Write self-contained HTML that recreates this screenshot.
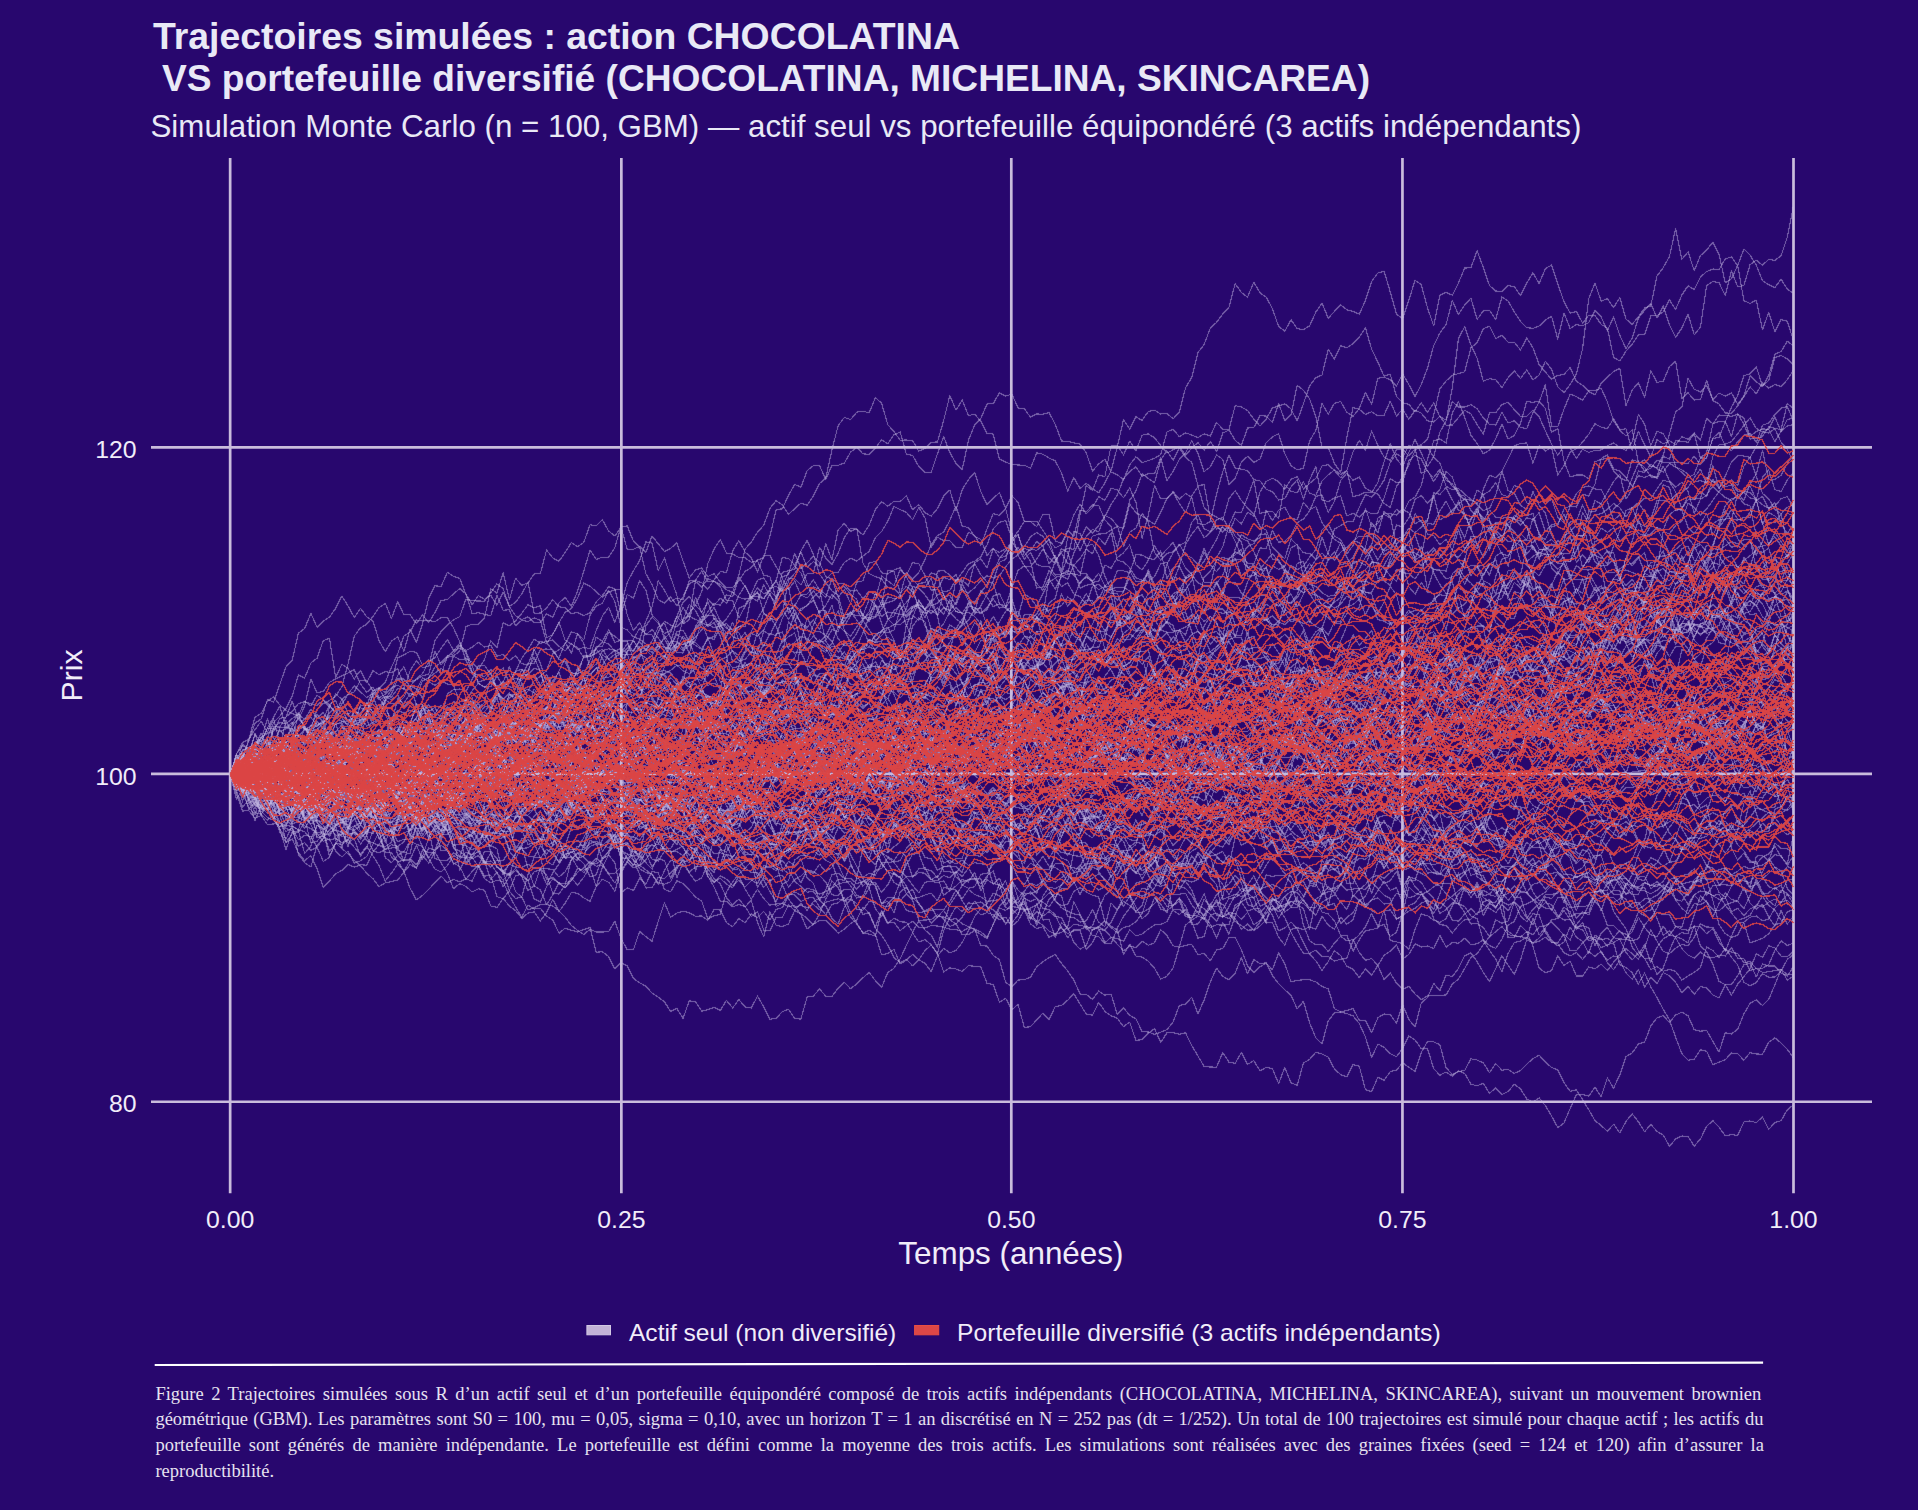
<!DOCTYPE html>
<html lang="fr"><head><meta charset="utf-8"><title>Trajectoires simulées</title>
<style>
html,body{margin:0;padding:0;background:#28076e;}
body{width:1918px;height:1510px;overflow:hidden;position:relative;font-family:"Liberation Sans",sans-serif;}
svg{position:absolute;left:0;top:0;font-family:"Liberation Sans",sans-serif;}
.grid line{stroke:#c9bcdc;stroke-width:2.7;}
.a path,.p path{fill:none;vector-effect:non-scaling-stroke;stroke-linejoin:round;}
.a path{stroke:#c4b8e2;stroke-opacity:0.52;stroke-width:1.15;}
.p path{stroke:#db4545;stroke-opacity:0.95;stroke-width:1.35;}
.cl{position:absolute;left:155.4px;font-family:"Liberation Serif",serif;font-size:18.5px;line-height:25.8px;color:#e6e2f0;white-space:nowrap;}
</style></head><body>
<svg width="1918" height="1510" viewBox="0 0 1918 1510">
<g class="grid"><line x1="230.15" y1="157.9" x2="230.15" y2="1193.3"/><line x1="621.35" y1="157.9" x2="621.35" y2="1193.3"/><line x1="1011.3" y1="157.9" x2="1011.3" y2="1193.3"/><line x1="1402.45" y1="157.9" x2="1402.45" y2="1193.3"/><line x1="1793.5" y1="157.9" x2="1793.5" y2="1193.3"/><line x1="151.0" y1="447.35" x2="1872" y2="447.35"/><line x1="151.0" y1="773.85" x2="1872" y2="773.85"/><line x1="151.0" y1="1101.75" x2="1872" y2="1101.75"/></g>
<defs><filter id="sf" x="0" y="0" width="1918" height="1510" filterUnits="userSpaceOnUse" color-interpolation-filters="sRGB"><feConvolveMatrix order="3" kernelMatrix="0.0072 0.0847 0.0072 0.0847 1 0.0847 0.0072 0.0847 0.0072" edgeMode="none" preserveAlpha="false"/></filter></defs>
<g shape-rendering="crispEdges" filter="url(#sf)">
<g class="a" transform="translate(230.2,774.4) scale(6.20357,0.2)"><path d="M0 0l1 70 1 22 1-85 1 1 1 5 1 25 1-18 1 11 1-107 1-3 1-38 1 6 1 23 1 9 1-2 1-30 1 83 1 43 1 23 1 29 1-16 1 33 1 18 1 99 1-61 1-76 1-26 1-14 1-23 1 41 1-9 1-55 1 25 1-6 1-15 1 59 1 14 1-57 1-2 1 20 1 81 1 61 1-75 1 21 1-20 1 3 1-45 1 0 1 52 1-47 1-16 1 30 1 48 1-24 1 74 1 28 1-31 1 49 1 24 1-46 1 79 1-18 1 62 1 1 1 56 1 54 1-43 1-71 1 12 1 72 1 0 1-1 1 20 1-29 1-69 1 18 1 44 1 77 1 6 1-13 1-26 1-43 1 35 1 50 1-67 1 12 1-9 1 27 1-8 1-23 1-23 1-26 1-75 1-13 1 47 1-60 1 54 1-134 1 55 1 11 1 97 1 17 1-5 1 69 1-15 1 54 1 55 1 18 1 45 1 59 1 24 1 53 1 49 1-32 1 1 1 14 1 21 1-35 1-47 1 5 1 32 1-12 1 11 1 24 1-12 1 44 1-26 1-54 1-9 1-18 1-28 1-31 1 21 1-42 1 1 1-31 1-80 1-65 1-11 1 29 1 52 1-57 1-54 1 60 1 43 1-52 1-27 1-51 1-84 1-51 1 6 1-49 1-78 1 9 1-16 1-1 1-122 1-20 1-1 1 106 1-13 1 19 1 23 1-10 1-51 1 3 1-51 1-1 1 128 1-50 1 39 1-81 1-17 1-3 1 36 1-37 1-27 1-24 1-74 1-25 1 25 1-31 1 51 1 47 1 14 1-78 1-135 1-25 1 50 1-80 1 62 1-24 1-90 1 15 1-104 1 85 1-57 1 67 1-59 1-24 1-29 1-50 1 79 1-10 1-49 1 85 1 20 1-48 1 19 1-40 1 67 1 35 1-60 1 52 1-31 1 149 1-14 1-22 1-33 1 40 1 7 1-14 1 60 1-3 1-38 1-27 1-81 1 94 1-19 1 9 1-41 1 2 1 0 1 111 1-9 1 69 1 2 1 42 1-17 1-10 1-66 1 51 1 22 1-75 1-56 1 60 1-14 1 105 1-38 1 140 1-24 1-14"/><path d="M0 0l1-3 1 57 1 18 1-47 1-8 1 1 1-41 1 86 1-69 1 51 1-4 1-76 1-38 1-23 1-94 1 77 1 8 1 68 1-87 1 51 1-36 1 27 1 44 1 30 1 75 1 10 1 55 1 19 1 82 1-71 1 7 1 10 1-7 1 67 1 40 1 90 1 15 1 27 1 51 1-4 1 64 1 19 1-12 1 7 1 70 1 57 1 51 1-61 1 20 1-3 1 39 1 19 1 66 1-25 1 10 1 9 1-12 1-11 1 124 1-2 1 24 1 61 1-30 1 15 1 63 1 22 1 17 1 35 1 20 1 23 1 48 1-15 1 50 1-88 1 5 1 47 1-8 1-11 1 15 1-50 1 38 1-42 1 37 1 5 1-60 1 54 1 62 1-5 1-32 1-13 1 48 1 1 1-110 1-5 1-35 1 36 1 2 1-42 1-30 1 33 1-25 1-30 1-27 1 41 1 34 1-74 1-22 1-47 1-68 1-62 1 46 1-12 1 26 1 46 1-116 1-65 1-57 1 27 1-44 1 2 1-7 1 22 1 59 1-60 1-33 1-98 1 90 1-34 1-40 1 12 1-23 1-38 1-50 1-1 1 15 1 8 1 8 1-30 1 0 1-7 1 5 1-31 1-102 1 25 1 82 1 19 1 46 1-16 1 33 1 49 1-28 1-77 1 8 1-8 1 6 1-58 1 29 1-7 1 97 1 40 1 52 1-54 1-28 1 49 1-14 1 26 1-47 1 35 1 100 1 47 1 73 1 56 1 50 1 0 1-17 1 34 1-2 1 23 1-9 1-5 1-88 1-29 1-40 1-67 1 65 1-9 1 60 1-21 1-97 1-130 1 31 1 8 1-16 1-24 1-17 1 0 1-1 1-51 1 89 1 11 1-35 1 58 1 22 1 1 1-50 1-109 1-32 1-24 1-37 1-30 1-26 1 57 1 25 1-13 1-75 1 51 1 23 1 32 1 10 1-36 1 2 1 88 1-19 1 11 1 35 1 32 1 10 1-24 1 17 1 2 1-24 1-55 1 49 1 59 1 17 1-42 1-73 1-17 1-95 1-62 1-34 1-9 1 3 1-22 1-38 1-46 1 6 1-11 1-2 1-90 1-86 1-8"/><path d="M0 0l1 38 1-59 1 8 1-148 1-16 1-100 1 97 1 37 1 17 1 105 1 29 1-19 1 43 1-79 1-25 1 49 1-50 1 60 1-7 1 61 1 49 1-46 1-5 1 30 1 91 1-5 1-58 1-56 1 71 1 9 1-34 1-31 1-22 1 37 1 55 1 70 1-36 1-19 1-73 1-53 1 37 1-10 1 32 1 22 1-51 1-80 1 7 1-57 1 28 1 67 1 32 1-19 1-27 1-15 1-9 1 43 1 25 1-39 1 29 1-49 1 6 1 14 1-59 1-32 1-71 1-7 1-15 1-22 1 17 1-44 1 1 1-39 1-16 1-6 1-33 1 58 1 145 1 36 1-6 1-24 1 28 1-80 1 59 1-74 1 45 1 82 1 25 1 69 1-55 1 43 1 9 1-34 1-20 1 0 1 5 1 60 1-98 1-42 1 9 1 110 1 26 1 38 1-3 1 16 1 21 1-43 1-84 1 3 1 67 1-49 1-76 1-64 1 109 1-11 1 2 1-21 1-15 1-26 1 73 1-45 1 11 1 8 1-1 1 75 1-32 1-1 1 33 1 29 1-69 1 6 1 20 1-53 1 46 1-80 1-47 1 25 1-49 1-19 1-49 1-48 1 12 1-54 1-19 1-20 1 33 1-84 1-62 1-22 1-61 1-89 1 89 1 45 1 28 1 36 1 56 1-105 1-35 1 83 1-136 1-35 1-81 1-14 1-98 1-74 1 57 1 27 1 4 1-23 1 32 1 13 1-27 1-2 1 44 1 87 1 65 1 77 1-19 1 65 1 40 1 52 1-11 1 12 1 36 1-88 1-132 1-22 1-71 1 87 1-71 1 43 1-75 1 56 1-17 1 42 1 111 1 50 1-65 1 62 1-87 1 38 1-16 1 25 1 34 1-23 1-201 1-36 1 12 1 103 1 0 1-7 1-73 1 13 1 80 1-21 1 47 1 26 1 4 1 63 1-33 1 22 1 84 1 27 1-9 1 58 1 14 1-40 1-13 1 79 1-20 1-31 1-170 1-3 1 84 1 102 1 17 1-40 1-63 1-44 1-23 1-42 1-61 1-153 1 58 1 43 1-37 1 56 1 104 1-9 1-26 1 10 1 51 1-20"/><path d="M0 0l1-12 1 13 1 0 1-18 1 70 1-10 1-27 1-7 1-42 1 51 1-69 1-7 1-51 1 4 1-59 1 67 1 1 1 5 1 17 1-29 1-40 1-51 1 48 1-14 1-39 1-80 1-41 1 14 1-15 1 10 1 37 1-32 1 22 1 5 1-10 1-22 1 1 1 12 1-27 1 56 1 25 1 24 1-29 1-25 1 22 1-5 1-27 1 34 1-20 1-54 1-1 1-91 1 20 1 17 1 20 1 36 1 11 1-61 1 6 1-4 1-50 1 22 1-71 1 5 1 102 1 26 1 57 1-2 1-97 1-55 1 36 1-55 1-17 1-104 1 77 1 62 1 72 1 13 1-8 1-90 1-36 1-35 1 38 1 17 1-45 1 120 1-46 1-2 1 30 1 102 1-140 1-39 1 43 1 66 1-75 1-40 1-87 1 16 1 15 1 24 1-34 1-29 1 51 1-8 1 115 1 84 1 69 1 17 1 0 1 53 1 62 1-17 1 29 1-16 1 63 1 9 1 26 1-42 1-20 1 16 1-62 1 37 1-30 1 32 1 3 1 14 1 41 1-102 1 96 1-106 1-57 1 75 1-69 1 21 1 20 1-37 1-23 1-56 1 66 1 97 1-1 1-56 1 6 1 16 1-117 1 56 1-41 1-2 1-47 1-9 1-99 1-4 1-29 1 31 1-63 1-81 1 39 1-53 1 25 1 67 1-29 1 10 1-28 1 14 1 68 1 85 1 3 1-43 1-24 1-77 1-96 1-61 1 45 1-11 1-9 1-78 1 79 1 35 1-35 1 31 1-81 1 52 1-34 1-40 1 103 1-67 1-73 1-11 1-11 1-43 1 35 1-39 1 50 1-2 1-46 1-63 1-116 1-28 1 47 1 27 1 41 1-43 1 41 1 86 1 35 1-30 1-87 1 9 1-59 1 44 1-22 1 50 1 47 1 14 1-33 1-17 1-47 1 60 1 88 1 28 1 12 1 3 1-2 1-42 1-14 1-4 1-24 1-6 1 5 1 64 1 17 1 16 1 19 1 40 1 41 1 51 1-27 1-78 1-51 1-117 1-86 1-25 1-10 1-117 1 49 1-96 1-7 1-11 1-36 1 45 1 56 1-72"/><path d="M0 0l1-75 1 13 1-28 1 52 1 29 1-43 1 41 1-29 1 35 1 29 1 36 1-57 1-68 1-4 1 80 1-58 1 39 1-66 1 49 1 48 1-36 1-18 1 27 1 58 1-22 1-70 1 97 1 39 1 100 1 29 1-2 1 100 1-47 1 104 1-5 1 67 1 16 1 64 1-38 1-33 1 56 1-5 1 107 1 11 1-41 1-74 1-9 1 33 1 91 1 16 1-78 1-37 1 20 1 5 1-18 1-59 1 8 1-16 1 98 1-37 1 15 1 45 1-104 1-45 1 32 1-12 1-27 1-48 1-58 1-18 1 10 1-20 1-20 1 30 1-68 1 1 1-4 1-17 1-43 1 29 1 57 1-66 1-59 1 38 1 46 1-11 1 56 1 44 1-17 1 3 1-81 1 20 1 43 1-2 1 38 1-52 1-55 1-36 1 45 1 41 1 21 1 35 1 4 1 85 1 44 1-2 1-5 1-4 1-63 1-33 1 15 1 64 1 7 1 56 1-16 1-7 1 58 1 24 1-9 1-5 1 41 1-57 1-24 1 92 1-43 1 95 1 28 1-7 1 50 1 35 1 21 1 29 1 15 1-35 1 54 1-43 1 1 1-12 1 2 1-2 1 16 1-40 1-63 1-58 1-17 1-7 1 15 1-14 1-27 1-63 1-81 1 29 1 6 1-2 1-114 1 16 1-59 1 2 1 4 1-62 1-104 1-81 1-29 1-66 1-22 1 14 1-75 1-61 1 93 1-86 1 52 1 45 1-84 1-123 1-25 1-119 1 96 1 80 1-89 1-55 1 43 1-24 1-29 1-70 1-34 1 5 1-88 1-12 1 37 1-160 1-17 1 106 1 15 1 45 1 61 1 0 1-88 1-88 1-33 1-129 1-43 1-8 1 45 1-38 1-19 1 26 1 73 1-80 1-101 1 146 1-8 1 25 1-17 1 61 1-16 1-29 1-89 1 22 1-105 1 58 1 50 1-23 1-54 1-39 1-4 1 12 1 14 1 8 1 0 1 5 1 44 1 14 1-69 1-99 1 79 1-27 1-33 1 50 1 46 1 2 1-10 1-17 1 158 1 45 1 57 1 136 1-47 1 38 1-12 1-136 1 1 1-85"/><path d="M0 0l1-40 1 44 1-67 1 39 1-112 1 35 1-11 1-36 1 40 1-58 1 67 1 14 1 43 1-46 1-112 1 65 1-33 1-73 1 32 1-114 1 30 1-67 1 50 1 27 1-89 1 18 1 1 1-34 1-58 1 96 1 1 1 83 1 60 1 7 1 34 1-7 1-13 1 38 1-71 1-67 1-30 1-38 1-46 1 23 1-32 1 42 1 14 1 24 1-100 1 44 1-35 1-10 1 8 1-35 1 35 1 3 1-22 1 31 1 5 1-97 1-27 1-19 1-22 1 76 1-28 1-84 1 21 1 51 1-32 1-25 1-72 1-5 1 37 1-37 1 21 1 21 1-4 1 51 1-65 1-46 1-73 1 91 1-40 1 67 1 124 1-102 1 59 1 18 1 39 1 14 1-37 1-38 1 0 1-83 1 21 1 18 1-32 1 6 1 49 1-7 1 79 1-38 1 80 1 22 1-30 1-3 1 14 1-18 1 22 1 0 1-113 1-38 1-96 1 8 1 50 1 32 1-104 1-51 1 81 1-61 1 30 1-8 1-54 1 51 1 54 1-53 1 16 1-24 1 18 1-50 1 4 1-82 1-25 1-125 1-80 1-129 1 12 1 62 1-10 1 56 1 105 1 66 1 9 1 2 1-105 1 55 1-1 1-38 1 157 1 69 1-21 1-23 1-116 1 72 1-6 1 80 1 84 1 55 1-37 1 10 1-206 1-2 1 6 1 5 1 92 1-114 1-42 1 16 1 22 1-68 1-77 1 22 1-17 1-46 1-36 1-99 1-30 1 60 1 18 1 56 1-50 1-23 1 1 1-12 1 25 1 80 1-21 1-61 1-7 1-28 1-89 1 44 1-12 1-123 1 121 1-18 1-29 1-32 1-26 1 39 1-83 1 23 1 130 1 62 1 43 1-125 1 12 1 9 1 28 1 114 1 22 1-29 1 25 1 24 1-41 1-66 1 132 1-40 1 40 1-72 1 39 1 42 1-92 1-74 1-104 1-13 1-26 1 45 1 37 1-93 1 1 1 6 1-36 1-13 1-22 1-50 1-42 1 72 1-89 1 112 1-43 1 21 1 37 1 5 1 28 1 9 1 26 1 17 1-11 1-37 1-10 1 57"/><path d="M0 0l1-38 1-1 1 53 1-12 1-5 1 44 1-87 1 44 1 21 1-66 1 112 1-12 1 60 1-59 1-66 1 93 1 54 1 30 1 5 1-24 1 53 1 10 1-26 1 3 1-32 1 7 1 37 1 25 1-54 1 24 1-63 1 48 1-7 1 21 1 38 1 31 1 57 1 3 1-15 1 63 1-99 1-26 1-7 1 52 1 85 1 6 1-8 1 36 1 5 1-56 1 42 1-44 1-107 1-27 1 5 1-26 1-14 1-10 1 11 1-11 1 77 1-35 1-52 1 9 1-11 1-2 1 79 1-80 1 23 1-49 1 36 1-42 1-4 1 29 1 23 1 10 1 48 1 31 1 25 1 21 1-24 1 36 1 63 1 17 1-44 1-39 1-10 1-17 1-3 1-4 1 15 1-20 1 67 1-6 1 10 1-44 1 34 1 8 1 0 1-54 1-7 1-54 1 38 1 39 1 15 1-72 1-65 1-24 1-2 1-67 1-5 1-102 1-46 1-54 1-35 1-38 1 20 1 44 1 27 1-7 1 25 1 15 1-13 1 64 1 54 1-14 1-55 1-68 1-26 1-58 1-22 1 101 1-16 1 17 1 149 1 58 1 36 1 92 1 31 1-3 1 50 1-2 1-88 1-55 1-34 1 12 1 54 1-90 1 48 1 72 1 117 1 59 1 34 1-30 1-32 1-19 1-69 1 18 1-51 1-5 1-85 1 67 1-32 1-48 1-56 1 1 1 4 1 37 1 0 1-132 1-4 1-53 1 4 1-22 1 53 1 87 1 6 1 25 1 16 1 2 1-88 1-65 1 7 1-78 1 11 1-55 1-27 1 62 1 0 1 84 1 4 1 65 1 30 1 8 1-73 1-53 1-26 1-8 1 38 1 55 1 26 1 25 1-35 1-16 1-40 1-31 1-36 1-26 1-102 1-24 1 51 1-46 1-6 1-61 1 26 1 51 1-20 1 14 1-3 1 32 1-34 1 36 1-68 1 109 1 32 1 41 1 44 1-33 1 42 1-47 1-3 1 5 1 46 1 95 1 74 1 56 1-43 1-31 1-15 1-1 1 37 1-68 1-55 1 20 1-54 1-81 1 8 1 46 1 51 1-39 1 34 1-5"/><path d="M0 0l1 10 1-15 1-33 1 6 1 19 1 7 1 5 1-67 1-28 1-10 1 13 1 75 1-4 1-1 1 13 1 81 1 22 1 4 1 49 1-33 1-56 1 38 1 4 1-124 1-62 1-34 1-42 1 4 1-75 1 94 1 14 1-31 1 30 1-54 1-123 1 36 1-2 1-47 1-21 1-62 1 19 1 63 1 21 1 40 1 45 1-12 1-31 1-46 1-15 1 23 1-10 1-21 1-5 1-98 1 12 1 21 1-103 1-76 1-56 1-34 1 11 1 36 1-15 1 28 1 92 1 14 1-40 1-22 1-57 1 31 1-55 1-59 1 19 1 77 1-117 1-43 1-52 1-40 1 9 1-52 1 10 1-97 1 46 1 55 1-49 1 30 1-15 1 32 1-46 1 129 1-45 1 31 1-30 1-22 1 61 1-37 1-55 1 31 1 126 1-48 1-74 1 72 1 12 1-91 1-120 1 24 1 24 1-79 1 28 1-64 1 6 1 59 1 73 1-4 1-61 1 13 1-26 1 78 1 14 1-26 1-36 1-24 1 9 1-9 1-45 1-38 1-22 1-32 1 11 1-45 1 22 1 90 1-43 1 79 1-169 1 6 1 60 1-71 1-35 1 12 1-81 1 14 1 37 1 103 1-71 1-20 1-73 1 41 1 154 1 37 1-33 1-8 1-38 1 55 1 12 1 36 1-82 1 82 1-37 1-53 1-107 1-67 1 2 1-77 1-84 1 166 1-7 1-4 1 38 1-171 1 33 1 8 1-54 1 55 1 13 1-74 1-30 1-24 1 22 1-20 1-92 1-58 1 48 1-95 1 72 1 59 1 16 1-52 1-4 1 34 1-36 1 123 1-16 1 57 1-49 1 27 1 46 1 22 1 121 1 68 1 77 1-23 1-64 1 60 1-16 1 33 1-10 1 109 1 16 1 38 1 141 1-26 1-61 1 87 1-14 1 87 1-14 1 15 1 20 1 13 1 8 1 44 1-3 1-54 1-26 1-23 1-32 1-21 1 20 1 89 1-12 1 47 1-98 1 18 1 15 1-20 1 40 1-31 1 73 1-19 1-79 1 104 1-15 1 31 1-20 1 20 1 64 1 43 1-100 1 46 1 27 1-13"/><path d="M0 0l1-12 1 5 1 41 1 45 1 67 1-27 1-38 1 48 1 8 1 62 1-45 1-15 1 0 1-9 1 63 1 46 1 11 1-10 1-6 1-56 1 75 1-81 1-15 1-83 1-10 1 21 1 20 1-36 1-29 1-35 1-39 1 43 1 127 1-13 1-33 1 80 1-28 1-18 1-5 1 21 1 23 1 159 1 0 1-5 1-49 1 108 1-53 1-8 1-45 1 57 1-59 1 37 1 21 1 94 1-8 1 20 1-77 1-75 1-9 1 115 1-49 1-38 1 56 1-16 1 47 1 12 1-30 1 56 1 9 1-48 1-3 1 135 1-75 1-18 1-8 1-12 1 105 1 54 1 71 1 0 1 28 1-11 1 9 1 51 1-25 1 92 1 4 1-67 1 1 1-63 1 27 1-34 1 34 1-44 1-18 1-6 1-80 1 35 1 64 1-7 1 22 1 54 1-8 1 72 1-84 1 63 1-4 1 42 1-25 1-22 1 31 1 3 1-12 1 2 1 6 1 10 1 1 1 11 1-20 1 8 1 14 1 26 1-64 1-59 1 59 1-51 1-27 1 6 1-1 1 76 1-56 1-73 1-28 1 11 1 104 1 4 1 23 1-6 1-56 1 63 1 22 1-118 1 35 1-44 1 21 1 30 1-29 1-100 1-38 1 32 1-95 1 27 1-99 1 13 1-50 1 15 1 24 1 23 1-8 1-15 1 61 1-22 1 49 1 114 1-38 1 26 1-14 1-10 1 13 1 22 1-21 1-11 1-21 1 64 1 39 1 33 1-15 1-117 1-30 1-61 1-57 1-53 1-70 1-92 1 0 1-12 1-6 1 56 1 41 1 43 1 24 1-105 1-56 1-53 1-61 1 8 1 58 1-83 1 103 1 4 1-106 1 49 1 56 1 6 1-13 1-69 1 74 1 78 1 24 1-16 1-64 1-43 1-39 1-14 1-55 1 45 1 80 1 8 1 97 1 23 1-29 1 17 1-11 1 85 1-32 1-30 1 4 1-16 1 53 1-106 1 74 1-54 1-65 1-3 1 13 1-4 1 28 1 41 1 52 1-14 1-78 1-28 1 12 1-53 1 12 1-15 1 9 1-45 1-16 1-23 1 24 1 95"/><path d="M0 0l1-64 1 5 1 24 1 49 1-19 1 72 1 7 1 20 1 23 1 2 1 36 1 51 1 42 1-21 1 14 1-46 1-58 1-94 1 30 1 0 1 28 1-29 1 10 1-23 1 7 1-5 1 3 1 17 1-57 1 35 1 12 1-96 1 113 1 40 1-53 1 6 1 90 1 52 1 53 1 60 1-49 1-88 1 7 1 5 1-65 1-18 1 49 1-24 1-82 1 33 1 21 1-24 1-2 1 0 1-70 1 52 1-91 1-31 1-112 1 14 1 17 1-70 1 4 1-50 1 112 1-29 1 32 1-20 1-84 1-15 1 8 1 31 1 34 1-97 1 18 1-30 1 40 1 38 1 17 1 38 1 60 1 59 1-8 1-8 1 5 1-7 1 53 1-80 1 130 1-49 1 60 1 7 1-77 1 70 1 36 1-53 1-52 1 86 1-17 1-11 1-24 1 24 1-11 1 34 1 44 1-12 1 2 1-30 1 14 1-37 1-35 1-38 1 1 1-62 1-42 1-46 1 40 1 29 1 9 1-61 1 30 1 35 1-12 1 11 1-3 1-56 1-33 1-27 1-55 1 109 1-22 1-26 1-18 1-19 1-4 1-12 1-21 1-62 1-19 1 0 1 16 1 16 1-63 1-6 1 33 1 28 1 110 1 74 1-13 1 10 1 55 1-64 1-51 1 2 1 142 1-44 1-2 1 63 1 25 1-52 1 29 1-56 1-36 1 57 1 47 1 26 1-6 1 40 1 12 1-26 1 21 1 20 1 99 1-66 1 25 1 10 1 41 1 12 1 16 1-64 1-8 1-10 1 33 1 51 1 74 1-44 1 60 1-97 1-67 1-34 1 54 1-55 1 46 1 92 1-37 1 145 1 17 1 20 1 31 1 14 1 42 1-3 1 10 1 26 1-32 1 14 1-18 1-19 1 50 1-14 1 57 1 43 1-37 1-46 1 35 1 32 1 15 1 1 1-49 1 32 1-30 1-30 1 76 1-66 1 48 1-55 1-102 1-60 1 6 1 22 1-54 1-48 1-40 1-103 1-42 1-40 1-64 1-62 1-60 1 104 1-7 1 2 1-25 1 42 1-80 1 14 1-58 1-37 1-14 1-12 1 116 1-9"/><path d="M0 0l1-18 1-17 1 3 1-82 1 51 1 2 1-54 1 75 1-40 1-70 1-85 1-7 1 47 1-71 1 38 1 23 1-9 1-34 1 100 1-103 1 0 1-50 1-63 1-65 1-32 1-75 1-66 1-90 1-20 1-60 1 4 1-3 1 8 1-22 1 0 1 53 1 68 1 94 1 61 1 12 1 8 1-36 1 24 1-32 1 79 1-61 1-65 1-45 1-51 1 21 1-10 1-7 1 32 1 23 1-38 1 31 1-11 1 6 1-91 1-72 1-44 1 75 1-81 1-118 1-58 1-51 1-94 1 7 1 138 1-64 1 96 1 90 1 144 1-22 1-111 1 75 1-51 1 81 1 50 1 70 1 44 1 48 1-7 1-37 1 7 1-113 1 22 1-65 1-65 1 52 1-51 1 75 1 24 1 25 1 50 1 19 1 55 1 3 1-40 1 58 1 14 1 74 1-42 1-102 1 30 1 57 1-110 1 40 1 58 1-68 1-3 1-17 1 90 1-14 1-59 1-53 1-52 1-40 1-108 1-1 1-46 1-43 1-59 1-68 1-40 1-46 1-34 1 86 1 45 1 135 1-5 1-82 1 34 1-9 1 19 1-72 1 40 1 5 1 34 1 94 1-69 1-26 1 170 1 30 1 40 1-56 1-52 1 42 1 18 1 55 1 11 1 1 1-13 1-14 1-20 1-41 1 33 1-25 1 37 1 55 1 10 1-61 1-2 1-10 1-54 1-4 1-70 1-81 1 103 1 7 1 0 1-38 1-96 1 33 1-28 1-8 1 58 1-50 1 47 1-30 1 44 1-67 1 85 1-1 1-58 1 1 1 23 1-80 1 17 1 4 1 27 1-48 1-75 1-34 1 48 1-41 1-27 1-93 1 65 1-97 1-38 1 34 1 16 1 102 1 63 1 8 1-44 1-33 1-1 1-109 1 74 1 58 1 118 1 29 1-65 1 5 1-56 1-64 1-136 1 6 1-43 1-55 1-54 1-37 1 125 1-50 1-91 1 7 1-42 1 23 1 18 1-45 1 20 1 13 1 22 1 39 1-7 1 11 1-132 1-58 1-3 1-13 1-39 1-42 1-38 1 53 1 17 1 6 1-22 1 68 1 36 1 62"/><path d="M0 0l1 72 1-3 1-17 1 2 1-1 1 26 1-19 1 140 1-23 1 1 1-79 1 42 1 43 1-37 1-82 1-25 1 44 1-2 1 0 1 119 1-22 1-72 1 115 1-81 1 103 1-4 1-13 1-10 1-18 1 16 1-34 1 65 1-16 1 23 1-56 1-61 1-27 1-25 1 2 1-32 1-11 1 106 1 59 1 47 1 22 1-18 1 31 1-35 1-46 1-26 1 90 1 49 1 37 1 0 1 2 1 60 1-12 1-80 1 15 1 78 1-19 1 37 1 152 1-24 1 12 1-62 1 32 1-66 1 9 1 82 1 12 1-55 1 13 1 33 1 34 1 22 1 88 1-15 1-8 1-112 1-50 1-39 1-28 1 21 1 1 1 35 1 59 1 51 1-88 1-18 1-103 1-24 1 1 1-24 1 24 1-49 1-18 1-71 1 5 1 8 1 7 1 77 1 61 1-97 1-50 1-69 1 41 1 36 1 8 1 85 1-24 1-54 1 5 1 66 1 112 1 3 1 6 1-40 1-53 1-27 1-64 1-15 1-63 1-20 1 69 1 102 1 36 1 25 1-67 1-16 1 7 1-3 1-1 1-81 1-66 1 102 1 74 1 81 1 83 1 22 1-15 1-58 1 83 1 72 1-52 1 83 1-1 1-16 1-29 1-32 1 47 1-6 1-36 1 77 1 27 1-70 1 19 1 29 1-4 1 18 1-17 1 38 1 21 1 23 1-2 1-39 1-43 1-40 1 64 1-50 1-67 1-100 1-23 1-15 1 28 1 5 1-54 1 36 1-32 1-38 1-41 1-69 1 16 1-3 1-93 1 96 1 67 1 21 1 78 1-12 1-50 1 34 1-41 1 64 1 21 1 13 1-54 1-9 1-63 1 28 1 14 1-3 1 66 1 49 1-2 1-31 1-36 1 47 1 77 1 32 1 48 1-31 1 8 1 57 1 21 1-1 1 50 1-38 1 79 1 6 1 67 1 37 1-20 1 8 1-92 1-59 1-77 1 19 1 16 1-56 1-73 1-18 1 50 1 8 1-44 1-43 1-58 1 38 1-2 1 65 1 23 1 74 1-17 1 35 1-32 1-15 1-48 1 44 1 26 1 49 1-5 1 14"/><path d="M0 0l1 19 1 58 1 17 1 5 1 42 1-18 1 2 1 29 1 59 1-17 1-83 1-13 1-19 1-47 1-36 1 25 1-4 1 19 1-6 1 48 1 50 1 42 1 53 1 10 1 30 1 23 1 92 1 8 1 10 1-152 1-21 1-39 1 35 1 64 1-59 1-9 1-2 1 48 1 88 1-19 1 28 1-3 1 15 1 130 1-55 1-53 1-34 1-82 1-41 1-27 1 24 1-32 1 8 1-34 1 79 1 14 1-27 1-79 1-15 1-3 1 28 1 41 1-107 1 96 1 11 1-32 1-6 1 7 1 0 1-44 1 6 1-73 1 13 1 26 1 8 1 11 1 2 1-17 1-2 1-17 1-15 1-31 1-50 1 66 1 16 1-71 1-61 1-75 1 31 1-8 1 12 1-45 1-43 1-2 1-100 1-16 1-2 1-16 1 24 1-99 1-14 1-9 1-34 1-31 1-93 1 30 1 15 1-45 1-179 1 83 1 17 1 51 1-80 1 114 1 110 1-90 1-50 1 20 1-42 1 72 1-48 1-102 1 1 1-2 1-25 1 28 1 51 1-48 1 4 1-31 1 46 1 88 1-91 1 54 1 47 1-2 1-38 1-81 1 30 1-102 1 47 1-42 1-5 1 13 1-61 1-71 1-14 1 55 1 40 1-145 1-103 1-57 1-38 1-14 1-100 1-38 1 70 1 14 1-60 1-10 1 55 1 63 1 73 1-47 1-14 1-47 1-1 1 128 1 0 1 62 1 45 1-87 1-12 1 116 1 10 1 32 1 18 1-7 1-47 1 18 1-54 1-48 1-58 1-37 1-39 1 46 1-14 1-50 1 30 1-66 1 145 1-23 1-18 1 106 1 57 1 46 1-1 1-30 1 22 1 1 1-4 1 34 1 22 1 100 1 29 1-55 1 7 1-98 1-121 1-23 1 28 1-55 1-10 1 31 1-26 1 76 1 3 1-1 1-7 1 65 1-27 1 56 1 15 1-50 1 96 1 158 1-87 1 26 1-68 1 73 1-38 1-55 1 91 1 20 1-6 1-35 1-5 1-14 1-136 1-67 1-74 1-3 1 5 1 42 1-18 1 28 1 56 1-7 1-44 1 24 1-94 1-51"/><path d="M0 0l1-53 1 21 1 39 1 58 1 0 1 33 1 23 1 52 1-17 1 2 1-18 1 51 1 9 1-67 1-73 1 20 1 80 1-67 1 5 1 13 1-27 1 3 1-95 1-41 1 10 1-47 1 26 1-15 1 56 1-80 1 15 1 69 1-51 1 23 1-61 1-74 1 58 1-70 1 63 1-43 1 38 1 78 1-45 1 19 1 41 1-9 1-42 1-12 1-17 1-6 1 5 1 59 1 64 1 32 1-31 1-26 1-60 1-8 1 57 1-16 1 64 1-31 1 67 1 53 1-46 1-37 1 19 1 10 1 47 1 100 1-4 1-38 1-28 1 41 1 25 1-59 1-37 1-26 1-64 1-90 1 9 1 86 1-41 1 18 1-79 1-29 1-1 1-11 1 51 1-76 1 48 1-69 1-63 1 19 1-13 1 18 1-15 1 102 1 31 1 48 1-35 1 76 1-41 1 93 1-8 1 23 1-13 1 1 1-13 1-103 1 94 1 62 1-2 1-119 1-15 1-7 1-20 1 104 1 108 1-24 1-28 1 35 1 59 1-58 1-11 1 1 1-1 1 81 1-24 1-35 1 104 1-17 1 59 1-104 1-30 1 82 1 45 1 29 1 19 1-52 1-12 1 13 1 18 1 14 1 29 1 4 1-38 1-50 1-64 1-35 1-11 1 6 1 63 1-34 1-44 1 32 1 7 1 29 1-59 1 39 1-7 1-39 1 69 1-23 1 96 1 53 1-10 1 31 1-11 1-84 1 29 1-49 1 61 1-33 1 46 1 20 1-82 1 15 1-7 1 38 1-15 1 46 1 33 1-37 1 36 1 84 1 52 1-25 1 105 1-52 1 10 1 18 1 50 1 29 1 76 1-19 1-33 1 2 1 16 1 47 1 13 1 110 1 49 1 44 1 63 1-92 1-54 1-8 1-19 1 30 1-10 1-20 1 26 1 6 1 45 1 17 1-18 1 36 1-40 1 24 1-27 1 58 1 36 1-47 1 62 1 33 1-50 1 90 1-51 1 32 1-55 1 15 1 34 1 51 1-32 1 41 1-39 1 7 1 35 1 15 1-67 1-1 1-43 1-55 1-8 1 68 1-64 1 10 1 0 1 35 1 15 1-48"/><path d="M0 0l1-51 1-46 1 52 1-80 1 14 1 8 1-36 1-6 1 9 1 95 1 11 1-92 1 18 1-2 1 35 1 19 1 12 1-105 1 32 1 68 1-40 1 42 1 7 1-44 1 39 1-13 1 56 1-12 1 5 1-42 1 58 1-58 1-69 1-30 1 12 1-32 1-81 1-25 1-41 1-47 1 112 1 23 1 12 1 25 1-22 1 45 1 60 1 49 1 33 1 54 1 19 1-71 1 78 1 28 1-69 1 2 1-36 1 26 1 98 1 75 1-61 1 49 1-19 1 17 1-33 1-9 1 27 1-26 1 31 1-63 1-40 1 11 1-65 1-83 1-21 1-18 1-62 1-28 1-81 1 58 1-90 1-62 1-37 1-52 1 50 1 20 1 47 1 114 1-25 1 36 1-15 1-38 1-75 1 4 1-4 1 45 1 3 1 26 1-20 1 28 1 37 1 22 1-56 1 2 1-102 1-39 1-32 1 36 1-55 1-83 1-73 1-54 1-55 1 18 1-40 1-58 1-161 1 13 1-62 1-32 1 56 1 37 1 4 1 105 1 20 1 29 1 13 1-111 1 18 1 42 1-63 1-56 1-21 1 42 1-19 1 56 1 14 1 37 1-90 1-9 1 27 1 20 1-3 1 86 1 45 1-27 1 63 1-70 1-63 1 70 1 3 1-28 1 28 1-13 1 100 1 76 1-59 1-62 1-63 1-93 1 75 1 92 1-3 1-19 1-9 1-29 1-46 1 22 1-24 1 46 1 45 1-11 1 19 1-10 1 25 1 16 1 71 1 41 1-55 1-75 1-65 1-28 1-122 1-108 1 11 1 26 1-13 1-48 1-50 1 28 1 4 1 19 1-167 1 5 1-68 1-49 1 65 1-65 1 88 1 5 1-60 1 88 1 19 1-32 1 5 1 12 1 30 1 36 1 109 1 75 1 42 1 69 1 97 1-107 1-88 1 147 1 41 1-23 1 56 1-8 1 48 1-13 1 18 1 60 1-75 1 8 1-90 1-22 1 8 1-5 1-34 1-14 1 13 1 8 1 37 1-120 1-90 1 17 1-19 1-116 1-31 1 42 1-7 1 20 1-46 1 73 1-69 1-94 1 1 1-45 1 146 1 0"/><path d="M0 0l1-49 1 10 1 133 1-54 1-77 1-6 1-105 1 125 1-43 1-91 1-73 1-4 1 44 1 44 1-42 1 2 1 57 1 95 1-12 1-55 1 50 1-10 1 89 1 6 1 36 1-20 1-60 1-94 1 64 1 0 1 22 1 29 1-3 1-92 1 0 1 8 1 14 1 51 1-66 1-40 1-6 1-6 1 10 1 50 1 58 1-3 1-31 1-34 1-36 1-38 1 73 1-51 1-126 1 11 1 29 1-39 1 85 1 11 1-42 1-71 1 34 1 25 1 51 1 73 1 9 1 125 1-45 1 76 1 24 1 45 1 30 1 10 1-31 1-3 1-6 1-67 1 44 1-2 1-42 1 5 1-36 1 3 1-33 1 109 1-40 1 55 1 97 1-23 1-42 1 10 1-22 1 51 1 1 1 79 1 43 1-55 1-83 1-127 1-19 1 1 1-27 1 59 1 57 1-49 1-40 1 20 1-111 1-37 1 22 1 78 1 81 1 62 1-78 1-49 1 13 1 5 1-19 1 48 1 48 1 29 1-5 1 122 1 17 1 40 1 48 1-7 1 13 1 87 1 86 1 29 1-66 1 47 1 61 1 22 1-7 1-66 1-17 1 21 1 16 1 9 1 125 1 27 1 28 1-28 1-7 1-21 1-41 1-93 1 0 1 72 1 7 1-25 1-25 1 80 1 4 1-33 1 21 1-34 1-32 1 12 1 44 1 26 1 55 1-28 1 35 1-24 1-32 1-54 1-7 1-15 1-15 1-2 1 13 1 29 1 30 1-66 1-19 1-17 1-55 1 31 1-6 1-3 1 5 1-36 1 32 1 33 1 16 1 103 1-17 1-23 1-13 1-26 1-13 1 15 1 26 1-41 1-22 1-28 1-25 1 38 1-39 1 99 1 16 1 21 1-39 1 30 1-52 1-47 1 7 1 34 1 23 1-46 1-1 1-7 1-21 1 25 1 84 1-79 1-13 1-1 1-9 1 37 1-1 1 33 1-104 1 31 1-61 1-5 1 63 1-24 1 13 1 28 1-57 1 12 1 59 1-77 1-26 1-9 1-7 1 69 1-1 1 4 1-58 1 11 1 53 1-11 1-29 1-27 1-31 1 18 1 88 1 35"/><path d="M0 0l1 6 1 31 1 10 1 50 1-25 1 27 1 6 1-75 1 12 1-27 1 9 1 56 1 39 1 59 1-52 1-3 1-69 1 39 1-22 1 127 1 16 1-29 1-21 1 90 1-16 1-49 1-30 1-27 1 50 1-170 1 23 1-95 1-65 1-24 1-24 1-28 1 5 1 26 1-78 1-49 1-2 1 46 1 45 1-104 1-89 1 18 1 86 1-6 1 43 1 21 1-25 1-35 1-7 1 16 1 17 1 53 1-31 1 35 1 55 1 58 1-95 1 43 1-69 1-20 1-94 1 30 1-46 1-51 1-23 1-12 1-45 1 36 1-10 1 23 1-18 1 45 1 71 1-24 1-24 1 87 1 30 1-10 1 0 1 75 1-99 1-118 1 68 1-24 1 84 1 8 1-38 1-48 1-67 1-61 1 10 1 8 1 39 1-35 1 67 1 5 1-36 1-19 1 64 1-46 1-60 1 44 1-133 1-36 1-64 1 16 1 53 1 3 1 150 1-10 1-39 1-70 1-32 1 78 1 22 1-80 1 16 1 19 1-51 1 108 1 27 1 31 1-42 1 26 1 60 1-47 1-33 1 7 1 17 1 4 1 11 1-19 1-60 1-16 1-65 1 37 1 13 1 35 1 57 1 27 1 108 1 1 1-4 1 147 1-25 1 11 1-33 1-10 1 20 1 43 1 32 1-22 1-30 1 43 1 81 1-140 1 28 1-38 1 13 1-2 1-34 1 58 1-89 1-59 1-14 1-41 1-132 1 60 1-35 1-5 1 58 1-41 1-27 1 8 1 25 1-43 1 59 1 73 1-54 1 23 1 59 1-93 1-33 1 12 1-36 1 3 1-31 1-115 1-105 1-33 1-58 1-2 1-20 1-5 1 9 1 8 1-66 1-69 1-47 1-27 1 124 1 56 1-66 1 28 1-22 1 77 1 88 1 55 1 133 1-3 1 19 1 21 1 80 1 35 1-14 1-73 1-43 1-54 1-107 1-97 1-36 1 15 1-117 1 3 1 4 1-58 1 48 1 8 1-31 1-4 1-39 1 46 1-12 1-67 1-30 1 15 1 46 1 104 1 40 1 51 1 52 1-4 1 53 1-69 1-73 1 104 1-8 1 59"/><path d="M0 0l1 61 1-7 1 12 1-27 1-24 1-37 1 33 1-24 1 48 1 41 1 15 1 12 1-5 1 50 1 23 1-90 1 1 1-30 1 19 1-1 1 82 1-7 1 9 1-26 1-10 1-50 1 24 1-19 1-35 1-95 1 95 1-131 1 28 1 68 1 67 1 42 1-18 1 3 1-25 1-128 1 55 1-69 1-26 1 44 1 84 1-23 1-37 1 55 1-13 1 30 1 43 1-100 1-40 1-8 1-10 1-44 1 24 1 40 1-118 1 10 1-76 1-85 1-64 1-40 1 19 1 21 1-96 1-44 1 47 1-28 1-15 1-26 1 5 1-66 1 44 1 31 1 19 1-75 1 126 1-15 1 6 1-72 1-66 1-36 1 50 1-53 1 9 1 61 1-22 1-165 1 39 1-21 1 87 1-87 1-74 1 2 1 63 1-63 1 97 1 62 1-46 1-64 1 46 1 53 1-23 1-37 1-17 1-26 1-54 1-112 1 10 1 32 1 46 1-164 1-4 1 23 1 33 1-46 1-43 1-13 1-22 1-60 1-79 1-34 1-8 1 89 1-20 1 107 1-34 1 7 1-25 1-30 1 103 1-34 1 51 1 9 1-35 1-45 1 23 1-81 1 35 1-60 1 139 1 7 1 30 1 50 1 12 1 6 1-24 1-65 1-5 1 97 1-81 1-107 1-51 1-38 1 56 1-27 1-32 1 31 1-36 1 56 1 28 1 130 1-11 1 19 1-40 1-40 1 43 1 26 1 107 1 5 1-31 1 50 1 7 1 20 1 23 1 24 1-20 1-41 1 20 1-51 1 12 1 9 1 98 1-58 1-78 1 43 1 124 1-34 1-14 1 3 1-31 1-18 1-41 1-43 1-14 1 143 1 30 1-59 1-110 1 11 1 77 1 10 1-66 1-89 1-5 1 26 1-143 1-3 1 54 1-13 1 48 1-52 1 4 1-5 1-90 1 3 1-27 1 126 1 14 1-36 1 50 1 100 1-115 1 40 1-41 1-25 1 114 1-95 1-3 1-8 1 85 1 45 1 95 1-9 1-94 1 49 1-39 1 47 1-35 1 78 1-62 1 38 1-34 1 33 1 4 1-29 1 23 1-35 1 8 1 100"/><path d="M0 0l1 43 1 35 1-20 1 8 1-74 1 3 1 33 1 96 1 29 1 3 1-24 1 18 1 66 1 2 1-76 1-15 1-22 1 10 1 19 1-71 1-11 1-30 1 9 1 52 1-7 1-41 1 3 1 62 1 19 1 62 1-157 1 97 1-50 1-76 1-49 1 50 1-69 1-60 1-16 1-20 1 36 1-10 1 20 1 41 1 91 1 11 1 34 1 17 1-74 1-79 1 28 1-14 1 68 1-5 1 76 1 37 1 40 1 61 1 2 1-16 1 49 1 14 1 35 1 3 1-38 1-37 1 54 1-3 1-40 1-41 1 17 1-68 1-46 1 67 1 146 1 20 1-31 1 34 1 37 1 72 1 32 1-11 1-25 1-7 1 81 1 57 1-41 1 135 1-15 1 15 1-4 1 47 1 70 1-24 1-19 1 0 1 29 1 35 1-20 1-28 1-19 1-64 1 32 1 75 1 34 1 49 1 63 1 24 1-15 1 32 1-30 1-46 1-28 1 40 1 95 1-21 1 6 1 12 1-28 1 2 1 3 1 83 1 6 1 88 1-20 1 58 1-27 1 115 1-3 1-34 1-35 1 33 1-65 1-5 1-27 1-32 1 51 1 51 1 5 1-64 1 45 1 22 1 12 1 42 1-22 1 91 1-4 1-32 1-23 1 69 1-48 1-1 1 8 1-7 1 64 1 52 1 53 1 2 1 1 1-73 1 48 1 6 1-55 1 60 1-19 1 51 1-17 1 6 1 75 1-81 1 77 1 13 1-112 1-18 1-36 1 9 1 16 1 59 1 28 1 12 1-62 1 8 1 117 1 10 1-72 1 16 1-44 1-7 1-37 1 23 1 19 1-94 1-54 1 1 1 15 1 114 1 35 1-15 1-6 1-58 1 6 1 15 1 48 1-45 1 33 1-4 1 20 1-14 1-32 1-28 1-17 1 34 1 27 1 12 1 63 1 45 1-8 1 49 1 51 1 54 1 25 1 28 1-35 1 44 1-58 1-38 1 40 1 50 1-37 1 35 1 18 1 56 1-36 1-15 1 2 1 49 1-36 1-63 1-29 1 33 1 43 1-6 1 4 1-67 1-5 1 8 1-28 1 62 1-34 1-10 1-54 1-25"/><path d="M0 0l1 52 1-81 1-7 1 61 1 26 1 37 1 102 1-55 1-32 1 8 1-68 1 106 1-34 1 3 1 61 1-82 1-56 1-57 1-87 1 5 1-25 1 10 1-17 1 6 1 10 1-25 1-5 1-69 1-31 1-110 1 103 1-49 1 123 1-53 1 38 1-73 1 17 1 102 1-27 1-84 1-36 1-16 1-102 1 31 1 93 1-16 1-112 1-10 1 16 1 26 1-59 1-50 1 15 1 70 1 94 1 0 1 22 1 54 1-40 1-20 1-64 1-16 1-95 1-18 1 27 1 31 1 28 1 16 1 49 1 9 1-23 1-52 1-86 1 32 1 93 1 105 1-8 1-62 1-88 1-29 1-38 1 40 1 15 1-16 1-36 1 58 1 18 1-73 1-24 1 19 1-2 1 54 1 79 1 34 1-38 1 65 1-77 1-80 1 18 1 40 1 29 1 33 1-32 1-98 1-19 1-56 1 40 1-13 1-108 1-125 1-42 1 20 1 149 1 25 1 108 1-61 1-22 1 15 1-13 1-46 1 26 1 41 1 16 1-107 1 43 1-50 1 9 1 107 1-5 1 0 1 17 1 41 1 5 1 34 1-20 1 38 1-37 1 39 1 34 1-14 1 15 1-41 1-64 1-48 1-3 1-55 1 36 1-37 1 100 1-25 1-9 1-6 1 55 1-117 1-20 1 60 1-14 1 99 1 16 1-33 1-39 1 19 1-81 1 18 1 116 1-18 1-7 1 4 1 33 1-17 1-3 1-1 1 70 1 2 1 22 1-12 1 36 1 19 1 57 1-6 1-86 1 37 1 20 1-8 1 30 1-36 1-72 1 63 1 151 1 43 1-20 1-22 1-120 1-63 1 4 1-27 1 72 1 28 1 2 1-42 1 55 1 7 1-30 1 3 1-32 1 27 1-10 1-66 1-15 1-30 1-60 1 8 1-8 1-59 1-7 1 38 1 5 1-87 1-28 1-53 1 54 1-70 1 50 1-55 1 17 1-23 1 11 1 3 1-29 1-106 1-79 1 27 1 79 1 77 1-14 1-61 1-39 1-44 1 78 1-10 1-27 1 59 1 22 1 78 1 5 1 50 1 79 1 6 1-20 1-20 1-18 1-101"/><path d="M0 0l1 55 1-19 1-41 1-33 1 73 1-67 1-40 1-92 1 3 1-7 1-73 1-39 1-4 1 34 1-9 1-48 1-33 1 12 1 67 1-53 1 9 1-47 1 40 1-19 1-57 1 14 1-24 1 58 1-29 1 43 1 112 1 12 1-39 1 89 1 68 1 22 1-40 1-65 1-95 1-13 1 7 1 69 1 92 1-27 1 47 1 42 1 17 1-6 1 35 1 122 1-7 1 73 1-58 1-28 1 42 1-9 1 62 1 27 1 16 1-8 1 11 1-39 1 12 1-76 1 82 1-92 1-26 1-39 1 67 1 98 1 31 1 46 1 44 1-55 1 12 1 37 1 14 1 36 1-4 1 10 1 42 1-53 1-41 1 15 1-22 1 1 1 31 1-2 1-67 1-8 1-10 1 0 1-20 1 55 1 8 1 26 1 46 1-10 1 36 1-70 1 31 1-80 1 20 1-46 1-10 1 116 1-137 1-28 1 25 1-28 1-21 1 3 1 104 1 51 1 84 1-12 1 17 1-20 1 26 1-12 1 4 1 6 1 97 1-29 1 73 1 69 1 2 1-27 1 77 1 25 1-129 1-47 1 8 1-17 1-51 1-10 1-11 1 29 1-48 1 15 1-32 1 66 1-40 1-90 1 68 1-16 1-28 1 29 1 48 1 56 1-63 1 35 1-18 1-97 1 98 1-54 1-4 1-55 1 28 1 33 1-39 1 28 1 90 1 65 1-14 1 87 1-16 1-26 1 38 1 6 1-53 1-30 1-77 1-24 1 53 1 17 1 108 1-10 1 101 1-31 1-24 1-58 1-23 1-70 1-102 1-10 1-9 1-14 1 63 1-18 1 23 1-65 1-2 1-19 1 23 1-79 1 35 1 18 1-62 1 4 1-61 1-20 1-27 1-111 1 31 1-27 1-12 1-58 1 61 1-21 1 59 1 14 1-17 1-60 1-17 1 37 1 37 1 5 1-4 1 42 1 41 1 57 1-33 1 13 1-18 1 25 1 66 1 30 1 10 1-28 1 22 1 77 1-4 1-58 1-2 1-43 1 67 1 56 1 31 1-9 1-10 1 35 1-18 1-24 1 13 1-13 1-7 1-20 1-90 1 28 1 1 1 21"/><path d="M0 0l1-24 1-63 1-80 1-89 1-21 1-97 1 12 1-88 1-88 1-33 1-136 1-22 1-76 1 69 1-29 1-22 1-43 1-62 1 50 1 57 1-46 1 43 1 20 1 99 1 55 1-52 1-22 1 72 1-110 1 66 1-93 1-128 1-62 1 3 1-70 1 19 1 11 1 79 1 52 1-45 1 18 1-19 1 49 1-65 1 72 1-22 1-42 1-57 1 156 1-3 1-25 1-42 1 36 1 5 1 29 1-6 1 16 1-14 1-54 1-32 1-44 1 10 1 126 1-98 1 19 1-88 1 48 1 124 1 31 1 86 1-30 1-79 1 33 1-51 1-39 1 34 1 74 1-21 1 69 1 92 1 146 1 11 1 58 1 21 1-18 1 53 1 40 1-28 1-38 1 43 1 36 1 18 1 129 1 20 1-34 1 72 1 30 1-30 1 36 1-24 1 26 1 54 1-69 1-99 1-6 1-39 1 12 1 17 1 21 1-30 1 2 1-7 1 7 1 7 1 33 1 67 1 155 1-41 1 61 1-50 1-7 1 41 1-34 1 45 1 41 1-54 1 34 1 28 1 47 1-48 1-42 1-9 1-2 1 85 1 6 1 3 1 84 1-97 1-5 1-18 1 16 1-8 1-9 1-38 1-2 1 10 1-39 1 21 1-15 1 13 1-20 1-53 1-91 1-73 1-2 1-13 1 57 1 19 1-1 1 23 1 23 1-119 1 41 1 3 1 75 1 21 1 4 1-46 1-15 1-113 1 5 1-91 1-58 1-28 1-73 1 28 1-36 1 56 1 96 1-7 1-28 1-26 1 16 1 41 1 0 1-35 1-82 1-12 1-20 1-20 1 3 1 3 1-31 1 93 1-142 1 29 1-134 1-11 1 41 1 91 1 11 1 70 1 21 1-81 1-31 1-42 1-6 1-18 1 74 1-56 1-33 1 64 1 71 1-45 1 1 1-8 1-26 1 9 1-25 1 4 1-81 1 26 1 64 1-24 1-42 1-33 1-4 1-37 1 26 1-4 1-45 1 39 1-53 1-41 1 8 1 30 1 15 1-13 1-68 1-3 1-36 1-33 1-113 1 44 1 28 1-41 1-12 1 72 1-10 1 27 1 19 1 25"/><path d="M0 0l1 9 1 0 1 135 1-23 1-46 1 60 1-126 1 33 1 30 1 10 1-24 1 23 1-33 1 29 1-53 1-46 1-12 1-25 1 1 1 4 1-4 1 35 1 7 1 66 1-41 1 47 1-5 1 23 1-7 1-39 1-41 1-12 1 22 1 62 1-67 1-58 1-7 1-26 1-11 1-9 1 63 1 46 1 4 1-57 1-42 1 80 1 80 1 44 1 66 1-2 1-5 1 83 1-21 1 21 1-64 1-24 1 58 1 12 1-37 1 6 1 85 1 73 1-45 1-34 1-39 1 2 1 26 1-47 1 12 1-65 1-3 1 7 1-38 1-4 1 69 1-4 1 2 1 46 1-68 1 21 1-46 1-44 1 77 1-31 1-8 1-1 1-74 1-43 1-15 1-47 1-70 1-40 1-62 1 45 1 41 1 23 1 24 1-90 1 47 1-73 1 21 1-72 1-65 1-24 1-49 1-80 1 2 1 16 1-56 1 4 1-58 1 41 1 21 1-121 1-24 1 4 1 25 1 47 1-37 1 72 1-33 1-60 1 34 1 126 1-27 1 16 1 86 1 23 1 43 1 39 1 5 1 7 1 35 1 18 1-12 1 30 1 83 1 138 1-61 1-97 1 36 1-48 1-12 1-10 1 30 1-12 1 41 1-34 1 25 1 19 1 9 1 126 1 2 1-12 1-88 1-87 1 52 1-14 1 110 1-90 1-58 1 37 1-19 1-27 1-77 1 83 1-8 1 6 1-48 1 41 1-30 1 74 1 4 1-11 1 37 1 63 1-74 1 47 1 96 1 15 1 57 1 54 1 30 1 120 1-45 1 23 1 57 1-42 1-45 1 40 1-37 1-42 1 50 1-23 1 80 1-21 1-49 1-23 1 104 1-14 1 31 1-46 1-106 1 51 1 90 1-89 1-31 1-17 1-12 1-32 1 60 1 33 1 23 1 27 1 39 1-5 1 9 1 0 1-76 1 25 1 12 1-48 1 28 1-68 1-14 1-87 1-56 1-65 1 36 1-56 1-46 1-10 1-76 1 6 1 54 1 7 1-6 1-74 1 24 1-28 1-46 1-18 1 40 1-32 1-114 1-2 1-38 1-55 1-44 1 13 1 68 1 53"/><path d="M0 0l1-88 1-21 1 35 1-8 1-56 1-37 1 62 1-42 1-47 1 37 1 70 1 12 1-45 1-11 1 84 1-37 1-54 1-42 1 71 1-4 1 8 1 76 1 97 1-5 1 28 1-32 1 70 1 28 1-66 1 14 1-30 1-60 1-56 1 38 1-22 1-30 1 28 1-22 1 17 1 34 1-82 1 97 1-35 1 26 1-69 1 31 1 7 1-51 1 113 1 32 1 22 1 20 1 69 1 18 1-102 1-28 1 59 1-15 1-18 1-16 1-39 1-8 1-16 1 25 1-13 1-41 1 11 1 48 1-9 1 15 1-88 1 30 1-63 1-119 1-16 1 62 1-74 1-86 1 21 1 34 1-28 1 9 1 11 1-10 1 48 1-79 1 13 1-50 1 87 1-135 1 20 1-43 1 90 1-53 1 34 1-82 1-61 1-19 1 15 1-78 1-32 1-38 1-35 1 54 1 1 1-3 1 14 1 17 1-46 1-161 1 23 1-55 1-46 1 75 1-37 1 15 1-40 1-94 1 60 1 92 1-42 1-58 1-65 1-95 1-14 1-98 1-42 1-50 1 2 1-3 1 46 1 47 1 40 1-15 1-65 1-85 1-53 1 48 1-32 1-54 1 19 1-61 1 9 1 39 1-49 1 72 1 180 1-117 1-147 1 66 1-2 1-34 1 39 1-30 1 21 1 128 1 9 1-17 1-139 1-111 1-82 1 64 1 6 1 7 1 46 1 5 1 43 1 11 1 42 1-7 1-59 1-35 1 98 1-98 1-66 1 167 1 8 1-18 1-11 1 101 1-14 1 19 1-31 1 15 1-4 1-75 1-98 1 21 1 0 1-109 1-28 1 19 1 62 1 31 1-43 1 86 1 18 1-7 1 30 1 23 1 27 1 31 1-11 1-66 1-121 1 98 1 12 1 62 1 20 1-89 1 68 1 39 1 111 1 46 1 77 1 9 1-102 1 133 1-46 1-24 1 72 1 147 1 52 1 14 1-7 1 37 1 60 1-16 1-53 1 34 1-46 1-40 1-41 1-71 1-70 1-21 1-67 1 89 1-101 1 9 1-21 1-21 1 11 1-21 1-1 1 146 1 14 1 52 1 64 1 40 1-52 1 36"/><path d="M0 0l1 5 1-55 1 20 1 17 1 4 1-80 1-150 1 3 1 0 1-25 1 70 1 23 1-79 1 7 1-32 1-78 1-20 1 78 1 18 1 41 1 61 1 61 1-12 1 3 1-7 1-69 1 79 1 76 1 45 1 32 1-20 1-45 1 84 1 9 1-96 1-111 1-89 1-52 1-13 1 47 1 20 1 14 1-69 1-4 1 24 1 7 1 28 1-25 1 37 1-24 1 32 1-53 1 43 1-64 1 6 1 43 1 21 1 104 1-82 1 103 1-38 1 44 1-12 1-27 1-69 1 38 1 4 1-78 1-50 1 33 1-10 1 89 1 27 1 28 1-70 1 5 1-55 1-12 1 7 1 64 1-78 1 40 1 28 1 39 1 136 1-7 1 8 1-61 1 63 1-70 1-35 1 35 1 57 1-24 1-28 1-1 1 8 1 84 1 35 1-48 1-19 1-3 1-93 1-55 1 149 1-14 1 48 1-26 1-125 1-105 1-67 1-59 1 69 1-65 1 16 1-74 1-25 1-17 1-23 1 85 1-92 1-42 1-22 1-45 1 30 1-20 1-18 1 97 1 8 1 19 1 102 1 17 1-111 1-24 1 27 1-4 1 53 1 6 1-53 1 57 1 5 1-36 1 79 1 30 1-32 1-31 1-55 1-21 1-25 1 21 1 89 1 4 1-47 1-22 1-36 1-84 1-21 1 29 1 66 1 101 1-23 1-18 1 72 1-10 1 30 1 23 1-8 1-6 1-3 1-18 1-36 1 79 1-38 1 88 1 50 1 33 1 12 1-111 1 18 1 128 1-55 1 97 1-30 1 48 1 31 1 33 1 6 1 60 1-75 1 29 1 27 1-36 1-35 1 2 1 33 1 46 1 36 1-16 1-49 1 18 1 50 1-44 1 9 1 43 1-74 1-3 1-122 1-2 1-125 1 50 1-57 1 18 1 50 1 13 1 2 1 14 1-10 1-76 1 23 1 131 1 95 1-81 1 1 1-15 1-35 1-87 1-28 1 95 1 46 1 3 1 53 1 40 1-70 1 7 1 75 1 84 1-13 1-75 1 48 1 46 1 18 1-41 1 9 1-7 1 46 1-89 1 37 1 3 1 18 1-7 1 10 1 4"/><path d="M0 0l1 9 1-7 1 21 1 83 1 98 1 46 1-2 1-11 1 22 1-80 1-91 1 2 1-1 1-68 1-86 1 66 1 114 1 14 1 29 1 57 1 68 1 49 1 9 1 16 1 3 1-21 1-99 1-11 1-62 1 57 1-48 1 57 1 50 1 16 1 1 1-25 1 20 1 148 1-42 1-13 1 56 1 3 1 44 1 38 1-36 1 94 1 26 1 65 1-11 1-17 1 2 1-50 1-61 1 27 1-38 1-41 1-23 1-29 1 22 1-4 1 44 1 44 1-52 1-52 1-68 1 57 1-34 1 67 1-38 1 7 1 90 1-63 1-7 1 38 1-25 1-5 1-28 1-107 1 31 1-92 1-74 1-86 1-43 1-30 1 15 1 33 1 42 1 42 1 16 1 65 1-10 1 39 1-38 1-21 1 3 1 46 1 17 1-23 1 39 1-8 1-40 1-53 1 61 1-33 1-42 1-28 1-30 1 63 1-11 1 46 1 14 1 35 1 34 1-6 1 1 1 8 1 33 1-73 1-33 1-45 1 54 1-2 1 62 1-65 1-88 1 21 1-25 1 21 1-14 1 51 1 27 1 11 1 33 1 89 1 43 1-45 1-46 1 109 1-6 1 30 1-85 1-13 1 7 1-47 1 53 1-24 1 9 1 55 1-45 1 16 1 14 1-4 1 71 1 23 1-71 1 45 1-5 1-52 1-42 1-56 1 39 1-54 1 74 1-19 1-45 1-10 1-12 1-10 1 3 1 46 1 90 1-37 1 9 1-35 1 6 1 0 1 42 1-63 1-80 1 25 1 2 1 35 1 51 1 24 1-99 1 81 1 38 1-23 1-30 1 73 1-35 1 16 1-12 1-63 1-42 1 101 1 5 1 31 1 75 1-27 1 19 1-49 1-20 1 0 1 45 1 1 1-5 1-60 1-58 1 27 1 1 1 3 1-89 1-55 1 42 1-61 1-88 1 11 1-23 1 64 1 33 1-73 1-44 1-97 1-2 1 67 1-37 1-23 1-62 1-45 1 0 1-130 1-50 1-43 1 2 1-107 1 45 1 139 1-51 1 33 1 16 1-24 1-2 1-18 1-12 1 55 1 31 1 4 1-14 1 58 1 11 1 62"/><path d="M0 0l1-4 1-19 1-9 1-57 1 70 1-44 1-67 1-8 1-131 1 69 1 10 1-37 1 10 1-8 1-29 1-32 1 6 1-41 1 22 1-28 1-6 1 10 1 46 1-49 1-45 1-31 1-75 1 0 1 36 1-37 1-26 1-58 1-22 1-46 1-44 1 53 1-10 1 17 1 70 1 89 1 18 1-1 1-54 1 52 1-23 1-51 1-12 1 47 1-22 1 55 1-53 1 62 1 30 1-12 1-15 1-36 1-28 1 4 1-40 1 53 1-5 1-20 1-16 1-95 1-4 1-44 1 46 1-48 1-70 1-19 1 75 1 70 1 4 1-77 1-47 1-38 1-108 1 32 1-36 1 26 1-58 1-85 1-129 1-34 1-51 1-33 1-85 1-39 1 22 1 46 1-27 1-29 1 11 1-46 1-62 1-28 1-140 1-122 1-41 1 11 1-37 1-5 1 8 1-76 1 28 1 107 1 35 1 43 1-1 1 3 1 53 1-15 1-30 1-1 1-106 1-126 1 73 1-51 1 78 1-7 1 36 1 61 1 2 1 125 1 16 1 11 1 3 1 1 1 15 1-77 1 7 1 19 1 15 1 59 1 91 1-66 1 54 1-27 1 28 1 20 1-50 1-60 1-119 1-137 1 48 1-62 1 18 1-45 1-6 1 19 1-3 1 27 1-34 1-121 1-52 1-124 1-41 1-82 1-28 1-43 1-33 1-118 1 45 1 22 1-74 1 53 1 22 1 57 1 89 1 24 1-57 1 44 1 6 1-20 1-69 1-45 1 76 1-34 1-33 1 25 1 8 1 14 1-69 1-95 1-42 1-9 1 104 1 110 1 24 1-94 1-99 1 23 1 115 1 90 1-153 1-14 1 14 1-62 1-74 1-1 1-86 1 85 1 90 1 27 1 2 1-30 1 7 1 44 1-63 1-51 1 54 1-75 1-18 1 95 1 88 1 58 1-9 1 59 1-40 1 1 1 45 1 19 1 146 1 18 1-49 1-36 1-45 1-2 1-94 1-1 1-19 1-60 1 48 1-72 1-46 1 19 1-63 1-27 1-13 1 2 1-52 1-11 1 44 1-83 1 31 1 50 1 77 1 20 1 15 1-42 1 49 1 22"/><path d="M0 0l1 34 1 78 1-131 1 37 1 48 1 23 1 15 1 18 1-43 1 2 1-33 1 76 1 2 1-5 1 60 1-79 1-16 1-37 1 7 1-49 1-31 1 32 1-9 1 96 1 51 1 94 1 45 1-69 1-34 1 37 1-26 1-82 1 13 1 9 1 12 1-42 1 29 1-60 1-28 1 35 1 42 1 13 1-16 1-4 1-5 1-60 1-44 1-13 1-46 1 28 1-39 1-40 1-20 1-15 1-14 1-66 1 5 1-57 1 65 1 0 1-35 1-78 1-47 1-173 1-20 1 46 1 42 1 97 1 36 1 12 1 25 1-97 1 23 1 49 1-70 1 5 1 64 1 10 1-30 1 25 1-67 1-22 1 8 1-13 1 21 1 2 1-45 1-15 1-8 1 59 1-62 1-197 1 31 1-2 1-39 1 22 1 55 1 8 1 7 1 8 1-45 1 14 1-70 1 14 1-56 1-55 1-49 1-26 1 60 1-31 1-52 1 44 1 97 1 12 1 18 1 19 1-20 1 7 1 79 1 5 1 16 1-60 1-32 1 147 1-38 1 10 1 22 1-18 1 28 1 1 1-27 1 38 1 13 1-28 1 22 1-90 1-18 1-2 1-10 1-80 1-1 1-69 1-48 1 154 1 3 1-39 1-35 1 49 1-29 1 49 1-30 1 52 1-65 1 25 1-95 1 76 1 31 1-22 1-7 1 40 1-34 1 56 1 47 1 38 1 61 1-10 1-44 1 42 1-2 1 70 1-6 1-44 1-37 1 38 1 60 1 8 1-44 1 5 1 29 1-59 1 56 1 19 1-29 1-101 1 58 1 13 1-34 1-45 1-49 1-30 1 72 1-10 1 71 1 50 1 45 1 82 1 65 1-4 1 6 1 121 1-103 1-32 1-41 1 40 1-47 1 33 1-35 1-31 1 14 1 19 1 126 1 18 1 12 1 88 1-18 1-66 1 24 1-48 1 5 1 72 1 67 1-15 1-78 1-34 1-13 1 36 1 110 1 3 1-36 1-36 1-33 1 4 1 32 1-10 1 48 1-35 1 62 1-11 1-58 1-47 1 48 1 33 1 110 1-31 1-12 1 9 1-35 1 114 1-40 1 133 1 9 1-27"/><path d="M0 0l1 36 1-24 1 6 1-10 1 11 1-87 1-21 1-41 1-29 1-32 1-100 1 54 1 76 1-10 1 36 1 38 1-65 1 25 1 26 1 11 1-24 1-31 1 80 1-16 1 49 1-10 1-9 1 21 1-29 1-7 1 50 1 54 1 16 1 13 1-38 1 0 1 55 1-24 1-79 1 80 1-6 1 98 1-46 1 63 1 103 1-48 1-9 1 89 1-69 1 4 1 46 1 81 1-27 1 91 1-37 1 34 1 28 1 66 1-10 1-86 1-31 1-27 1 15 1 46 1 38 1-54 1 38 1 33 1-74 1-82 1-10 1-52 1 31 1-100 1-47 1-37 1-71 1 52 1 122 1 34 1 55 1 42 1-21 1 32 1-29 1-15 1 38 1 94 1-47 1-10 1-34 1-55 1-17 1 66 1 52 1 39 1 15 1 80 1 4 1-76 1 49 1 57 1-34 1-50 1-148 1 20 1-79 1-42 1-64 1 31 1 26 1-29 1 9 1 101 1 54 1 52 1-69 1-35 1 34 1 30 1-53 1 24 1 23 1 4 1-50 1-86 1 43 1-53 1 20 1-15 1 87 1 2 1-62 1-88 1 28 1 85 1 38 1 101 1-37 1 92 1-18 1-24 1 8 1 60 1-26 1 21 1-23 1-26 1-71 1 38 1-34 1 5 1-5 1-59 1 29 1-82 1-8 1-28 1-11 1 1 1 8 1 54 1-55 1 45 1-10 1-35 1 92 1-34 1 3 1-45 1-76 1-9 1-36 1 23 1-19 1 44 1 40 1 24 1 89 1-83 1-106 1 11 1-27 1 23 1-17 1 67 1-29 1-64 1 2 1 32 1-17 1 18 1 62 1 27 1-30 1 26 1-2 1 45 1-60 1-61 1 51 1 88 1-112 1-47 1 38 1 2 1 19 1-120 1 60 1 40 1 18 1 16 1 23 1-31 1-71 1-21 1-61 1 73 1 17 1-32 1 4 1-8 1-16 1 31 1-30 1-1 1-16 1-44 1 90 1-22 1-63 1 8 1 27 1 14 1-20 1-131 1-22 1-32 1-118 1 9 1-1 1-33 1-23 1 25 1-39 1 84 1 56 1 0 1-43 1-33 1 40 1 87"/><path d="M0 0l1 43 1-99 1-55 1-34 1-61 1 69 1-93 1-30 1 7 1-26 1-23 1 28 1-52 1 45 1-28 1 49 1 11 1-14 1-5 1-20 1 83 1-2 1 35 1-28 1 27 1 11 1-2 1-21 1-61 1-37 1-48 1 18 1-22 1 66 1-133 1-21 1-4 1 12 1-60 1-69 1-1 1 44 1 81 1 95 1 15 1-59 1-35 1 32 1 37 1-27 1 85 1-16 1-56 1-47 1-65 1-55 1-71 1-11 1-31 1 47 1 69 1-72 1-20 1-25 1-36 1 32 1 100 1 28 1-1 1 13 1 80 1 42 1 25 1 21 1-54 1-55 1-81 1 24 1 72 1-152 1 40 1-8 1-4 1-13 1-78 1 52 1 78 1-93 1-72 1-43 1-93 1 48 1 23 1-38 1 49 1-89 1 59 1 76 1 35 1-2 1 6 1-69 1-77 1-5 1-77 1 90 1-14 1-67 1 118 1-100 1 4 1 30 1-16 1 25 1-106 1 89 1 37 1 22 1-85 1 5 1 28 1-28 1-43 1 46 1-4 1-43 1 98 1 88 1 29 1 112 1 64 1-37 1-32 1-26 1 90 1 86 1-19 1 68 1-20 1 110 1-26 1-94 1-8 1 57 1 57 1 54 1 63 1 12 1-79 1-8 1 69 1-90 1 96 1-28 1 18 1-46 1 31 1 66 1-22 1-2 1 32 1 38 1 76 1-17 1 58 1-39 1-26 1-73 1-55 1-36 1-4 1 44 1-16 1 58 1-5 1 74 1-59 1 20 1 32 1 33 1-12 1 2 1 48 1 11 1 10 1-30 1-5 1-44 1-9 1 30 1-38 1 5 1 41 1-34 1 83 1-53 1 40 1-50 1 9 1 26 1-30 1-49 1-105 1 140 1-15 1 35 1 36 1 20 1 132 1 18 1 104 1 30 1 61 1-59 1-10 1 19 1 29 1-65 1 3 1 36 1 2 1-75 1-29 1 16 1 48 1-98 1-62 1 60 1 31 1 109 1 12 1-39 1-4 1-91 1 42 1 28 1-20 1-10 1 43 1 40 1 44 1-42 1-75 1-132 1-63 1 113 1 94 1-26 1-19 1 33 1 25 1-18"/><path d="M0 0l1 0 1-71 1 17 1 58 1 11 1 32 1-31 1-12 1 40 1 35 1 126 1-30 1-100 1-9 1 5 1 91 1 38 1-141 1-39 1 63 1 13 1 53 1-39 1-1 1 75 1 81 1-4 1 10 1-29 1 45 1 76 1 58 1 52 1 15 1-31 1-52 1 20 1-37 1 14 1-42 1-29 1-63 1-28 1 10 1-43 1 3 1-59 1-11 1-3 1 3 1-13 1-36 1-44 1 20 1 26 1-94 1 20 1-102 1-21 1-65 1-14 1-4 1 60 1-18 1 3 1 122 1-73 1 37 1 46 1-71 1-23 1 26 1 18 1-8 1 25 1-39 1-19 1 58 1-30 1-19 1-15 1-37 1 45 1-76 1-73 1 55 1-94 1-31 1-44 1-29 1 98 1 13 1 8 1 15 1 87 1 33 1 1 1 34 1-21 1 36 1-22 1 96 1-11 1-5 1 11 1 4 1 10 1 79 1 64 1 72 1-67 1-73 1 32 1 3 1 2 1 34 1-28 1 56 1-1 1-88 1 14 1 8 1-26 1 40 1 47 1-54 1-8 1-42 1-37 1-45 1 10 1-73 1 23 1 69 1 18 1 9 1-3 1-36 1-38 1 2 1 0 1-66 1 34 1-3 1-109 1-46 1-20 1-23 1 28 1 18 1-22 1 26 1-14 1-31 1 0 1 47 1-44 1 58 1 30 1-1 1-54 1-31 1-44 1 77 1-65 1-39 1 143 1-3 1 35 1 27 1-45 1-17 1-122 1 27 1 38 1-22 1 29 1-24 1-16 1 13 1 1 1-29 1 22 1-71 1 71 1-37 1 1 1-9 1 71 1-24 1-34 1-59 1-85 1-31 1-54 1-43 1 64 1 105 1 45 1 47 1-30 1-15 1 45 1 48 1 17 1 18 1-15 1-39 1-37 1 75 1-76 1 72 1-9 1 3 1 44 1 29 1-124 1-11 1 42 1-65 1-27 1 93 1 80 1 41 1-28 1-45 1-17 1-76 1-10 1 5 1 55 1 45 1-1 1 82 1-100 1-107 1 32 1-3 1 13 1 120 1-47 1 12 1-46 1 15 1-9 1 37 1 12 1-95 1-30 1 42 1 39 1 15"/><path d="M0 0l1 82 1 82 1-40 1 25 1 25 1-5 1 54 1-56 1 25 1 30 1 13 1 22 1 14 1 23 1 41 1-13 1 61 1 30 1-30 1 60 1-11 1-21 1-62 1-62 1 102 1 3 1 47 1-12 1-4 1 28 1-46 1 38 1-54 1-56 1 25 1-61 1 44 1-29 1-16 1-84 1-1 1 42 1-63 1 30 1 57 1-59 1-37 1-38 1 9 1-76 1 57 1 17 1-6 1-60 1-41 1 13 1 14 1-35 1 25 1 54 1 126 1 41 1-73 1-90 1 80 1 76 1-23 1 59 1 75 1-25 1-43 1 34 1-56 1-42 1-47 1 11 1-45 1-5 1 49 1-38 1 2 1 46 1-79 1-35 1-22 1-19 1 23 1-8 1 68 1 7 1-17 1 72 1-31 1-53 1-4 1-14 1-16 1 54 1-14 1 52 1-61 1-65 1-60 1-119 1-18 1 38 1-23 1-28 1-82 1 52 1-13 1-16 1-146 1 26 1 32 1-84 1-19 1 9 1-2 1 63 1 63 1 32 1 52 1-32 1 11 1 29 1 21 1-37 1-10 1 18 1 60 1 15 1-27 1-81 1-28 1-81 1-26 1 34 1-49 1-41 1-25 1-43 1-12 1-94 1 71 1 81 1 16 1 34 1 67 1-50 1-12 1-135 1 24 1-1 1-56 1-36 1-168 1-47 1 25 1 113 1-104 1-75 1-41 1-93 1-52 1 123 1-3 1 37 1 18 1-39 1-23 1 66 1-64 1-103 1 126 1 29 1 17 1-29 1-24 1-118 1-59 1-2 1 19 1-84 1 58 1-55 1-25 1-96 1 10 1-46 1-93 1-18 1 38 1-32 1-38 1-89 1 28 1 89 1 25 1 1 1 16 1-43 1-18 1-42 1 60 1 11 1-56 1 9 1 78 1 4 1-50 1 54 1-29 1 92 1 28 1-83 1-63 1-31 1-7 1 15 1 2 1 62 1 92 1-27 1 52 1 16 1-122 1-29 1 3 1-50 1-42 1 7 1 50 1 83 1-43 1-2 1-37 1 21 1-85 1 47 1-62 1-72 1-31 1 2 1 7 1-53 1-73 1-16 1-61 1 74 1-61 1-6"/><path d="M0 0l1-11 1 36 1-121 1-108 1 100 1 29 1 79 1 4 1 28 1 35 1-138 1-5 1 107 1 85 1-71 1-20 1 129 1-172 1-66 1-63 1-17 1-152 1 62 1-20 1 94 1 2 1-46 1 26 1 6 1-67 1-62 1-32 1 44 1-42 1 41 1-20 1 9 1 44 1 19 1 29 1 30 1-27 1 41 1-68 1-39 1-73 1-97 1 71 1 52 1-35 1-29 1 34 1 70 1-43 1-73 1 27 1-53 1-89 1-25 1-68 1-9 1 6 1 137 1 35 1-37 1-61 1 42 1-5 1 101 1-21 1-18 1 24 1-27 1-7 1-11 1-36 1 61 1-11 1 18 1 11 1-76 1-25 1-11 1-22 1 53 1-27 1-70 1-97 1-10 1 84 1 21 1-4 1-44 1-35 1 30 1-10 1-54 1 9 1-82 1-10 1-21 1 29 1 36 1-80 1 5 1-183 1 7 1 106 1-32 1 27 1 76 1 53 1-59 1-13 1-30 1-9 1 49 1-82 1 59 1 56 1 8 1-19 1-68 1-12 1 64 1-92 1-89 1-21 1 4 1-38 1-51 1 45 1 27 1-74 1 18 1 96 1 84 1-15 1-7 1 30 1-16 1 22 1 46 1-41 1-78 1 79 1-17 1-96 1 78 1 34 1 12 1-89 1 12 1 7 1 96 1 13 1-30 1-52 1 129 1 9 1-8 1 14 1 23 1 79 1-118 1-18 1 32 1 64 1-30 1-48 1-140 1 24 1 22 1-20 1 26 1 61 1-35 1-5 1-45 1 1 1 20 1-24 1 33 1 57 1 40 1 16 1 26 1 56 1-13 1 60 1 0 1-76 1-50 1 1 1-25 1 7 1-42 1-114 1-118 1-120 1 6 1-27 1-1 1 65 1-26 1-83 1-20 1 32 1-37 1 9 1-35 1 96 1-36 1-6 1-44 1 64 1 67 1-142 1 55 1-44 1-4 1-23 1-28 1 20 1 48 1-49 1 78 1 17 1-7 1-89 1-111 1 12 1 115 1-6 1-66 1 16 1-5 1-105 1 24 1-1 1 25 1-9 1 68 1-38 1 8 1 34 1 119 1 110 1-63 1 44 1 50 1-53"/><path d="M0 0l1-1 1 46 1 2 1 43 1 23 1 26 1 9 1 55 1 4 1 10 1-69 1-8 1 28 1-110 1-33 1-54 1-77 1-5 1-37 1 19 1 62 1 23 1-29 1 63 1-13 1 34 1 65 1 37 1 17 1 50 1-24 1-47 1-63 1-8 1-27 1 37 1 20 1 33 1-80 1-2 1-85 1-43 1 7 1-79 1 48 1-56 1 29 1-9 1 68 1-24 1 14 1-42 1-9 1-78 1 14 1 11 1-57 1 62 1-81 1 21 1 66 1-78 1 115 1-2 1-38 1 9 1 95 1 80 1-134 1-9 1 26 1 20 1-7 1-61 1-53 1-63 1 23 1 38 1-50 1 83 1-37 1 46 1-50 1-68 1 105 1 16 1-23 1-2 1 41 1-40 1-6 1-4 1 16 1-37 1-64 1 27 1-66 1 26 1-54 1-30 1 79 1 40 1-4 1 23 1 13 1-11 1-27 1 64 1-8 1-38 1 94 1-67 1 71 1 20 1-40 1-34 1-108 1-71 1 64 1-14 1-48 1-4 1-85 1 113 1 19 1-24 1-130 1-86 1-83 1 41 1 9 1 43 1 128 1 5 1 31 1 77 1-17 1-103 1-2 1 15 1 18 1 69 1 29 1 48 1-104 1 10 1-29 1-18 1-57 1 26 1 56 1-39 1-9 1 111 1-81 1 6 1 1 1 18 1-77 1-47 1-36 1-55 1 30 1-34 1 58 1-4 1-11 1 54 1-50 1-39 1-1 1 3 1-2 1-42 1-46 1-22 1 39 1-66 1-5 1-69 1-13 1-27 1-95 1-44 1 10 1-40 1-58 1 5 1-40 1-8 1 65 1-59 1 98 1 16 1 4 1 6 1-104 1-102 1 97 1-55 1 29 1 65 1-53 1-115 1-5 1 9 1 82 1-3 1 71 1-40 1 64 1-79 1-20 1 33 1-25 1-95 1-4 1-82 1 72 1-94 1 19 1 72 1-48 1-29 1-45 1-82 1-72 1-18 1 32 1 7 1-62 1-105 1-112 1-23 1-145 1 55 1 14 1-33 1 71 1-33 1 16 1-17 1 58 1-41 1-102 1 29 1 25 1-56 1-106 1-13 1-52 1 24"/><path d="M0 0l1 19 1 119 1-148 1 40 1-72 1-49 1-13 1-82 1 1 1 8 1 76 1 83 1 11 1 144 1-83 1-71 1 18 1-27 1 43 1 31 1-22 1 34 1-34 1-61 1-14 1 60 1-44 1-19 1 21 1 60 1 85 1-3 1 79 1 40 1 10 1-104 1-78 1 11 1 20 1 53 1-7 1-64 1-13 1 4 1 25 1 32 1-44 1-46 1 16 1 77 1-13 1 4 1-92 1-2 1 22 1 12 1-37 1 32 1-50 1-35 1 115 1 43 1 18 1-66 1-112 1-97 1 32 1-42 1 69 1 5 1 16 1-12 1 46 1 32 1-108 1-68 1-10 1 15 1-127 1-69 1 16 1-44 1 36 1 114 1 21 1-95 1-11 1 119 1 43 1-58 1 27 1-14 1-68 1-89 1 39 1 41 1-10 1 41 1 47 1 24 1 63 1 28 1 89 1-24 1-71 1 44 1-55 1-28 1 29 1 46 1-58 1 67 1-1 1-53 1-22 1-73 1-49 1 29 1 0 1 42 1 2 1-40 1 113 1-44 1-127 1-73 1-50 1-40 1 78 1-10 1-43 1 28 1-14 1-48 1 4 1 10 1 54 1-124 1-2 1-80 1 34 1-74 1-56 1 18 1-44 1 24 1-45 1 3 1 39 1 93 1 37 1 14 1 53 1-48 1-19 1 5 1 37 1-65 1-62 1-38 1-45 1 26 1 1 1-111 1 73 1-21 1-29 1 55 1 52 1-26 1 33 1-7 1 22 1 34 1 96 1 45 1 35 1-105 1-66 1 19 1-28 1-3 1-12 1 11 1-8 1 127 1 28 1-37 1 112 1 23 1-93 1-61 1 43 1 85 1-15 1 6 1 10 1-18 1-14 1-10 1 17 1 54 1-103 1-43 1 44 1 44 1-39 1 56 1 63 1 87 1 46 1-64 1 64 1 11 1-15 1-55 1-49 1-1 1 34 1-57 1-67 1 4 1 71 1 55 1 24 1 65 1-37 1 20 1-1 1 68 1 56 1-66 1-107 1 25 1 3 1 51 1-77 1-57 1 85 1-20 1 9 1-89 1 125 1-42 1 65 1-52 1 9 1-62 1-3 1 145 1-61 1-24"/><path d="M0 0l1-20 1-80 1 71 1-39 1 18 1 36 1-1 1 2 1-24 1-45 1 10 1 53 1-13 1-57 1 75 1-76 1-104 1-17 1 12 1 54 1-150 1 54 1-19 1-17 1-93 1 153 1 44 1-60 1 12 1 39 1-17 1-53 1 70 1-62 1-2 1-32 1-13 1-91 1 49 1 105 1-5 1 41 1 41 1-30 1 13 1-28 1 10 1 9 1-25 1-52 1-48 1-14 1 75 1 61 1-40 1-17 1 49 1 30 1 13 1-15 1-27 1-7 1 50 1 80 1-12 1-32 1 25 1-30 1-30 1-25 1 105 1 19 1 42 1 30 1-19 1 62 1 16 1-7 1 8 1-37 1 31 1 31 1 14 1 21 1 22 1-25 1 15 1 85 1 6 1-31 1 6 1 41 1-32 1 4 1-2 1-108 1-11 1-29 1-3 1-55 1 14 1-35 1 88 1-56 1-7 1-14 1 73 1-66 1 55 1 39 1 116 1 39 1 36 1 72 1-79 1-43 1-19 1 88 1 3 1-32 1 65 1 22 1-37 1 26 1-43 1-3 1 53 1-46 1 64 1 38 1 35 1-1 1-61 1 19 1 72 1 29 1 66 1-65 1-18 1-20 1 26 1 34 1 31 1-46 1-99 1 17 1 64 1-56 1-33 1-69 1-63 1 52 1-34 1-22 1-51 1-21 1-39 1 43 1-21 1-55 1-67 1 65 1-80 1 18 1 56 1 84 1 51 1-74 1 81 1 81 1 22 1 24 1 75 1 3 1-3 1-21 1-33 1-21 1-18 1 67 1 145 1-39 1 85 1 24 1 16 1-16 1-3 1 45 1-15 1-52 1-14 1-43 1 30 1 92 1 30 1 4 1 38 1-39 1-28 1-2 1-31 1-13 1-39 1 27 1-62 1-10 1-40 1 33 1 2 1-41 1-10 1-41 1-3 1-9 1 32 1 27 1-5 1-29 1 3 1 16 1-41 1 48 1-11 1-61 1-22 1-16 1-83 1-16 1-135 1-89 1-41 1 45 1-89 1 29 1-18 1 53 1 85 1-16 1 155 1-39 1 41 1-60 1 58 1 25 1-54 1 24 1-21 1 3 1-110 1-15 1-39 1 16"/><path d="M0 0l1-47 1 31 1-5 1 69 1 26 1 32 1-3 1-81 1 53 1 102 1-34 1 91 1-18 1-61 1-4 1 39 1 6 1 51 1-68 1 28 1-25 1 33 1 24 1 2 1 38 1 10 1 113 1-15 1-53 1 15 1 12 1 55 1-39 1-22 1 22 1 71 1-15 1 17 1-35 1-35 1 55 1 91 1-35 1 70 1-49 1-115 1-50 1-22 1 28 1-30 1 12 1 47 1 61 1-42 1-10 1-14 1-2 1-29 1-12 1 22 1-29 1-25 1-56 1 48 1 41 1-39 1-8 1-17 1 4 1-45 1-113 1 31 1-75 1 20 1 35 1 27 1 112 1 88 1-69 1-30 1 35 1 4 1-5 1-24 1-72 1-35 1 3 1 52 1-29 1 12 1 2 1 43 1-64 1 24 1 96 1 79 1 3 1 25 1-65 1 103 1 76 1-4 1-20 1 9 1-58 1 40 1 54 1 19 1-138 1 93 1-41 1-7 1 61 1-19 1 96 1-22 1-24 1-32 1 12 1-49 1 94 1-57 1 20 1 6 1 28 1-47 1 45 1 29 1-19 1 31 1 52 1 4 1 27 1 68 1 26 1-14 1-2 1 96 1-35 1-66 1 5 1 33 1 36 1 33 1-24 1 9 1-33 1 20 1-12 1-66 1 30 1 51 1 7 1-9 1-5 1 51 1-6 1 37 1-55 1-6 1-56 1 0 1 61 1 81 1 33 1-28 1-19 1 34 1-84 1 53 1 92 1-8 1-3 1 0 1 11 1 22 1 12 1 99 1 17 1-8 1-9 1 58 1 0 1 62 1-74 1-19 1 3 1 43 1-93 1 75 1 37 1-120 1-27 1-71 1 36 1-78 1 8 1-42 1-62 1-15 1 45 1 53 1 46 1-66 1-63 1 47 1 46 1-73 1-100 1 15 1-24 1-41 1 52 1 29 1-20 1-75 1 50 1 22 1 59 1-90 1 18 1 36 1-42 1 9 1 65 1 38 1-37 1 29 1 56 1-15 1 23 1-9 1 10 1 44 1-21 1-18 1-24 1-103 1 18 1 34 1-45 1 44 1 39 1 87 1 17 1-16 1-45 1 18 1-1 1-30 1-58 1-25"/><path d="M0 0l1-12 1 53 1 89 1 102 1-82 1 32 1-91 1-16 1-32 1 61 1-71 1-28 1 33 1 74 1-68 1 41 1 18 1 59 1 63 1-46 1 30 1-34 1-5 1 87 1-130 1-37 1-46 1-28 1-41 1 37 1-32 1-118 1 35 1-96 1-18 1 71 1-40 1-7 1-12 1 21 1-6 1 31 1 20 1-19 1-39 1 31 1 25 1-45 1 8 1 38 1 42 1 4 1-102 1 4 1 137 1-77 1 75 1-38 1 69 1 58 1 29 1-59 1 1 1-16 1-85 1-43 1 44 1-32 1-34 1-13 1 35 1 13 1-101 1-40 1 56 1 61 1 32 1-2 1-91 1-26 1-37 1 0 1-56 1 72 1-47 1 53 1-28 1 120 1-33 1 30 1 42 1-99 1 15 1-16 1 11 1-74 1-16 1 4 1 22 1 60 1 46 1 39 1 23 1-41 1 87 1-39 1 26 1 24 1 23 1-11 1 2 1 17 1-16 1-42 1-56 1 33 1-3 1-38 1-32 1-111 1 82 1-85 1-42 1 11 1 46 1 51 1 65 1 73 1 85 1-23 1-118 1-52 1 51 1 9 1-33 1-50 1 26 1 33 1-3 1 85 1 83 1-21 1-46 1 60 1 9 1 11 1 6 1 16 1 49 1-18 1 46 1-39 1-64 1 1 1 62 1 16 1-20 1 110 1-27 1-48 1 5 1-1 1-72 1 19 1-51 1-1 1-19 1-53 1 11 1 54 1 28 1-8 1-83 1-87 1 8 1 38 1 109 1-39 1-52 1-67 1-8 1 13 1-67 1-35 1-58 1 69 1-26 1-117 1 5 1 25 1 47 1 25 1-22 1 46 1-92 1-39 1 24 1 19 1 48 1-65 1 15 1-49 1-18 1-30 1-37 1-106 1-40 1-46 1 82 1-3 1-26 1-65 1-137 1-67 1-14 1 36 1 10 1-3 1 24 1-2 1 38 1-61 1 1 1-26 1 36 1 55 1 145 1-12 1 58 1-163 1-53 1-45 1-92 1-38 1-9 1 83 1-29 1 57 1-81 1-70 1-42 1-12 1 60 1-37 1-23 1-28 1 11 1-22 1 107 1-26 1-47 1-26"/><path d="M0 0l1 44 1-65 1 9 1-14 1 83 1-18 1 68 1 28 1-29 1 13 1 15 1 19 1-3 1 24 1-71 1 25 1-28 1-94 1-15 1 78 1 64 1 18 1 65 1 35 1 42 1-19 1 62 1-11 1-2 1-12 1-99 1 59 1-74 1 3 1-36 1-44 1-43 1-58 1 30 1-53 1 19 1 2 1 42 1-90 1 40 1-51 1 43 1-71 1-122 1-80 1 32 1-6 1-22 1 16 1 67 1 45 1 13 1 71 1-65 1 7 1 77 1 45 1-4 1 17 1-14 1 37 1 43 1-32 1-33 1 9 1 11 1 0 1-33 1-67 1-24 1 11 1 0 1-42 1-17 1 20 1-39 1-95 1-78 1 58 1-31 1 37 1-58 1 72 1-65 1 12 1 49 1 167 1-36 1 71 1 5 1 40 1-25 1 26 1-16 1-24 1-56 1-19 1-31 1-57 1 12 1-107 1 132 1 42 1 26 1 79 1 37 1-35 1 2 1 161 1-25 1 8 1 34 1-86 1-34 1 19 1 23 1 22 1-25 1-5 1-43 1 10 1-55 1 24 1 20 1 18 1 23 1-5 1-34 1-14 1-22 1 8 1-134 1 31 1 11 1-14 1-34 1-14 1-88 1 23 1 65 1 27 1-126 1 41 1 17 1 22 1 31 1 1 1-56 1 28 1-81 1 34 1-33 1-33 1-52 1-30 1 3 1-36 1 37 1-25 1 22 1 37 1 101 1-27 1 25 1-15 1 12 1-93 1-59 1 14 1-5 1 84 1-33 1-72 1 85 1 124 1-91 1 23 1 54 1-49 1 8 1 101 1 13 1-34 1-68 1 5 1 5 1-16 1-37 1 60 1-25 1-68 1-5 1 42 1-28 1 17 1-73 1 7 1 22 1 35 1-33 1-11 1-22 1 90 1-73 1 73 1 44 1-1 1-11 1 29 1-11 1-19 1 29 1-17 1 37 1 78 1-30 1-64 1 10 1-6 1-13 1 28 1-14 1 18 1 23 1 1 1-20 1 80 1-55 1-139 1-50 1 27 1 36 1-66 1-24 1 32 1-133 1-17 1 9 1 18 1 4 1-23 1-71 1-6 1-89 1-99 1-18 1-65"/><path d="M0 0l1 23 1-25 1 14 1 32 1-29 1 18 1 73 1-21 1 38 1 72 1-15 1-28 1 70 1-40 1 30 1-29 1 69 1 16 1 29 1-129 1 10 1 38 1-29 1-33 1-3 1-123 1 57 1-41 1 36 1 3 1 6 1 49 1-79 1 7 1 51 1 84 1-70 1-30 1 25 1-35 1-4 1 3 1-25 1-67 1-38 1 54 1-82 1-73 1-8 1-101 1 28 1-169 1 44 1 8 1 59 1-87 1-9 1-25 1 79 1-6 1-15 1 2 1 24 1 51 1 33 1-52 1 85 1 30 1-16 1 46 1 13 1 32 1 81 1-66 1-32 1 34 1-38 1 12 1-12 1-70 1 73 1-44 1-4 1-41 1 11 1 16 1 5 1 0 1 5 1 99 1-40 1-6 1 18 1-12 1-53 1 78 1-23 1 6 1 88 1-66 1 8 1-16 1-35 1-33 1 10 1 71 1-106 1 42 1 11 1 46 1-53 1 29 1-3 1 8 1 33 1 106 1-22 1 77 1-117 1-56 1 15 1-71 1-22 1-37 1-100 1 54 1-62 1-46 1-131 1 24 1 12 1-8 1-25 1 49 1-113 1 33 1 43 1 5 1-76 1-35 1-42 1-78 1-61 1-46 1 12 1-69 1 79 1 95 1-114 1-21 1-36 1-9 1-38 1-27 1-48 1-71 1-69 1 63 1 34 1-43 1 9 1-28 1 2 1 38 1 26 1 22 1-52 1 94 1 37 1-116 1 28 1 70 1-71 1 29 1 1 1-96 1-43 1-121 1-17 1-19 1 0 1-72 1-64 1 13 1-38 1-47 1-89 1-43 1 20 1-62 1 9 1-13 1-26 1-122 1-131 1-39 1-29 1-8 1-9 1-120 1-26 1-70 1-12 1 62 1-17 1 35 1 0 1 39 1-60 1 49 1 84 1 37 1 36 1-19 1-5 1-34 1 69 1 20 1 31 1 16 1-57 1-32 1-27 1-16 1 185 1-78 1-34 1 70 1-132 1 59 1-6 1-73 1-27 1 188 1-30 1 36 1-2 1-97 1 102 1 17 1 45 1 1 1-36 1-46 1-50 1 34 1-53 1 25 1-17 1 9 1-33 1-50"/><path d="M0 0l1 12 1-10 1 30 1 84 1-19 1-40 1 39 1 3 1 30 1 21 1 66 1-68 1-61 1 0 1-16 1 138 1-9 1 26 1 47 1-16 1 34 1-1 1-69 1-3 1 10 1 12 1-34 1-10 1 118 1-121 1-5 1-42 1 97 1-12 1-72 1-75 1-33 1-36 1 53 1 5 1 16 1-63 1-18 1-30 1-25 1 18 1 30 1-90 1-16 1-61 1-75 1-25 1-4 1-24 1 76 1-49 1-4 1 46 1-26 1-59 1-67 1 38 1 1 1 79 1 87 1-30 1 19 1 106 1 10 1-60 1 31 1 22 1 23 1 12 1 11 1 69 1-18 1 55 1-22 1 14 1 36 1 9 1 8 1-35 1 74 1 106 1-41 1 116 1-64 1-73 1-26 1-49 1-40 1 49 1 15 1-26 1 24 1-21 1-4 1-4 1-82 1-63 1-20 1 29 1 1 1-72 1-38 1-67 1 58 1-16 1-14 1-37 1-21 1 8 1 5 1-93 1-15 1 15 1-27 1-19 1-1 1-8 1-79 1 104 1 40 1 11 1 13 1 60 1-68 1-29 1 141 1 43 1 20 1 0 1-73 1-63 1-25 1 42 1 6 1 58 1 49 1-10 1 20 1-91 1-90 1 109 1 94 1 35 1-71 1 7 1-8 1 0 1 37 1 34 1 12 1 14 1-20 1 10 1-22 1-4 1 10 1-48 1 30 1-69 1-26 1-24 1 88 1 10 1-5 1-4 1-2 1-16 1-46 1 43 1-25 1-80 1 40 1 63 1 81 1-53 1-6 1 30 1-7 1-47 1-5 1 53 1 99 1 6 1-32 1-11 1-4 1 22 1 56 1-76 1 55 1-21 1 23 1 68 1 34 1-32 1-22 1-62 1-116 1 0 1-64 1-33 1 22 1-5 1-30 1 12 1 25 1-41 1 26 1-27 1-86 1-46 1-83 1-78 1 4 1 17 1 81 1 35 1-18 1-32 1-57 1-69 1-20 1-2 1-8 1 107 1 29 1 26 1 37 1 18 1-89 1 166 1 61 1-31 1-63 1-67 1 13 1-50 1 19 1-63 1 69 1-112 1 77 1-27 1-65 1-84 1 8 1-2"/><path d="M0 0l1-84 1 13 1 6 1-6 1 66 1 42 1 9 1-16 1 76 1 45 1 9 1 62 1-40 1-142 1-51 1 28 1 31 1-35 1-34 1-124 1-12 1-40 1 3 1-28 1 40 1-49 1 20 1-64 1 19 1-82 1 51 1 89 1 12 1 15 1 52 1-14 1-80 1 67 1 43 1 30 1 24 1 46 1 69 1-45 1 41 1 50 1 7 1-52 1-6 1 62 1 28 1 149 1 34 1-45 1-34 1 6 1-13 1 18 1 35 1 13 1-19 1 68 1 17 1 17 1 12 1-10 1-138 1 46 1-95 1-56 1-145 1-61 1-50 1 7 1 83 1 35 1 23 1-8 1 65 1 42 1-1 1 15 1-23 1-69 1-77 1-13 1 0 1 37 1-57 1 5 1 56 1-12 1-21 1 6 1 77 1 22 1 51 1-5 1 5 1-65 1-57 1-52 1 37 1-14 1 139 1 4 1-107 1-3 1-40 1-86 1 49 1-56 1-41 1-123 1 116 1-107 1 7 1 64 1-57 1 30 1 0 1 70 1 32 1-77 1-20 1-76 1-24 1-157 1-45 1-16 1-42 1-29 1-72 1-31 1-68 1 40 1 59 1 62 1-22 1-2 1-71 1 22 1-53 1-25 1-20 1-112 1 117 1 19 1-54 1 3 1 55 1-98 1 11 1 76 1-31 1 20 1-39 1-14 1 4 1 0 1 31 1 109 1 2 1 121 1 30 1-9 1 54 1 138 1-64 1-30 1 35 1-32 1-94 1 17 1 7 1 44 1 83 1-38 1-20 1 21 1-37 1-38 1 15 1 55 1 7 1-51 1-16 1 40 1-65 1-43 1 26 1-90 1-80 1-15 1 49 1 56 1 62 1-30 1 90 1-5 1-61 1 28 1-58 1 64 1-14 1 17 1 66 1-14 1-25 1 96 1 47 1 11 1-106 1-123 1-26 1-74 1 15 1-69 1-71 1 19 1 33 1-80 1-81 1-15 1-17 1 41 1 4 1-31 1 26 1-12 1-22 1-92 1 4 1 66 1 27 1 123 1-46 1 35 1 11 1-10 1-24 1-18 1-59 1 58 1-20 1 23 1 58 1 26 1 15 1-5 1 18 1 17"/><path d="M0 0l1-4 1-27 1-7 1 53 1 69 1 29 1 48 1-87 1-86 1-2 1-2 1 71 1 24 1 5 1-48 1-23 1 55 1 16 1 20 1-70 1-79 1-41 1 76 1 23 1-45 1 14 1 73 1 135 1-49 1 42 1 53 1 76 1-50 1-17 1-51 1-8 1 52 1 55 1 16 1-49 1-118 1-56 1-26 1 71 1 84 1 33 1 31 1 71 1-7 1 77 1-46 1 23 1 41 1-70 1 45 1 53 1 25 1-41 1-31 1 28 1 48 1-1 1-31 1-63 1 29 1 71 1 68 1-3 1-50 1 5 1-29 1-26 1-35 1 10 1-58 1-32 1-79 1-20 1 27 1-46 1-100 1 4 1 80 1-56 1 49 1 18 1-38 1 25 1 1 1-18 1-29 1-50 1 43 1-37 1-44 1 33 1-23 1 67 1 21 1-28 1-150 1 54 1-25 1 67 1-68 1-15 1 13 1-21 1-84 1 131 1 39 1-91 1-6 1-2 1 56 1-54 1 105 1-131 1-26 1-51 1-96 1-38 1 31 1 24 1-29 1-5 1-153 1-97 1 84 1 148 1 101 1-62 1-13 1 10 1 9 1-36 1 132 1 60 1 56 1 44 1 8 1-90 1 55 1-12 1-53 1 41 1 50 1 11 1 28 1 18 1-40 1-81 1-1 1-28 1 38 1-74 1-73 1-11 1-39 1-14 1 70 1-9 1 44 1 28 1-67 1-13 1-24 1-6 1 13 1 1 1 53 1 4 1 38 1 52 1-38 1-8 1-118 1 65 1-26 1 36 1 63 1 13 1-40 1 14 1-10 1-20 1-32 1 0 1 63 1 32 1-110 1-64 1-92 1 9 1 50 1 57 1 14 1-78 1-75 1 53 1 55 1-152 1 1 1-103 1-82 1 47 1-43 1 69 1-78 1 31 1-26 1-52 1-27 1 44 1 11 1-17 1-27 1 6 1-64 1 24 1 2 1 13 1-58 1 33 1-80 1 67 1-43 1-161 1 39 1 52 1 49 1-50 1-26 1 122 1 6 1 106 1 37 1-101 1-20 1-56 1 34 1 24 1 12 1 24 1-52 1-52 1-11 1-32 1 25 1-11 1 126 1 30"/><path d="M0 0l1-20 1-71 1-40 1-26 1-7 1-68 1-54 1-55 1 107 1 7 1 28 1 53 1-62 1 25 1 26 1 35 1 22 1 6 1-57 1 30 1-63 1 42 1 30 1-80 1 4 1 139 1-58 1-150 1-5 1 92 1-57 1-60 1 89 1-1 1 107 1-63 1 49 1 44 1-29 1 11 1-95 1 64 1-28 1-64 1 45 1-27 1-48 1 11 1 43 1-57 1-42 1-20 1 36 1 1 1-16 1-53 1-25 1-36 1 8 1-30 1 64 1-9 1-91 1-14 1-41 1-3 1-68 1-21 1-47 1 25 1-43 1-103 1-70 1 48 1-184 1-47 1 53 1-1 1 25 1 71 1 0 1 87 1-59 1-47 1-1 1 11 1-50 1-13 1 25 1-66 1 4 1 30 1-56 1 1 1-133 1 54 1 32 1-56 1-78 1-47 1 7 1 27 1-50 1-77 1-40 1 23 1-24 1 1 1-29 1 70 1-26 1 40 1 18 1-38 1-63 1-30 1 102 1-104 1-50 1-36 1 96 1 66 1-32 1-29 1 79 1-64 1 34 1 94 1 2 1 25 1-61 1-1 1 133 1 13 1-66 1 31 1-132 1 9 1-34 1 2 1 72 1 35 1 106 1-113 1-126 1-46 1-86 1 23 1 22 1-115 1-45 1 48 1-63 1 48 1 25 1 115 1-3 1 170 1 51 1-7 1 26 1-72 1 28 1-59 1 20 1-121 1-53 1-16 1 18 1 38 1-51 1-13 1 62 1-28 1-26 1-62 1-5 1 28 1 37 1-38 1 133 1-9 1-14 1 3 1-52 1-103 1-89 1 73 1 39 1-71 1-63 1 67 1 68 1-50 1-122 1-57 1-165 1-248 1-57 1 91 1 66 1 114 1-11 1 4 1 40 1-50 1-34 1 39 1-43 1 49 1-24 1-68 1 39 1 88 1 29 1-40 1-53 1-127 1-250 1-77 1 90 1-13 1 45 1-50 1 107 1 27 1-38 1-44 1-11 1-149 1-42 1-55 1-140 1 154 1-38 1 94 1-75 1-28 1-39 1 61 1 142 1-20 1-68 1 177 1 14 1-16 1 148 1-87 1 97 1-61 1 8 1 98"/><path d="M0 0l1 5 1 23 1-117 1-73 1 11 1-30 1-78 1-32 1-40 1-60 1-107 1 16 1-75 1-24 1-88 1-11 1 195 1-66 1 21 1 53 1-44 1 63 1-61 1 20 1-15 1 5 1-19 1 83 1 2 1 15 1 46 1-100 1-54 1-25 1-31 1-11 1-42 1 26 1-17 1-25 1 25 1-10 1 55 1-9 1 31 1-24 1 40 1 4 1-77 1 72 1 97 1 42 1 21 1 29 1-101 1 92 1-69 1 38 1 80 1-14 1-16 1-142 1-66 1-47 1-66 1-55 1 28 1 6 1 59 1 1 1 10 1-26 1 2 1-14 1 5 1 31 1-48 1-14 1-79 1 31 1 51 1 12 1 31 1-71 1-62 1-52 1-77 1 81 1-42 1 44 1-18 1-55 1 15 1-35 1 36 1-95 1-30 1-5 1-49 1-21 1 15 1-26 1-23 1-69 1-30 1-52 1-74 1 16 1 14 1 37 1-62 1 53 1 147 1-51 1 18 1 0 1 33 1 1 1-77 1 16 1 50 1-83 1-76 1 9 1-34 1 122 1 111 1 51 1 42 1 48 1 34 1-57 1 51 1-63 1-12 1-1 1 9 1-135 1-62 1-11 1-1 1-18 1-19 1 11 1-123 1 44 1 16 1 22 1 19 1-59 1-70 1-30 1 56 1 46 1-83 1-49 1 105 1 31 1 18 1 16 1-108 1-41 1 49 1 38 1 32 1 61 1 18 1 85 1 30 1 28 1-100 1 32 1 38 1 3 1 31 1-114 1 88 1 28 1-39 1-24 1-30 1 4 1 49 1-36 1-134 1-18 1 18 1-43 1 22 1-63 1-21 1-57 1-133 1-90 1-11 1 22 1-151 1-56 1 78 1 89 1 41 1 52 1-18 1-57 1-73 1 74 1-18 1-61 1-110 1 6 1-7 1 38 1 119 1-20 1 163 1 80 1-10 1 0 1 18 1-84 1-12 1-5 1 62 1 32 1 19 1-106 1 10 1 47 1-15 1-40 1 10 1 4 1-4 1 4 1 1 1-34 1 42 1-39 1-93 1-5 1-77 1-74 1-58 1-100 1-9 1-35 1 95 1-26 1-115 1-11 1 18 1 29"/><path d="M0 0l1 0 1 76 1-31 1 94 1 26 1-9 1-28 1 54 1-29 1 28 1-120 1-116 1 9 1-9 1-34 1-50 1 35 1 32 1-43 1-7 1-30 1-18 1-43 1 24 1-6 1-59 1-126 1 26 1-51 1 14 1-76 1-16 1-24 1-23 1 23 1-84 1 17 1-4 1 16 1 37 1-50 1-93 1 34 1-124 1 15 1-25 1-37 1-44 1 16 1-11 1 160 1-15 1-60 1-52 1-18 1-53 1-75 1 16 1 28 1 27 1-27 1-9 1-2 1 126 1 80 1-42 1 63 1-28 1 43 1 42 1 42 1-42 1-10 1 8 1-28 1-89 1 77 1 82 1 84 1 100 1 27 1 87 1-54 1 44 1-8 1-75 1-63 1 40 1 43 1-50 1-98 1-41 1 26 1 89 1-56 1 0 1-28 1 14 1 18 1 52 1 2 1-71 1-10 1 25 1-21 1 78 1 45 1 84 1 49 1 11 1-83 1 161 1 107 1-69 1-57 1-19 1-55 1-51 1-31 1 67 1-49 1-52 1 28 1-31 1 51 1-30 1-53 1 94 1-84 1 44 1 23 1 18 1-43 1-25 1 136 1-46 1 49 1 18 1-71 1 83 1 57 1 25 1 71 1-9 1 89 1-11 1 21 1 63 1-62 1-30 1-4 1-79 1-6 1-138 1-70 1-23 1-86 1-52 1 58 1 84 1 74 1 22 1-85 1 45 1 7 1-2 1-1 1-4 1-32 1-111 1-33 1-133 1 104 1 33 1-71 1-21 1 7 1-5 1-63 1 41 1-52 1 24 1-10 1 14 1-14 1 55 1-26 1 56 1-95 1-79 1-63 1-32 1-22 1 35 1-32 1 74 1-130 1-41 1 115 1-43 1 56 1 30 1 154 1 8 1 6 1 32 1-62 1 55 1-53 1 77 1 3 1 21 1-79 1-73 1-54 1 52 1 10 1-149 1 94 1 89 1-7 1 36 1 33 1-41 1-57 1-17 1 76 1-9 1 51 1 25 1-5 1 90 1-73 1-3 1-10 1-48 1 43 1-19 1 53 1-22 1 70 1 16 1-30 1 13 1-47 1 38 1-85 1 43 1-28 1-30 1-80 1-29"/><path d="M0 0l1 49 1 60 1-10 1-27 1 21 1 62 1 42 1-11 1 66 1-68 1-35 1-67 1 41 1-33 1-51 1-91 1 55 1 6 1-22 1 5 1-92 1-44 1 40 1-32 1-8 1 58 1-1 1-34 1-92 1 18 1 19 1-64 1 43 1 1 1 41 1 31 1 17 1 72 1 40 1-24 1 70 1-99 1 12 1 60 1-1 1 62 1-26 1 90 1 6 1 2 1-13 1-48 1 2 1-43 1-19 1-48 1 82 1-13 1-5 1 21 1 26 1 37 1 66 1-136 1 37 1-1 1 27 1 115 1 100 1 29 1 17 1-15 1-17 1 76 1-67 1 55 1 91 1 26 1-20 1 30 1 18 1-59 1 66 1 49 1-49 1 46 1 34 1-6 1-2 1-48 1 5 1 33 1-17 1-5 1 50 1 38 1-52 1-8 1-27 1 76 1 52 1 51 1-15 1 21 1 102 1-6 1-21 1 73 1-20 1-28 1 27 1 18 1 41 1-77 1-40 1 24 1-13 1-40 1-59 1-70 1-41 1-25 1-50 1 12 1 59 1 9 1 27 1-95 1 115 1-36 1 23 1-23 1 24 1 6 1 61 1-27 1 4 1 9 1 43 1 5 1 35 1 1 1-79 1-58 1-41 1-47 1-53 1 7 1-76 1-117 1-167 1-107 1 43 1 61 1 50 1-12 1 32 1-10 1 81 1 9 1-48 1-44 1-1 1 15 1-28 1-22 1-67 1 122 1-2 1 29 1-21 1 40 1 15 1 20 1 8 1 28 1-80 1-2 1-4 1 57 1 13 1-50 1 19 1-58 1-20 1 27 1 80 1 39 1-6 1 24 1 34 1 15 1 17 1 33 1 13 1 39 1 26 1 28 1-88 1 53 1-42 1 133 1-59 1 13 1-35 1-58 1 50 1-5 1 98 1 42 1-85 1-55 1 8 1-37 1 6 1 62 1 68 1-33 1 15 1-73 1-12 1-15 1-23 1 4 1 88 1-25 1-7 1 46 1-7 1-43 1-41 1-69 1-8 1 33 1-11 1-4 1 3 1-80 1 10 1 49 1-47 1 34 1 4 1 74 1 3 1-47 1 61 1-6 1-28 1 27 1-62 1-8"/><path d="M0 0l1 21 1 19 1-42 1-42 1 4 1-25 1 70 1-25 1-38 1-111 1 20 1-81 1 38 1-15 1 35 1-42 1-69 1 17 1 16 1-46 1 25 1-7 1 84 1-31 1 57 1 61 1-60 1 20 1-9 1 95 1-26 1-19 1-71 1-58 1 62 1-92 1-27 1-56 1-4 1 54 1 89 1 73 1 40 1 12 1 46 1-74 1-62 1 19 1 6 1 26 1 20 1 9 1-38 1 41 1 54 1-23 1 59 1-17 1 14 1-10 1-49 1-14 1-2 1 21 1 36 1 48 1 104 1-31 1 12 1 69 1 57 1-58 1 48 1-29 1 64 1 42 1 14 1 29 1-33 1 37 1 75 1-3 1 47 1-36 1 130 1-46 1 16 1-25 1-4 1 58 1-37 1-18 1-31 1 8 1 21 1 32 1 64 1 4 1-32 1 1 1 43 1-8 1-74 1 5 1 49 1-38 1-60 1 24 1-64 1-53 1-3 1 80 1 4 1 37 1-54 1-3 1 1 1 29 1-125 1 39 1 6 1-34 1-33 1 13 1-57 1-21 1-33 1 23 1-72 1 13 1 6 1-45 1 64 1-87 1 31 1 34 1 50 1-48 1 10 1-51 1 46 1 82 1-38 1 15 1 26 1-78 1 87 1 141 1-43 1 10 1 4 1 66 1 41 1 2 1 44 1 79 1-60 1 85 1-58 1 90 1-53 1-55 1-36 1 23 1 26 1 74 1-36 1 22 1-9 1-62 1-21 1 2 1 43 1 34 1 0 1-67 1-118 1-9 1 31 1-25 1 37 1 61 1-25 1-37 1-9 1 14 1-28 1-21 1-5 1-9 1 16 1-28 1 0 1 8 1-11 1-46 1 21 1-115 1 41 1 16 1-62 1-38 1 66 1-21 1 90 1-35 1 19 1 88 1 9 1-31 1 19 1 32 1 46 1 17 1 85 1-80 1 94 1-43 1-23 1 44 1 36 1 86 1-1 1 33 1 11 1 23 1 59 1 41 1-3 1 82 1-33 1-86 1-72 1-19 1 7 1-97 1-94 1 31 1 39 1 6 1-29 1 39 1 38 1-12 1-14 1-55 1 13 1-24 1-16 1 16 1-10 1 32"/><path d="M0 0l1 2 1 47 1-55 1-45 1 26 1 50 1-29 1 40 1-17 1 25 1-23 1-13 1 56 1-7 1 10 1-75 1 7 1 51 1 66 1 4 1 28 1-54 1-7 1-37 1-59 1-69 1-89 1 56 1-17 1 79 1 78 1-70 1 37 1 79 1-39 1 0 1 0 1-15 1 27 1-24 1-90 1 36 1 73 1-58 1-110 1-9 1 79 1 31 1-39 1 43 1-97 1-107 1 26 1 53 1-72 1 28 1 86 1 97 1 59 1 67 1 104 1 40 1 74 1 16 1 42 1-23 1-15 1-2 1-6 1-60 1 37 1-100 1-19 1-69 1-42 1 112 1 9 1-78 1 41 1-2 1 96 1-10 1-64 1-24 1-66 1 81 1 8 1 54 1-60 1 50 1 33 1-90 1-9 1-44 1 43 1 53 1-46 1 44 1-3 1-76 1 112 1 42 1 47 1 35 1-6 1 13 1-30 1-24 1-75 1-83 1-18 1-20 1 1 1-7 1 81 1-38 1-55 1-26 1 51 1 46 1-11 1 83 1-36 1-64 1 40 1-49 1 9 1 4 1 4 1 116 1 55 1-55 1-22 1 45 1-65 1-20 1-65 1 14 1 91 1-9 1-25 1 51 1 72 1 91 1 10 1 38 1-53 1-57 1 14 1 121 1-71 1 47 1-8 1 1 1-33 1-59 1 56 1 62 1 34 1 158 1 12 1-50 1-33 1 46 1-13 1 1 1 71 1-3 1 74 1 40 1-79 1-10 1 12 1-15 1 12 1-65 1 44 1 21 1-60 1 35 1-22 1-99 1 36 1-36 1-47 1-47 1 46 1-14 1 77 1-115 1 4 1-103 1 64 1-1 1 3 1-96 1 64 1 64 1-29 1-78 1 45 1 69 1 24 1-12 1 46 1 37 1-34 1-24 1-55 1-60 1 14 1-3 1-19 1 39 1 27 1 51 1-80 1-19 1-44 1 64 1 40 1 37 1 37 1 2 1 24 1 42 1-19 1-27 1-1 1-17 1-28 1-41 1 93 1 41 1 28 1-51 1 6 1-19 1 81 1-68 1-53 1 32 1 10 1 36 1-66 1-83 1 66 1 44 1 25 1-79 1 18 1 29"/><path d="M0 0l1-52 1-46 1 74 1-29 1 25 1 20 1 12 1 38 1 50 1 80 1-5 1 30 1-53 1-20 1 63 1-20 1 3 1 18 1-4 1-64 1-21 1-27 1 44 1-45 1-47 1-39 1-99 1-66 1-80 1 58 1 5 1 55 1-7 1-49 1 81 1-79 1-22 1-59 1 95 1-51 1-36 1-61 1-105 1-29 1 25 1 12 1-70 1-1 1-34 1 12 1 117 1 33 1 52 1 93 1-61 1-47 1 6 1-125 1 26 1 22 1 39 1 113 1-43 1-59 1-7 1 65 1-16 1 94 1 25 1 22 1-69 1-85 1 63 1 15 1-68 1-30 1-52 1 24 1 15 1-83 1-22 1-40 1-57 1 55 1 28 1-54 1 33 1 39 1-3 1-5 1 17 1-38 1 6 1-42 1 80 1-56 1-12 1-16 1 3 1-13 1 51 1-10 1-52 1 11 1 2 1-20 1 34 1-24 1 36 1 61 1 88 1-82 1-68 1-14 1 24 1 40 1 72 1 1 1-2 1-37 1 14 1 32 1 3 1 22 1 37 1-33 1 28 1-8 1-62 1 29 1 13 1-27 1-27 1-31 1 80 1 17 1 107 1-9 1 48 1 1 1 153 1-33 1 61 1 18 1 8 1 24 1-67 1-17 1 42 1 148 1 75 1 16 1 19 1 17 1 9 1 60 1 69 1 81 1-10 1 145 1-13 1-13 1 12 1-20 1-28 1-57 1-51 1-47 1 46 1 43 1 12 1 58 1 41 1-62 1 3 1 52 1-14 1-9 1-23 1-68 1-59 1-26 1 8 1-12 1 34 1 20 1-31 1 22 1-23 1-28 1-54 1-73 1 35 1 6 1 5 1 15 1 7 1-37 1-60 1 13 1 49 1-40 1 68 1 26 1 9 1-9 1 4 1 14 1 83 1-34 1 69 1-8 1-64 1 34 1-56 1 11 1 42 1-32 1 109 1 20 1-36 1 16 1-54 1-14 1-12 1 52 1 8 1-41 1-46 1 15 1 27 1 26 1-36 1-72 1-55 1-2 1-52 1-3 1-36 1 23 1-18 1 36 1-40 1 26 1-127 1 29 1 22 1 11 1 7 1-3 1-21 1-42"/><path d="M0 0l1 22 1 29 1-27 1 33 1-73 1-8 1-12 1-51 1-67 1 30 1-117 1 11 1 7 1-21 1-15 1 102 1 58 1-75 1 33 1 148 1-17 1-18 1-28 1 6 1 68 1 65 1 34 1 57 1 130 1 17 1-57 1 28 1-17 1-22 1 27 1-14 1 63 1-46 1-15 1 22 1 12 1 6 1-47 1-1 1-72 1-38 1-12 1-97 1 15 1 8 1 98 1-11 1 93 1-85 1-90 1-5 1 15 1 35 1-23 1-40 1-43 1 58 1 18 1 23 1-119 1-60 1-38 1 15 1 95 1 10 1 42 1-119 1-34 1 3 1-2 1-103 1-118 1-27 1-41 1 17 1-7 1 27 1 94 1 26 1 33 1 11 1 35 1 83 1-3 1 102 1-21 1-26 1 89 1 81 1 40 1 62 1-14 1-31 1-11 1-119 1 7 1 33 1-120 1 42 1-5 1 4 1 26 1 38 1-34 1 30 1 72 1 20 1 66 1-1 1-5 1 52 1 32 1 19 1 6 1 18 1-117 1-42 1-30 1 30 1 1 1-7 1 58 1-5 1 14 1-12 1 97 1 55 1-55 1 26 1 2 1 13 1 2 1-16 1 7 1 87 1 44 1 37 1-129 1 7 1 158 1 58 1 60 1-27 1-78 1 31 1 45 1-145 1 11 1 11 1 35 1 56 1 55 1 33 1 69 1-78 1 59 1-91 1-84 1-29 1 77 1 20 1 49 1-117 1 12 1 52 1-23 1-54 1 142 1 79 1 21 1-4 1 37 1-42 1-35 1 23 1-6 1 65 1 38 1-8 1 34 1 71 1-33 1 50 1 31 1-14 1 38 1 29 1-21 1-2 1 0 1-1 1-54 1-26 1-52 1-57 1-17 1-46 1-39 1-85 1 17 1-11 1-96 1 32 1 50 1-44 1-26 1 19 1 4 1 44 1-52 1 23 1 77 1-7 1 10 1 90 1-64 1-28 1 51 1-35 1 40 1-35 1-72 1 51 1 37 1 10 1-53 1 45 1 6 1 13 1 19 1-86 1 102 1 28 1 64 1 85 1 16 1 53 1-55 1-38 1-38 1-76 1 18 1-58 1 11 1 41 1 3 1-27"/><path d="M0 0l1 10 1 68 1 41 1 72 1 8 1 30 1-28 1 88 1 50 1-16 1 69 1 39 1-25 1 65 1 93 1-31 1-36 1-17 1-30 1 14 1-12 1 2 1-65 1-39 1-44 1-1 1-75 1-95 1-63 1 54 1 15 1-13 1 6 1-94 1-29 1 1 1-73 1-71 1-44 1-50 1 42 1 12 1-61 1-60 1-45 1-49 1-106 1-62 1 0 1-70 1-2 1 4 1 48 1 11 1 69 1 72 1-10 1-14 1 9 1 12 1-31 1-3 1-12 1 66 1-44 1 2 1 100 1-57 1-45 1-88 1-51 1-43 1-59 1 32 1 69 1-25 1-70 1 11 1-67 1-13 1 34 1 11 1 64 1 40 1-107 1-95 1 24 1 13 1-32 1-169 1-34 1-39 1 88 1 77 1 75 1 137 1 47 1 41 1 36 1-69 1-14 1 2 1-52 1 17 1-8 1-19 1 23 1 68 1 16 1 12 1-22 1-55 1 18 1-3 1 43 1 23 1-15 1 37 1 1 1 8 1-40 1 21 1 56 1 62 1 7 1-19 1-126 1 43 1-53 1-4 1 32 1-53 1 16 1 28 1-97 1 18 1-66 1 8 1-52 1-78 1-91 1-6 1-10 1 2 1 16 1 115 1-43 1-59 1-24 1 6 1 65 1-28 1-34 1-5 1 115 1 53 1-114 1-39 1-52 1 58 1-158 1-18 1 89 1-29 1-19 1 113 1-19 1 79 1-15 1 55 1 26 1-61 1 35 1 66 1-69 1-16 1 6 1 56 1-86 1-64 1-41 1-16 1-34 1-35 1-1 1 29 1 37 1 29 1-86 1 113 1 37 1-59 1 48 1 8 1 109 1-87 1-96 1-37 1 65 1-69 1-24 1 50 1-61 1 13 1 65 1 49 1-65 1 46 1-62 1 78 1-4 1 89 1 40 1 39 1-97 1-15 1 48 1 27 1-69 1-62 1 82 1-61 1-32 1-31 1-105 1-86 1-107 1 83 1-12 1-30 1 63 1 65 1-5 1 43 1-48 1 135 1-64 1 29 1-45 1 11 1-160 1-66 1 4 1-14 1-1 1-88 1-111 1-37 1 98 1 10 1-58 1-35"/><path d="M0 0l1 42 1 22 1-43 1-32 1 30 1 21 1 111 1 124 1 47 1-63 1 19 1 8 1 37 1-67 1 15 1-28 1-65 1 27 1-36 1 19 1 61 1 49 1-65 1-50 1-36 1-13 1-9 1-110 1-13 1 9 1-32 1-76 1 17 1-27 1 50 1-79 1-1 1-42 1 16 1 76 1-14 1-74 1-30 1-4 1-8 1-87 1-2 1-19 1 9 1-57 1-47 1-48 1-43 1 109 1 28 1 42 1 36 1 38 1-40 1 61 1-100 1-3 1 54 1 19 1 1 1-18 1-16 1 19 1-28 1 12 1 7 1-24 1-78 1 19 1-8 1-34 1 24 1 14 1-22 1 6 1-30 1 70 1-19 1-19 1-69 1 79 1-46 1 2 1-48 1 28 1-39 1 83 1 153 1 41 1-27 1-74 1-8 1-84 1 75 1-58 1-23 1 66 1-17 1 56 1-78 1-120 1-53 1 81 1 52 1 85 1 111 1 12 1-34 1-23 1-15 1-86 1-15 1 7 1-108 1-1 1-46 1-4 1 33 1-30 1 28 1-34 1-120 1 31 1 25 1-112 1-2 1 57 1 48 1 93 1-11 1 114 1 65 1 150 1 77 1 13 1-87 1-34 1 8 1-49 1 38 1-11 1-52 1-43 1-26 1 7 1-22 1-45 1 58 1-80 1-9 1-90 1-84 1-59 1 30 1-17 1 113 1 48 1-69 1-94 1-11 1 67 1 22 1-54 1 48 1 69 1-175 1 53 1-57 1 108 1-81 1-41 1-85 1-56 1-88 1 12 1-105 1-14 1-68 1-125 1 53 1-106 1 24 1 145 1 62 1-35 1 50 1 23 1-26 1-50 1 19 1 48 1-45 1 14 1-40 1-46 1 43 1-119 1 127 1-101 1 30 1-25 1-80 1 19 1 44 1 45 1 63 1 2 1-30 1 11 1-49 1-21 1-37 1-9 1 116 1 79 1 21 1-5 1-28 1 86 1 86 1 78 1-61 1 27 1-12 1 71 1-33 1 10 1 133 1-63 1-1 1 7 1 11 1-28 1-146 1-35 1 42 1-105 1 31 1 25 1-101 1 4 1 74 1-2 1-41 1 5 1-20 1 123"/><path d="M0 0l1-5 1 31 1-12 1-41 1 74 1 87 1 76 1 33 1 28 1 9 1 80 1-19 1 39 1-18 1-40 1-46 1-19 1-102 1 34 1 2 1-78 1-150 1 76 1 34 1-33 1-6 1 45 1 50 1-7 1 35 1 54 1-111 1 25 1 26 1-10 1-41 1-71 1-17 1 47 1-102 1 52 1-24 1-49 1 16 1 103 1-26 1-67 1-14 1 59 1-30 1 50 1-6 1 1 1-69 1 56 1-3 1 0 1 42 1-64 1 39 1-48 1 39 1-5 1 59 1 90 1 12 1-19 1 18 1-14 1-7 1 27 1-42 1-84 1-12 1 81 1 64 1-78 1-87 1 34 1-13 1 8 1-10 1 65 1 14 1 4 1 34 1-48 1 15 1 63 1-8 1-1 1 18 1-115 1 14 1-25 1 13 1-74 1-113 1-16 1 108 1-67 1-146 1 13 1-6 1-34 1 11 1 74 1 55 1 4 1 15 1-34 1 30 1 83 1-55 1 33 1 3 1-51 1 33 1-67 1 2 1-52 1 6 1 11 1 5 1 46 1-107 1 20 1-84 1 12 1-65 1 23 1-124 1 18 1 8 1-90 1-21 1 38 1-81 1 7 1-12 1 19 1-46 1-26 1-4 1-5 1 13 1-2 1-8 1 117 1 3 1 55 1 49 1-13 1-57 1 115 1 22 1-10 1 18 1 42 1 14 1 7 1 95 1 73 1 30 1 14 1-27 1 84 1-2 1-71 1-67 1 18 1-24 1-18 1 0 1 79 1-100 1 17 1-37 1-41 1 24 1 31 1-9 1-25 1-114 1 14 1-84 1 78 1 35 1 72 1-52 1-66 1-45 1 70 1 59 1-85 1 21 1-42 1 70 1 5 1 16 1 9 1 10 1-7 1-10 1 66 1 39 1-46 1-24 1-37 1 33 1 28 1-12 1 3 1 40 1 38 1-116 1 10 1-52 1-26 1 78 1 98 1 60 1-11 1 7 1-19 1 19 1 68 1-4 1-79 1-62 1 48 1-80 1-18 1-73 1 16 1 21 1 72 1 94 1 8 1-11 1-22 1-93 1 20 1-52 1-82 1-125 1 93 1-27 1-50 1 17 1-44 1 27"/><path d="M0 0l1 13 1 24 1 13 1 8 1 37 1 39 1 46 1 18 1 142 1-43 1-7 1-54 1-47 1 27 1-47 1 39 1-94 1-18 1 22 1-7 1-15 1 36 1 11 1 21 1 45 1-18 1-94 1-12 1 62 1-61 1 16 1 18 1 29 1 27 1 36 1-34 1-36 1 65 1 60 1 56 1-21 1 38 1-64 1 37 1-12 1-61 1 22 1-8 1 25 1 73 1-89 1 40 1 76 1-21 1-94 1-85 1-21 1-57 1-77 1 27 1 13 1-69 1 46 1 0 1 104 1 23 1 45 1-2 1 66 1 2 1-13 1 31 1 21 1 8 1-71 1-5 1-48 1-14 1-16 1-95 1 33 1-25 1 3 1 80 1 119 1 22 1 25 1 20 1-106 1 41 1-1 1 41 1-40 1-3 1 1 1-5 1 29 1 31 1 95 1-59 1-4 1 2 1 47 1 29 1-59 1 18 1 20 1-47 1 29 1-42 1-71 1-33 1-38 1-85 1-95 1-2 1 98 1-86 1 42 1 47 1 19 1 48 1-71 1 4 1 52 1 45 1 34 1-16 1-2 1-18 1-26 1-47 1-53 1-47 1-67 1 1 1-10 1-60 1-19 1-24 1 65 1 42 1-5 1-9 1-84 1 28 1 15 1-90 1-22 1-16 1-10 1-16 1 15 1-20 1-7 1 47 1 69 1 41 1-52 1-119 1 1 1-65 1 33 1 12 1-22 1-14 1-14 1 27 1 49 1 20 1 65 1-17 1-54 1 61 1 25 1 116 1 9 1-38 1 43 1 62 1-64 1 62 1 18 1-63 1 81 1-55 1-40 1 70 1-44 1 90 1 35 1 89 1 57 1 68 1 25 1 39 1 114 1 102 1 45 1 57 1-2 1 19 1 47 1-25 1-27 1 41 1 7 1 5 1-27 1 15 1-39 1-5 1-19 1 31 1 36 1 77 1-1 1-38 1-31 1 3 1 11 1-6 1 20 1-17 1 1 1 9 1-12 1-68 1-37 1-26 1 12 1-1 1 59 1 15 1 4 1-19 1 1 1 36 1-26 1 67 1 40 1 10 1 8 1 47 1-8 1 36 1 19 1-3 1-7 1-5 1 26 1 2"/><path d="M0 0l1 18 1-14 1 74 1-36 1 7 1 44 1-36 1-104 1-24 1-14 1 7 1 2 1-36 1-25 1-53 1 19 1-84 1 96 1 21 1 24 1 22 1-12 1-49 1 62 1-28 1-43 1 1 1-31 1-13 1-10 1-27 1 11 1 13 1 56 1-60 1-3 1 60 1 83 1-31 1-20 1-48 1 65 1 45 1 55 1-37 1-8 1-25 1 59 1-29 1 42 1-1 1-14 1-16 1 23 1-24 1 14 1 13 1-54 1-25 1-8 1-69 1-2 1 29 1-52 1-40 1-43 1 16 1-5 1-36 1-47 1-8 1 1 1-30 1 79 1-30 1 40 1-78 1 66 1 31 1-19 1 47 1 13 1 88 1-38 1-28 1-28 1-9 1-62 1 70 1 79 1-21 1-3 1-23 1 44 1-34 1-29 1-68 1 28 1-11 1 48 1 4 1-66 1-8 1 52 1 3 1 58 1-104 1-40 1-1 1-33 1-22 1 17 1-107 1-37 1 87 1-14 1 110 1-77 1-79 1-26 1 34 1 59 1-43 1-31 1-75 1-19 1 78 1 21 1-16 1-32 1-3 1-57 1 20 1-66 1 126 1-60 1-45 1-61 1 17 1 12 1-12 1-132 1-19 1-52 1 38 1-62 1 107 1-82 1-19 1-77 1 84 1-2 1 82 1-24 1-32 1 28 1 17 1-64 1-70 1-41 1-84 1-18 1-28 1 135 1-2 1-29 1-10 1 104 1-8 1-17 1-36 1 21 1-40 1-48 1 53 1 11 1-83 1-38 1 65 1-8 1-30 1-60 1 18 1 47 1 101 1-9 1-89 1-73 1-33 1-46 1 21 1-27 1-32 1-140 1 8 1-34 1 62 1 51 1 19 1 78 1-101 1 57 1-53 1 34 1 6 1-5 1 4 1-38 1 27 1-12 1 108 1 23 1-64 1-8 1-81 1-16 1 6 1-64 1 9 1-60 1-128 1-17 1 69 1 12 1 32 1 44 1-53 1 8 1-13 1 18 1-62 1 76 1 29 1-23 1 46 1 108 1-70 1-20 1-46 1 32 1 25 1 16 1-26 1 42 1 11 1 150 1 48 1 145 1-98 1 130 1-4 1-67"/><path d="M0 0l1 1 1 20 1-27 1-24 1-21 1-11 1-3 1-4 1 34 1 98 1 93 1 8 1-79 1 89 1-25 1 52 1 127 1-50 1-74 1-35 1 12 1-15 1 60 1-97 1 76 1-48 1-14 1 73 1 65 1-45 1-23 1 7 1-48 1-65 1-92 1-72 1 82 1-43 1-46 1 51 1-66 1-59 1-56 1-22 1-57 1 91 1 24 1-52 1-2 1-41 1 17 1 3 1-51 1-75 1 107 1 2 1 26 1 7 1 26 1-14 1-57 1-53 1-11 1 14 1 1 1-34 1-15 1 13 1 16 1-66 1-61 1 143 1-35 1 45 1 53 1 60 1-70 1-1 1 58 1 74 1 27 1-47 1-64 1-60 1-152 1-52 1-49 1 25 1-7 1 75 1 43 1 86 1 52 1-31 1 35 1 38 1-49 1 48 1-13 1 96 1 19 1 22 1 11 1 37 1 83 1 38 1-75 1 36 1-30 1 39 1-15 1 25 1 15 1-4 1-2 1 53 1 25 1-39 1 0 1-7 1-91 1-8 1-54 1-1 1-22 1 10 1 15 1-3 1 49 1-39 1-34 1 44 1-11 1 70 1 24 1-20 1 18 1 23 1-16 1-10 1-19 1-48 1-89 1 34 1-48 1-32 1-116 1 20 1 16 1-36 1-3 1-7 1 47 1 20 1-50 1 27 1-46 1-118 1 48 1-11 1-47 1 2 1-43 1-14 1-94 1 21 1 59 1-87 1 44 1-60 1 75 1-7 1-1 1 41 1 5 1 80 1 4 1 21 1-52 1-123 1 4 1 53 1 13 1-95 1-26 1 97 1 60 1 7 1-4 1-24 1 32 1 61 1-69 1-75 1 33 1-16 1 40 1-12 1 29 1 55 1 12 1 78 1-34 1 4 1-84 1 48 1-44 1 68 1-19 1-8 1 30 1-20 1-42 1 27 1-97 1-73 1-83 1 32 1-53 1 42 1-25 1-70 1-43 1-75 1 69 1 83 1 21 1 42 1-8 1-52 1-16 1 3 1-51 1-18 1 17 1-76 1-57 1 35 1-34 1 33 1 3 1 30 1 39 1-26 1 22 1 30 1 14 1 84 1-35 1 23 1 30 1 19"/><path d="M0 0l1 41 1 47 1-9 1 31 1 41 1-11 1 85 1 38 1-39 1-12 1 3 1 17 1 0 1-3 1 25 1 55 1-53 1-16 1 11 1 27 1 38 1-27 1-45 1 76 1 54 1-22 1 8 1-22 1-64 1-39 1-14 1 32 1-111 1 100 1-21 1 22 1 38 1 77 1 65 1-18 1 44 1-58 1 73 1 25 1 10 1-28 1 39 1 70 1-23 1 21 1 73 1 7 1 24 1 32 1 41 1 25 1 20 1-25 1 13 1 0 1-1 1-53 1 86 1 57 1-1 1-91 1 26 1 23 1-99 1-94 1 74 1-22 1-9 1 8 1 17 1-1 1 22 1-54 1 2 1 63 1 20 1-40 1 21 1-44 1 18 1-31 1 42 1-52 1-9 1-59 1-20 1 17 1-35 1 9 1 21 1-13 1-20 1-42 1 119 1 71 1 34 1 45 1 6 1 9 1-122 1 61 1-29 1 19 1 2 1 49 1-56 1 46 1 26 1 59 1-113 1-99 1-45 1-51 1-31 1-4 1 26 1-28 1-96 1 0 1-23 1-60 1-19 1-25 1-27 1-67 1 78 1-18 1-52 1 43 1 41 1-101 1-25 1-34 1-24 1-23 1-90 1-53 1 1 1-27 1 32 1-30 1 54 1 3 1-27 1 24 1-73 1 66 1 11 1 14 1-83 1 4 1 27 1-74 1 71 1-41 1 138 1 4 1-83 1-12 1-39 1 20 1 44 1 101 1-67 1-18 1-10 1 53 1 18 1 75 1 36 1-33 1 21 1 9 1 0 1 5 1-98 1-2 1 22 1-56 1-45 1 51 1 25 1-2 1-12 1 34 1-55 1-26 1-123 1-117 1 28 1-63 1-13 1-123 1 33 1 28 1-15 1-10 1 3 1-123 1-1 1-7 1-2 1-45 1-22 1 9 1-80 1 28 1 41 1-74 1-70 1-27 1-70 1 11 1 44 1 1 1-60 1 72 1-11 1 9 1-20 1 35 1 78 1-61 1 13 1-6 1-18 1 7 1 9 1-78 1-42 1 106 1 36 1-31 1-71 1-44 1 61 1-90 1-5 1 73 1-10 1-53 1-38 1 71 1 15 1 54 1 71 1 53"/><path d="M0 0l1 42 1-27 1-35 1-104 1 74 1-28 1 13 1-11 1-56 1-52 1 1 1-4 1 56 1 28 1 15 1 48 1 15 1-84 1 31 1 95 1 51 1 49 1-72 1 28 1-44 1 23 1 89 1 17 1-32 1 33 1 51 1-52 1-19 1-33 1 44 1-90 1-115 1-1 1 15 1 14 1 14 1-27 1-5 1 12 1 20 1-13 1-37 1 16 1 31 1-33 1-20 1 66 1 86 1-9 1 85 1-18 1-101 1-27 1 30 1 83 1 8 1-3 1 58 1-44 1-61 1-26 1 31 1-2 1-18 1-1 1 74 1 21 1-1 1 32 1 10 1 8 1-10 1-20 1 10 1 6 1 58 1-11 1 55 1 35 1 42 1-10 1-23 1 16 1 32 1-12 1-17 1-117 1-58 1-56 1-38 1-41 1-10 1 28 1-55 1-21 1 21 1 30 1-30 1 24 1 27 1-110 1 192 1 48 1-10 1-36 1 26 1-47 1 16 1-47 1 8 1 44 1 94 1 45 1-47 1-28 1 9 1 57 1-110 1-10 1 42 1 8 1 57 1-76 1 93 1-28 1-42 1-7 1-52 1 9 1 41 1-4 1-22 1 47 1-26 1 15 1-14 1 54 1-20 1 22 1 51 1-54 1-4 1-14 1-79 1-21 1-25 1 36 1 70 1 3 1-54 1-136 1 14 1 9 1-44 1 61 1 86 1 44 1 5 1-43 1-30 1 12 1-60 1-6 1 29 1-9 1-23 1-40 1-8 1 55 1-9 1-5 1 52 1-20 1 21 1-29 1-50 1-45 1-64 1 53 1-15 1-11 1-69 1 60 1 121 1 15 1-97 1-46 1-55 1-37 1 67 1 21 1-30 1 30 1-70 1 13 1-50 1-43 1-29 1 41 1-55 1-39 1 41 1 32 1-34 1 19 1-4 1-26 1-94 1-58 1-37 1-63 1 20 1-36 1 27 1 8 1-174 1-6 1-17 1-8 1 44 1-12 1-13 1 67 1 102 1 45 1-47 1-57 1 87 1-138 1 11 1-79 1-52 1 39 1-15 1 11 1 41 1-53 1 69 1-13 1-22 1 63 1 28 1-14 1-94 1-70 1 72 1 52"/><path d="M0 0l1-8 1 88 1-5 1-35 1 88 1 10 1-24 1 81 1 8 1 43 1-110 1 86 1-14 1-37 1 33 1 16 1-26 1 34 1-18 1-56 1 21 1 136 1-145 1 34 1-62 1-46 1 8 1-62 1-93 1-113 1-80 1-78 1 90 1 67 1-29 1-12 1 17 1 15 1-13 1-57 1 83 1-30 1 29 1 93 1-33 1 47 1-36 1-49 1-31 1-75 1-33 1 14 1-46 1 14 1-67 1-58 1-58 1 111 1-33 1-17 1 66 1 88 1 11 1 14 1 74 1-36 1 45 1 30 1-82 1-63 1-2 1 64 1-54 1 103 1 11 1 58 1 31 1 57 1 25 1 89 1-9 1 3 1-24 1-8 1-111 1-57 1 56 1 44 1-6 1 91 1-40 1-4 1 49 1-68 1 21 1 46 1-26 1 33 1-9 1-100 1 26 1-57 1-11 1-35 1-6 1-43 1-49 1-113 1 20 1 25 1 40 1-49 1 6 1-85 1 45 1 114 1 68 1 55 1-18 1-49 1-12 1 23 1 20 1-120 1-27 1-24 1 36 1-23 1 78 1 32 1 115 1 82 1 39 1-44 1 119 1 38 1-17 1-3 1-25 1 63 1 62 1-41 1-14 1-34 1-24 1-56 1-43 1-3 1 35 1-131 1-53 1-42 1 10 1 57 1 86 1-43 1-26 1-67 1 89 1-13 1-105 1 18 1 35 1 35 1 44 1-58 1-92 1 68 1-49 1-67 1 39 1-103 1 89 1-76 1 16 1-38 1 16 1 10 1 48 1-61 1 6 1-38 1-71 1 40 1-10 1-81 1-26 1-24 1-40 1-50 1-80 1-7 1-28 1 30 1-26 1 34 1 47 1 50 1 46 1-52 1 2 1 52 1-78 1 75 1 54 1 41 1 76 1-27 1-27 1 59 1-72 1 56 1-1 1 35 1 63 1-63 1-12 1-8 1 13 1-24 1 4 1 7 1-3 1 24 1-7 1 36 1-24 1 50 1 79 1 73 1-34 1-53 1 44 1 9 1 19 1 9 1 6 1-60 1-44 1-22 1 80 1 1 1-4 1 23 1 63 1 9 1-36 1 28 1-29 1 33 1-142 1 94"/><path d="M0 0l1-16 1 24 1-2 1 1 1-36 1-28 1 31 1-64 1-63 1 25 1-29 1-1 1 1 1-71 1 26 1-14 1 44 1-37 1 57 1-31 1-45 1-83 1-92 1 19 1-16 1-32 1-14 1 21 1-93 1-49 1 33 1-6 1-128 1-46 1-33 1-26 1-16 1-88 1 9 1 1 1 1 1-42 1-45 1 24 1 90 1 46 1 19 1-14 1 28 1 1 1-44 1 17 1-71 1-28 1 44 1-76 1-99 1-105 1 46 1-11 1 1 1-49 1-105 1 114 1-1 1-14 1 31 1-83 1 39 1 38 1-15 1-28 1 92 1 84 1-40 1-10 1 43 1-15 1 42 1 29 1-2 1-34 1-46 1-19 1-38 1-10 1-110 1-131 1-5 1-67 1-55 1 14 1-83 1-25 1 0 1 69 1-70 1 0 1-12 1-54 1-24 1 32 1 3 1-32 1-41 1 20 1-45 1-14 1 111 1 6 1 55 1 30 1 0 1-92 1-87 1 79 1 55 1 31 1-147 1-75 1-34 1-72 1-2 1-54 1 17 1-11 1 70 1 3 1 43 1-16 1 1 1-8 1 59 1 83 1 2 1 7 1 7 1 44 1 90 1-35 1-23 1 63 1 14 1 24 1-74 1-40 1 29 1-10 1-12 1-18 1-113 1-14 1 38 1-20 1 11 1 13 1-19 1 11 1-68 1 34 1 1 1-119 1 7 1 18 1 42 1 35 1-35 1-55 1-10 1-11 1 26 1 60 1-86 1-90 1-41 1-13 1-128 1 48 1-66 1 9 1-19 1-32 1-48 1 108 1 63 1 71 1-10 1 111 1 32 1 8 1 38 1-46 1 49 1-49 1 70 1 16 1-92 1 27 1 0 1-12 1 20 1 46 1 33 1 3 1-64 1 54 1-11 1 33 1 6 1-79 1-53 1-87 1 207 1 3 1-88 1-75 1 12 1 18 1-47 1-1 1-12 1 69 1 93 1 48 1 29 1-31 1 164 1 24 1 48 1 0 1-102 1 12 1-91 1 2 1 5 1-42 1 121 1 1 1-101 1-27 1 66 1 25 1-45 1-33 1-8 1 44 1-86 1-10 1-44 1-31 1-9 1 77"/><path d="M0 0l1-102 1-41 1 13 1-9 1-48 1 37 1-15 1-59 1 41 1-44 1 117 1-12 1 15 1 65 1-5 1-77 1 35 1-66 1-42 1 25 1 104 1 45 1-18 1 45 1-66 1 151 1-42 1 39 1-2 1-21 1-24 1-54 1 51 1-22 1 67 1 41 1 17 1 10 1 51 1-87 1-101 1 46 1 40 1-84 1-22 1-1 1 0 1 52 1-32 1-87 1 9 1 75 1-102 1 5 1 116 1-98 1-8 1 53 1-28 1 14 1-6 1 27 1-118 1 52 1-35 1 81 1-5 1-65 1-46 1 90 1 31 1 65 1 25 1-88 1-30 1 107 1-73 1 0 1-29 1-49 1-58 1 106 1-2 1 57 1-25 1 80 1-109 1 73 1-13 1 23 1-30 1-36 1-24 1 48 1-72 1-86 1 17 1 38 1 42 1-79 1-8 1-1 1 85 1-39 1-21 1 11 1-45 1-70 1-18 1 71 1 27 1-2 1 121 1 42 1 39 1-11 1-63 1 10 1-43 1 37 1 28 1 15 1-26 1-5 1 17 1 13 1-53 1 25 1-47 1-28 1 0 1 5 1-44 1-14 1 3 1-38 1-36 1 107 1 48 1-46 1-75 1 69 1-14 1 78 1 51 1 76 1-6 1 15 1 9 1-60 1 2 1-6 1 70 1 78 1 47 1-2 1-37 1-11 1 51 1-32 1 24 1 68 1 19 1 28 1 36 1 105 1-68 1 24 1-29 1-59 1-13 1 10 1 5 1-8 1-3 1 1 1-43 1 81 1 33 1 15 1-94 1-38 1-11 1 64 1-97 1-3 1 27 1 104 1-55 1-45 1-119 1 43 1 57 1 20 1 5 1 61 1-15 1 3 1-66 1 29 1-22 1 74 1-10 1-12 1 2 1 38 1 10 1 8 1-105 1-36 1 19 1 10 1 30 1 36 1 53 1 35 1 97 1-18 1 23 1 77 1-24 1 46 1 21 1-19 1-77 1 13 1-70 1-24 1-18 1 24 1-11 1-20 1-83 1 22 1-21 1-42 1-67 1-40 1-17 1 16 1-12 1-34 1 79 1 24 1 54 1-33 1-40 1 25 1-58 1-44 1-63 1 78"/><path d="M0 0l1 57 1-27 1 10 1-4 1 16 1 28 1-18 1-5 1 47 1-55 1-66 1-29 1-24 1-62 1-80 1 31 1 71 1 20 1-95 1 30 1 65 1 5 1-12 1 15 1-30 1 62 1 31 1 50 1-72 1-124 1 24 1-3 1-62 1-53 1-35 1-70 1 12 1 29 1-61 1 89 1-44 1 2 1 23 1-1 1-82 1-5 1 40 1 43 1 46 1-44 1-19 1 37 1-9 1 16 1-65 1 75 1-69 1 64 1 103 1 15 1-81 1-16 1 77 1-164 1 25 1 2 1 33 1-56 1 17 1-51 1 12 1 34 1-3 1 34 1-30 1 29 1 127 1-26 1-37 1 26 1 4 1-50 1 109 1 20 1 37 1 62 1-74 1-8 1 35 1 24 1 25 1-22 1-23 1 41 1-5 1-21 1-15 1 37 1-9 1-21 1-8 1-43 1 3 1 3 1-20 1-51 1 71 1-81 1-31 1-2 1-62 1 78 1 54 1 89 1-10 1-58 1 31 1 0 1-28 1-69 1 81 1-13 1 19 1-35 1-20 1-43 1-40 1 13 1-25 1-19 1-42 1-30 1-39 1 12 1 26 1-6 1 16 1-50 1-8 1-64 1 63 1-26 1-12 1-98 1 54 1-29 1-142 1 8 1-26 1-60 1-114 1-49 1-17 1-60 1-16 1-28 1-42 1-55 1-54 1-69 1 4 1 23 1 37 1 13 1 53 1 70 1 77 1-75 1 17 1-15 1-92 1-19 1 170 1-46 1-47 1-33 1 36 1-20 1-68 1 74 1 59 1 63 1-4 1 16 1-15 1-22 1-70 1-52 1-5 1-50 1-34 1 94 1 182 1-102 1 8 1 40 1-11 1-10 1-79 1 82 1-44 1 71 1 14 1 49 1-89 1 119 1-3 1-15 1 60 1 13 1-27 1 9 1 5 1 140 1 103 1 38 1 24 1-153 1-41 1-82 1 66 1-3 1-15 1 25 1 76 1 67 1-31 1 38 1-42 1-42 1-69 1-45 1 131 1-64 1-54 1 95 1 31 1 44 1 1 1 31 1 21 1 42 1 55 1-68 1 20 1-95 1 37 1-1 1 12 1-58 1-32 1-109"/><path d="M0 0l1 66 1-18 1 47 1 60 1-112 1-2 1 3 1-30 1-34 1-1 1-46 1-33 1 14 1-4 1 64 1-38 1-3 1-41 1 31 1 15 1 77 1-27 1-38 1-31 1-19 1-7 1-55 1 78 1 68 1-40 1 81 1-22 1 43 1-4 1 47 1 1 1 29 1 22 1-96 1-21 1-30 1 12 1-66 1-3 1-48 1 30 1-20 1 61 1 21 1 44 1-73 1 22 1-1 1-118 1-8 1 40 1-91 1 54 1-34 1 62 1 37 1 33 1-30 1 26 1 20 1-14 1-33 1 95 1 10 1 60 1 82 1 20 1-36 1 50 1-7 1 37 1-23 1-78 1-24 1 53 1 69 1-64 1-35 1 0 1 111 1 13 1 101 1 1 1-12 1-76 1-14 1-46 1 95 1 23 1-36 1-4 1 56 1-3 1-30 1 37 1-43 1-80 1-1 1 24 1-100 1-55 1-41 1 21 1-59 1-91 1-56 1 56 1 32 1 53 1 18 1 29 1-12 1-49 1 0 1 16 1 27 1-40 1-30 1-102 1-8 1 34 1-52 1-9 1 18 1-36 1 2 1 49 1 17 1 31 1 70 1 89 1 16 1-118 1-18 1-84 1-25 1 9 1 2 1 32 1-32 1-36 1 19 1 43 1 26 1 65 1-28 1 69 1-95 1-74 1-120 1 26 1 39 1-6 1 115 1 41 1 24 1-19 1-11 1 64 1-16 1 58 1 24 1-7 1-48 1-5 1-48 1-98 1-53 1 15 1-27 1 14 1 26 1-67 1-32 1 62 1 35 1 63 1-83 1 69 1 74 1 43 1 69 1 50 1-57 1-53 1 20 1-53 1 139 1-65 1-68 1 17 1-110 1 8 1-32 1 9 1 19 1 22 1-165 1-37 1-78 1 48 1-28 1 87 1-10 1 42 1-49 1 1 1-135 1 41 1-64 1 22 1-29 1 10 1 17 1 20 1-75 1-49 1-14 1-20 1 21 1 78 1-3 1-107 1 73 1 117 1 65 1 143 1-55 1-49 1-34 1 73 1 5 1 1 1-52 1 63 1 12 1 67 1-26 1 52 1-53 1-77 1 9 1 84 1 0 1-7 1 121 1 38"/><path d="M0 0l1-65 1 3 1-15 1-51 1-57 1-21 1-7 1-67 1-6 1-80 1 93 1-69 1-134 1 67 1-5 1-46 1-18 1-15 1-14 1-17 1 72 1 42 1-27 1 52 1 56 1 59 1-14 1 123 1 19 1-65 1 69 1-16 1 12 1-13 1-82 1 68 1-40 1-44 1 75 1-5 1-4 1 25 1-6 1-39 1-5 1-49 1 70 1-45 1 14 1 74 1 32 1-16 1-10 1-81 1-23 1 2 1-38 1-110 1 43 1-9 1-47 1 51 1 1 1-25 1-20 1 1 1 29 1 119 1-23 1 45 1-13 1-46 1-33 1 77 1-12 1-68 1-55 1 58 1-61 1-54 1-19 1-1 1 43 1-6 1 57 1-129 1-102 1 54 1-52 1 33 1 53 1 86 1 19 1 2 1-35 1 93 1-10 1 6 1-89 1-97 1 16 1-17 1-7 1-28 1 57 1 20 1 75 1 29 1-33 1 38 1-54 1-18 1-57 1-84 1 72 1 18 1 36 1 103 1-155 1-66 1 22 1 6 1 124 1-6 1-38 1-28 1 58 1-44 1-11 1 17 1-13 1-28 1 90 1 54 1-78 1 12 1 52 1 34 1-1 1 45 1 96 1-35 1 104 1 9 1-41 1-4 1-20 1 17 1 51 1-46 1 88 1 26 1 89 1 18 1-179 1-26 1-99 1 32 1-129 1-53 1 27 1-46 1-10 1 41 1 38 1 38 1 12 1-73 1-5 1-117 1-23 1-25 1-58 1 115 1-22 1 7 1 77 1 0 1-61 1 55 1 34 1-21 1-29 1-34 1 21 1-49 1 55 1 61 1-62 1-52 1-12 1-3 1 9 1 7 1-40 1-36 1 19 1 54 1-56 1 98 1-48 1-49 1-127 1-158 1-15 1-74 1-21 1-15 1 56 1-109 1-80 1 2 1 53 1 9 1-27 1 90 1 93 1-74 1 108 1-38 1-23 1-2 1-44 1 8 1 47 1 1 1 27 1 42 1-96 1-64 1-18 1 33 1 46 1-20 1-89 1-70 1-21 1 37 1 56 1 92 1 30 1 85 1 61 1-61 1-48 1 17 1 29 1 66 1-104 1 16 1 112 1-29"/><path d="M0 0l1 27 1 32 1 2 1 93 1 14 1 6 1-60 1 24 1 34 1-53 1 22 1 31 1-58 1-65 1-10 1 81 1-53 1 26 1-24 1 57 1-19 1 5 1-60 1-1 1-52 1 52 1-52 1 1 1 52 1-31 1-5 1 20 1-53 1 31 1 15 1-6 1 39 1-40 1-33 1-13 1 13 1 34 1 131 1-60 1 0 1-23 1 28 1-8 1 28 1 33 1 43 1-19 1-24 1-40 1-53 1 43 1-68 1 29 1 1 1 21 1 2 1 35 1-89 1 42 1 97 1-46 1 8 1 10 1-23 1-9 1-21 1 59 1 37 1-39 1 15 1 61 1-26 1 23 1 51 1-20 1-95 1 10 1 20 1 53 1 5 1-52 1-1 1-1 1-5 1 25 1-4 1-38 1 14 1 7 1 14 1 11 1-63 1-5 1 6 1-4 1 89 1-38 1 12 1 44 1 45 1 12 1-61 1 29 1-19 1 22 1-22 1-15 1-7 1-18 1 13 1-9 1 3 1 17 1-2 1 47 1-1 1-62 1-10 1 53 1 45 1-43 1 51 1 53 1 31 1 68 1 71 1 28 1 54 1 38 1 17 1 13 1 7 1 70 1-17 1-86 1-67 1-27 1 37 1 0 1 1 1-71 1-11 1 16 1 39 1 14 1 23 1 29 1-33 1 37 1 78 1 83 1-8 1-108 1 31 1-59 1-55 1-3 1-24 1-40 1-46 1 62 1 89 1 46 1 78 1-14 1-30 1 34 1 69 1 58 1 33 1 48 1-44 1-55 1 25 1 53 1 16 1 41 1-44 1 32 1-49 1-50 1-21 1-32 1 71 1-24 1-52 1 16 1-5 1 13 1-67 1 60 1-23 1 3 1-25 1 33 1-5 1-19 1 28 1 14 1-47 1-69 1-19 1-75 1-13 1-15 1-22 1-22 1-34 1 2 1 66 1 45 1-6 1 1 1-7 1-68 1-3 1-3 1-85 1 31 1 40 1 34 1-2 1-58 1 15 1-20 1 33 1 21 1-18 1 27 1 51 1-49 1-18 1 6 1 16 1-5 1 54 1-13 1-10 1-68 1 81 1 29 1-24 1 65 1 46 1-79 1 68 1-42"/><path d="M0 0l1 5 1 58 1 21 1-19 1 23 1 16 1-35 1-10 1 1 1 29 1-26 1 20 1 20 1-75 1 90 1 39 1-100 1 52 1-16 1 2 1 0 1 22 1 58 1 84 1 63 1 94 1 16 1 52 1-53 1 39 1-59 1-94 1-63 1 27 1 1 1 72 1-4 1 7 1 19 1-12 1 77 1-8 1 29 1 20 1 102 1 37 1-8 1-112 1-87 1 0 1 113 1-11 1 30 1 21 1-49 1 35 1-39 1-55 1-26 1-109 1-22 1 3 1 65 1-24 1 82 1 27 1 22 1 25 1 40 1 7 1-12 1-66 1-47 1 69 1 41 1-16 1-73 1-6 1 16 1-104 1-2 1-46 1 8 1 58 1-30 1-4 1-32 1 11 1 10 1 15 1-8 1 52 1 36 1 4 1-57 1 23 1 28 1 35 1 65 1 40 1 47 1 15 1-50 1-89 1-9 1-55 1 24 1 43 1 28 1 1 1-21 1 3 1 33 1 4 1-26 1 13 1-32 1 24 1-42 1 51 1 2 1 141 1 15 1 30 1 34 1 1 1-39 1-84 1 16 1-13 1 17 1 23 1-44 1-68 1-17 1-146 1-48 1 5 1 62 1 17 1-5 1-23 1 46 1-12 1-25 1 51 1-38 1-21 1 39 1-56 1 51 1 44 1-32 1 9 1 66 1-57 1-57 1-46 1-29 1-9 1 31 1-65 1-12 1 20 1 32 1-77 1 2 1 75 1 49 1 10 1 5 1 72 1 10 1 70 1-30 1-23 1-82 1-80 1-12 1-29 1 7 1-65 1-27 1-20 1-8 1 8 1 10 1 2 1-24 1-10 1 23 1-35 1 77 1 76 1 83 1-22 1 78 1-49 1 26 1-18 1 101 1 10 1 65 1 5 1 56 1 20 1-15 1 69 1 29 1-40 1 5 1 87 1 49 1 4 1-44 1 31 1-78 1-38 1-60 1-48 1 78 1-91 1 92 1 46 1 42 1 92 1 40 1-53 1 90 1-77 1-42 1-18 1-42 1 1 1-97 1-63 1 34 1-49 1 18 1 19 1-6 1-60 1-25 1-2 1 10 1-47 1-6 1-69 1 45 1 41 1-46 1 17"/><path d="M0 0l1-37 1-88 1-3 1-6 1 9 1-49 1 91 1-26 1 48 1 2 1-49 1 19 1-139 1-99 1-27 1-16 1-20 1-48 1-115 1-138 1-42 1-18 1-38 1-45 1-21 1 75 1-82 1 63 1 1 1 44 1-43 1 38 1-50 1-61 1-4 1-29 1-26 1 26 1 99 1-4 1 7 1 8 1-102 1 74 1-2 1 79 1-27 1 7 1-19 1 13 1 110 1 43 1 36 1-79 1 54 1-97 1 48 1 128 1-114 1 2 1-72 1 21 1 25 1 0 1 88 1-28 1-18 1 31 1 77 1-4 1 11 1 44 1 62 1 31 1-8 1-46 1 50 1 21 1 15 1-57 1 5 1 65 1 113 1-26 1 32 1-27 1-52 1-80 1 32 1 18 1-45 1-47 1 67 1-20 1-41 1-104 1 1 1 82 1-101 1-52 1-39 1-10 1-11 1 11 1-33 1 46 1-29 1-1 1-20 1 29 1 29 1-18 1-70 1 82 1-71 1-45 1 9 1-28 1-25 1-58 1-5 1 89 1 41 1 28 1-21 1-26 1 23 1-99 1-3 1 38 1-36 1-179 1-90 1-45 1-18 1 6 1-174 1-145 1 24 1-77 1 8 1-155 1-2 1 49 1-69 1 47 1-77 1-7 1 20 1 39 1 37 1-16 1-18 1 46 1-37 1-27 1 38 1-44 1 51 1-93 1-15 1 52 1 25 1-87 1-2 1-59 1 1 1 32 1-95 1 87 1-30 1-148 1 25 1 43 1 90 1 153 1-1 1 81 1 46 1-175 1-150 1 9 1 25 1-13 1 20 1-3 1-70 1 74 1-35 1 52 1-46 1 15 1 38 1 6 1-29 1 45 1-1 1-37 1-37 1 19 1 53 1 48 1-108 1 0 1-40 1-12 1 37 1 34 1 0 1-32 1 34 1 70 1 66 1 56 1-44 1 7 1 53 1-46 1 16 1-10 1-2 1-21 1-14 1 22 1 15 1-44 1-137 1 51 1 106 1-72 1 13 1 55 1 109 1 30 1 26 1-18 1-81 1-27 1-142 1-46 1 2 1 5 1-11 1 19 1 92 1-25 1-12 1 1 1 62 1-52 1-26 1-7"/><path d="M0 0l1-38 1 37 1 15 1-20 1-18 1 17 1-2 1-8 1 104 1 1 1 26 1 25 1-41 1 39 1 49 1-51 1-1 1-44 1-1 1-95 1 9 1 9 1 53 1-27 1 36 1-89 1-49 1-132 1 93 1-35 1 4 1 35 1-35 1 8 1 36 1 87 1 21 1-105 1 77 1-55 1 42 1 68 1 6 1-5 1 40 1-46 1 102 1 44 1-12 1 54 1 23 1-85 1 17 1-59 1-34 1-32 1-2 1-31 1 58 1-31 1-8 1-55 1 0 1-42 1-15 1-50 1-42 1-45 1 128 1-27 1-11 1 54 1 29 1 7 1 70 1 6 1 76 1 14 1 43 1 63 1-28 1-19 1 29 1-26 1-18 1 27 1 25 1 67 1 88 1-13 1-33 1 7 1-34 1 3 1-67 1 43 1-78 1 27 1-38 1 17 1 63 1-125 1 57 1 28 1 64 1-49 1-41 1 8 1-33 1 24 1-10 1 28 1-104 1 62 1-25 1 44 1 3 1 35 1-11 1-98 1 14 1-11 1-47 1 23 1 19 1-4 1-23 1-11 1 29 1 27 1-31 1-9 1-33 1-36 1 93 1 2 1 72 1 4 1-32 1 72 1 8 1 15 1-20 1-10 1 28 1-11 1 36 1-4 1-38 1 10 1-70 1 46 1-93 1 10 1 7 1-61 1-104 1 37 1 15 1 0 1-87 1 78 1-63 1-34 1 99 1 17 1-46 1 10 1-28 1-3 1-34 1-112 1 15 1 74 1 39 1 51 1-42 1-53 1 69 1 79 1-47 1-25 1 12 1 25 1-36 1 49 1 32 1 102 1-59 1-103 1 21 1 30 1 0 1-117 1 56 1 14 1 75 1-64 1-43 1-3 1-52 1 3 1-59 1-40 1 19 1 5 1-49 1 20 1 28 1 51 1-55 1 55 1 33 1-18 1 30 1-34 1 13 1-31 1 13 1-17 1 120 1 65 1-23 1-9 1-40 1-55 1-2 1 10 1-37 1-59 1 119 1-80 1-15 1-22 1-51 1 86 1-23 1-36 1 26 1 42 1 109 1-11 1-16 1 42 1-6 1-30 1 26 1-39 1-17 1-7 1-49 1-80"/><path d="M0 0l1-43 1-34 1-99 1-48 1-42 1 55 1-67 1 122 1-2 1 63 1 40 1-1 1-25 1-106 1-52 1 49 1-64 1-1 1 49 1-61 1-5 1-27 1-99 1 93 1 0 1 84 1 33 1-39 1 59 1 89 1 3 1 142 1-62 1-62 1-93 1-49 1-77 1-91 1 5 1 31 1-27 1-123 1 54 1-34 1-76 1 87 1-71 1 2 1-65 1 73 1 104 1 32 1 6 1-57 1-84 1 14 1-97 1 4 1-96 1 20 1-56 1 62 1-12 1 5 1-2 1 51 1-24 1 19 1 1 1-71 1 52 1-73 1-8 1 60 1-25 1-35 1-29 1 19 1-13 1-32 1-47 1-72 1-49 1 69 1-39 1 107 1 40 1-113 1-130 1-7 1-7 1-92 1-53 1 69 1 100 1 42 1 42 1 21 1 116 1-14 1-31 1 54 1-43 1-92 1 59 1-12 1-11 1-26 1 86 1-31 1-12 1 29 1 19 1-28 1 33 1-74 1 61 1 6 1-46 1 40 1-108 1 35 1 47 1-14 1 11 1 43 1-15 1 66 1-52 1 9 1 122 1 102 1 133 1 43 1-77 1 91 1 12 1 114 1 66 1-14 1 7 1-9 1 1 1-36 1-8 1-43 1 34 1 63 1-51 1-39 1 45 1 93 1 52 1-31 1 35 1-53 1 38 1 74 1-45 1-55 1-15 1 115 1 50 1 11 1 80 1 6 1-41 1-88 1-81 1 43 1-3 1 39 1 38 1-81 1-51 1 26 1-23 1 56 1-55 1-74 1 94 1 30 1-36 1 94 1 42 1 33 1 55 1-52 1 64 1 3 1-29 1-32 1-23 1-28 1 117 1 5 1 34 1 21 1-28 1-11 1 95 1-36 1-60 1-60 1 20 1-17 1 39 1 3 1 10 1-97 1-33 1-69 1 36 1-66 1-16 1-35 1-48 1-47 1-153 1-47 1 56 1-41 1-15 1-36 1 121 1 34 1-44 1 63 1 33 1 5 1-90 1 2 1-51 1 64 1 62 1 4 1 65 1 24 1-24 1-10 1 27 1 48 1 85 1 31 1-11 1-28 1-20 1 100 1 59 1-36 1-73 1-10"/><path d="M0 0l1 22 1 74 1 69 1 38 1-108 1 4 1 17 1 40 1 3 1 91 1-17 1 36 1-48 1-14 1-9 1 51 1 59 1-7 1-28 1-102 1-138 1-34 1-18 1-57 1 84 1-62 1-121 1 13 1-70 1 20 1-92 1 0 1 50 1-49 1-6 1 15 1 64 1 6 1 100 1 13 1-13 1 64 1-30 1 131 1 8 1 126 1 75 1 14 1-28 1-16 1 43 1 17 1-34 1-42 1-64 1 43 1-89 1-14 1 7 1 11 1-117 1-3 1-46 1-79 1-39 1 4 1-52 1-61 1 34 1-15 1-83 1 29 1-46 1-18 1 29 1 114 1 21 1 28 1-4 1 4 1 16 1 33 1 50 1 43 1 52 1-56 1 22 1-14 1 61 1 20 1-43 1-5 1 166 1-75 1 89 1-22 1-55 1 17 1 117 1-35 1-81 1-60 1-9 1-113 1-69 1-82 1-97 1 15 1-6 1 54 1-79 1 79 1 110 1-63 1 36 1-82 1-22 1-53 1 42 1 64 1 64 1-4 1 73 1 39 1-40 1 78 1-8 1 24 1 10 1 144 1 63 1-36 1 39 1-8 1 69 1 33 1-7 1-61 1 3 1 49 1-84 1 3 1-54 1-16 1-28 1 11 1-36 1 92 1 21 1-50 1-2 1-54 1 52 1-26 1-77 1-30 1-25 1 18 1-53 1-30 1-34 1-14 1-43 1-23 1-29 1-69 1 29 1 34 1-59 1-120 1-25 1-15 1 5 1 27 1 89 1-8 1 3 1 41 1-44 1-21 1 97 1 85 1-41 1-40 1 51 1 88 1 11 1 16 1-78 1-31 1 76 1-88 1 33 1-20 1-43 1 19 1-31 1 52 1 40 1 32 1 12 1-33 1-38 1 17 1-55 1 23 1 3 1-53 1 4 1 35 1 95 1-129 1-4 1-48 1 49 1 81 1 25 1-16 1 30 1-82 1-82 1-101 1-39 1 13 1 46 1-39 1 41 1-39 1 36 1 56 1-29 1 36 1 4 1-46 1-38 1 14 1 124 1-51 1 14 1-27 1 23 1 2 1-77 1-17 1 34 1-62 1-71 1-8 1-26 1 47 1-54 1-66"/><path d="M0 0l1 44 1-42 1-38 1 162 1 59 1 30 1 15 1 33 1-9 1 7 1 140 1 40 1 22 1-110 1-33 1-92 1-25 1 17 1 47 1 15 1-29 1-59 1 28 1-44 1 44 1-6 1 10 1 6 1-18 1 2 1 69 1-60 1 29 1 74 1-83 1-128 1 23 1 49 1 42 1-78 1 69 1 36 1-11 1-22 1-8 1-97 1-29 1 31 1 36 1-29 1 74 1-26 1 3 1 31 1-40 1-125 1 50 1-75 1-58 1 62 1 10 1-78 1 35 1 138 1-29 1 77 1-32 1-67 1-9 1 55 1-7 1 12 1-97 1 12 1-8 1 46 1-21 1-52 1 6 1-91 1-7 1-38 1 18 1-47 1-72 1-16 1 44 1-90 1-30 1 22 1-12 1 39 1-37 1-41 1-90 1 0 1-59 1 63 1 23 1-118 1-7 1 50 1 15 1 26 1-18 1 13 1-148 1 15 1-56 1-6 1 6 1 13 1 37 1 0 1 18 1-34 1 52 1 91 1 25 1-13 1-16 1 6 1-38 1 111 1-28 1 8 1-130 1-65 1 7 1-30 1 23 1-32 1-35 1-77 1 46 1 81 1 41 1-31 1-12 1-5 1 66 1-31 1 40 1 7 1-23 1-34 1 6 1 120 1-27 1-34 1-37 1-66 1 26 1-22 1-48 1 90 1-9 1-18 1 29 1 40 1 29 1-78 1-22 1-94 1 113 1-29 1 48 1 27 1 35 1 35 1-6 1-13 1 110 1 13 1 10 1 31 1 7 1-56 1-89 1-23 1-6 1 52 1-28 1-45 1 31 1 20 1-95 1 3 1-33 1-32 1-23 1-38 1 66 1-54 1 1 1 21 1 142 1-53 1-74 1-94 1-6 1 0 1 29 1-118 1-110 1-7 1-67 1 44 1 27 1-46 1 65 1 92 1-113 1-68 1 41 1-6 1-64 1 20 1 1 1-8 1-42 1 64 1 0 1-20 1-20 1-8 1-33 1 79 1-37 1 79 1 15 1-147 1 40 1-69 1-13 1 72 1 2 1-78 1 10 1-103 1-79 1 49 1-135 1 33 1-81 1-49 1-120 1 148 1-2 1-21 1-58 1-47"/><path d="M0 0l1 82 1-16 1 58 1 46 1-60 1-15 1 36 1-23 1-40 1 34 1 38 1 82 1 121 1-9 1-36 1 1 1-40 1 108 1-100 1-44 1-13 1-55 1-15 1-33 1 85 1 101 1-73 1-67 1-2 1 75 1 48 1-117 1 55 1-9 1 75 1-49 1 4 1-12 1-23 1-9 1 1 1-3 1 38 1 13 1-30 1-17 1-9 1 25 1 28 1 23 1 100 1-19 1-11 1 29 1 20 1-5 1-57 1-58 1 34 1-7 1 3 1 60 1-13 1-41 1-43 1-22 1-27 1-11 1-15 1 6 1 51 1 42 1 11 1 43 1-45 1 26 1 11 1-41 1-53 1 14 1 61 1-3 1 60 1-61 1-54 1 76 1 28 1 3 1-47 1-59 1-107 1 53 1-104 1-101 1 59 1-23 1-47 1-36 1-32 1-8 1 43 1 18 1 74 1 59 1 21 1 16 1 114 1 27 1 0 1 29 1 47 1-26 1-32 1 2 1 119 1 36 1-26 1 2 1-96 1-129 1 5 1 39 1 37 1-25 1 38 1 62 1-21 1-45 1-4 1 122 1-33 1-23 1 30 1-64 1-88 1-65 1 21 1 62 1-36 1 7 1-70 1 22 1 12 1-34 1-56 1 54 1-85 1 35 1 31 1-52 1 84 1 13 1-53 1-26 1-61 1-1 1-27 1-23 1 42 1-6 1-68 1-9 1 38 1-2 1 40 1 77 1-8 1-23 1 29 1 75 1 37 1-22 1-108 1-17 1 28 1-117 1-47 1-13 1-53 1 85 1-30 1-73 1 29 1-24 1-33 1-82 1 78 1-57 1 6 1 49 1-74 1 2 1-35 1 87 1 14 1-14 1 32 1-15 1-36 1 8 1-42 1-61 1-1 1 5 1-23 1 77 1-33 1-20 1 31 1 10 1-3 1 44 1-53 1 5 1-13 1 9 1 33 1 122 1-66 1 4 1 19 1 33 1-41 1-37 1 58 1 0 1-132 1-4 1 16 1 50 1 4 1 30 1 17 1 79 1-39 1-31 1-74 1 41 1-4 1-25 1 57 1-32 1 32 1 34 1 33 1-8 1-20 1 7 1 39 1-60 1 45 1 3"/><path d="M0 0l1-30 1-36 1 47 1-49 1 17 1 59 1 26 1-44 1-33 1-21 1-21 1-10 1 12 1-50 1-41 1-167 1 28 1 30 1 43 1-9 1-15 1 87 1 105 1-81 1 112 1 54 1 13 1-59 1-127 1 1 1 29 1 24 1 0 1 7 1-44 1-4 1-12 1-74 1-53 1 104 1-84 1 40 1 30 1 19 1-29 1-6 1-24 1 40 1 40 1-76 1-106 1 11 1-60 1 18 1 6 1-40 1 22 1-19 1 61 1-61 1 62 1 0 1 36 1 23 1-9 1 113 1-35 1-101 1-34 1 16 1-63 1-53 1 45 1 52 1 48 1 115 1-36 1-56 1 42 1-23 1 1 1-72 1 24 1 21 1 19 1 44 1 25 1 63 1-74 1-74 1 81 1 28 1 21 1 39 1 14 1-64 1 3 1-11 1-3 1-11 1 18 1 53 1-27 1 95 1-4 1-58 1 39 1 31 1 76 1-32 1-45 1 69 1 22 1-11 1 27 1-36 1 15 1 47 1-12 1 18 1 40 1-30 1-15 1 6 1-22 1-39 1-43 1 14 1 32 1-14 1-2 1-54 1-25 1 73 1 81 1-45 1 49 1 64 1 42 1 3 1 33 1-56 1 42 1 4 1 30 1 31 1 15 1-23 1 13 1-21 1 25 1 3 1-23 1-43 1 9 1 16 1 23 1-52 1-93 1 15 1 29 1 43 1-1 1 18 1-20 1-28 1-15 1 3 1-40 1-21 1 3 1 30 1 6 1 51 1 80 1 8 1-108 1-27 1-35 1-6 1-91 1-78 1-65 1 27 1 9 1 28 1-70 1-3 1-37 1 25 1-83 1 74 1-52 1 66 1-18 1-81 1-49 1-18 1-6 1 6 1-66 1-21 1-66 1-49 1-96 1-44 1-21 1 5 1 83 1 47 1-32 1-1 1 137 1-21 1 25 1-35 1 68 1-51 1-67 1 101 1 14 1-107 1 17 1-17 1-73 1-8 1-99 1-4 1 78 1-60 1 8 1 139 1-34 1 9 1 80 1 66 1-72 1-78 1-35 1 6 1 40 1-79 1 23 1-12 1-1 1-91 1-32 1-54 1-82 1-25 1-5 1 50"/><path d="M0 0l1 15 1-32 1-16 1-32 1-79 1 73 1 4 1 13 1 93 1 26 1 31 1 14 1-108 1-2 1 62 1-7 1-12 1 99 1 130 1-95 1-27 1 48 1-127 1-8 1-4 1 72 1-6 1-30 1-18 1-15 1-5 1 88 1-35 1-8 1 36 1-101 1-26 1 7 1 18 1-61 1-176 1 18 1-45 1-12 1-30 1 22 1-115 1 4 1-38 1-10 1-42 1-2 1-66 1-65 1 76 1 3 1-17 1 19 1-30 1-14 1-51 1-25 1 20 1 3 1-2 1-39 1 10 1 19 1-40 1-28 1 58 1-35 1-123 1-13 1 16 1 14 1 19 1-37 1 21 1 87 1 108 1 2 1-57 1-87 1 14 1-31 1-66 1 47 1 80 1-28 1-18 1 97 1 64 1 23 1-3 1-55 1 28 1 106 1 27 1 63 1-46 1-42 1 36 1-29 1 37 1 21 1-68 1 51 1-48 1 59 1-20 1 7 1 10 1 7 1-22 1 37 1-7 1 25 1 60 1-18 1 59 1-82 1 28 1-28 1 0 1 87 1-6 1-73 1-59 1 53 1-59 1 58 1 53 1-17 1-10 1-50 1 45 1 4 1 18 1-9 1-49 1-31 1-3 1-77 1-31 1 27 1 13 1-116 1 51 1 86 1-27 1-32 1-1 1 10 1 47 1-1 1 24 1-29 1 147 1-80 1-54 1 57 1-9 1 61 1 19 1 38 1-54 1 64 1-11 1-35 1-2 1-65 1 90 1-5 1-9 1-13 1-95 1-51 1 14 1 3 1-31 1 21 1 2 1 63 1 92 1-2 1 46 1 22 1 40 1-80 1-69 1-24 1 19 1-73 1 1 1 68 1-167 1-22 1 6 1-9 1 40 1-87 1 7 1-7 1-137 1 36 1-26 1-10 1 44 1 17 1 41 1 82 1-19 1-16 1-65 1 4 1 16 1 35 1-38 1 74 1 22 1 72 1-14 1 29 1 17 1-13 1 88 1 56 1 14 1 49 1 42 1-16 1-9 1 58 1-10 1-37 1 23 1 4 1-83 1 18 1 41 1-28 1 16 1-68 1-48 1 9 1-8 1 23 1-21 1-48 1-98 1 31"/><path d="M0 0l1-14 1 28 1-12 1-4 1 49 1-81 1 40 1-53 1-129 1-67 1-37 1 40 1 60 1 38 1 3 1-9 1-3 1-17 1 34 1-11 1 25 1 0 1-45 1-12 1-23 1 20 1 28 1 46 1 50 1-14 1-3 1 5 1-29 1-87 1-63 1 48 1 6 1-8 1-40 1 3 1-33 1 67 1 36 1-62 1-11 1-29 1 61 1 25 1-71 1-1 1-21 1-46 1-64 1-24 1-27 1-97 1 45 1 91 1-4 1 62 1-32 1-33 1 2 1-59 1 44 1-14 1-41 1-33 1-77 1-9 1 33 1 14 1 28 1 14 1-24 1-57 1 0 1-11 1-31 1 11 1-29 1-185 1-16 1-56 1-69 1-12 1 53 1-39 1 60 1-26 1 146 1 144 1 23 1-41 1 0 1-29 1-63 1 11 1 27 1 26 1-47 1-40 1-23 1-45 1 90 1 88 1 65 1 30 1-70 1 44 1 58 1-29 1-37 1 31 1 62 1-110 1 50 1-6 1 13 1 43 1-67 1-105 1-3 1-64 1-53 1-22 1 66 1 22 1-20 1-33 1-49 1 46 1 106 1 58 1-15 1-69 1-127 1-51 1 55 1-40 1 14 1-20 1 144 1 12 1-60 1-52 1-115 1-46 1 83 1 112 1-15 1-22 1-6 1-128 1-19 1-25 1 72 1 2 1-3 1 72 1-117 1-121 1-71 1 20 1 11 1-16 1-139 1 53 1-52 1-15 1 56 1 6 1-87 1 38 1-16 1 81 1 43 1 40 1 19 1 54 1-43 1-88 1-96 1 91 1-17 1-51 1 3 1 6 1-29 1 18 1 54 1-16 1 69 1 7 1 46 1-28 1 55 1 50 1 39 1-12 1 3 1-3 1 47 1-94 1-21 1 72 1-134 1-31 1 32 1 14 1-32 1 56 1 15 1-49 1 24 1-12 1-38 1 4 1-41 1 56 1-56 1 22 1-23 1 67 1-30 1-56 1 46 1 14 1-51 1 9 1 11 1-75 1-25 1 1 1 87 1 31 1-46 1-56 1 110 1-60 1-86 1-37 1-7 1-25 1-31 1 71 1-18 1 62 1-32 1 105 1 51 1-51"/><path d="M0 0l1-58 1-26 1-22 1-94 1 39 1-71 1 4 1 16 1-16 1-23 1-56 1 85 1-20 1-58 1 40 1-33 1-4 1-55 1-47 1-14 1-58 1 2 1 51 1-15 1 25 1-56 1-118 1-16 1-17 1 4 1 64 1-25 1 20 1 53 1-91 1-27 1-39 1 49 1 95 1 49 1-8 1-38 1 78 1 82 1-5 1 54 1-35 1-9 1 23 1 24 1-35 1-83 1-55 1 25 1-38 1 39 1-26 1-5 1-25 1-98 1 21 1-23 1-11 1-41 1 39 1-60 1-92 1-72 1-131 1 47 1 58 1-19 1 10 1-98 1 5 1 28 1-41 1 12 1 16 1 27 1 13 1 25 1 9 1-9 1 18 1-80 1 52 1 40 1-123 1 53 1-42 1 71 1-6 1-35 1 11 1 27 1 20 1-53 1-7 1 38 1 26 1 92 1 9 1-11 1-41 1-62 1 9 1-7 1-34 1-55 1 33 1 9 1-47 1 99 1 43 1 37 1-32 1 30 1-7 1 20 1 40 1 56 1-4 1 55 1 10 1 55 1 61 1-25 1-46 1 19 1 110 1 1 1-54 1 17 1-53 1 8 1-18 1-95 1 47 1 43 1-15 1 30 1-41 1 48 1-15 1-48 1-75 1-38 1 61 1-77 1-30 1 46 1-3 1 60 1-40 1-15 1 31 1 70 1-25 1-20 1-5 1 53 1-48 1 36 1-11 1 0 1 30 1 47 1 3 1-66 1 63 1-95 1-18 1 27 1 136 1 52 1 22 1 42 1 37 1 10 1-26 1 48 1-10 1 77 1-132 1-92 1 31 1-27 1 50 1-67 1-59 1 15 1 87 1 31 1-79 1 45 1 53 1 10 1-20 1 20 1-19 1 33 1-1 1-25 1-22 1 4 1-17 1-33 1-25 1-28 1-52 1-20 1 42 1-69 1-28 1-45 1-3 1 52 1 50 1-63 1 76 1 39 1-88 1 13 1 92 1-44 1-79 1-35 1-74 1-6 1 31 1-137 1-22 1 9 1-58 1 21 1 27 1-115 1 33 1 41 1-73 1 27 1-24 1-26 1 8 1-11 1 5 1-43 1-1 1 22 1 66 1 46"/><path d="M0 0l1-100 1 60 1 8 1 21 1-71 1 38 1-33 1 59 1 9 1-109 1-3 1-37 1-14 1 152 1 34 1-81 1 33 1 72 1-27 1 18 1 27 1-22 1-99 1 48 1 2 1 39 1 21 1 34 1 100 1-116 1 26 1 111 1 21 1-64 1-6 1-28 1-6 1 15 1 5 1-54 1 33 1-63 1 5 1 54 1-3 1-2 1-98 1-41 1 2 1-34 1-48 1-9 1 9 1 62 1 44 1 37 1 7 1 60 1-122 1-17 1 51 1-90 1 75 1 43 1 3 1 33 1 28 1-48 1 39 1 103 1 131 1 3 1 38 1 36 1-19 1 57 1 29 1 51 1 24 1 71 1 36 1-30 1 39 1-32 1 110 1 72 1-125 1 68 1 6 1-13 1-67 1 15 1 24 1 31 1-52 1-75 1-56 1-19 1-10 1-3 1 38 1-40 1-13 1 40 1 87 1-34 1 4 1 5 1 57 1 8 1 3 1-5 1-7 1-3 1 1 1-42 1-56 1 53 1 49 1-47 1 37 1 13 1-50 1-88 1 107 1-39 1 30 1-51 1 5 1-15 1-29 1-31 1 16 1-23 1-24 1 51 1-33 1-48 1-93 1-8 1 22 1 2 1 22 1 32 1-84 1 56 1-44 1 33 1 8 1 80 1 76 1 35 1 0 1-5 1 58 1 40 1 34 1-71 1-53 1-32 1-21 1-45 1 38 1 110 1 9 1-33 1 2 1 3 1-15 1-49 1-87 1-11 1-29 1 24 1 56 1-33 1-60 1-4 1 80 1-48 1 23 1-117 1 30 1-59 1-33 1 120 1-22 1-17 1-56 1 11 1-6 1-10 1 9 1 39 1 29 1-43 1 6 1-17 1 84 1 77 1-11 1-8 1-8 1 32 1 87 1-116 1 49 1-40 1 18 1 80 1 43 1 0 1 48 1-63 1 0 1 96 1-16 1-2 1-2 1-100 1-146 1 62 1-3 1 52 1 40 1-11 1 87 1-19 1-27 1 20 1-21 1-55 1 7 1-18 1 19 1-39 1-17 1 82 1-49 1-2 1-31 1-14 1 26 1-15 1 49 1-160 1-4 1 26 1-29 1 5 1 49 1-51"/><path d="M0 0l1-43 1-39 1 43 1-29 1 17 1-71 1 5 1 52 1 95 1-19 1 130 1-20 1 81 1 35 1 75 1-65 1 10 1-22 1-77 1-56 1 94 1 20 1-78 1-63 1-44 1 11 1-42 1 53 1 13 1-23 1 110 1 42 1 23 1 20 1 48 1-42 1 1 1-52 1 35 1 34 1-50 1-104 1-54 1 52 1 10 1-55 1 10 1-29 1-27 1 25 1 11 1 16 1-6 1 53 1-62 1-35 1 81 1-94 1 71 1 13 1 50 1 108 1 19 1-16 1-5 1-11 1-37 1-34 1-14 1-32 1 68 1-11 1 16 1 59 1 51 1-83 1 94 1-20 1 43 1 2 1-46 1-12 1 67 1 42 1 26 1-15 1-5 1 53 1 108 1 69 1 43 1-10 1 11 1-16 1 27 1-38 1-9 1-8 1 9 1-24 1 67 1 5 1-45 1 8 1 15 1 4 1-27 1 0 1-38 1-22 1 75 1 34 1-19 1 49 1-33 1 46 1-5 1 26 1 14 1 12 1 84 1 1 1 47 1 22 1 113 1 22 1-34 1-1 1-13 1-52 1-25 1-20 1-17 1 45 1 38 1 45 1 70 1 2 1 25 1-42 1 21 1-6 1 103 1-34 1 38 1 17 1 64 1 2 1 12 1-11 1-13 1-38 1-82 1-8 1-34 1 83 1-69 1-91 1-68 1 41 1 17 1-33 1-77 1 80 1-71 1 20 1-4 1 63 1 42 1 30 1 28 1 68 1-39 1 109 1 74 1 30 1-114 1-41 1-4 1 8 1 11 1 38 1 69 1 101 1-67 1 16 1 32 1 16 1-42 1-63 1 21 1 43 1 0 1 100 1 33 1-16 1 20 1-26 1 13 1 54 1 8 1-12 1 49 1-26 1 32 1-14 1-37 1 23 1 51 1 15 1-21 1 39 1 52 1 58 1-23 1-73 1-69 1 0 1 7 1-44 1 47 1-94 1 52 1-67 1-91 1-19 1-44 1-9 1-81 1-41 1-11 1 35 1-38 1-14 1 18 1 70 1 7 1-4 1 55 1 53 1-96 1 6 1-24 1-76 1-53 1-18 1 29 1-31 1-73 1-76 1 52 1-20"/><path d="M0 0l1-27 1-8 1 37 1-7 1 74 1-36 1-31 1 16 1-10 1 25 1 49 1-18 1 64 1 113 1 32 1 16 1-11 1 11 1 55 1-24 1-21 1-36 1-23 1-59 1 87 1 58 1-95 1-45 1-26 1-43 1 37 1-44 1 10 1 66 1 17 1 16 1 38 1-52 1-21 1 61 1-5 1-1 1 57 1 0 1 88 1 38 1-62 1 108 1 92 1-92 1 4 1 3 1 38 1-26 1-61 1-30 1 17 1 32 1 2 1-19 1-42 1-71 1-27 1 36 1-10 1-61 1-53 1-9 1 24 1-51 1 50 1-23 1 115 1 10 1 167 1-94 1 70 1 33 1-118 1 14 1-55 1 17 1 49 1 0 1 9 1 108 1-147 1-8 1 111 1 24 1-7 1 54 1-65 1 18 1-47 1 38 1-23 1-51 1 3 1-92 1 17 1 44 1 8 1-80 1 66 1-92 1-12 1-3 1 50 1-64 1 11 1-28 1 102 1-69 1-38 1 25 1 42 1 36 1 7 1-40 1-15 1 25 1 40 1 47 1 5 1 43 1 65 1 36 1-51 1-49 1-42 1 49 1 6 1 21 1 56 1-9 1-10 1-29 1-55 1-45 1 35 1-20 1 2 1-27 1 40 1 69 1 10 1-38 1-34 1 42 1-43 1 53 1 94 1-50 1 12 1-14 1-38 1 6 1-78 1 23 1 18 1-142 1-46 1-9 1-2 1-37 1 146 1-40 1 79 1 36 1 51 1-12 1 21 1 31 1 11 1-42 1 75 1-8 1-19 1-75 1 17 1-7 1 15 1-127 1 40 1 59 1-58 1-39 1 29 1-45 1 2 1-23 1-60 1 45 1-56 1 43 1-94 1 50 1-75 1 10 1 60 1 67 1-43 1 44 1-14 1-47 1 9 1 54 1-21 1-36 1 75 1-21 1-6 1 33 1-10 1 12 1 18 1-57 1-35 1-56 1 10 1-8 1-67 1 37 1 16 1-55 1-98 1-29 1 9 1-62 1 16 1 30 1-10 1-8 1-23 1-17 1-5 1 7 1 56 1-36 1 55 1-10 1 64 1-88 1 37 1 40 1-74 1 26 1 13 1 4 1-30 1 49"/><path d="M0 0l1 3 1-75 1 85 1 77 1-1 1-55 1 51 1-14 1-18 1 57 1 25 1 25 1-58 1 91 1 33 1 34 1 22 1 29 1 2 1 10 1 85 1-43 1-80 1-3 1 134 1 25 1-36 1 29 1-102 1-66 1 51 1-37 1 140 1 12 1-1 1-39 1 22 1-92 1-25 1-31 1-105 1-9 1 136 1-8 1 29 1-47 1-56 1-35 1-25 1-9 1-5 1-152 1 51 1-57 1 8 1-68 1-28 1 45 1-7 1 79 1-83 1-16 1-29 1-1 1-14 1-62 1-24 1-104 1 52 1-38 1-90 1-19 1-50 1-14 1-107 1 27 1 78 1-69 1 27 1 117 1 16 1-25 1-37 1 5 1-16 1 20 1-8 1-52 1-38 1 3 1-36 1-82 1-117 1 65 1 3 1 21 1 29 1 55 1-42 1-5 1 105 1-102 1 15 1-62 1-13 1 6 1-14 1-103 1-35 1-41 1-55 1-2 1-50 1 12 1 102 1 39 1 40 1 10 1 67 1 81 1-111 1 165 1-121 1 32 1-20 1-5 1 4 1-30 1 5 1-45 1-41 1 3 1-13 1-9 1-44 1 24 1 35 1-43 1 2 1 81 1-7 1-61 1 119 1-57 1 24 1 46 1-20 1 57 1 55 1 36 1-40 1-53 1 42 1 7 1 48 1 14 1 20 1-40 1-24 1-29 1 91 1 39 1 44 1 15 1 5 1-89 1 62 1-62 1 121 1 55 1-49 1 39 1 106 1-12 1 8 1 14 1-37 1 74 1-77 1 71 1 1 1 70 1-85 1 1 1 128 1 8 1 31 1 30 1 8 1-8 1-93 1-10 1 10 1 8 1-27 1-26 1-68 1-57 1 73 1 85 1-20 1 9 1 43 1-62 1-43 1 16 1-72 1-15 1 14 1-80 1 42 1 46 1-59 1 29 1-49 1-1 1-7 1 23 1 3 1-42 1 30 1-6 1 46 1-44 1-13 1 82 1 95 1-68 1 17 1-17 1 49 1-49 1-26 1 34 1-24 1-97 1-74 1 17 1 26 1-47 1 56 1 65 1 75 1 23 1 25 1-10 1-28 1-109 1 55 1 43 1-94 1-37"/><path d="M0 0l1-60 1-4 1 126 1 4 1-33 1-60 1-73 1-6 1 94 1 7 1-5 1 9 1-37 1-43 1 55 1 8 1 64 1 75 1 4 1 39 1-47 1-36 1-22 1 21 1 11 1-4 1 26 1 35 1 21 1 20 1-49 1-14 1-53 1 39 1-22 1 62 1-44 1-65 1-41 1-13 1-28 1-45 1-21 1-46 1-88 1-17 1 55 1-33 1-32 1 84 1-90 1-14 1-44 1-17 1 14 1-103 1 29 1 14 1-75 1 7 1-49 1 41 1-11 1 92 1-116 1-29 1 12 1 81 1-54 1-8 1 47 1 45 1 10 1-34 1-50 1 16 1-59 1-9 1-35 1-16 1-31 1 25 1 89 1-17 1-24 1 10 1 58 1-31 1-13 1-3 1 30 1 42 1 43 1 38 1 49 1 35 1-56 1 17 1-90 1 10 1 48 1-30 1-66 1 24 1-5 1-28 1 19 1-19 1 45 1 29 1 33 1-32 1-24 1 21 1-43 1-87 1-45 1 24 1-27 1-23 1 11 1-38 1-64 1 47 1 15 1 22 1 38 1-26 1 44 1 3 1-63 1 3 1-75 1-18 1 26 1 43 1 8 1 33 1 2 1-26 1-19 1 50 1 39 1 35 1 43 1 76 1-49 1 0 1-36 1 19 1-21 1 7 1 15 1-20 1 26 1-4 1-58 1 1 1 8 1 21 1 2 1-54 1 30 1 115 1-16 1 21 1-9 1-61 1 101 1-33 1 45 1 25 1 61 1 56 1-51 1-49 1-50 1 35 1-16 1 3 1 6 1-49 1 114 1-22 1-71 1-38 1-93 1 17 1-51 1 16 1 69 1-5 1-21 1-54 1-72 1-8 1-15 1 3 1 62 1 86 1 34 1 26 1-13 1 17 1-16 1 26 1-72 1-22 1-8 1-9 1 2 1-44 1 49 1 89 1 11 1 54 1-46 1 60 1-34 1-58 1 8 1 70 1 78 1-37 1 12 1 97 1-74 1 3 1-65 1 131 1-13 1-39 1 39 1-91 1-13 1 17 1-87 1 35 1 18 1 40 1 80 1 26 1 30 1-7 1-101 1-58 1-42 1-34 1 2 1-31 1-32 1-17"/><path d="M0 0l1-27 1 16 1-53 1-42 1 43 1-9 1-14 1 66 1 61 1-48 1 111 1-71 1-104 1-62 1 12 1-65 1-26 1 118 1-22 1 41 1-15 1-2 1-25 1 57 1 74 1 7 1-23 1 36 1 2 1-52 1-65 1-56 1-18 1 35 1-36 1-24 1 52 1-34 1-52 1-38 1 22 1 63 1-31 1 6 1 6 1 23 1-68 1 60 1-75 1-11 1 14 1-33 1 128 1 132 1-35 1-55 1 21 1-8 1 9 1-27 1-26 1 16 1-32 1 90 1 34 1-16 1 87 1 80 1-21 1-40 1 3 1-2 1-26 1-10 1 23 1 55 1-4 1-55 1-58 1 55 1-5 1-37 1 12 1 6 1 81 1-50 1-43 1 101 1-28 1-69 1 32 1 11 1 4 1-44 1 16 1-25 1 25 1-17 1 106 1-35 1 90 1 17 1-21 1 49 1 77 1 7 1-8 1 18 1-2 1-21 1 23 1-54 1-48 1 48 1 52 1 37 1-9 1-88 1 81 1-10 1 87 1-65 1-82 1 25 1-11 1 0 1-6 1-25 1-1 1-15 1-21 1-85 1-2 1-24 1-28 1 36 1 4 1-65 1 31 1-64 1 53 1 98 1 103 1-43 1 42 1 2 1 14 1 13 1 19 1-52 1 17 1-58 1 3 1 4 1-29 1 25 1-40 1-49 1-93 1-78 1 84 1 70 1 53 1-12 1 35 1-55 1 60 1 17 1 7 1 16 1 47 1 25 1 17 1-80 1 110 1-48 1-4 1 46 1-12 1-5 1-30 1 26 1 16 1-46 1-82 1-11 1 3 1 24 1-52 1-5 1-32 1-14 1 66 1 22 1 58 1 10 1-19 1 45 1-49 1-21 1 33 1 4 1 20 1 8 1 64 1-125 1 18 1-99 1 59 1 1 1-11 1-9 1-104 1-13 1-18 1 53 1-16 1 28 1 69 1 0 1-55 1-37 1 71 1 11 1 13 1 56 1-34 1-4 1-12 1-19 1 34 1 67 1 33 1 52 1-60 1-4 1 5 1-10 1-32 1-47 1 29 1 108 1 62 1-37 1 48 1-6 1 76 1 50 1 13 1-22 1 95 1 16"/><path d="M0 0l1 25 1 27 1-63 1 11 1 8 1-7 1-36 1-59 1-36 1 12 1 20 1 63 1-50 1-28 1 0 1 20 1 57 1-19 1-8 1-13 1-42 1-36 1 5 1-20 1-48 1 1 1-23 1 71 1 15 1-47 1-141 1 78 1-2 1 28 1-103 1 25 1-21 1 8 1 8 1 110 1-15 1-100 1-59 1 120 1-119 1-18 1 19 1 93 1 26 1 1 1 7 1 0 1 19 1-8 1 0 1-63 1 95 1-55 1 58 1-32 1-66 1-67 1 43 1-27 1 5 1-26 1-87 1 42 1 46 1 12 1 24 1 18 1 51 1-54 1 6 1-20 1-46 1-1 1 61 1-32 1-107 1 2 1 27 1 53 1 50 1-72 1-66 1-43 1-123 1 0 1-22 1-30 1 11 1 36 1-2 1 26 1-37 1-81 1-28 1-49 1 43 1 42 1 74 1-38 1-26 1-17 1 65 1 99 1-49 1 174 1 31 1 19 1-85 1-2 1-12 1-48 1 40 1 45 1 78 1-69 1 3 1-64 1-81 1 75 1-13 1-72 1-6 1-11 1 7 1 104 1 95 1 43 1 57 1 23 1-97 1 106 1-38 1 83 1-37 1-76 1 9 1 49 1 16 1 94 1-45 1 7 1-14 1-22 1 15 1-7 1-21 1 4 1 64 1 33 1-25 1 30 1 16 1 63 1 7 1-64 1-1 1-13 1 31 1 31 1-130 1 36 1 99 1-39 1-74 1 8 1-13 1 61 1 29 1-1 1 54 1 38 1-17 1-23 1-5 1-43 1-21 1-22 1-8 1-123 1 0 1 28 1-47 1 53 1-39 1 13 1-20 1-51 1-28 1-11 1-28 1 45 1-6 1-25 1-88 1-2 1-108 1 32 1-83 1-10 1-23 1 93 1-19 1 41 1 52 1-1 1 5 1-15 1-36 1-60 1-76 1-23 1-26 1 60 1 32 1 6 1-31 1 89 1-64 1 62 1 3 1-35 1-16 1-32 1 5 1-14 1 62 1-59 1-6 1-52 1-9 1-75 1 26 1-28 1 18 1 20 1 64 1-51 1 34 1-1 1 41 1 45 1-7 1-93 1 58 1 44 1-78 1-14"/><path d="M0 0l1 125 1-54 1 105 1-38 1 19 1 18 1-71 1 39 1-33 1-41 1 20 1 130 1 32 1 60 1-24 1 122 1-64 1 5 1-24 1-41 1 38 1-39 1 12 1-66 1-67 1 9 1 25 1-17 1-43 1-139 1-43 1 18 1 43 1-18 1-6 1 10 1-22 1-23 1 24 1-32 1-13 1 25 1-61 1 13 1-94 1-73 1-16 1-48 1 41 1 17 1-2 1 87 1 28 1-31 1-94 1 101 1-15 1-28 1-114 1-23 1 45 1-64 1-154 1-43 1 57 1 91 1-9 1-43 1-62 1-28 1-54 1-28 1 23 1-23 1-96 1-49 1-7 1-2 1 52 1 37 1 9 1-42 1 0 1-147 1-19 1 29 1-41 1-50 1-115 1 4 1 33 1-66 1 78 1-29 1 24 1-114 1 82 1-150 1-33 1 40 1-16 1 174 1 53 1 15 1 11 1 44 1 4 1 34 1-114 1 34 1-34 1-64 1-74 1-46 1-17 1-59 1-73 1 103 1 5 1 45 1 15 1 80 1-36 1 48 1-7 1-72 1 43 1-19 1-49 1-23 1 20 1 49 1 60 1 81 1-21 1 25 1 41 1-39 1 34 1-5 1-82 1 16 1-53 1-24 1-39 1 99 1 26 1-49 1-71 1 50 1-35 1-32 1 68 1 58 1 33 1 149 1-136 1-28 1-56 1-14 1 10 1-38 1 15 1 42 1 5 1-81 1 1 1-88 1 58 1-4 1-32 1-62 1-18 1-41 1-72 1-7 1 88 1-57 1-103 1-38 1 37 1-17 1 55 1 19 1 11 1 47 1 21 1-105 1-47 1-63 1-71 1-22 1 5 1 51 1 29 1 86 1 17 1 54 1 9 1 71 1 28 1-135 1-69 1 12 1-32 1-62 1-64 1-13 1-2 1 101 1-89 1 28 1-19 1 139 1-47 1-68 1-16 1-33 1-40 1-52 1 17 1 8 1-51 1 55 1-4 1 108 1-95 1 68 1 61 1-88 1 22 1-17 1 21 1-40 1 12 1-31 1 36 1-109 1 27 1-12 1 1 1 74 1-114 1 53 1 74 1-2 1-10 1-49 1 8 1 6 1-130 1 24"/><path d="M0 0l1 43 1 10 1-52 1-1 1-61 1-2 1-20 1 127 1-11 1 30 1 5 1-5 1 11 1 40 1-7 1-88 1-87 1 94 1 49 1-11 1 15 1 71 1 41 1-62 1 42 1-48 1-13 1 48 1 31 1 50 1 41 1-21 1-34 1-19 1 38 1 69 1 169 1-69 1 1 1 47 1-77 1 0 1 37 1 64 1-36 1 14 1 2 1-16 1 18 1 6 1 29 1 92 1 4 1-47 1-128 1-30 1 1 1-34 1-13 1 5 1 15 1-40 1 86 1 10 1 28 1 4 1-73 1-34 1 31 1-8 1 0 1-50 1 12 1 28 1 20 1 69 1-65 1 48 1 48 1-42 1 39 1-6 1 51 1 4 1 20 1-80 1-4 1-8 1-25 1 42 1 63 1 25 1 29 1-4 1 44 1-52 1-75 1-9 1 27 1-1 1 27 1-11 1 14 1 3 1 94 1-11 1 56 1-103 1-24 1 57 1-6 1-12 1-10 1 39 1-66 1 5 1 7 1 43 1-45 1 24 1 12 1 23 1-4 1-5 1-57 1 19 1 78 1 6 1 55 1-80 1 81 1-3 1 89 1-72 1 23 1 75 1 34 1-18 1-82 1-4 1 71 1-26 1 6 1 13 1-58 1 32 1-10 1-25 1-20 1-3 1-14 1-60 1-2 1 26 1 5 1-1 1-80 1 37 1 0 1-52 1-128 1 55 1 49 1-5 1-15 1 20 1 31 1 40 1 31 1-18 1-34 1 18 1 17 1 106 1-148 1 60 1 10 1 34 1 73 1-1 1 80 1-57 1-46 1-5 1-8 1-90 1 153 1 6 1 10 1 27 1-99 1-77 1 9 1 21 1 12 1-19 1-64 1-60 1-36 1 32 1-53 1 65 1-4 1 10 1-72 1-45 1-24 1 61 1-145 1-58 1 17 1 133 1-105 1-61 1 60 1 23 1 44 1-63 1 14 1 105 1 100 1-48 1-23 1 17 1 62 1-48 1 27 1 0 1 15 1-18 1-26 1 15 1-37 1-25 1-7 1-27 1 45 1 8 1 105 1 121 1 45 1 19 1-10 1-66 1-25 1-6 1 24 1-9 1-55 1-29 1-40 1 50"/><path d="M0 0l1-51 1 62 1 9 1-11 1 8 1-45 1-22 1 47 1 88 1 35 1-29 1-80 1 16 1-38 1-16 1-27 1 17 1 5 1-81 1-26 1 82 1 37 1-21 1-45 1-52 1-41 1-42 1-52 1 29 1-38 1 114 1 41 1 36 1-61 1 82 1-45 1 24 1 0 1-5 1 18 1 56 1-44 1-34 1 50 1-27 1 41 1-45 1 23 1-24 1-24 1 39 1-25 1-53 1 20 1-89 1-17 1-24 1 19 1 11 1-12 1-6 1 9 1 80 1 50 1-42 1 26 1-89 1-10 1-77 1-23 1 1 1 65 1 18 1-8 1-62 1 7 1-12 1 105 1 88 1 0 1-56 1-36 1 18 1-79 1 43 1 45 1-27 1-69 1 15 1-36 1-39 1 27 1-11 1 93 1 2 1 103 1-43 1 80 1 37 1-69 1-43 1 3 1 102 1-38 1-33 1-88 1-8 1-9 1 51 1-12 1 32 1 21 1 16 1 38 1 11 1-23 1-18 1-33 1-56 1-33 1-91 1-41 1 73 1-16 1 43 1 26 1 121 1-31 1-67 1 4 1-3 1-15 1 13 1-2 1 65 1 71 1 39 1 4 1-63 1-50 1 45 1-29 1-8 1-20 1-60 1-85 1-27 1 67 1 37 1-54 1 32 1 82 1-59 1-21 1 17 1-25 1-64 1-15 1 31 1-8 1-41 1 46 1-9 1-70 1 58 1 11 1 34 1-25 1 110 1-71 1-101 1 64 1 103 1 75 1 15 1-42 1 31 1-29 1 8 1-27 1 26 1-50 1-4 1 34 1 70 1-88 1-31 1 46 1-76 1-36 1-16 1-51 1-48 1-33 1-66 1-52 1 15 1 91 1 29 1-25 1-73 1 33 1 43 1-28 1 38 1 17 1-100 1-4 1-101 1 40 1-18 1 55 1-44 1 6 1-64 1-54 1-41 1-9 1 41 1-12 1-33 1-24 1 12 1 49 1 46 1-90 1-6 1-105 1-72 1-106 1 10 1-63 1-20 1-26 1-33 1 42 1 66 1 22 1-93 1-89 1-41 1-4 1 103 1 33 1-21 1 29 1 52 1 120 1-36 1 104 1-21 1 34"/><path d="M0 0l1-49 1 38 1-22 1 52 1 57 1 18 1-62 1 77 1 115 1 34 1 20 1-109 1 4 1 142 1-5 1 18 1-8 1 21 1-14 1 37 1 36 1-41 1 47 1 50 1 77 1-40 1-45 1 36 1 85 1 58 1-22 1-30 1-35 1-31 1 32 1-16 1 12 1-15 1 12 1-71 1-30 1 31 1-36 1 3 1-47 1-117 1-80 1-34 1 19 1-74 1 54 1 32 1-26 1 49 1-43 1-118 1 51 1 87 1-27 1 48 1-37 1 55 1-24 1-7 1-57 1-21 1-1 1-8 1-6 1 29 1-55 1 46 1 66 1 82 1 14 1 29 1 102 1 66 1-16 1-63 1 14 1-38 1-55 1 9 1 38 1-7 1 80 1 30 1 13 1-48 1 20 1-33 1 95 1 27 1 86 1 28 1 63 1 26 1-83 1-38 1-108 1-158 1 5 1-5 1 86 1 40 1 13 1 20 1 78 1 32 1 100 1-1 1-1 1-26 1 21 1 39 1-14 1 55 1-1 1-21 1 21 1 21 1-74 1-80 1 12 1-27 1-33 1 58 1 69 1 24 1-9 1 53 1-17 1-7 1-29 1-126 1 64 1 57 1 21 1-15 1-31 1 26 1 20 1 123 1-52 1 59 1 6 1 20 1 35 1 55 1-15 1-41 1-106 1-109 1-24 1-20 1 13 1 43 1-13 1 2 1-3 1-98 1-17 1-17 1-3 1-24 1-89 1 7 1-5 1 0 1 37 1 105 1-32 1-58 1 2 1-133 1 54 1-53 1 13 1 104 1 3 1-87 1 38 1 98 1-88 1 37 1-13 1-48 1 92 1 42 1-11 1-22 1 60 1 28 1-76 1-103 1-64 1-48 1 58 1-8 1 79 1 23 1 9 1 52 1-23 1-4 1 48 1-80 1-28 1-6 1-7 1-59 1-30 1 7 1 66 1 46 1-14 1-7 1-13 1 35 1 4 1 16 1-15 1-14 1-37 1-30 1 75 1 6 1-65 1-23 1-60 1-2 1-59 1 47 1-25 1-64 1-30 1-59 1-95 1-91 1-15 1-29 1 41 1-69 1-6 1-22 1 63 1 14 1 77 1 21 1 57 1-1"/><path d="M0 0l1-101 1-59 1-16 1-110 1-19 1-60 1-22 1 40 1 27 1 16 1 11 1-72 1 23 1-54 1 23 1 25 1 45 1-74 1 72 1 50 1-92 1 3 1-77 1 49 1-17 1 2 1-41 1-4 1 42 1-28 1-64 1 18 1 19 1-22 1 15 1 6 1 84 1-7 1-49 1-37 1 19 1-28 1 21 1 15 1-39 1-13 1 10 1-34 1-117 1-45 1 12 1-47 1-60 1 91 1 18 1 19 1 51 1-9 1-15 1-20 1 49 1 28 1 32 1 24 1-95 1 8 1-162 1-46 1 33 1 51 1-16 1-70 1-71 1-29 1 43 1-66 1-142 1-71 1-49 1 69 1 4 1 18 1 1 1 22 1-7 1 71 1 8 1 111 1-65 1-67 1-31 1 34 1 76 1-41 1 49 1 142 1-65 1 110 1-61 1-3 1 5 1 1 1-82 1 27 1 60 1-23 1 4 1 9 1 4 1-37 1-16 1 21 1-30 1-39 1-18 1-5 1-57 1 5 1 29 1-115 1-21 1 45 1-94 1 17 1-19 1 33 1-41 1 60 1-32 1 59 1 12 1-2 1 43 1-5 1-8 1-98 1-63 1-67 1 32 1-39 1-45 1-60 1-48 1-79 1-38 1-23 1 47 1-12 1-1 1-78 1 113 1-46 1-60 1-33 1-61 1 65 1 90 1-24 1-59 1 22 1 127 1-32 1-82 1-28 1 30 1-17 1-82 1-28 1-17 1 101 1 59 1 21 1-8 1-136 1-53 1-135 1 54 1-55 1-8 1 53 1 21 1-40 1-79 1 58 1-130 1-5 1 12 1 32 1-61 1 54 1 59 1-59 1-82 1-113 1-63 1-43 1-119 1 70 1-49 1-33 1 106 1-42 1-3 1 45 1-113 1 22 1 53 1 49 1 30 1 4 1-12 1-29 1-20 1 114 1-130 1 78 1-20 1 6 1-16 1-61 1 33 1 69 1-69 1 91 1 67 1-53 1-100 1-39 1-34 1 74 1-61 1 95 1 62 1-47 1-69 1 103 1-38 1-209 1-20 1 7 1 64 1-123 1 78 1-5 1-105 1-22 1 25 1-29 1 5 1-24 1-93 1-158"/><path d="M0 0l1 14 1 52 1-1 1 63 1 70 1-36 1-20 1-9 1-74 1 15 1-26 1 39 1-50 1-2 1-26 1-70 1-35 1-32 1-52 1-19 1 68 1 4 1-22 1 32 1-37 1-56 1 28 1 72 1 20 1-27 1-9 1 21 1 45 1-25 1 34 1 2 1-10 1-105 1-4 1-142 1 91 1-9 1 49 1-15 1 51 1-25 1 11 1-68 1 89 1 12 1-35 1-40 1 32 1-4 1 61 1-10 1-63 1-106 1-39 1 87 1 55 1-14 1 14 1 8 1-9 1-18 1 92 1 17 1-16 1-26 1-42 1-3 1 36 1-24 1-66 1 8 1 0 1-8 1 75 1 30 1-5 1-25 1 80 1 28 1 57 1-31 1 53 1-1 1-38 1 22 1 5 1 9 1-65 1-55 1 25 1 34 1-52 1 22 1-29 1-83 1 6 1-9 1 11 1 69 1 3 1 15 1 86 1 19 1 16 1 43 1-4 1 3 1-50 1 77 1 38 1-11 1-52 1-2 1 46 1 7 1 28 1 11 1-25 1-47 1-122 1-35 1-32 1 2 1-3 1 37 1-54 1 5 1 33 1-56 1-8 1-116 1-74 1 9 1 21 1 102 1 44 1 82 1-58 1-28 1 74 1-75 1 55 1 113 1-46 1-11 1-10 1 95 1 46 1-15 1 41 1 0 1 20 1-61 1 19 1-41 1-81 1-86 1 15 1-22 1-11 1 29 1 113 1 1 1-83 1 107 1 44 1-37 1 47 1-23 1-17 1-57 1 30 1 52 1-54 1 94 1-50 1 14 1 10 1 45 1 104 1 66 1 48 1 115 1-77 1-39 1-29 1 61 1 39 1 16 1-33 1 32 1-73 1 42 1 1 1-27 1 38 1 51 1-31 1 56 1-90 1 47 1-54 1-62 1-49 1 18 1-26 1 32 1 73 1-14 1-14 1-63 1 102 1 17 1-35 1 48 1-23 1-55 1-44 1 19 1-56 1 19 1 59 1 29 1-85 1-15 1-11 1-21 1-12 1 46 1 51 1 39 1-51 1-47 1-8 1 29 1-25 1 67 1-2 1-29 1-21 1-29 1-26 1-28 1 25 1 43 1-25 1 49"/><path d="M0 0l1 53 1-17 1 33 1 14 1-18 1 11 1-62 1 34 1-76 1 54 1-53 1 79 1-29 1-51 1 46 1 128 1-54 1 34 1-8 1 17 1-21 1-65 1 64 1-115 1-42 1-12 1 102 1 65 1-5 1-21 1-1 1 56 1-96 1 56 1 20 1 0 1 28 1 26 1 53 1 6 1-12 1-26 1 55 1 36 1 0 1-76 1 4 1 34 1 80 1-8 1 114 1 19 1-66 1 29 1-66 1-21 1 38 1-58 1-13 1-46 1 0 1 70 1 101 1-4 1-15 1 70 1 19 1 7 1 53 1-70 1-52 1 11 1-22 1-60 1 18 1-45 1 161 1 48 1-33 1 17 1 32 1-26 1 33 1-31 1-21 1-54 1 4 1 21 1-77 1-37 1 28 1-26 1-52 1 23 1-80 1 29 1 42 1 32 1-10 1 47 1 59 1 61 1 46 1 105 1 39 1-66 1-29 1-78 1-25 1 41 1 39 1-54 1-5 1 8 1-10 1 50 1-95 1 66 1 16 1-7 1-63 1-5 1-44 1-33 1-11 1-38 1-16 1 47 1-78 1-49 1 114 1-46 1-76 1 27 1-9 1 52 1-38 1-86 1 28 1 28 1 89 1 19 1 14 1-7 1-3 1-28 1-114 1 13 1-20 1-107 1-108 1-9 1 0 1-14 1 58 1-8 1 42 1 25 1 38 1 56 1 40 1 1 1-7 1 33 1 4 1 8 1 93 1-36 1 71 1-42 1 3 1-8 1-6 1-65 1 97 1-106 1-50 1-13 1-16 1 7 1-16 1 25 1-84 1-35 1-22 1-23 1 102 1 65 1-54 1-95 1-5 1 23 1 10 1 26 1 18 1 42 1 7 1-1 1-9 1 5 1-87 1-74 1 81 1-58 1 42 1-84 1-18 1 30 1 16 1-33 1-65 1-32 1-93 1 54 1 102 1 55 1-99 1 59 1-69 1 104 1-56 1 78 1-56 1-46 1 54 1-89 1 17 1-25 1-23 1 35 1 68 1 40 1-56 1-121 1 39 1-52 1-60 1-21 1-27 1 35 1 31 1-48 1-15 1-60 1-22 1-8 1 11 1 38 1-9 1-16 1 38 1-44"/><path d="M0 0l1-23 1 22 1-47 1-44 1 37 1-28 1 4 1 92 1 22 1 70 1-30 1 2 1 39 1-59 1-25 1 45 1 98 1 57 1-19 1-25 1-28 1 121 1-24 1 62 1-31 1-6 1 23 1-13 1-11 1-88 1 112 1-49 1-19 1 49 1-110 1 29 1 68 1 0 1 21 1-20 1 55 1 30 1-49 1-16 1-70 1 50 1 11 1-10 1-38 1-13 1 0 1 25 1-63 1 9 1-57 1-48 1-89 1-38 1-102 1-55 1 12 1 67 1-19 1-54 1-66 1 109 1 16 1-10 1 5 1 9 1-9 1 151 1 2 1-52 1 26 1-27 1 100 1-8 1 32 1 42 1 42 1-47 1-2 1 45 1-54 1 5 1-57 1-105 1 60 1 2 1 2 1-5 1 34 1-103 1-28 1 6 1 138 1 41 1-52 1-9 1-155 1-25 1-59 1-13 1 52 1-94 1 18 1-72 1 34 1-58 1-48 1-15 1 29 1-77 1 36 1 51 1-68 1 130 1-60 1 25 1-102 1 80 1 62 1 80 1-19 1 114 1-47 1-27 1-83 1 31 1 12 1 90 1 29 1 30 1 7 1-52 1 3 1-73 1 56 1-31 1 34 1-1 1 3 1 78 1-77 1-10 1 72 1 48 1-46 1-55 1-45 1 136 1 11 1-20 1 32 1 43 1-125 1 156 1-51 1-83 1-3 1 19 1-3 1-5 1 41 1 28 1 99 1-16 1 105 1 60 1-30 1 2 1-26 1 30 1-1 1 115 1-29 1 50 1 0 1-131 1-95 1 31 1-6 1-84 1 57 1 16 1 16 1-62 1 123 1 69 1-29 1 33 1 54 1 1 1-43 1-52 1-34 1 89 1 15 1 19 1-63 1-85 1 65 1 9 1-18 1 20 1 39 1 10 1 95 1 27 1-28 1 31 1-91 1 76 1 56 1-2 1 17 1-19 1-8 1-46 1-118 1 40 1 83 1 73 1 0 1 29 1 21 1-6 1 85 1 69 1 84 1-21 1 34 1 54 1 32 1 16 1-31 1 24 1 5 1-12 1 3 1-42 1 53 1 2 1 59 1-9 1-2 1-18 1-71 1-48 1 24 1-13"/><path d="M0 0l1-38 1 10 1 30 1 23 1-17 1 45 1 46 1 85 1-19 1 71 1-11 1-60 1 21 1-35 1-24 1-40 1 28 1-6 1 13 1-43 1-16 1-44 1 51 1 33 1-106 1 93 1-40 1 52 1-6 1-31 1-95 1 81 1 33 1-23 1 45 1 8 1 2 1-47 1-7 1-100 1-72 1-5 1-37 1-76 1-12 1 32 1-21 1 117 1-9 1-38 1 12 1-62 1 37 1 16 1 7 1 47 1 59 1-60 1-2 1 8 1 118 1-42 1 13 1-53 1 7 1 20 1 35 1 74 1 40 1 9 1-93 1-34 1 35 1 29 1-11 1-14 1-57 1-7 1-53 1-46 1 14 1 121 1 31 1-3 1-48 1 26 1 0 1-68 1 0 1-102 1 5 1-40 1 52 1-28 1 83 1 67 1 3 1 45 1 2 1-19 1-17 1-10 1 57 1-28 1 13 1 38 1-12 1-9 1-10 1 51 1 1 1-34 1-62 1-79 1-99 1 31 1 33 1-5 1-68 1 10 1 8 1 126 1 41 1-51 1-49 1 44 1-9 1-16 1-96 1 22 1 6 1-35 1 82 1 27 1 5 1 4 1-5 1 29 1-18 1-62 1 53 1 3 1-13 1 11 1 40 1 52 1-35 1-42 1-35 1 25 1 31 1 1 1 46 1-21 1-24 1 14 1-49 1-57 1-19 1 71 1 39 1 42 1-29 1 29 1-45 1 13 1-187 1-10 1 90 1-8 1-74 1 133 1 12 1 16 1 93 1-57 1-16 1 83 1 5 1-11 1-54 1 23 1 77 1 77 1-62 1-21 1-50 1-42 1-37 1-26 1 128 1-80 1-19 1 35 1 16 1 0 1-85 1-16 1-68 1 44 1-13 1-35 1-4 1-16 1-38 1 46 1-108 1 5 1 21 1 20 1 22 1-132 1 75 1-61 1-26 1-108 1-8 1 84 1-67 1-77 1-114 1-86 1-76 1-32 1-71 1-36 1 60 1 71 1 17 1-1 1 4 1-22 1 20 1 19 1 17 1 87 1-70 1 6 1-48 1 0 1 52 1 47 1 34 1-35 1-11 1 116 1 15 1 12 1-41 1-20 1 97 1 0"/><path d="M0 0l1-14 1 81 1 51 1-1 1 45 1-17 1 78 1 51 1 102 1-89 1-5 1 113 1-35 1-107 1 27 1-30 1-26 1 55 1 83 1-104 1-15 1-65 1-23 1-31 1 30 1-3 1-7 1-76 1-11 1-5 1-20 1 25 1 13 1-2 1 48 1 41 1 43 1-5 1 61 1-21 1-51 1-25 1-4 1 91 1-149 1 31 1 76 1 0 1-33 1-49 1 17 1 53 1 60 1-46 1-83 1-22 1 10 1 47 1-2 1-52 1 66 1 27 1-14 1 25 1 42 1 8 1 14 1 0 1-46 1 46 1-23 1-1 1-17 1 22 1-10 1-21 1 15 1 23 1-44 1 64 1-24 1-31 1-90 1 9 1 41 1 21 1-64 1 43 1 41 1-15 1-93 1 24 1 52 1 26 1 43 1-6 1-20 1-65 1 39 1-9 1-35 1-48 1-52 1 62 1 46 1-7 1 72 1 21 1 4 1-25 1 13 1 76 1 59 1-8 1-81 1 59 1-78 1-7 1 2 1 17 1 10 1 0 1 51 1 4 1 51 1 55 1-10 1 32 1-41 1 17 1 11 1 56 1-149 1 39 1 13 1 59 1-37 1 39 1-75 1-58 1 52 1 80 1 12 1-61 1-31 1 21 1-11 1 84 1 47 1 8 1-12 1 132 1 20 1-24 1 73 1-1 1-44 1-57 1 56 1 7 1-18 1 2 1 31 1-36 1 63 1-21 1-50 1-60 1 19 1-30 1 54 1 1 1-40 1 54 1-55 1-21 1-42 1 32 1 46 1 36 1-71 1 25 1 23 1-23 1-12 1 31 1-5 1-48 1 10 1-97 1 53 1 34 1 56 1 45 1-58 1 26 1 65 1 5 1-36 1-27 1 32 1-67 1-9 1 36 1-41 1 195 1-2 1-59 1 30 1 73 1 110 1 23 1-11 1-74 1 49 1-22 1 74 1 0 1-45 1 9 1-23 1 31 1-41 1-38 1-29 1 24 1 28 1-57 1-90 1 57 1 51 1 11 1-27 1-19 1 7 1-43 1-67 1 16 1 1 1 52 1 68 1-75 1-68 1 0 1 102 1-12 1-11 1-23 1-46 1-8 1-56 1-11"/><path d="M0 0l1-25 1-6 1-104 1 8 1 15 1 52 1 8 1 68 1-62 1 86 1-44 1 18 1-68 1 51 1-35 1-40 1-83 1 37 1-13 1 129 1-37 1-96 1-3 1-72 1-3 1 22 1 23 1-61 1 57 1-18 1 110 1 80 1-2 1 31 1-46 1-33 1-21 1-38 1 39 1-5 1 43 1 32 1-28 1-59 1-30 1-3 1-8 1-79 1 54 1 22 1-72 1 62 1 10 1 25 1 57 1 114 1 2 1-88 1 40 1-8 1 12 1 37 1 52 1 66 1 62 1 14 1-11 1-48 1-27 1-21 1-51 1 42 1 17 1-12 1-44 1 13 1 6 1-104 1-44 1-89 1-41 1-35 1 56 1 56 1-1 1 61 1 10 1 19 1-11 1-59 1-13 1-68 1 89 1 54 1-17 1 39 1-17 1-47 1 83 1-24 1-29 1-61 1-31 1-33 1-12 1 31 1-30 1-11 1 42 1 47 1-38 1-30 1 39 1-144 1 30 1 94 1 86 1 76 1-113 1-10 1 53 1 43 1-71 1 30 1-9 1-117 1-70 1 47 1 146 1-1 1 46 1-5 1 52 1 74 1-38 1 39 1 15 1 15 1-72 1-4 1-24 1-32 1 68 1-15 1-48 1 33 1 8 1-39 1-1 1-98 1 22 1 21 1 23 1-53 1 45 1 43 1 7 1-10 1 24 1-34 1-12 1 35 1 8 1-32 1 80 1 16 1-2 1 61 1 82 1 41 1-64 1 16 1 46 1 54 1-2 1 13 1-40 1 91 1-25 1 31 1 22 1-23 1 3 1-26 1-18 1 87 1-44 1 41 1-46 1 18 1 1 1-14 1 44 1 28 1 6 1-38 1 63 1-22 1-17 1 68 1 63 1-39 1 18 1-33 1 129 1 92 1 22 1 3 1 11 1-102 1 84 1-35 1-41 1-6 1-41 1 46 1 43 1 7 1 56 1-8 1 42 1-13 1-11 1 110 1 13 1 27 1 56 1-55 1 70 1 53 1 59 1 52 1 88 1 81 1 33 1-4 1-48 1 7 1 68 1-13 1-12 1-34 1 3 1 33 1-38 1 7 1 1 1-59 1-23 1 26 1 31 1 45"/><path d="M0 0l1 19 1 25 1 64 1 9 1 50 1 27 1-104 1 24 1-14 1 4 1 18 1 38 1 45 1 88 1-7 1 98 1-36 1-56 1 13 1-16 1 24 1-81 1 40 1-17 1 83 1-69 1 11 1-43 1-28 1 60 1 0 1-57 1 18 1 82 1-80 1 131 1 49 1 6 1-65 1-60 1 23 1-23 1 0 1-55 1 30 1 93 1 9 1-3 1-22 1-20 1 3 1-178 1 10 1 12 1 31 1-68 1-32 1 110 1-73 1 27 1-24 1-11 1 5 1-32 1 16 1 4 1 29 1 110 1-67 1-23 1-93 1-74 1 77 1-72 1-19 1-5 1 56 1 14 1 84 1-69 1 65 1 20 1-144 1-20 1 35 1-94 1 39 1-9 1 12 1 39 1-29 1 6 1-57 1 26 1-48 1-9 1-55 1-10 1-56 1 25 1-26 1-29 1-36 1 13 1-79 1-33 1 55 1-23 1 84 1-12 1 35 1 104 1-48 1 99 1-55 1 6 1 4 1 38 1 18 1-8 1 55 1 17 1-32 1 22 1-70 1-118 1-1 1-129 1 57 1 100 1-31 1-7 1 7 1 52 1 46 1 57 1-61 1-46 1 22 1 86 1-15 1-30 1 9 1 12 1 2 1 0 1 23 1-66 1-62 1 16 1 84 1 26 1-16 1-57 1 7 1-85 1-59 1 43 1-77 1-46 1 30 1 5 1-79 1 16 1-75 1 11 1-42 1-6 1 101 1 103 1-54 1 79 1-54 1 115 1-24 1-127 1-22 1-75 1 150 1 14 1 61 1-8 1-10 1 46 1 97 1 68 1-20 1-32 1-84 1-5 1-21 1 52 1-47 1-14 1 105 1-13 1 36 1-8 1 17 1-61 1 11 1-11 1 0 1 43 1-10 1-16 1 65 1 60 1-5 1 10 1-63 1 68 1-18 1-103 1-25 1-72 1 43 1-16 1-32 1 54 1-17 1 55 1 60 1-83 1 3 1-8 1 49 1 47 1-28 1 47 1-11 1-39 1 100 1 79 1 16 1 82 1 75 1 15 1-32 1 13 1-18 1 29 1 59 1 31 1 48 1 18 1-37 1-13 1-40 1 53 1 34 1-147"/><path d="M0 0l1-38 1 2 1-7 1 29 1 62 1-33 1-74 1-1 1-35 1-40 1 71 1-31 1 48 1-7 1 37 1 10 1-46 1-9 1 27 1-72 1-42 1 41 1-32 1-16 1-62 1 52 1-9 1 65 1-83 1-36 1-120 1 25 1 93 1-7 1-84 1 16 1 29 1 42 1 54 1 14 1-38 1 27 1 6 1-101 1 14 1-56 1-76 1-25 1-52 1-23 1-27 1-86 1-19 1-29 1-61 1 10 1 30 1-123 1-46 1-13 1-66 1 56 1 128 1 15 1 34 1 12 1 23 1 24 1-85 1-52 1 19 1 9 1-33 1-80 1 31 1 59 1-33 1-40 1 67 1 38 1 8 1-17 1-16 1 3 1 42 1 71 1-68 1 14 1-89 1-55 1 73 1-65 1-15 1-45 1-25 1 28 1-94 1 94 1-40 1 70 1-106 1-7 1-88 1-10 1 58 1 5 1-19 1-11 1 46 1 56 1 98 1 91 1 45 1 16 1-6 1-61 1 22 1 54 1 31 1 89 1-20 1-2 1-43 1-51 1 79 1 69 1-2 1-2 1 43 1-40 1-101 1-60 1 27 1 9 1-98 1 51 1 23 1-140 1-7 1 69 1 124 1 22 1-44 1-59 1-24 1 12 1-1 1-29 1 94 1 31 1 69 1 47 1 23 1 0 1-59 1 98 1-30 1 10 1 57 1-33 1-16 1-52 1 15 1-14 1 70 1-21 1 4 1 37 1-24 1-18 1 16 1-91 1 35 1-21 1 7 1 57 1-29 1 44 1-71 1-2 1 7 1 24 1-4 1-25 1 3 1-10 1-31 1 50 1 37 1 19 1-64 1-64 1 40 1-166 1 78 1 34 1-45 1-49 1-35 1-20 1 4 1 77 1-24 1 56 1-11 1-55 1-52 1-8 1-15 1-1 1 37 1 55 1 75 1 13 1-129 1 29 1 0 1-65 1-25 1-72 1-58 1-22 1 21 1-4 1 11 1-19 1 7 1-100 1-48 1-11 1-50 1 104 1 10 1-2 1-46 1-93 1-12 1-29 1-67 1-19 1-2 1-50 1 48 1 12 1-47 1-60 1 123 1-61 1 18 1 29 1-41 1 7"/><path d="M0 0l1-63 1-56 1-18 1-3 1 43 1-61 1 58 1-137 1-50 1-28 1-39 1-10 1 11 1 8 1-27 1 38 1-68 1 27 1-26 1-42 1 30 1 29 1-20 1-25 1 53 1-47 1-72 1-43 1 75 1-10 1-21 1-7 1-115 1 69 1-39 1-7 1-23 1-123 1-12 1 0 1-31 1-146 1 22 1-104 1 136 1-107 1 35 1-11 1-45 1-2 1-118 1 40 1 16 1-44 1-49 1 21 1-22 1-88 1 5 1-30 1 56 1 25 1-45 1-6 1 77 1 27 1 135 1 55 1 75 1 18 1-31 1 44 1-45 1-65 1-17 1 12 1 32 1-46 1-42 1 4 1-108 1-51 1 57 1 29 1 71 1-83 1 1 1 55 1 53 1-15 1-105 1 76 1-28 1-32 1 31 1 70 1 12 1 21 1 5 1 34 1-5 1 45 1-40 1 19 1 2 1 117 1 31 1-1 1-25 1-6 1-92 1 48 1-27 1 55 1 152 1 19 1 37 1 31 1-69 1 18 1-62 1 2 1-15 1-47 1 34 1-118 1 49 1-9 1 69 1-83 1 34 1 9 1-35 1-123 1 63 1-41 1-80 1-25 1 21 1-41 1 63 1 9 1-86 1 2 1 10 1-90 1 1 1 18 1 4 1-42 1 137 1-53 1-10 1 65 1-21 1 41 1 16 1 2 1-136 1 14 1 102 1-1 1 54 1 24 1 9 1 69 1 33 1 24 1 1 1-123 1 17 1-31 1-49 1 27 1 53 1 50 1 20 1 26 1 1 1-46 1-132 1 61 1 74 1-60 1 85 1 8 1 18 1-20 1 12 1 0 1-10 1-33 1-19 1-60 1-20 1 4 1 95 1-33 1-19 1-44 1 69 1 5 1-25 1-144 1-86 1-11 1-74 1 16 1 81 1-26 1-19 1 8 1 0 1 47 1-3 1 64 1-4 1-36 1-48 1-83 1-13 1 65 1 1 1 126 1 42 1-33 1 48 1-78 1 17 1-28 1-197 1 11 1-42 1-21 1-91 1 23 1 37 1-30 1-44 1-43 1-37 1-23 1 29 1-95 1-48 1 100 1 83 1 27 1 53 1 22 1-32 1-16"/><path d="M0 0l1 96 1 87 1-2 1 38 1-14 1-98 1-113 1-5 1-52 1 80 1 54 1 56 1 98 1-30 1 34 1-22 1 14 1 9 1 69 1-6 1 55 1-42 1 76 1 11 1-19 1-6 1-6 1 71 1-6 1-73 1 69 1-55 1 12 1-84 1-47 1-47 1 1 1 38 1 4 1-39 1 22 1 170 1 64 1 28 1 17 1-27 1 30 1 22 1-45 1-11 1 74 1-58 1-44 1-51 1-6 1-32 1-3 1-119 1-39 1-71 1 5 1 39 1-37 1-9 1 18 1-14 1-46 1 33 1-59 1-63 1 16 1-12 1-17 1-4 1 45 1-59 1-13 1 57 1 1 1 53 1 3 1 73 1 3 1 12 1-134 1 11 1-29 1-51 1 19 1 47 1-66 1 36 1-51 1-62 1-54 1 29 1-63 1-8 1 73 1 43 1-16 1-21 1-65 1-44 1 21 1 25 1 29 1 59 1 101 1 89 1 20 1 105 1-28 1 22 1-22 1 1 1-95 1 25 1 6 1-43 1-58 1-23 1-51 1 37 1-27 1 51 1-30 1 37 1 9 1-43 1-5 1 29 1 53 1 66 1 1 1 45 1 10 1 24 1-65 1 70 1-28 1-20 1 24 1 24 1-69 1-65 1-20 1-47 1-23 1 29 1 102 1 13 1-43 1 57 1 8 1 16 1 75 1 14 1-13 1-41 1-63 1 24 1 33 1 57 1-14 1-17 1-10 1-59 1-15 1-18 1-65 1 68 1-37 1 97 1 14 1 2 1-38 1-34 1-38 1-13 1-27 1-52 1-146 1-74 1-27 1 40 1 21 1 11 1 13 1 136 1-14 1-73 1-119 1-10 1-121 1-29 1 10 1 40 1-50 1 61 1 43 1-69 1 44 1-33 1-37 1 17 1 6 1 13 1-10 1-23 1 44 1-99 1-62 1-113 1-9 1 63 1 12 1-71 1 29 1 114 1 9 1 40 1-46 1 7 1-10 1-55 1 35 1-39 1 22 1-76 1-35 1 53 1-52 1 0 1-48 1-64 1 10 1 14 1-5 1 74 1 8 1-147 1 18 1-67 1 1 1-70 1 32 1 12 1-18 1-23 1-61 1-59"/><path d="M0 0l1-59 1-92 1 35 1 101 1 7 1 110 1 62 1 76 1 46 1-17 1 58 1-22 1 5 1 53 1 72 1-20 1-73 1 28 1 27 1 32 1 27 1 38 1 27 1 40 1-19 1-6 1-8 1-38 1-39 1 18 1-92 1 13 1-1 1 53 1 53 1 76 1-25 1 14 1 28 1-16 1 7 1 79 1 7 1-46 1 40 1 22 1 39 1-26 1-7 1 46 1-42 1-66 1 61 1-42 1-54 1 5 1 22 1 18 1-75 1-97 1-62 1-77 1-30 1 19 1-1 1 17 1-50 1-130 1 5 1 5 1 18 1 4 1-3 1 80 1-33 1-41 1-42 1 53 1 47 1 35 1-71 1 54 1-98 1-15 1-39 1-18 1 0 1-77 1 33 1-30 1-73 1-8 1-28 1-58 1-41 1 7 1-45 1-78 1 17 1-25 1-46 1 158 1 75 1-50 1-29 1-26 1 22 1 78 1-34 1-22 1-22 1-33 1 0 1-30 1-15 1 50 1-37 1-66 1 119 1 62 1 30 1 15 1 21 1 13 1-35 1-30 1-21 1-107 1 8 1-55 1-43 1 80 1 29 1-2 1-27 1-81 1-8 1-79 1-22 1 49 1-65 1-40 1-11 1-88 1 4 1-38 1-44 1-45 1 38 1-7 1-42 1 21 1 107 1 99 1-44 1 145 1 73 1 14 1-59 1-54 1-113 1 90 1-47 1-11 1-4 1 84 1 49 1-64 1-26 1 72 1-12 1 35 1-11 1 47 1-109 1 28 1-6 1-54 1 40 1 16 1 7 1 3 1 14 1 42 1 79 1 9 1-28 1 0 1 87 1-50 1-55 1-82 1-120 1-7 1 31 1-50 1-6 1-43 1 55 1-29 1 67 1-93 1-30 1 51 1 104 1 36 1-36 1 15 1 73 1-12 1 77 1-16 1 12 1-56 1-86 1 16 1 46 1-95 1-32 1-87 1-10 1-16 1-103 1-52 1 30 1-82 1-85 1 48 1-46 1 129 1 152 1-41 1 0 1-32 1-45 1 4 1-25 1 78 1 26 1 28 1-74 1-11 1 20 1-79 1-33 1 27 1-70 1-12 1-40 1-116 1-12 1-31"/></g>
<g class="p" transform="translate(230.2,774.4) scale(6.20357,0.2)"><path d="M0 0l1 15 1-4 1-32 1-29 1 13 1-26 1-55 1 16 1-9 1 14 1-12 1-29 1 44 1-34 1-34 1-39 1 33 1 6 1 11 1 6 1-9 1 34 1 29 1 65 1-67 1-37 1 8 1 18 1-1 1 64 1-1 1 9 1 6 1 12 1-20 1-10 1 24 1-13 1 35 1-13 1 23 1 65 1-9 1 34 1 14 1 26 1-2 1-27 1-28 1-38 1-13 1 41 1 14 1-8 1 35 1-8 1-1 1 42 1 44 1-35 1 56 1 0 1 4 1-11 1 9 1 9 1-1 1-25 1-14 1-38 1-17 1 14 1 9 1 37 1-63 1 36 1 33 1 29 1 20 1 0 1 3 1-28 1 6 1-16 1-6 1 6 1-6 1 16 1-7 1-16 1 11 1 34 1-39 1-17 1 17 1-20 1 44 1-76 1 23 1 5 1 8 1-6 1 23 1 12 1 18 1 48 1-2 1-8 1 5 1 37 1 14 1 5 1 44 1-16 1-16 1 32 1-25 1 7 1-25 1 1 1 7 1-23 1 46 1 51 1-4 1 20 1-1 1 1 1-67 1-24 1-7 1 13 1 9 1 3 1-24 1 40 1-12 1-5 1 14 1 2 1 10 1-53 1-50 1-3 1 17 1-35 1-30 1 19 1-29 1-7 1 24 1 4 1-37 1-8 1 21 1 34 1-57 1 10 1-5 1 5 1-5 1-13 1-14 1 20 1-17 1 16 1-5 1-10 1 55 1 24 1-23 1-3 1-18 1-14 1 34 1-54 1-55 1 7 1-5 1 11 1 0 1-36 1 17 1 26 1-9 1-45 1-10 1 32 1 1 1-36 1 22 1-32 1-12 1 35 1-27 1 70 1-35 1 24 1 4 1-25 1-12 1-19 1-10 1-11 1-29 1 77 1 16 1-27 1 21 1 2 1 15 1-6 1 25 1 22 1-6 1 17 1-1 1 9 1 23 1-49 1 2 1-8 1 10 1 18 1 28 1-33 1-22 1 61 1 7 1 11 1-47 1 21 1-7 1 25 1 16 1 57 1 1 1 1 1 11 1-12 1-15 1 32 1 2 1 1 1-25 1 8 1 17 1 41 1-47 1 30 1 7 1 69"/><path d="M0 0l1-6 1 66 1-3 1 2 1-15 1-16 1 11 1 27 1-21 1 13 1-36 1-7 1-41 1-14 1-1 1 13 1-15 1 38 1-24 1 34 1-8 1 61 1 0 1 58 1 45 1 13 1 12 1-8 1 13 1 5 1 49 1 31 1 37 1 19 1 41 1 49 1 13 1 10 1 11 1-6 1 1 1-1 1-1 1 10 1-12 1-30 1 55 1 14 1-16 1-4 1-20 1-36 1-33 1-27 1 16 1 10 1 21 1 6 1-33 1-11 1-13 1 2 1-4 1-29 1 45 1 25 1-39 1-18 1-29 1 47 1 47 1 46 1 23 1-7 1-24 1 12 1-5 1 7 1 3 1-24 1 11 1-20 1-3 1 27 1-51 1 24 1 47 1-13 1-55 1 33 1-27 1-6 1-27 1-1 1 3 1 35 1-19 1-17 1-30 1 11 1-56 1-14 1 27 1 6 1-17 1-4 1 22 1 27 1-47 1-31 1 19 1 7 1 4 1-19 1-51 1-10 1-68 1 30 1-35 1-13 1-40 1 40 1 20 1 2 1-31 1-41 1 46 1 15 1-30 1-37 1-41 1-2 1 26 1-36 1-27 1 0 1 56 1-3 1 0 1-22 1 27 1-22 1-53 1-22 1-11 1 8 1 10 1 21 1 53 1 42 1-28 1-66 1-3 1 27 1 5 1-30 1 33 1-29 1 34 1-45 1 4 1-52 1-11 1-21 1-32 1-5 1-44 1 48 1-28 1-6 1 45 1-8 1 39 1-17 1 43 1-7 1-36 1 52 1 10 1-1 1-28 1-13 1-8 1-1 1 4 1-48 1-16 1-19 1 11 1-64 1 31 1-1 1-26 1-23 1 25 1-2 1-27 1-26 1 45 1 36 1-31 1 4 1 1 1 39 1 19 1-28 1-9 1-11 1 1 1-17 1-8 1 43 1 21 1-28 1-105 1 11 1 0 1 35 1-50 1-39 1-26 1 24 1-32 1 0 1-55 1-22 1 21 1-26 1-23 1 20 1-24 1 0 1 39 1 6 1 60 1-32 1-12 1-30 1-47 1 4 1-5 1-22 1 41 1 48 1-32 1-20 1 24 1-51 1 24 1-93 1 5 1 37"/><path d="M0 0l1 24 1 0 1-2 1-60 1-9 1-16 1 32 1 25 1 5 1 14 1 71 1-8 1-3 1-12 1 2 1-16 1-35 1 51 1 11 1 0 1 30 1-44 1 8 1 16 1 54 1-5 1-8 1-23 1 39 1 36 1-18 1 24 1-14 1 24 1 31 1 45 1-10 1 7 1 3 1 2 1 28 1-1 1 14 1-7 1-3 1-19 1 1 1-36 1 5 1 42 1-3 1 31 1 9 1-51 1-30 1 23 1-9 1-27 1-26 1-42 1 2 1 7 1-7 1 8 1-5 1 4 1-16 1-9 1-11 1-4 1-21 1-10 1-5 1-35 1-29 1 29 1 75 1-5 1-3 1-48 1 5 1-40 1 27 1-20 1-38 1-15 1 2 1-6 1 2 1 20 1 23 1-18 1 18 1-7 1-1 1 1 1-72 1-37 1 22 1 87 1 3 1 36 1 6 1 20 1-9 1 0 1-46 1-11 1 29 1-9 1-39 1 0 1 28 1 26 1 4 1-64 1-36 1-57 1 32 1 3 1-19 1 21 1-33 1 19 1-76 1-39 1-23 1-45 1-6 1-7 1 23 1 7 1 15 1-30 1 16 1 7 1 26 1 17 1-3 1-11 1-9 1-37 1-36 1-7 1 37 1-20 1-34 1-58 1-28 1-28 1 74 1 22 1 63 1 19 1 6 1-70 1-24 1 10 1-77 1 18 1-18 1-4 1-52 1 0 1-3 1 33 1-22 1 9 1 12 1-3 1 15 1 7 1 10 1-5 1 25 1 23 1 17 1-7 1 1 1 26 1-4 1 15 1-8 1-36 1-14 1 32 1-24 1 20 1 10 1 37 1-34 1 50 1 29 1 45 1 30 1 14 1-1 1 9 1-6 1 3 1-33 1 33 1 25 1-35 1-115 1 26 1-13 1 58 1-70 1 3 1-20 1-9 1-11 1-8 1-6 1 11 1-23 1 84 1 25 1 25 1 37 1 20 1-8 1 16 1 63 1-11 1 10 1 13 1 20 1 17 1-90 1 2 1 39 1 51 1 6 1-4 1-11 1-37 1 3 1-45 1-39 1-90 1 9 1 47 1 43 1 33 1 21 1 10 1 16 1-4 1 21 1-6"/><path d="M0 0l1-44 1-27 1-38 1-49 1 25 1-31 1-27 1 11 1-5 1 10 1 0 1 2 1-24 1 33 1-18 1 59 1-22 1 28 1 3 1-16 1-21 1-52 1 17 1 8 1-19 1-55 1-46 1 24 1 19 1-1 1 22 1-9 1-3 1 24 1-15 1 30 1 0 1 19 1 12 1-26 1-20 1-19 1-52 1-19 1 19 1 11 1-26 1-45 1-12 1-47 1 0 1-2 1 36 1 7 1 39 1 8 1 5 1-23 1 2 1 25 1-50 1 4 1 0 1-2 1 48 1 40 1 10 1 13 1-36 1-51 1-13 1-40 1 51 1 17 1 27 1-3 1-8 1 38 1 9 1-32 1-29 1-37 1-2 1-5 1 28 1 41 1 20 1 28 1 16 1 66 1-53 1 8 1 4 1-2 1-74 1 4 1-62 1 18 1-33 1 34 1-41 1-28 1 14 1 39 1 13 1 12 1-16 1-25 1 24 1 8 1 35 1 31 1-12 1-7 1 8 1 8 1 11 1-33 1-1 1 7 1-71 1 29 1-16 1-10 1 38 1 7 1 27 1-36 1 46 1-17 1-46 1 39 1 2 1 27 1-15 1-19 1-11 1-34 1-8 1 39 1-72 1-30 1 12 1 62 1-39 1 23 1-15 1 18 1-27 1 20 1-34 1-2 1-22 1-5 1-68 1-65 1-10 1-9 1-1 1 14 1-3 1 10 1-44 1 19 1-3 1 32 1-14 1-14 1 0 1-60 1-29 1-17 1 32 1-5 1-36 1 2 1 30 1-32 1-60 1-4 1-15 1 0 1-2 1 17 1 70 1-8 1-41 1-25 1-16 1 16 1 29 1-40 1 15 1-27 1-26 1-58 1-61 1-27 1 31 1 9 1 25 1-21 1 16 1 34 1 25 1-5 1 1 1 2 1-17 1 52 1-27 1-17 1 6 1-2 1 11 1 14 1-10 1 50 1 56 1-4 1-3 1-2 1-30 1-5 1 51 1 8 1 16 1-4 1-29 1 1 1 15 1 3 1-1 1-1 1 32 1 17 1 14 1-30 1 0 1-43 1-1 1 17 1 4 1-50 1 25 1-80 1 31 1 1 1 11 1-23 1-16 1-43"/><path d="M0 0l1-42 1-19 1-48 1 36 1 38 1-13 1 7 1 65 1 19 1 0 1 1 1-11 1 12 1-2 1 21 1-4 1 22 1-26 1 7 1-18 1-42 1-17 1-32 1 15 1-5 1-43 1 27 1 16 1 19 1-13 1-6 1 38 1-32 1 44 1 13 1-3 1 26 1 22 1-44 1-55 1-8 1-22 1 37 1 34 1-4 1-58 1-35 1-1 1 38 1-15 1-14 1-27 1 25 1 3 1-17 1 21 1 17 1 18 1 61 1-65 1-25 1 30 1-69 1-76 1 40 1-6 1 7 1 12 1-35 1-10 1 15 1 28 1 1 1 17 1-26 1-22 1 31 1 30 1-4 1 6 1 17 1-46 1 1 1 6 1-3 1-10 1 2 1 20 1-41 1 58 1-56 1 3 1-6 1 31 1-32 1-31 1 18 1 21 1-20 1 12 1-19 1-8 1 8 1 16 1-7 1 24 1 19 1-16 1 5 1-25 1-36 1 22 1 22 1 28 1-32 1-2 1-28 1 9 1-43 1-5 1-40 1-33 1-3 1 4 1-8 1 33 1-20 1-8 1 31 1-12 1 36 1-6 1 16 1 11 1 5 1-6 1 33 1-92 1 4 1-38 1-21 1-37 1 7 1-15 1 25 1-29 1 14 1-28 1-25 1-68 1-49 1 17 1 42 1 26 1-6 1 17 1-56 1-41 1-29 1-49 1-91 1-32 1-15 1-28 1-50 1 31 1-71 1-42 1 44 1 21 1 39 1 45 1-20 1-53 1 51 1-45 1 36 1 51 1-81 1-12 1 42 1 12 1-13 1 18 1-20 1 14 1-68 1-52 1 17 1-58 1-16 1 31 1 11 1 20 1-11 1-34 1-26 1-55 1-9 1-82 1-30 1-31 1 25 1-26 1 20 1-33 1 32 1-37 1-45 1 54 1 11 1 31 1 1 1 5 1 6 1 24 1-74 1 21 1-89 1-3 1-4 1-1 1 20 1-26 1-4 1 34 1 49 1 42 1-32 1 2 1 35 1 38 1-44 1-28 1 82 1-56 1-71 1 25 1-8 1 23 1-42 1-59 1 39 1-2 1 23 1 29 1-11 1-19 1 11 1-41 1-57 1-65"/><path d="M0 0l1-10 1-10 1-69 1 27 1-15 1 12 1-16 1 3 1-7 1 26 1 60 1 51 1 5 1-10 1-27 1 46 1-7 1-10 1-12 1 13 1 17 1-30 1 27 1-25 1-24 1 13 1-38 1-1 1-60 1 28 1 6 1-6 1 22 1-11 1 16 1 22 1-27 1 42 1 8 1 21 1 33 1-21 1 10 1-6 1 16 1 9 1 28 1 9 1-24 1-9 1 15 1 17 1 3 1-28 1 19 1-3 1-22 1-8 1-8 1-57 1-6 1-2 1 8 1 3 1 6 1-33 1-11 1 9 1-5 1-59 1-17 1-2 1 4 1-44 1 7 1 31 1-12 1 7 1 13 1-20 1 18 1 53 1-26 1 42 1 74 1-56 1-2 1-6 1 59 1 13 1 33 1-21 1-33 1-1 1-31 1-14 1 11 1-78 1-1 1-2 1 11 1-6 1 40 1-12 1-9 1 11 1 17 1 33 1-28 1 1 1-44 1 9 1-71 1 18 1 26 1-14 1-25 1-41 1 31 1-24 1-10 1-5 1-72 1 47 1 24 1 12 1-12 1 1 1-10 1-3 1 27 1-96 1-22 1-64 1-24 1-34 1 11 1 1 1-54 1 63 1 38 1 16 1 24 1-43 1-28 1-26 1-3 1-47 1 93 1 2 1 46 1 13 1-27 1 0 1 24 1 11 1 5 1 9 1-5 1-15 1-90 1 16 1-16 1-34 1 47 1-98 1-57 1 22 1 7 1 4 1-22 1 10 1-9 1-10 1-46 1-36 1-4 1 27 1-31 1-6 1-53 1-25 1 11 1-9 1-29 1 73 1 27 1-43 1-1 1-10 1-50 1 35 1-23 1-48 1 54 1 0 1 35 1-49 1-7 1 3 1-54 1-35 1 71 1 5 1 55 1-46 1 25 1-53 1-42 1 43 1 37 1 7 1 2 1-9 1-18 1-19 1 33 1 4 1-18 1-22 1 69 1 0 1 13 1-36 1-43 1-103 1-37 1 1 1 19 1-78 1-1 1 54 1 20 1 10 1-25 1-23 1-37 1 0 1-43 1 2 1 2 1 66 1 34 1 1 1-39 1 41 1-1 1-45 1-16 1 39 1 23 1 27"/><path d="M0 0l1 41 1 25 1 9 1-18 1-18 1-22 1-24 1 16 1 46 1-32 1 55 1-41 1-5 1 18 1-45 1 15 1 45 1 17 1-1 1 49 1 24 1-27 1-5 1 16 1-8 1-42 1 64 1 16 1-26 1-16 1-3 1 33 1 0 1 6 1 44 1 58 1 37 1 30 1 12 1 25 1-5 1-30 1-17 1 41 1 65 1 27 1 21 1 10 1-31 1-25 1-3 1-23 1-53 1 0 1-11 1 2 1-1 1-15 1-10 1 3 1-3 1 58 1-14 1 3 1 17 1-1 1 19 1-6 1-8 1 2 1 36 1 19 1-26 1 23 1 14 1 9 1-2 1 11 1-10 1 5 1-14 1 14 1 20 1 3 1-37 1 26 1 27 1 43 1-12 1-35 1-1 1-30 1 21 1 24 1-3 1-24 1-34 1-17 1-30 1-41 1 34 1-22 1-1 1-23 1-21 1-13 1-8 1-20 1-30 1-5 1 16 1-13 1-8 1-50 1-6 1 12 1-15 1 18 1 1 1-46 1-24 1 22 1 8 1 2 1 12 1-16 1-43 1-1 1 29 1-43 1-32 1 3 1 25 1 36 1 54 1 64 1-15 1 11 1 44 1 13 1-4 1 20 1-20 1 13 1-10 1 7 1 3 1-67 1 1 1 15 1 13 1 40 1 12 1-50 1-29 1-15 1-6 1-16 1-4 1-3 1-12 1-3 1-49 1-25 1-75 1 18 1 3 1 24 1-37 1-33 1-18 1-19 1 4 1 29 1 46 1 19 1 19 1 39 1 25 1-27 1-4 1-31 1 34 1-45 1-32 1-69 1 0 1 31 1 9 1 19 1 21 1 47 1 29 1 33 1-47 1-34 1-7 1 25 1 6 1 1 1-45 1 12 1-7 1-38 1 12 1-27 1-23 1-21 1 16 1 9 1 14 1-28 1-13 1-21 1 19 1 28 1 27 1 12 1-28 1-13 1 27 1 10 1-30 1 34 1-24 1-8 1 36 1-56 1-8 1-25 1-16 1 37 1-8 1 4 1 4 1 5 1-32 1 8 1-11 1-9 1 23 1-15 1 8 1-13 1-59 1-63 1-4 1 22 1 17 1 8 1 22 1-14"/><path d="M0 0l1-43 1-35 1-18 1-43 1 21 1 12 1 27 1-20 1 31 1 42 1 8 1 65 1-1 1 19 1-8 1 15 1-16 1 4 1 3 1-24 1-35 1-16 1-14 1-27 1-37 1-27 1-36 1-35 1-68 1 36 1-26 1-67 1 17 1-23 1-72 1-15 1 23 1 27 1-38 1-19 1 38 1 56 1 22 1 34 1 7 1-31 1-2 1 0 1 19 1 14 1-15 1-33 1 15 1-45 1 22 1-17 1-19 1 9 1 31 1 20 1 41 1 19 1-13 1 13 1 92 1-9 1-20 1-32 1 5 1 25 1-56 1-12 1-6 1 9 1-53 1-25 1 14 1-3 1-30 1-26 1 14 1-43 1 57 1-11 1 3 1 29 1 6 1 23 1-31 1 3 1-41 1 26 1 4 1-19 1 49 1-3 1-26 1-16 1 26 1-13 1-14 1-36 1 12 1-47 1-77 1 0 1 57 1-8 1 13 1-24 1 5 1 12 1 26 1 26 1 6 1-45 1 25 1 11 1-6 1-55 1-10 1 4 1 22 1-54 1-51 1-73 1 14 1 6 1 3 1-20 1 18 1 5 1-25 1 17 1-78 1 4 1 48 1 1 1-4 1 12 1-8 1-13 1-40 1 76 1-32 1-54 1-21 1 6 1 60 1 21 1 7 1 5 1 4 1-10 1 6 1 23 1 16 1 20 1 7 1-4 1-35 1-32 1-42 1-25 1-20 1 63 1 9 1 21 1 4 1-51 1 27 1 2 1-18 1-2 1-22 1-13 1 31 1-3 1 22 1-13 1 0 1 1 1 28 1-67 1 35 1 53 1-52 1-27 1 29 1 6 1-37 1 30 1-13 1 9 1-19 1-17 1 14 1 42 1 51 1 20 1 17 1 22 1-11 1 48 1-14 1 43 1-27 1 26 1 5 1 13 1 41 1 19 1-39 1 36 1-16 1 39 1-6 1 3 1 18 1 8 1 36 1-11 1-21 1-21 1-15 1-19 1-10 1-23 1-21 1 89 1 9 1-6 1 2 1 16 1-6 1-12 1 20 1-25 1 16 1-17 1-67 1 24 1 9 1 16 1-14 1 7 1 46 1 30 1-65 1-16 1 6 1-1"/><path d="M0 0l1-37 1 5 1-32 1-18 1-28 1-31 1-9 1 12 1-47 1 5 1 6 1 4 1 39 1-31 1 16 1-9 1-26 1-39 1 19 1-35 1-9 1-28 1-21 1-35 1-13 1-24 1-35 1-64 1-2 1-57 1-24 1-20 1 15 1 43 1-11 1 75 1-1 1-8 1 5 1 39 1 0 1 52 1-66 1-8 1 5 1 22 1 4 1 46 1-21 1-42 1-28 1-13 1 22 1 30 1 6 1 23 1-29 1 37 1-6 1 3 1 10 1-41 1-4 1 25 1 30 1 19 1-15 1 34 1 20 1-40 1-8 1 71 1-66 1-26 1 21 1-17 1 27 1 17 1 13 1 24 1-42 1-27 1 34 1 4 1-15 1 51 1 7 1-23 1-17 1-1 1 59 1-19 1 37 1-29 1 18 1-33 1-46 1 36 1 69 1-31 1-4 1 77 1-8 1 63 1-41 1 23 1-36 1-15 1-12 1-8 1-5 1-20 1 9 1-1 1 9 1-13 1-5 1-11 1 26 1 15 1-16 1-10 1-3 1-54 1 7 1 7 1-43 1 8 1 28 1 16 1 47 1-70 1 6 1-46 1 40 1-19 1 1 1 3 1-42 1 20 1-18 1-16 1 19 1-15 1 19 1-3 1-43 1-42 1-26 1 24 1-54 1 7 1-58 1 4 1 25 1-12 1 10 1 28 1-6 1-13 1-18 1-10 1-6 1 81 1 9 1 13 1-22 1-10 1 50 1-44 1-32 1-17 1 20 1 58 1 32 1-47 1 39 1-78 1 56 1-49 1-3 1-26 1-16 1-33 1-4 1 12 1-19 1 64 1-37 1 31 1-46 1-22 1-4 1 19 1-66 1 29 1-9 1-30 1 4 1 15 1-32 1 0 1 13 1 17 1-12 1-56 1 20 1-20 1-3 1-8 1 20 1-29 1 28 1 1 1-44 1-33 1-35 1-14 1 34 1-2 1-10 1 31 1-47 1 29 1-51 1-31 1 24 1-22 1 27 1-51 1 27 1-9 1-77 1-35 1 22 1-68 1 2 1 20 1-11 1 30 1-42 1 7 1-25 1-10 1-8 1-6 1 27 1-5 1 1 1-38 1 56 1-25"/><path d="M0 0l1 2 1 15 1-15 1 23 1-21 1 29 1 0 1-38 1 25 1-3 1 26 1 9 1 6 1-8 1-28 1-10 1-18 1-58 1-15 1-16 1 9 1 15 1-1 1-8 1 27 1-4 1-34 1 15 1-33 1 56 1 7 1-33 1 26 1-20 1-26 1-15 1 7 1 13 1 28 1 15 1-21 1-58 1-39 1-3 1-23 1-16 1-9 1-32 1-3 1 33 1 28 1 5 1 13 1-46 1-15 1 28 1-17 1-4 1-70 1 1 1 11 1-38 1 25 1-13 1 80 1-13 1 23 1-30 1-32 1 33 1-6 1-47 1-21 1-47 1-61 1-12 1-13 1 20 1-4 1 31 1 40 1 69 1 16 1-5 1-10 1-21 1 17 1-49 1 60 1-22 1 14 1 14 1-28 1 13 1 2 1-6 1-28 1 58 1 17 1 18 1 11 1 8 1 9 1 11 1-19 1-7 1 14 1 35 1 35 1-21 1 3 1 2 1 3 1-1 1-38 1 1 1 5 1 14 1 17 1-22 1-1 1 1 1-11 1 35 1-6 1 38 1-25 1-55 1-22 1 5 1 34 1-24 1-55 1-2 1 2 1-32 1-8 1-62 1-49 1-70 1 41 1 27 1-10 1-57 1 7 1-32 1 26 1 44 1-35 1-44 1 7 1-50 1-17 1 10 1 39 1-54 1-18 1 42 1 43 1-3 1 14 1 11 1-26 1 8 1 14 1-28 1 52 1 25 1-18 1-6 1-5 1 1 1 23 1-30 1-13 1 59 1 7 1 47 1 15 1-31 1 28 1 14 1-8 1 14 1 28 1 13 1 7 1 26 1 7 1-20 1-9 1-11 1-20 1 67 1-20 1 33 1 24 1-34 1-4 1 55 1 46 1 17 1 5 1 13 1-15 1-7 1-35 1-9 1-25 1-9 1 27 1 14 1 9 1-34 1 12 1 29 1 18 1-12 1-10 1-9 1-30 1 2 1 29 1-83 1-2 1 10 1-69 1 15 1 39 1 0 1-45 1-36 1-30 1-60 1-10 1-19 1-40 1 0 1 30 1 45 1-4 1 5 1-43 1 10 1-75 1-17 1-13 1 18 1 41 1-46 1 14 1 24"/><path d="M0 0l1-9 1-21 1 12 1-24 1 10 1 17 1-30 1 37 1-39 1-32 1-14 1 3 1-31 1-26 1 16 1-25 1-10 1-22 1 44 1-44 1 8 1-35 1 1 1-47 1-5 1-5 1-35 1-50 1-11 1-45 1 8 1-7 1-7 1-51 1-5 1 21 1-8 1 46 1 44 1 12 1-14 1 12 1 32 1-46 1 11 1-11 1-49 1-14 1-8 1 27 1-16 1 5 1 4 1 31 1-39 1 34 1 41 1-2 1-25 1-34 1-26 1 16 1-26 1-67 1-28 1-54 1 0 1-36 1 43 1-12 1 26 1 5 1 43 1-2 1 9 1 26 1-7 1-18 1 19 1 50 1-4 1 6 1 21 1-18 1-10 1-26 1 20 1-30 1-30 1 54 1-15 1 9 1 10 1 16 1-18 1-37 1 33 1 42 1-24 1 25 1-15 1 55 1 9 1-63 1-7 1 4 1-48 1 39 1 17 1-22 1 0 1-3 1 43 1-37 1-41 1-14 1-106 1-29 1-58 1 22 1-15 1-7 1-4 1-25 1 19 1-48 1-1 1 43 1 1 1 25 1-10 1-60 1 26 1 4 1 3 1-20 1-5 1-18 1 65 1 46 1-3 1 25 1 49 1-41 1 57 1-28 1-28 1-10 1 27 1 19 1 0 1-30 1-29 1 2 1 28 1-26 1-49 1-18 1-16 1 11 1-21 1 6 1-14 1 13 1-34 1 19 1-66 1-10 1 58 1 18 1-30 1-11 1-21 1 25 1-38 1-12 1 24 1 23 1-1 1-15 1 34 1 9 1 8 1-19 1-16 1 28 1 4 1-4 1 24 1-15 1 9 1-14 1-23 1-6 1-22 1-43 1-19 1 69 1 11 1-21 1-12 1 26 1 16 1 1 1 30 1 51 1 3 1-17 1 1 1-42 1-6 1 19 1 67 1 31 1-53 1-23 1-45 1-11 1-29 1-1 1-36 1-25 1-17 1-18 1 42 1-23 1-15 1 1 1-12 1-7 1 23 1 0 1 7 1 3 1 8 1 25 1-5 1-15 1-28 1 52 1 57 1-13 1-22 1-36 1-51 1 27 1 14 1 17 1-17 1 9 1 47 1 11"/><path d="M0 0l1 9 1 5 1 39 1 5 1-2 1 65 1-20 1 63 1-7 1-2 1-42 1-8 1 3 1-2 1-24 1-33 1 31 1-13 1-12 1 47 1-17 1-26 1 22 1-1 1 43 1 2 1 46 1 1 1 18 1-29 1-38 1 50 1-36 1-2 1 3 1-3 1-15 1 31 1-45 1-1 1 2 1 51 1-3 1 20 1 30 1-44 1 2 1-11 1-38 1 6 1-1 1 21 1 4 1-24 1 54 1 32 1 3 1 11 1 4 1 28 1 2 1 17 1 47 1-6 1 35 1-6 1-7 1-36 1-11 1 45 1-11 1 5 1-1 1-6 1-13 1-3 1 27 1 26 1-4 1-29 1-21 1 30 1 45 1-1 1 5 1 48 1-8 1-18 1-15 1-41 1-87 1-47 1-11 1-20 1-41 1-46 1-33 1-18 1 7 1 35 1 12 1 15 1 37 1-17 1-15 1-8 1-8 1 3 1 20 1 60 1-42 1 5 1-21 1 8 1 42 1 3 1 50 1 1 1 23 1 28 1-44 1 7 1 1 1 2 1 28 1 41 1 10 1 14 1-12 1 18 1-31 1-46 1-17 1-45 1-46 1-6 1-4 1 4 1 36 1-13 1-46 1 53 1 41 1 3 1 29 1 14 1 17 1-3 1-25 1-11 1 12 1-9 1-31 1 49 1 10 1 12 1 22 1-5 1-35 1 8 1 4 1 29 1 12 1-2 1-16 1-40 1-67 1-30 1 26 1 7 1 4 1-21 1 39 1-55 1 18 1 20 1-16 1 33 1 4 1 26 1-43 1-41 1-23 1 3 1-42 1-10 1 5 1 8 1 25 1 17 1-66 1-15 1-45 1 49 1-26 1-20 1-7 1 25 1 7 1 12 1 0 1 0 1-18 1 42 1 12 1-2 1-60 1 14 1-9 1 11 1 43 1-34 1 14 1 41 1-42 1 15 1-7 1-28 1 32 1 42 1 53 1 23 1 9 1 3 1-75 1 9 1-18 1 22 1 13 1 1 1-48 1-64 1 20 1 16 1-26 1 14 1-4 1-14 1-18 1 29 1-5 1 15 1-1 1 23 1-3 1 12 1-48 1-57 1 23 1-4 1-21 1 0"/><path d="M0 0l1 26 1 15 1 28 1-7 1-5 1-7 1-23 1-25 1 26 1-28 1-47 1-19 1 31 1-67 1-9 1 8 1-20 1 5 1 33 1 45 1-7 1-7 1 33 1-19 1 51 1-15 1 42 1 8 1-15 1-36 1-26 1-4 1 17 1 30 1-64 1-21 1 20 1-7 1 45 1 11 1 1 1 5 1 5 1 2 1 0 1-17 1-33 1-23 1 13 1 13 1 38 1 0 1 18 1-1 1 38 1 14 1-22 1-8 1 16 1-24 1 10 1-10 1-24 1 5 1 8 1-28 1 10 1 6 1 29 1-21 1 13 1-4 1 25 1 48 1 13 1-13 1 56 1-8 1-9 1-4 1-28 1-20 1 2 1 18 1 19 1 8 1-20 1-14 1 16 1-50 1 2 1-21 1-2 1 17 1-63 1 30 1 44 1 11 1 15 1-41 1-29 1-6 1-32 1-39 1-16 1 30 1 12 1 1 1-86 1 30 1 2 1 22 1-11 1-24 1 29 1-18 1-2 1 10 1-24 1 0 1 2 1-16 1 9 1-38 1-31 1-1 1 16 1 7 1-55 1-6 1 51 1 59 1-51 1 61 1-6 1-16 1-21 1-86 1 17 1-52 1 52 1-16 1-15 1 20 1 36 1-36 1-8 1-11 1 67 1-24 1-30 1-5 1-37 1-29 1-54 1 0 1 24 1 39 1-41 1-36 1-9 1-2 1 45 1-24 1 25 1-11 1 21 1 81 1-20 1 19 1 48 1-55 1 5 1 3 1 32 1-26 1-8 1-1 1-32 1-4 1 15 1-37 1-21 1 20 1 30 1 33 1 6 1-48 1-21 1-25 1 76 1 5 1-3 1 23 1 15 1 23 1-16 1 20 1 14 1 51 1 20 1 13 1 34 1-8 1 36 1-63 1 44 1-70 1-82 1-23 1 19 1-22 1-14 1 16 1 5 1 3 1-18 1-4 1 10 1 35 1-6 1 21 1-27 1-4 1 42 1 13 1-42 1-56 1-3 1 31 1-34 1-32 1 10 1-9 1 35 1-15 1 8 1 43 1-57 1-23 1-34 1 6 1 11 1 14 1-18 1-4 1 50 1-44 1-14 1 11 1-5 1 14"/><path d="M0 0l1 25 1 26 1 5 1-2 1-1 1 11 1 42 1 24 1-31 1-25 1 2 1 26 1-7 1-33 1-29 1-22 1 62 1-30 1-22 1 30 1-37 1 55 1-50 1 7 1-8 1-20 1 36 1-2 1 25 1-9 1 24 1-7 1 6 1-34 1 8 1-65 1 2 1-35 1 26 1-33 1 40 1 37 1-17 1 8 1-10 1-11 1-53 1 38 1 20 1-8 1-11 1 10 1 76 1-1 1-4 1-25 1-16 1-10 1 20 1-7 1 59 1 32 1-1 1 10 1-47 1-18 1-12 1 53 1 5 1 19 1-2 1-47 1-52 1 5 1-1 1-16 1 26 1-21 1-23 1-28 1 7 1 26 1 14 1-7 1-8 1-1 1 4 1 7 1 23 1-13 1 27 1-43 1 9 1-40 1-16 1 2 1-28 1 28 1-12 1 32 1 14 1 20 1-35 1 69 1-34 1-27 1-5 1-36 1 21 1-49 1 16 1-33 1 22 1-61 1-13 1 31 1-3 1 67 1 48 1 5 1-18 1 2 1 20 1 5 1 29 1 12 1-22 1 13 1-12 1 16 1 72 1 36 1 13 1-71 1 26 1 21 1 3 1-9 1 5 1 4 1-21 1 6 1 26 1 48 1 56 1 38 1 4 1-2 1-6 1-33 1-31 1 8 1 40 1-28 1 30 1-7 1-5 1 26 1-45 1 9 1-61 1-19 1-2 1-45 1 66 1-1 1 8 1-42 1 10 1 20 1 54 1-26 1 34 1-6 1 25 1 1 1-72 1 40 1 40 1 17 1 20 1 2 1-2 1 26 1-52 1 25 1 30 1-13 1 39 1-9 1-3 1 23 1 23 1 10 1 16 1 2 1 4 1-17 1-17 1-10 1 24 1-5 1 10 1 31 1-14 1-75 1-44 1 7 1-11 1 27 1-15 1 2 1-22 1-2 1 33 1 4 1-30 1-1 1 27 1 51 1 0 1-13 1 34 1-36 1 27 1-18 1-28 1 12 1-18 1 22 1-4 1-7 1 16 1-6 1 20 1 44 1-19 1-11 1-10 1 26 1-84 1 16 1-36 1 38 1 11 1 25 1-79 1-5 1-17 1-13 1-36 1-26"/><path d="M0 0l1-15 1 16 1 11 1-62 1-26 1-11 1-22 1-23 1 4 1 69 1-7 1-15 1-9 1-42 1 16 1-7 1 16 1 10 1 40 1 27 1-49 1 16 1 3 1-35 1 33 1 37 1 8 1 24 1 17 1-34 1 29 1-46 1-53 1 55 1-10 1-18 1-34 1 1 1-12 1-29 1 1 1 48 1-21 1 63 1-14 1 10 1 47 1-10 1-3 1 49 1 23 1-58 1 8 1 50 1 5 1 47 1 24 1 40 1 21 1 14 1-18 1 28 1 16 1-6 1-26 1-65 1 41 1 60 1 3 1-39 1-29 1-26 1-64 1-25 1 0 1 9 1-4 1-43 1-52 1 48 1-20 1-58 1-8 1-61 1 12 1-37 1 35 1 46 1 14 1 26 1 22 1 0 1-35 1-21 1-22 1 52 1 15 1-4 1 15 1 17 1 24 1-21 1-45 1-42 1-87 1 16 1-21 1-2 1-41 1-65 1-32 1 17 1-19 1 30 1 28 1-16 1-58 1 46 1-15 1-7 1 31 1 37 1 7 1 14 1 18 1-9 1-8 1-17 1-8 1-22 1-3 1-16 1 16 1-14 1-19 1-39 1-21 1 27 1-51 1 9 1 8 1 28 1-43 1 25 1 22 1-13 1 31 1-24 1 14 1 17 1-21 1 12 1 0 1-16 1 31 1-8 1-66 1-22 1-9 1-36 1 4 1 27 1 47 1-27 1-13 1-21 1-23 1 17 1-18 1 14 1 5 1-28 1 15 1-17 1 7 1 37 1-9 1 23 1-4 1-20 1 0 1 24 1-31 1-31 1-15 1 34 1 24 1-4 1-64 1-37 1-42 1-16 1-106 1 1 1-16 1-17 1 79 1-15 1 105 1 42 1-21 1 73 1 17 1-2 1 49 1-31 1-16 1 1 1 33 1-29 1 0 1-2 1 25 1-15 1 40 1 44 1 42 1-17 1 66 1-31 1-24 1 16 1 24 1 15 1-46 1 19 1-30 1 16 1-18 1 35 1-12 1-29 1 39 1 7 1 27 1-55 1 25 1-17 1-11 1-19 1 27 1 4 1-68 1 14 1 6 1-6 1 19 1-53 1 13 1-23 1 69 1-3"/><path d="M0 0l1-15 1 46 1 30 1-45 1 14 1-4 1-35 1 44 1-23 1-68 1 11 1-15 1 32 1 49 1-29 1-18 1 37 1-15 1-1 1-7 1 87 1-10 1-14 1-15 1 30 1-21 1-17 1-49 1 18 1 23 1 3 1 3 1 53 1-42 1 8 1 22 1-25 1 22 1-30 1 2 1-21 1-38 1 43 1-15 1 45 1-16 1 1 1-5 1-10 1 11 1 35 1-17 1-43 1 17 1 28 1-22 1 42 1 5 1-16 1-44 1 20 1 5 1 37 1 51 1 11 1 73 1-35 1 50 1 46 1-32 1 14 1 12 1 12 1-31 1-40 1-74 1 21 1 12 1 39 1 14 1-8 1 8 1 17 1-27 1-27 1-7 1 11 1 13 1-27 1 36 1-6 1 48 1 6 1 71 1-19 1-27 1-26 1-42 1-41 1 9 1-29 1-3 1 40 1 21 1-37 1-1 1-43 1-24 1-11 1 17 1 46 1 3 1-50 1 3 1 25 1 0 1-5 1-18 1-27 1-9 1 22 1 7 1-21 1 2 1 25 1-19 1 6 1-8 1 21 1 31 1-14 1 21 1-1 1-43 1-62 1-40 1-36 1-10 1-39 1 3 1 17 1 34 1-4 1-11 1 7 1-18 1 19 1-110 1 23 1-8 1-22 1-18 1-11 1-19 1 11 1 15 1-1 1-3 1-9 1-63 1 69 1 33 1-16 1 1 1-8 1 12 1-14 1 8 1 10 1 4 1-1 1-31 1-23 1 28 1-51 1-45 1-25 1 4 1-6 1 5 1-19 1 10 1 63 1 14 1 38 1-31 1-13 1 82 1-24 1 24 1-38 1-10 1-82 1 82 1 32 1-2 1 29 1-17 1 3 1-15 1-27 1 20 1-6 1-23 1 0 1 33 1-45 1-26 1 21 1-7 1-32 1 13 1 54 1-33 1 48 1 29 1-5 1-19 1-9 1 10 1-29 1-5 1 41 1-11 1-62 1 8 1-11 1-2 1 28 1-42 1-49 1-10 1 0 1 2 1 3 1 19 1-5 1-14 1-27 1-11 1-15 1-46 1-52 1 25 1 39 1 7 1 22 1 47 1-29 1 24 1 14 1 32"/><path d="M0 0l1-38 1-3 1-4 1 12 1 0 1-23 1-28 1-91 1-16 1-9 1 2 1 6 1 31 1 28 1-31 1 58 1-10 1-18 1 20 1 20 1 11 1-7 1-19 1 20 1-26 1-27 1-47 1-24 1 26 1-67 1-26 1-8 1 1 1-40 1-21 1-11 1 27 1 49 1-16 1 30 1 14 1 15 1 3 1-31 1-43 1 3 1 30 1-48 1 42 1-8 1-10 1-8 1 30 1 12 1-23 1 0 1 44 1-23 1 40 1 16 1-1 1 5 1-12 1-36 1 16 1 19 1 5 1-2 1-24 1 11 1-8 1 20 1 28 1-2 1-54 1-12 1 38 1-5 1-23 1 32 1 1 1-15 1 6 1 44 1-46 1-87 1 10 1 31 1 11 1-14 1-24 1-11 1-26 1-10 1 33 1 36 1 16 1-43 1 35 1 16 1-19 1-33 1-5 1-49 1 11 1 30 1-29 1 51 1-10 1 31 1 2 1 12 1 63 1 17 1-15 1 8 1-3 1 5 1-14 1-60 1 17 1-24 1-46 1 21 1-19 1 5 1 12 1-32 1 37 1-12 1 7 1 21 1 3 1 21 1 39 1 1 1-50 1 9 1-30 1 44 1 10 1-13 1-12 1 19 1 55 1 31 1-19 1 68 1-1 1-20 1 9 1-7 1 41 1 19 1 16 1-16 1-6 1-13 1 37 1-57 1-56 1-71 1 72 1 16 1 4 1-3 1-19 1-45 1-9 1-40 1-56 1 3 1 35 1 1 1-13 1-54 1-1 1 25 1-23 1-11 1 19 1 39 1-39 1-4 1-20 1-5 1-20 1-18 1-38 1 15 1-2 1 20 1-39 1-32 1-34 1 9 1-23 1-9 1-15 1 38 1-27 1-25 1-32 1-27 1 26 1 62 1-31 1 30 1-45 1 0 1 25 1 4 1 52 1 18 1 15 1 6 1 11 1 11 1 11 1-60 1 10 1-8 1-44 1-57 1-12 1-29 1-81 1 0 1-9 1-15 1-19 1-30 1-41 1-31 1-43 1-23 1-30 1-55 1 6 1-11 1-39 1 39 1 4 1-21 1 37 1-8 1 1 1-27 1-42 1 82 1-14 1 19"/><path d="M0 0l1 31 1 6 1-9 1-57 1 4 1-54 1 36 1 6 1 40 1-9 1 12 1-34 1 8 1 40 1 18 1-33 1-25 1 1 1-29 1 19 1 46 1 3 1-31 1 3 1-26 1 22 1 44 1 27 1-10 1-34 1 21 1-53 1 13 1 64 1 15 1 16 1-9 1-4 1 2 1-11 1 17 1-26 1-14 1-19 1 35 1-39 1-4 1 46 1-8 1-17 1 51 1-44 1-11 1 15 1-27 1-10 1 7 1 34 1-14 1 31 1-59 1-12 1 11 1 7 1-13 1 35 1-77 1-3 1 27 1 20 1-52 1 28 1 16 1-29 1 43 1-6 1-39 1-17 1 63 1-9 1 12 1-39 1-51 1-69 1-8 1-1 1 10 1 37 1-9 1-48 1 9 1-14 1 21 1-28 1-49 1 28 1 22 1 31 1 61 1 20 1-48 1 53 1 12 1 24 1-47 1 17 1 8 1 28 1-24 1-52 1-14 1-11 1 61 1-70 1 7 1 7 1-4 1-6 1 2 1-6 1 35 1-22 1 6 1-17 1-20 1 34 1-39 1 23 1 32 1 13 1-14 1 7 1 76 1-40 1 17 1 9 1-6 1-13 1-33 1-10 1 41 1 19 1 60 1 3 1 0 1 33 1-3 1 18 1-26 1-7 1-13 1 38 1-17 1-49 1 16 1 23 1-13 1-31 1 36 1-10 1-6 1-14 1-10 1 3 1-18 1 27 1-50 1-46 1-14 1 52 1 55 1-37 1-29 1-1 1-4 1 34 1-25 1 93 1-22 1 11 1 2 1 4 1-57 1-15 1 41 1-1 1-4 1 31 1 49 1-30 1-30 1 9 1-5 1 22 1-31 1-84 1 16 1 24 1 24 1-19 1-12 1-8 1 58 1-10 1-19 1-69 1-34 1 25 1-83 1-20 1-1 1-17 1 27 1 3 1 15 1 17 1-62 1 2 1-30 1 27 1-14 1 8 1 35 1 69 1-64 1-1 1-8 1-9 1 51 1-13 1-14 1 16 1 38 1 23 1 20 1-31 1-21 1 9 1-23 1 20 1 21 1 12 1 8 1 12 1-48 1 47 1 15 1-15 1 8 1-65 1 7 1-11"/><path d="M0 0l1-4 1 4 1 37 1 6 1-74 1-15 1 59 1 11 1-56 1-13 1-20 1-22 1 5 1 3 1-18 1 7 1-20 1-17 1 28 1-16 1 24 1-39 1-4 1 5 1 20 1-24 1-35 1 42 1 1 1 20 1-85 1-3 1-12 1-43 1-27 1 21 1-62 1-43 1 3 1 32 1 40 1 4 1 21 1-10 1 39 1 22 1 5 1-1 1-62 1-6 1 9 1 32 1 36 1-31 1 30 1 44 1-3 1-43 1 3 1-15 1 46 1-25 1 12 1-27 1-5 1 0 1-11 1-58 1 32 1 17 1 52 1-53 1-45 1 58 1 50 1 10 1-35 1 28 1 24 1 37 1-3 1-80 1 6 1-15 1 4 1 47 1-5 1 39 1 19 1-3 1-2 1 26 1-1 1-6 1 2 1 15 1 27 1 18 1-5 1 10 1-14 1-32 1 29 1 22 1 15 1-35 1-42 1 27 1-35 1 18 1-61 1-4 1 28 1 30 1 10 1-80 1-11 1 20 1-11 1-11 1 0 1 35 1-10 1 7 1-18 1 8 1 8 1 55 1-5 1-41 1 5 1-16 1 23 1-18 1-8 1-3 1-10 1 25 1-2 1-30 1-20 1-15 1 45 1-27 1-36 1 63 1-10 1-6 1-9 1-34 1-27 1 3 1 5 1-33 1 16 1-19 1 17 1 17 1 59 1-3 1-12 1 39 1 10 1-34 1-20 1-20 1 10 1-6 1 55 1 7 1-12 1 11 1-100 1-34 1-22 1-25 1 38 1 30 1 38 1 38 1-45 1-41 1 70 1 0 1 5 1 45 1 22 1-4 1 15 1 37 1-43 1-18 1-8 1 9 1 34 1 80 1-16 1-3 1 6 1-57 1-43 1 9 1-34 1-34 1-15 1-7 1 13 1-2 1-8 1-32 1-9 1 36 1-26 1-15 1-12 1 63 1-26 1 13 1-14 1 20 1 20 1-17 1 15 1 1 1-28 1-61 1 25 1 27 1-6 1 81 1 11 1 37 1-7 1 19 1-28 1 6 1 3 1-15 1-29 1-30 1 2 1 15 1 71 1-19 1 25 1 15 1-6 1 54 1 32 1-22 1-10 1-11"/><path d="M0 0l1 47 1-38 1 40 1 59 1-15 1-12 1 4 1-14 1-8 1 18 1-18 1 27 1-36 1 25 1-4 1 2 1-23 1-5 1-85 1 19 1-52 1-10 1 26 1-4 1-43 1 14 1-38 1-48 1 7 1-20 1 56 1-42 1 44 1-42 1-49 1-48 1 15 1 4 1 25 1-47 1-5 1 18 1-43 1 14 1 68 1-11 1-40 1 28 1-9 1 19 1 12 1-6 1 5 1 47 1 8 1 70 1 18 1 19 1-2 1 12 1-15 1-4 1-5 1 27 1-5 1 18 1-51 1 55 1 31 1-45 1 28 1-57 1-26 1 23 1 31 1 76 1-9 1 29 1-28 1 6 1 1 1 7 1-23 1-6 1-39 1-26 1 10 1 23 1 15 1 17 1 15 1 18 1 25 1 5 1-5 1-9 1-50 1-59 1 61 1-25 1 10 1 22 1-32 1-32 1 0 1-2 1 31 1-3 1-63 1-67 1 19 1-9 1 87 1-6 1 71 1-66 1 4 1 25 1 60 1 26 1-19 1-16 1-37 1-55 1 25 1-44 1 43 1 76 1 6 1 2 1 39 1-23 1 6 1-18 1 10 1-39 1-23 1 3 1 26 1 12 1 15 1-13 1-36 1-23 1-34 1 5 1 2 1-25 1 33 1 6 1-1 1-32 1 41 1-58 1 29 1-13 1-26 1 25 1 19 1 19 1 35 1 34 1-32 1 22 1 29 1-22 1 46 1-24 1 1 1 28 1 7 1 19 1-21 1-4 1 28 1-39 1 3 1-1 1 59 1 14 1-23 1 46 1 16 1 17 1-24 1-13 1-42 1 16 1 62 1-3 1-7 1-37 1-50 1-39 1-6 1-2 1-28 1 4 1 36 1-29 1 10 1-24 1-40 1 25 1 8 1-4 1-9 1-16 1-16 1 16 1-32 1 5 1 0 1-10 1 10 1 17 1 3 1-25 1 4 1-32 1 31 1-9 1 29 1-57 1 16 1 8 1 1 1 11 1 28 1-38 1-36 1-17 1 7 1 31 1-30 1-7 1-12 1-35 1 17 1-5 1-42 1-20 1-14 1 76 1-4 1 36 1 53 1-11 1-36 1 15 1 36 1-15"/><path d="M0 0l1-22 1-25 1-41 1 11 1 30 1-34 1 7 1-106 1 28 1 15 1-49 1-2 1-6 1-30 1 21 1-38 1 39 1 17 1 31 1-7 1-1 1 0 1 5 1 8 1-7 1-3 1-17 1-8 1 6 1 0 1 3 1 25 1-14 1 30 1 35 1-5 1-33 1-46 1-5 1 0 1-52 1 36 1 45 1-20 1 54 1 52 1 10 1-2 1-23 1 32 1-18 1-11 1-53 1 18 1 32 1 50 1 52 1-5 1 41 1-22 1 0 1-28 1 4 1-49 1 37 1 9 1 3 1 28 1 47 1 3 1-9 1 43 1 20 1 15 1-19 1 12 1-5 1 0 1 10 1-13 1-18 1 57 1-40 1 1 1-15 1-38 1 3 1 13 1 10 1-31 1-3 1-35 1-17 1 3 1-36 1 22 1-9 1 38 1 44 1-4 1 34 1-35 1-10 1 62 1-16 1 59 1-65 1-50 1 11 1-4 1-25 1 27 1 35 1 26 1 4 1-36 1 8 1 8 1 5 1-56 1 36 1 4 1 83 1 4 1-4 1 33 1-21 1 8 1 9 1-54 1-21 1-43 1-22 1-11 1-21 1-13 1-17 1-17 1-4 1-2 1 18 1 29 1-16 1-57 1-23 1-1 1-42 1 42 1-26 1 43 1-19 1-27 1 0 1-32 1 39 1-81 1-12 1 3 1 19 1 41 1 12 1 4 1 53 1 38 1 9 1-2 1-14 1-50 1 22 1 14 1-57 1-34 1-31 1 23 1 13 1 38 1-15 1 4 1 56 1-57 1-31 1-24 1 16 1-53 1-2 1 15 1-9 1 11 1 24 1 17 1-15 1-50 1-23 1 25 1 36 1-30 1 7 1 1 1-43 1-5 1-53 1 2 1 1 1-58 1-16 1-21 1-15 1 25 1 17 1-34 1 52 1 2 1-6 1 31 1-27 1-14 1-8 1-18 1 1 1-27 1-15 1 4 1-20 1 4 1 1 1-19 1 17 1-6 1 20 1-5 1-64 1 11 1 21 1-21 1 31 1-13 1 48 1 6 1-8 1-24 1 15 1-7 1 1 1 0 1 4 1-12 1-33 1-11 1-42 1 47 1 0 1 3"/><path d="M0 0l1-13 1-12 1-35 1-10 1 12 1-67 1 19 1-21 1-48 1-12 1-29 1-48 1-43 1-11 1-58 1-66 1-22 1 3 1 54 1 15 1 19 1 46 1-9 1 44 1 42 1-31 1-16 1 14 1-60 1 21 1-45 1-100 1-27 1 33 1-46 1 67 1-31 1 84 1 48 1-33 1-35 1-13 1-15 1-18 1-5 1-47 1 5 1-17 1 65 1 57 1-12 1 4 1 18 1 34 1 42 1 1 1 7 1-17 1-61 1-25 1-31 1 55 1 77 1 8 1 12 1-1 1-59 1 72 1 7 1 20 1-14 1-13 1 17 1-23 1-10 1-12 1 2 1-29 1 27 1 50 1 60 1 20 1 32 1 3 1 7 1 42 1-37 1 2 1-46 1 6 1 1 1 28 1-24 1-52 1-53 1 27 1 62 1-12 1-3 1-21 1-26 1 54 1-43 1-54 1 30 1-53 1 13 1 21 1 41 1-57 1 7 1-8 1-34 1 28 1 8 1 22 1 15 1-41 1 44 1-48 1 9 1 15 1-4 1 61 1-7 1-9 1 13 1 18 1 31 1-13 1-13 1 44 1-23 1 4 1-5 1 14 1-5 1-1 1 4 1 19 1 44 1 12 1-4 1-77 1 20 1-53 1-12 1 32 1-11 1-54 1-20 1-38 1-4 1 6 1-25 1 16 1 28 1 19 1 0 1 55 1-8 1-68 1-40 1 27 1 48 1-6 1-14 1-61 1-38 1-27 1-23 1-53 1 18 1 11 1 8 1 12 1-7 1 31 1 40 1-18 1 2 1 0 1-31 1-23 1 5 1-57 1-28 1 2 1-32 1-4 1-15 1 17 1 22 1 56 1-24 1 28 1-31 1-4 1 3 1 30 1-2 1 16 1-12 1-43 1 36 1-7 1 2 1-9 1 32 1-2 1-35 1 23 1 0 1 8 1 20 1-31 1 3 1 28 1-18 1 39 1-47 1-6 1-37 1 9 1-34 1-1 1 22 1-54 1 68 1 10 1-13 1 46 1 16 1 1 1-25 1 21 1 18 1-28 1-6 1-38 1 0 1 5 1 19 1 69 1 6 1-3 1-25 1 82 1-7 1 37 1-1 1-3"/><path d="M0 0l1 0 1 12 1 45 1 25 1-17 1 39 1-48 1 10 1-2 1 14 1 2 1 13 1-12 1 5 1 7 1-52 1 17 1-34 1 20 1-4 1-28 1 6 1 6 1 36 1-40 1 13 1-48 1-34 1-2 1 1 1-69 1 12 1-15 1 54 1 6 1-41 1 25 1 8 1-21 1 25 1 47 1 31 1-33 1-3 1 22 1 61 1 28 1 3 1-1 1 9 1 7 1 26 1-28 1-15 1-51 1 14 1 11 1-24 1-20 1 35 1 6 1 43 1-9 1-25 1 22 1-9 1 65 1-16 1 4 1-20 1 47 1-7 1-43 1-5 1-7 1 1 1-7 1 4 1-45 1-5 1-21 1 10 1-18 1-11 1-16 1 18 1-53 1 21 1 0 1 8 1 20 1-3 1-9 1 36 1-16 1 25 1-4 1-33 1 1 1-48 1 21 1 0 1-23 1 15 1 6 1-57 1 0 1 7 1-24 1-4 1-45 1 45 1 2 1-25 1-8 1-44 1-43 1 61 1 45 1 25 1 12 1 19 1 10 1 119 1-24 1 17 1 18 1-1 1 3 1 16 1-5 1-8 1-26 1 10 1-53 1-5 1-2 1 15 1 9 1-60 1 51 1-57 1-6 1-23 1 9 1 15 1 19 1 14 1 32 1-36 1-10 1 43 1 18 1-53 1-11 1-68 1 8 1-18 1 44 1-1 1-2 1 16 1-5 1-69 1 14 1-1 1-13 1 9 1-70 1-28 1-24 1-10 1 8 1-7 1 2 1 54 1-59 1 9 1-8 1 11 1 57 1-12 1 14 1-19 1-13 1 51 1-13 1-53 1-58 1 25 1 5 1 10 1 13 1 17 1-8 1-20 1-58 1-21 1 48 1 13 1 12 1-89 1-82 1 27 1 20 1-23 1 46 1 35 1 53 1-13 1 34 1 21 1 10 1-21 1 18 1 9 1-19 1 15 1-9 1 34 1-2 1 7 1-20 1-33 1-28 1-1 1-79 1-24 1-5 1 38 1 2 1 38 1-54 1-6 1 11 1-5 1-13 1-6 1-26 1-21 1-28 1-12 1 23 1 12 1-21 1 0 1-55 1-2 1-49 1 67 1 37 1-24"/><path d="M0 0l1-19 1 1 1 39 1-21 1-14 1-21 1 36 1 4 1-12 1 17 1 16 1 6 1-6 1-1 1 65 1-38 1-33 1-40 1 38 1 12 1 8 1 60 1 43 1-18 1-11 1-41 1 3 1 40 1-54 1-36 1-23 1-32 1-61 1-18 1 0 1 22 1-9 1-54 1 32 1 9 1-45 1 2 1-26 1 67 1-33 1 44 1 7 1 11 1 37 1 38 1-16 1 6 1 57 1 35 1-55 1-43 1 34 1 10 1 11 1-28 1-19 1-11 1 15 1-6 1 36 1-43 1 17 1-36 1-18 1 22 1-33 1-5 1-65 1 0 1 13 1 17 1-20 1-10 1 32 1 7 1 31 1 29 1-13 1 15 1-48 1-22 1 8 1-41 1 41 1-38 1 13 1-4 1 28 1-14 1-6 1-31 1-53 1 4 1 4 1-17 1 11 1 9 1-28 1 53 1 70 1-37 1 12 1-1 1-47 1-33 1-11 1-53 1-13 1 39 1-24 1 15 1 3 1-6 1 22 1 22 1-8 1-10 1-10 1-45 1-6 1-12 1-27 1-22 1-19 1 28 1 1 1 18 1-10 1 8 1-45 1 47 1-5 1 5 1-36 1-20 1 31 1-76 1 25 1-3 1-15 1-33 1 71 1-28 1-18 1-5 1-9 1-4 1 52 1-3 1-16 1 42 1 23 1-29 1-55 1-29 1-27 1-16 1 6 1-4 1 39 1-1 1 5 1 13 1-15 1-43 1-64 1-6 1 27 1-39 1 1 1 85 1 0 1-35 1-28 1 55 1-35 1-30 1-13 1 38 1-17 1-40 1-29 1 26 1 27 1-57 1 24 1 11 1 43 1-12 1-68 1 21 1 34 1-18 1-14 1 11 1 3 1 23 1-47 1-50 1-18 1 38 1 50 1 29 1-29 1-26 1 16 1 13 1 62 1 5 1 45 1-38 1-62 1 35 1-37 1 25 1 48 1 72 1-6 1-3 1 42 1 32 1 40 1 17 1-84 1 8 1 5 1-60 1-48 1-21 1-11 1-2 1 15 1 50 1-95 1-1 1 24 1 8 1-40 1-51 1 17 1 18 1-6 1 50 1 22 1-25 1 0 1 52"/><path d="M0 0l1-35 1-10 1 7 1-9 1-34 1-25 1-48 1 58 1 27 1-44 1-7 1 37 1-68 1-46 1-22 1-7 1-30 1-34 1 20 1 28 1 20 1 23 1-1 1-10 1-51 1 3 1-21 1 32 1 33 1-27 1-46 1-19 1 49 1-6 1-30 1-33 1-72 1-46 1 0 1-51 1 22 1-6 1-18 1-11 1-11 1 18 1 17 1 11 1-17 1-28 1-1 1-46 1 13 1-27 1 28 1 7 1 51 1-29 1-57 1 78 1-53 1 46 1-9 1-33 1-51 1-26 1-18 1-10 1-6 1 50 1 1 1 42 1 8 1 33 1-25 1-24 1 18 1-9 1-38 1-8 1-50 1-10 1-9 1 39 1 5 1-22 1 18 1-44 1 12 1-42 1-33 1 22 1 8 1 13 1-51 1-44 1-6 1 13 1 4 1-66 1 39 1-33 1-63 1 1 1 29 1-20 1 10 1 15 1-45 1 36 1-56 1 2 1 2 1 7 1 58 1-35 1 24 1-32 1 32 1 35 1-53 1-5 1-21 1-71 1 52 1 13 1 4 1 56 1-4 1 6 1 83 1-3 1-67 1-17 1 18 1-10 1 33 1-14 1 5 1-36 1-2 1 43 1 52 1 15 1 22 1-35 1-7 1-4 1-22 1-14 1-12 1 37 1-58 1 18 1-41 1 2 1 32 1 22 1 11 1 59 1-25 1-16 1 59 1 26 1-21 1 57 1-64 1 17 1-9 1 18 1-15 1 36 1 31 1 33 1 8 1 36 1 6 1-80 1 8 1 76 1 3 1 57 1-32 1 5 1-28 1 34 1 4 1-29 1-10 1-28 1 21 1 17 1-23 1 61 1 41 1-1 1-33 1-6 1-29 1-37 1 1 1-20 1-33 1 6 1 3 1-10 1-42 1 9 1-9 1 16 1 14 1-24 1 47 1-29 1-5 1 24 1-46 1-30 1 27 1 45 1-16 1-45 1-64 1 20 1 15 1-25 1-64 1 28 1-56 1-9 1-14 1 40 1-6 1-4 1 21 1 54 1-41 1-27 1 45 1-2 1 23 1 13 1 11 1 4 1 56 1-44 1-4 1 21 1-7 1-34 1 2 1 5"/><path d="M0 0l1-12 1 14 1 33 1 47 1 38 1 4 1 1 1-16 1 24 1-16 1-4 1 0 1 8 1-54 1-11 1 19 1 29 1 8 1 10 1 22 1 8 1-9 1 46 1 24 1 3 1 4 1-46 1-9 1-11 1 3 1-32 1-11 1 23 1 32 1 11 1-40 1-15 1 46 1 32 1 13 1 21 1-23 1 22 1 29 1-13 1 31 1 0 1 6 1 2 1 44 1-5 1-50 1-58 1 11 1-22 1-61 1 21 1-5 1 2 1-6 1-34 1 37 1 8 1-5 1-13 1 62 1 19 1-10 1-4 1 18 1 10 1 15 1 2 1 33 1-29 1-2 1-22 1-40 1 34 1-15 1-36 1-35 1 23 1-12 1 24 1-8 1 23 1-6 1 41 1 18 1 2 1 10 1-23 1-10 1 76 1 25 1 20 1 15 1 44 1-46 1-37 1-3 1 46 1-7 1-34 1-32 1-29 1 51 1-21 1 29 1 35 1-25 1 30 1-8 1-1 1 23 1 23 1-34 1-19 1-4 1-38 1-6 1-1 1-5 1-17 1 33 1-22 1 0 1 6 1 18 1 2 1 11 1 24 1 11 1 11 1-6 1 9 1 11 1 7 1 10 1-71 1-34 1 2 1-38 1 34 1-5 1-1 1 72 1-62 1 20 1-22 1 9 1-10 1 14 1-11 1 22 1-30 1 17 1-19 1 5 1-12 1-55 1 53 1 1 1-25 1 4 1-7 1 8 1 29 1 47 1 42 1-66 1 1 1-20 1 33 1-11 1-11 1-12 1-81 1 5 1 27 1-29 1-4 1 14 1-66 1 22 1 20 1-67 1-4 1 2 1-6 1 9 1-40 1-16 1 13 1 64 1-26 1-10 1 45 1-45 1 31 1-33 1-45 1 22 1 57 1-12 1-43 1-6 1 10 1 8 1-20 1 37 1-13 1-46 1 4 1-33 1-2 1-25 1-7 1-23 1-3 1-35 1 2 1-56 1 14 1 18 1 0 1 6 1-20 1-24 1 6 1-77 1-22 1-26 1 6 1-12 1 17 1 14 1-11 1 32 1 30 1 33 1 0 1-7 1 15 1 32 1-22 1-5 1-13 1 8 1 50 1 19"/><path d="M0 0l1 0 1-13 1 7 1 0 1 36 1-40 1-42 1-22 1-32 1 8 1 0 1 4 1 15 1-19 1-1 1-29 1 46 1-4 1-47 1-32 1 35 1-4 1 24 1-2 1-1 1-42 1 27 1-11 1 34 1-26 1-39 1-59 1-38 1-25 1-35 1-2 1-12 1-3 1 14 1 50 1 52 1 15 1-23 1 14 1 34 1-18 1 35 1-5 1-6 1 23 1-14 1-8 1 16 1-26 1 9 1 8 1 16 1 12 1 29 1-1 1-14 1 25 1-62 1 1 1 7 1-27 1 42 1-25 1-10 1 33 1 21 1-6 1-23 1-72 1-13 1 5 1-32 1 75 1-3 1 22 1-37 1-28 1-43 1 2 1-42 1-4 1-25 1 6 1 32 1-12 1 3 1 11 1 23 1-35 1-21 1 19 1-76 1-93 1-29 1-29 1-39 1-24 1 24 1-19 1 0 1 23 1-71 1 49 1 1 1-29 1 15 1-20 1 2 1-11 1-41 1-17 1 6 1-11 1-30 1-30 1 45 1 22 1-17 1 52 1 51 1 15 1-13 1-8 1 17 1-36 1-9 1 22 1 13 1 25 1 19 1-19 1-12 1 16 1 40 1 34 1-65 1-33 1-15 1-60 1-15 1-58 1 8 1-23 1 15 1-38 1-13 1 19 1 8 1-73 1-15 1-43 1-26 1 2 1-43 1-7 1 16 1-34 1 17 1-19 1-29 1 42 1 12 1-3 1 45 1 3 1 11 1-13 1-20 1-12 1-47 1-7 1 38 1-23 1-20 1-8 1-28 1-67 1-66 1-1 1 13 1 35 1 30 1 6 1-35 1-56 1-72 1-7 1 72 1-5 1-72 1 10 1-18 1 1 1-36 1 0 1-34 1 15 1-14 1-8 1 2 1 9 1 49 1 31 1-45 1-42 1 17 1-16 1-6 1 59 1 56 1 64 1 26 1-2 1 13 1-23 1 30 1-43 1 40 1 26 1-55 1-14 1-19 1 15 1-66 1-39 1-45 1-20 1 17 1-11 1-18 1 9 1-54 1-21 1 16 1-28 1-4 1 17 1-7 1-114 1 24 1-4 1-7 1 27 1 31 1-33 1 41 1 12"/><path d="M0 0l1-8 1 41 1-55 1 29 1 24 1-17 1-24 1-7 1-10 1 1 1 47 1 58 1 0 1 31 1 9 1-25 1 18 1 31 1 5 1-2 1 3 1 52 1-47 1 43 1-16 1-1 1-1 1-6 1-45 1 0 1-42 1-30 1-43 1-34 1-21 1-49 1 23 1-13 1-44 1 22 1 22 1-4 1 25 1 13 1 41 1-25 1-60 1-13 1-30 1-3 1 6 1-35 1 23 1 11 1-40 1-25 1 17 1-33 1 26 1-10 1 45 1 21 1-28 1-46 1-43 1 19 1-19 1 0 1 82 1 32 1-11 1-21 1-1 1 30 1-14 1 15 1 18 1 18 1 9 1 37 1-33 1-19 1 26 1 12 1-13 1 15 1-32 1-40 1-14 1 18 1 2 1-19 1-35 1 29 1-5 1 16 1 9 1-37 1-23 1 6 1-13 1 9 1-53 1-21 1-19 1-3 1-48 1-11 1 80 1-22 1-15 1 4 1-13 1-11 1 5 1 50 1-10 1-1 1 23 1-34 1-26 1-10 1-43 1 25 1 16 1 8 1 5 1 9 1 6 1 39 1-19 1 23 1-2 1-42 1 36 1-32 1 1 1-19 1 4 1-56 1 26 1-73 1 21 1 35 1 17 1-18 1-5 1 21 1-20 1 60 1-10 1 22 1-40 1-18 1-9 1 91 1-1 1-24 1 38 1-3 1-61 1 42 1-8 1 0 1 61 1 19 1-4 1 44 1-41 1 24 1 29 1-52 1-48 1 1 1 20 1 22 1-23 1 32 1 30 1-60 1 0 1-9 1-17 1-39 1-22 1 26 1-3 1 7 1-17 1-35 1-7 1-39 1 56 1 34 1 11 1 21 1 4 1 12 1-44 1 34 1-32 1-19 1 0 1 37 1-10 1 12 1 2 1-15 1-52 1 7 1 13 1-5 1 19 1 22 1 8 1-10 1 12 1-1 1 8 1-6 1 36 1-18 1-9 1-16 1-9 1 25 1 29 1 23 1-22 1 46 1-7 1 52 1 28 1 13 1 14 1-25 1 96 1 32 1-10 1-1 1 37 1-30 1 20 1-11 1-26 1 4 1 2 1 14 1-31 1 31 1-6 1 8"/><path d="M0 0l1 32 1 6 1 25 1-37 1 18 1-49 1-19 1 24 1-13 1-19 1-31 1 35 1-8 1 4 1 28 1 37 1 7 1-3 1 0 1 47 1-13 1-16 1 20 1 1 1-4 1-17 1-30 1 2 1 51 1-16 1-14 1 32 1 51 1-1 1-52 1-44 1 16 1-39 1-31 1 54 1-35 1 35 1-13 1 69 1 24 1-10 1 17 1 58 1-76 1-44 1 2 1 41 1 20 1-61 1 30 1 42 1 12 1-14 1 31 1-4 1 4 1-34 1-38 1 31 1 24 1 20 1 29 1 27 1 14 1-29 1 14 1-3 1 41 1-18 1-7 1-9 1-54 1 8 1 44 1 27 1 25 1 40 1 21 1-24 1-7 1-18 1 42 1 10 1-30 1-58 1-5 1-31 1-2 1 47 1 7 1-12 1-13 1 15 1-19 1-17 1 42 1 13 1 6 1-46 1-43 1 12 1-3 1-45 1-9 1 49 1 4 1 40 1 38 1 14 1 46 1 17 1-32 1 10 1 27 1 33 1 5 1 29 1-4 1 2 1-4 1-42 1 2 1 33 1 4 1-45 1 5 1-21 1-60 1-30 1 24 1 40 1 32 1 36 1-6 1 4 1-26 1 38 1-3 1 28 1-6 1 25 1-12 1-30 1-50 1 30 1 44 1 13 1-31 1-32 1-19 1-38 1 52 1-44 1 19 1-33 1-41 1 27 1-50 1 13 1-2 1-22 1 4 1-38 1 37 1-19 1-27 1-18 1-8 1 38 1 4 1 5 1 32 1-15 1 37 1-45 1-9 1-33 1-8 1 12 1-18 1-13 1-61 1 18 1 11 1 28 1-31 1 25 1 11 1 8 1 0 1 13 1 20 1 26 1-4 1-28 1 25 1-17 1-10 1 2 1-5 1 61 1 16 1-41 1 49 1 16 1-38 1 15 1 38 1 26 1-38 1-24 1-9 1 60 1-10 1-15 1-22 1-30 1 9 1-5 1 30 1-46 1-5 1 12 1 37 1-54 1-32 1 6 1 18 1 9 1 18 1-26 1 38 1 18 1-16 1 25 1 0 1 16 1-14 1 16 1-4 1 31 1-29 1 10 1-18 1-46 1 30 1 32"/><path d="M0 0l1 62 1-51 1 2 1 10 1 9 1 42 1-43 1-14 1 22 1 19 1-23 1 30 1 24 1-2 1-11 1 26 1-4 1-41 1-1 1 1 1 67 1-10 1 3 1-18 1 17 1 9 1 3 1-3 1-27 1 0 1-7 1-3 1 10 1 53 1-17 1 11 1 7 1-8 1 15 1-53 1 11 1-6 1 28 1 35 1-12 1-48 1 19 1 16 1 29 1-30 1 31 1 7 1-30 1-22 1 2 1-36 1-81 1 50 1-23 1-1 1 31 1 22 1 13 1 1 1-22 1 26 1-6 1-21 1-11 1 2 1 35 1 38 1 16 1 37 1-17 1-24 1 21 1 32 1 16 1-48 1 3 1-11 1-41 1 1 1-29 1 20 1 30 1-54 1-41 1 1 1-43 1-5 1 15 1 17 1-15 1-38 1-21 1 36 1 11 1-1 1 2 1-75 1-39 1 36 1-65 1 7 1 44 1-55 1 35 1-16 1-77 1 18 1-38 1-4 1-40 1 1 1-1 1 0 1-76 1-33 1-34 1-2 1-18 1-14 1 14 1-31 1 6 1 9 1 28 1 59 1 18 1 11 1-37 1 15 1 60 1 46 1-50 1 20 1-11 1 9 1-63 1-19 1-12 1 53 1-27 1 67 1 22 1-32 1-64 1 12 1 41 1-22 1 20 1-30 1 5 1-6 1-1 1 51 1 21 1 0 1 9 1 33 1 3 1 19 1-7 1 15 1 8 1 2 1-15 1-8 1-7 1-6 1-6 1 25 1 0 1-14 1 18 1 8 1 42 1 0 1-3 1 21 1 57 1-32 1-28 1-12 1-3 1-5 1 9 1 3 1 14 1-27 1-4 1-39 1 52 1-19 1 48 1 3 1-4 1 25 1 73 1-14 1 1 1 55 1-6 1 24 1-1 1-23 1 33 1-21 1-12 1-9 1 12 1-25 1 42 1 19 1 54 1-38 1-11 1 11 1 29 1-1 1-15 1-25 1 52 1-13 1-20 1 52 1 51 1 56 1-36 1-44 1-1 1-84 1-26 1 15 1-6 1 4 1-1 1-18 1 24 1-52 1-25 1-29 1-34 1 61 1 53 1-8 1-69 1-29 1 7 1-44"/><path d="M0 0l1-3 1-28 1 20 1-20 1-42 1-3 1-38 1 1 1 16 1-38 1 76 1-32 1-48 1-6 1-14 1 47 1-8 1-36 1-35 1 26 1 26 1 33 1-31 1-7 1 11 1 15 1-3 1-7 1 5 1 29 1 61 1-7 1-8 1 36 1 12 1 21 1 34 1 4 1-10 1 4 1 21 1-54 1-24 1-25 1 21 1 34 1 15 1-16 1 31 1 45 1-27 1 16 1-27 1 40 1 13 1-6 1 5 1 9 1-14 1-54 1-55 1-15 1-3 1 0 1 20 1 46 1-49 1 7 1 13 1-28 1-4 1 8 1 17 1-15 1 9 1-29 1 13 1 11 1-28 1-2 1 32 1 13 1 28 1-61 1-65 1 27 1-38 1-3 1-44 1-13 1 30 1 49 1-32 1-8 1 30 1 1 1 3 1 6 1-20 1-7 1 36 1 3 1-4 1-38 1 37 1 1 1 63 1 20 1-15 1 30 1-37 1-25 1 20 1-49 1-35 1 40 1 24 1-5 1 18 1-35 1-10 1 57 1-25 1-24 1-2 1-27 1 26 1-34 1-2 1-3 1 39 1-46 1 1 1 12 1 27 1 4 1 16 1-5 1 8 1-17 1-14 1 3 1 5 1-56 1-29 1-41 1-13 1 27 1 62 1-18 1-37 1 41 1 13 1 4 1 6 1 18 1 12 1 34 1-19 1 19 1 27 1-32 1-6 1 46 1 33 1 18 1 87 1-52 1-7 1 4 1-35 1-10 1-91 1 18 1 15 1-26 1-18 1 37 1-4 1-39 1-28 1-19 1-11 1 6 1 21 1-11 1 4 1-1 1 52 1 14 1-21 1-18 1-38 1-17 1 21 1 7 1 21 1 62 1 13 1 23 1-1 1-29 1-41 1-11 1-22 1 8 1-1 1-26 1-32 1 59 1-41 1 43 1-13 1-32 1 22 1 11 1-20 1 5 1-18 1-5 1-45 1 33 1 36 1-3 1-41 1-62 1-35 1-46 1 10 1-20 1 20 1 60 1 43 1 15 1-33 1-44 1 34 1 16 1 29 1 54 1-15 1 3 1 5 1 28 1-35 1 17 1-8 1-38 1-32 1-3 1-27 1-45"/><path d="M0 0l1 44 1 11 1-8 1 20 1 4 1-13 1 16 1-17 1 7 1 41 1 31 1 24 1-20 1-3 1 20 1 22 1-20 1-18 1 8 1-21 1-34 1 21 1-26 1-20 1 41 1-9 1 59 1 38 1 26 1 29 1-42 1-4 1-20 1-60 1 0 1 32 1 15 1-12 1-32 1-31 1-26 1 47 1-88 1 6 1 22 1 7 1-1 1 33 1 2 1-78 1 28 1-1 1-9 1-55 1 10 1 1 1 20 1-65 1 39 1-23 1 34 1 15 1-40 1-31 1 80 1-17 1 30 1 16 1 86 1-45 1-3 1 21 1-19 1 17 1-82 1 6 1-1 1-33 1 1 1-16 1-8 1 60 1-29 1-3 1-35 1 1 1-16 1-29 1-3 1-17 1-30 1 31 1-8 1-15 1 7 1 24 1-14 1 45 1-18 1 45 1 2 1-46 1-16 1-70 1 7 1 51 1 1 1 13 1-10 1-32 1-1 1-13 1-64 1-20 1 12 1-35 1-26 1-29 1-8 1-19 1 107 1-15 1-38 1-13 1 1 1 18 1 1 1 17 1 18 1-69 1 87 1-6 1 15 1-14 1-57 1-49 1 4 1-9 1-46 1 33 1-7 1-28 1-72 1 18 1 8 1 60 1 34 1 15 1 36 1 21 1 20 1-59 1 8 1 31 1-3 1 17 1-59 1 6 1 14 1 53 1-71 1-66 1-27 1-15 1-11 1 6 1-14 1-30 1 13 1 38 1-18 1 5 1-54 1-70 1 56 1 8 1-13 1 13 1 18 1-79 1-35 1 10 1-16 1-41 1 35 1-69 1-6 1-39 1 6 1-24 1-3 1-11 1 7 1-18 1-16 1-37 1 30 1 46 1 8 1 3 1-3 1-2 1-38 1-54 1-2 1 14 1-7 1-46 1 46 1 15 1-31 1 40 1 13 1 16 1 5 1-22 1-34 1-6 1-9 1 6 1 51 1 32 1 40 1-8 1-24 1 7 1-48 1-25 1-21 1-15 1-9 1 13 1 14 1 3 1-34 1 58 1-49 1 51 1-45 1-14 1-86 1-47 1-62 1-9 1 26 1-41 1-44 1 16 1-35 1-2 1-59 1-11"/><path d="M0 0l1-30 1-7 1-31 1-71 1 29 1-1 1 12 1-7 1 15 1 17 1-79 1 23 1 20 1 9 1-21 1 5 1 30 1-39 1-96 1-57 1-21 1-35 1 36 1-52 1 56 1 13 1 8 1 2 1-37 1-30 1-20 1 26 1-10 1 10 1 9 1-15 1 34 1 9 1-31 1 21 1 33 1 16 1-1 1-26 1 4 1-38 1-13 1 55 1 38 1 12 1-51 1 3 1 18 1-35 1-40 1 7 1-41 1-25 1-23 1-75 1-25 1-26 1 48 1 5 1-4 1-8 1-26 1-22 1 33 1-42 1 2 1-10 1-11 1 4 1 19 1-59 1 25 1-5 1-40 1 10 1-15 1 2 1-51 1-24 1-10 1-46 1-41 1-26 1-37 1 6 1-33 1-12 1-28 1 4 1 18 1-43 1-21 1 60 1-36 1 15 1-28 1-40 1-13 1-37 1-45 1-69 1 14 1 20 1-26 1 2 1 30 1 26 1 6 1-24 1-36 1-78 1 32 1 32 1 21 1-16 1 11 1-34 1-19 1 18 1 55 1 22 1 3 1-31 1 9 1-2 1-27 1-34 1 18 1-29 1 17 1 12 1 3 1-6 1 12 1 27 1 46 1-11 1-11 1-38 1-47 1 24 1-61 1 10 1-11 1 21 1 20 1-40 1-27 1-47 1 19 1-5 1 1 1 4 1 53 1-2 1 3 1 30 1 0 1 15 1-60 1 32 1-20 1 12 1-30 1-13 1-8 1 29 1 33 1-21 1 66 1-28 1-44 1-44 1-9 1 79 1 10 1-18 1 11 1 39 1 30 1-46 1 36 1 33 1 40 1-11 1 39 1-13 1-25 1 0 1-36 1 2 1-67 1-58 1-44 1 10 1-2 1 53 1-5 1-6 1-2 1-27 1 21 1-33 1-5 1-51 1-55 1 50 1-41 1 21 1-34 1 29 1 15 1-79 1-27 1-89 1 25 1-50 1-1 1 4 1 24 1-7 1 3 1 2 1-36 1-11 1-33 1 11 1 50 1 26 1-30 1 25 1 1 1-53 1 6 1 11 1-1 1-51 1-5 1-48 1 6 1 4 1 14 1 65 1 0 1-37 1 37 1-13"/><path d="M0 0l1-7 1-36 1-21 1 22 1 18 1 22 1-5 1 16 1 28 1 22 1 28 1 12 1-26 1-62 1-72 1 0 1-31 1-18 1 37 1-13 1-18 1 45 1-22 1 4 1 22 1 41 1 34 1 38 1-8 1 0 1 27 1-4 1 31 1-7 1-51 1-52 1-1 1-26 1-50 1 29 1-13 1-21 1-60 1 2 1 9 1-11 1 4 1 15 1 19 1-1 1 17 1 14 1 26 1-21 1 3 1 9 1-55 1-4 1-23 1 39 1 24 1-56 1 51 1 14 1 3 1-14 1 1 1 33 1-51 1 20 1 14 1-8 1-37 1-52 1 47 1 17 1-20 1 43 1-24 1-1 1 9 1-3 1-22 1-58 1 41 1-5 1 3 1-15 1 23 1 28 1-26 1 20 1-5 1-8 1-26 1 12 1-16 1 37 1-33 1-50 1 22 1 29 1-4 1 3 1-8 1 4 1-4 1 12 1 16 1-26 1 4 1-12 1 2 1 36 1-53 1-15 1-53 1-20 1-19 1 32 1-32 1 23 1-26 1 12 1 18 1 17 1-50 1-29 1-4 1-25 1 6 1 30 1 62 1 52 1-5 1 52 1 9 1-47 1-30 1-15 1 30 1 13 1-19 1 16 1-18 1-47 1-39 1-24 1-50 1 30 1-15 1-38 1-13 1 26 1-57 1-1 1-54 1-34 1-44 1-70 1 46 1-59 1 8 1-26 1 28 1-46 1-11 1 8 1-6 1-33 1 12 1-48 1-67 1-14 1-26 1-2 1 16 1-22 1-39 1-39 1-38 1 31 1-8 1-26 1-19 1-66 1-28 1 36 1-25 1-5 1-23 1 16 1 34 1 4 1 39 1-14 1-38 1-41 1 21 1-34 1 63 1 37 1-32 1-72 1-1 1 33 1-5 1-17 1 84 1 17 1 14 1-48 1-19 1-8 1-55 1-5 1 15 1-28 1 40 1-13 1-24 1-14 1-33 1-22 1-9 1-7 1-23 1-49 1 85 1-36 1-4 1-61 1-44 1-46 1-69 1 41 1-45 1 27 1 29 1-17 1 40 1 3 1 43 1-49 1-22 1 15 1 7 1-27 1-56 1-26 1-30 1-30"/><path d="M0 0l1 29 1 86 1-71 1-1 1-71 1-4 1 5 1-55 1-20 1 16 1 32 1 30 1-4 1 108 1-54 1-3 1 12 1-9 1-6 1 67 1-12 1 18 1-37 1 27 1-38 1-8 1-34 1-20 1 33 1 9 1 17 1 32 1-6 1 1 1-7 1 19 1-6 1 11 1-10 1 38 1-10 1-21 1 59 1-10 1 7 1 25 1-67 1 44 1-3 1 22 1-41 1 14 1-44 1-21 1 8 1 11 1-16 1 45 1-48 1-41 1 37 1 61 1 23 1-8 1-49 1-26 1 54 1-11 1 88 1-13 1-2 1 21 1 39 1 2 1-18 1-35 1 2 1-2 1-63 1-14 1-23 1 0 1 28 1 40 1-13 1-56 1 30 1 76 1 30 1-14 1 7 1 15 1-29 1 16 1 8 1-27 1 4 1 4 1 41 1-9 1 18 1-4 1 14 1 1 1 18 1 9 1-15 1-20 1-7 1 40 1-29 1 41 1 1 1 5 1-8 1-45 1 5 1 52 1-8 1 12 1 37 1 4 1 32 1-3 1 2 1-15 1-46 1 51 1 11 1-11 1-8 1-15 1 26 1-34 1-10 1-46 1 27 1-53 1 4 1 20 1-23 1-51 1-49 1 8 1-30 1 41 1-29 1 2 1 59 1 15 1-18 1 14 1 19 1-59 1 7 1-16 1 20 1 11 1-51 1-12 1 6 1 23 1 14 1-40 1 32 1-36 1-29 1 9 1 28 1-21 1 7 1-41 1 3 1 5 1 36 1 30 1-6 1-35 1-31 1 14 1-2 1 8 1-13 1-13 1-4 1 4 1 21 1-13 1 13 1 22 1-66 1-18 1 9 1 32 1-23 1 3 1 18 1-7 1 13 1 2 1 9 1 59 1-14 1 15 1-2 1-23 1 14 1 15 1 37 1 19 1 0 1-12 1 48 1-22 1 5 1-52 1-23 1-24 1 2 1 44 1-45 1 4 1 94 1 39 1-18 1 15 1-28 1-9 1 16 1 27 1 35 1 5 1-47 1 37 1 24 1 19 1-32 1-11 1 39 1-18 1-17 1-24 1 13 1-42 1 33 1-25 1 6 1-43 1-8 1 30 1-28 1-37"/><path d="M0 0l1 13 1-52 1 100 1 9 1-6 1 26 1 12 1 14 1-1 1-10 1 4 1 49 1 32 1-15 1 72 1-62 1-17 1 1 1-12 1 11 1-44 1 12 1-7 1-16 1-8 1 63 1 23 1-29 1 17 1-9 1-14 1-12 1 29 1-39 1 22 1 6 1 27 1-55 1-7 1 61 1 31 1 8 1 47 1-37 1-12 1 23 1 5 1-4 1-23 1 29 1 19 1-29 1-4 1 10 1 27 1-4 1-20 1 33 1 37 1-49 1-45 1-19 1 22 1 40 1-25 1-29 1 8 1-1 1-4 1-11 1-9 1 41 1 8 1-4 1-4 1 30 1 33 1-11 1-10 1 21 1 25 1 82 1 11 1-2 1 35 1-31 1 8 1 24 1 19 1-14 1 0 1-36 1-17 1 6 1 13 1-27 1-38 1-27 1 9 1 9 1-2 1 40 1 47 1-26 1-30 1-13 1 19 1 3 1-4 1-35 1 41 1-37 1 33 1 41 1-66 1-8 1-29 1 24 1 19 1 10 1-5 1 4 1-32 1 28 1 15 1-6 1-43 1-14 1 25 1 3 1 30 1 23 1 4 1 21 1 29 1 71 1-22 1-22 1-37 1 4 1-5 1 17 1 55 1-37 1-32 1-23 1 10 1-1 1-34 1-46 1-33 1-13 1-34 1 20 1 1 1 5 1-13 1 28 1-33 1-24 1-59 1 35 1 0 1-24 1 39 1-50 1-7 1-31 1-3 1 21 1-2 1-12 1-11 1 14 1 8 1-28 1-3 1-6 1-11 1 26 1 27 1-10 1 23 1-25 1 1 1-33 1 13 1 14 1-15 1-24 1 21 1 2 1-5 1 10 1 35 1-6 1 7 1-6 1-15 1-11 1 13 1 28 1-12 1 12 1 6 1 20 1-10 1 26 1-21 1-30 1-5 1-36 1 20 1-44 1-30 1 3 1-37 1 31 1 9 1-13 1-22 1-9 1-8 1 34 1 42 1-29 1-46 1 14 1-99 1-40 1 22 1 34 1-10 1-26 1 20 1 41 1 77 1-26 1 72 1 2 1-23 1 10 1 37 1 26 1-37 1-11 1-5 1 34 1-24 1-6 1-59 1 13"/><path d="M0 0l1-7 1 32 1-24 1-11 1 29 1-2 1-20 1 10 1-4 1 2 1-28 1 45 1-33 1-5 1-17 1 1 1 40 1 1 1-37 1 52 1-38 1 10 1-4 1-41 1-6 1 27 1 46 1-21 1-56 1 17 1 14 1 20 1-1 1-4 1-21 1 75 1-29 1 46 1-28 1-16 1 57 1-9 1-58 1 19 1-15 1-26 1-23 1-7 1-1 1-15 1 5 1 8 1 39 1-56 1-16 1-3 1-33 1-24 1-37 1 10 1-21 1-10 1-36 1 56 1 12 1-40 1-11 1-39 1-17 1 7 1-80 1 23 1-3 1-6 1 1 1-11 1 43 1 3 1-33 1-41 1 39 1 2 1 0 1-8 1-44 1-3 1-26 1 37 1-31 1 32 1 2 1 17 1-26 1-36 1 55 1-6 1-37 1 11 1-21 1 37 1 6 1-11 1-4 1 39 1 2 1 18 1-5 1 5 1-37 1 40 1-34 1 19 1 6 1-47 1 31 1 36 1-15 1 13 1-2 1 25 1 2 1 8 1-24 1-16 1-18 1-28 1-5 1 48 1 21 1 10 1 14 1 32 1 2 1-10 1 24 1 2 1-6 1 5 1-20 1-36 1-9 1 41 1 0 1-6 1 26 1 7 1-41 1 57 1 8 1-18 1 17 1 1 1 2 1-9 1-22 1-12 1-5 1 39 1-44 1-15 1-23 1-15 1 31 1-11 1-14 1-20 1-26 1 22 1-29 1 30 1 20 1-35 1 13 1-43 1-28 1 22 1-77 1-4 1 19 1-26 1 16 1 20 1 18 1 34 1-37 1 27 1 25 1 25 1-31 1-14 1 49 1-51 1-26 1-5 1 54 1-32 1-27 1-55 1-62 1-9 1 30 1 17 1-27 1-6 1-19 1 35 1-23 1-1 1-19 1-3 1-3 1-29 1 17 1-9 1-16 1-47 1 35 1-5 1 76 1-73 1-11 1 17 1 0 1 7 1 58 1 29 1 38 1 4 1-48 1-3 1-14 1-7 1 22 1 15 1-23 1-64 1-17 1 19 1 45 1 0 1-28 1 16 1 21 1 34 1 4 1 20 1-69 1-11 1-28 1-17 1-44 1-1"/><path d="M0 0l1-68 1 49 1 13 1 23 1-13 1 8 1-91 1-3 1-35 1 13 1-66 1-8 1-13 1 1 1-54 1-29 1-54 1 3 1 32 1 6 1-3 1 3 1-5 1 32 1-70 1-8 1-25 1-39 1-44 1 5 1 13 1-47 1 11 1-41 1-14 1 31 1-27 1-16 1 28 1-24 1 8 1 43 1-53 1 10 1-1 1 19 1 10 1 3 1 1 1 56 1 20 1-23 1-26 1 52 1 50 1-45 1 37 1-24 1 20 1 36 1 21 1-66 1-2 1 21 1-20 1-10 1 2 1-40 1 24 1 36 1-1 1-7 1-27 1-4 1 43 1-11 1-5 1-7 1-43 1 6 1 17 1 9 1-69 1-24 1-42 1 31 1-16 1 45 1-25 1 32 1 1 1-34 1 18 1-28 1-37 1-1 1-3 1 0 1 5 1 41 1 8 1 42 1 0 1-22 1 31 1 10 1 4 1 6 1-4 1-6 1-21 1 20 1-18 1-37 1-76 1 10 1-15 1 21 1-22 1-6 1 39 1-23 1-43 1 19 1 8 1 0 1 49 1 22 1 1 1 48 1 11 1-17 1 4 1-3 1 0 1-2 1 70 1 38 1 19 1 30 1 15 1-58 1-37 1 15 1 3 1 8 1-31 1 5 1-27 1-13 1 35 1-14 1-8 1 16 1 31 1 0 1-60 1 27 1 13 1-34 1-36 1 11 1 29 1 19 1-36 1 22 1-23 1-21 1-20 1 45 1 26 1-13 1-58 1-27 1 28 1-4 1 47 1-29 1-44 1-54 1-4 1 17 1 5 1-5 1-30 1 11 1-50 1-18 1 6 1 11 1 37 1 3 1-14 1 3 1-25 1-19 1-20 1 5 1 20 1-32 1 23 1-12 1 14 1 6 1 23 1-49 1-37 1 26 1 63 1-15 1-34 1-7 1-24 1-75 1-45 1 7 1-12 1-2 1 3 1 6 1 7 1 1 1-37 1-34 1 9 1 73 1 92 1-33 1-5 1-54 1-5 1-53 1-10 1-13 1-3 1 50 1-120 1-16 1-28 1-36 1-3 1-42 1 43 1-12 1-3 1 5 1 44 1-5 1 2 1 45 1-6 1 13"/><path d="M0 0l1 6 1 3 1 4 1-17 1 73 1-18 1 74 1 0 1-26 1-39 1 8 1 14 1-15 1-46 1-8 1-24 1 4 1-12 1 16 1 27 1 26 1 18 1 34 1 22 1 11 1-16 1 50 1 30 1-9 1-53 1-17 1 6 1-55 1-27 1-41 1-34 1-24 1 0 1-3 1-22 1 14 1-1 1 14 1 0 1 0 1-22 1-12 1-57 1 9 1-44 1 22 1 48 1-27 1-43 1 44 1-16 1 60 1 1 1-25 1 7 1 55 1-20 1-8 1-15 1-65 1 50 1-6 1-35 1 13 1-3 1-11 1 3 1 6 1-7 1 14 1-19 1-4 1 52 1-16 1 5 1-65 1-46 1-31 1 40 1-38 1 14 1-7 1 87 1 28 1-27 1 27 1 74 1-59 1 29 1 31 1 5 1-31 1-13 1-28 1-26 1 6 1 9 1 10 1-34 1 34 1-21 1 24 1 26 1-1 1-19 1 11 1-11 1 1 1 35 1-30 1-18 1 27 1-18 1-28 1-30 1 35 1-11 1-45 1-13 1 11 1-27 1 10 1 26 1 55 1 50 1 25 1 16 1-18 1-1 1-7 1 65 1-5 1 33 1 9 1-5 1 51 1 16 1 46 1-21 1 54 1 24 1-71 1-4 1 11 1 10 1 4 1-28 1-31 1-34 1-28 1 50 1-41 1 15 1 24 1 9 1 2 1 17 1 18 1-15 1 13 1-19 1 32 1 8 1 8 1-6 1-6 1-57 1-7 1 35 1-19 1 20 1 40 1-25 1 22 1 52 1-49 1-9 1 15 1-46 1-15 1 83 1 26 1 1 1-63 1-44 1-4 1-13 1-17 1 3 1-16 1-41 1 24 1 34 1-16 1 29 1-19 1 25 1 0 1 12 1-23 1-33 1 27 1 25 1-3 1 24 1 21 1 17 1-29 1-29 1-13 1-14 1 1 1-21 1 18 1 39 1 13 1-23 1 27 1-7 1 11 1 30 1 14 1 23 1-16 1-32 1-3 1 28 1-46 1-55 1-18 1-46 1 14 1-12 1 1 1-20 1-53 1-10 1 6 1-2 1-25 1-16 1-39 1-8 1-9 1-50 1-19 1-38"/><path d="M0 0l1 0 1 42 1 19 1 2 1-6 1-8 1 43 1 3 1 45 1-4 1-31 1-24 1 11 1-19 1 24 1 4 1 16 1 32 1 19 1-67 1-15 1-12 1-15 1 8 1 7 1-75 1 33 1-24 1-27 1 4 1-32 1 11 1-18 1-27 1-13 1-13 1 3 1-32 1 18 1-29 1-9 1 16 1-41 1-16 1-25 1 53 1-76 1-19 1-19 1-30 1 1 1-65 1 16 1-39 1 52 1-50 1 0 1 4 1 51 1-10 1-18 1 36 1 6 1 28 1 49 1-50 1 36 1 6 1-4 1 76 1 19 1 10 1 41 1-62 1-57 1-33 1-53 1 30 1-23 1-33 1 14 1-4 1-29 1-35 1-19 1 31 1-27 1 11 1-14 1 85 1-25 1 22 1 9 1-9 1 4 1 35 1-16 1-1 1 33 1-49 1 58 1-16 1 34 1-2 1 16 1 26 1-47 1-14 1 35 1-5 1-24 1 15 1 45 1 43 1 0 1 27 1 21 1 13 1-60 1 5 1 9 1-32 1-3 1-41 1-32 1-59 1 22 1-38 1-73 1-9 1-7 1-10 1-21 1-13 1-24 1 42 1-29 1-37 1-28 1-18 1-38 1-54 1-72 1-16 1-19 1-14 1 34 1 38 1-102 1 4 1-4 1-21 1-15 1-33 1-25 1 10 1-32 1 68 1 37 1-43 1-19 1 19 1 4 1-7 1-27 1-29 1-47 1 10 1-8 1-40 1 7 1 12 1 10 1 19 1 1 1-16 1 5 1-27 1 23 1-12 1 2 1-26 1-14 1 52 1 8 1-18 1 7 1-26 1 41 1-32 1-46 1 3 1 18 1-62 1-52 1 36 1-21 1-13 1-26 1-15 1-22 1-20 1-11 1 12 1-83 1-10 1-58 1 5 1-36 1 20 1 49 1-19 1 44 1 58 1 13 1-78 1 68 1-16 1 17 1 32 1-51 1-40 1-20 1 7 1 71 1-28 1-39 1 56 1-39 1 7 1 18 1-37 1 27 1 72 1 3 1 17 1 20 1-2 1 34 1-10 1 56 1 22 1-31 1-49 1-26 1-39 1-17 1-14 1 29 1 2 1 2 1-7"/><path d="M0 0l1 7 1-69 1 5 1 41 1-40 1-5 1 21 1-28 1 13 1-7 1 33 1-13 1-64 1-23 1 13 1 27 1-10 1 34 1-11 1-32 1 38 1-40 1-40 1-15 1 0 1 26 1-33 1-10 1 91 1 11 1-26 1-1 1 31 1 1 1-30 1-46 1-68 1-48 1 15 1-17 1 32 1-18 1-5 1-17 1 6 1 4 1 11 1-14 1-27 1-44 1-26 1-65 1 38 1-9 1 47 1-39 1-3 1-67 1-38 1-15 1-38 1-22 1-4 1 37 1 34 1 19 1 6 1 20 1 50 1 17 1 35 1 24 1-16 1 15 1 7 1 30 1 44 1-10 1-49 1 35 1-12 1-35 1 2 1-23 1 23 1 34 1 17 1 19 1 9 1-23 1-35 1 16 1-18 1-4 1 11 1-36 1-6 1 44 1 25 1-55 1-34 1-25 1-34 1 3 1-10 1 7 1-4 1-61 1-15 1-16 1-9 1 3 1-14 1 5 1 7 1-103 1 19 1 11 1-35 1-55 1-12 1-33 1-17 1 53 1-27 1-82 1 30 1 0 1 8 1-64 1 31 1 29 1-29 1 13 1 12 1-46 1 9 1 21 1 11 1 29 1-30 1 17 1-2 1-55 1-64 1 33 1 25 1 15 1 1 1-24 1 38 1-22 1-31 1 31 1-34 1-19 1-22 1-5 1-15 1 32 1 17 1 46 1-44 1-39 1-49 1-10 1 2 1 30 1-26 1 8 1-21 1 13 1-26 1 17 1-17 1-26 1 44 1 22 1 23 1 19 1 26 1-21 1 17 1 8 1 6 1-6 1 79 1 49 1-19 1-27 1 13 1 12 1-3 1-22 1 23 1-51 1 18 1 24 1-7 1 4 1-61 1-68 1-19 1-31 1-38 1 6 1 15 1-18 1-2 1-17 1-38 1-10 1-39 1-41 1-17 1-40 1 15 1-80 1 39 1 36 1 26 1 27 1-21 1 37 1 5 1 12 1-18 1-43 1 50 1 43 1 11 1 13 1 29 1 8 1 4 1 66 1 31 1-10 1-91 1 38 1 21 1 0 1 0 1-52 1 69 1-60 1 41 1 15 1-55 1-77 1-13 1-34"/><path d="M0 0l1-35 1-1 1-6 1-21 1 31 1 4 1 10 1-4 1 34 1-29 1-10 1 8 1-24 1-48 1-14 1 29 1-1 1-1 1-21 1-18 1-38 1-3 1 14 1 24 1 16 1 8 1 7 1-44 1-10 1-37 1 29 1 25 1 2 1 17 1 46 1-39 1-58 1 36 1-1 1 40 1 9 1 32 1-15 1 12 1 1 1 12 1-20 1-63 1-22 1 2 1 25 1 38 1-12 1-44 1 11 1-36 1 1 1-12 1 32 1 32 1 8 1 17 1-14 1 26 1 13 1 26 1-59 1 18 1-29 1 6 1-44 1-9 1 7 1-17 1 36 1 17 1 28 1-29 1 51 1-25 1-20 1-17 1-10 1-63 1-22 1-8 1-2 1-1 1-13 1 31 1 15 1 24 1-12 1-34 1 46 1-4 1 65 1 16 1 14 1 4 1-46 1-28 1 28 1-62 1-2 1-11 1-17 1 11 1-42 1 31 1 32 1 8 1-46 1-33 1 56 1-87 1-28 1 25 1-41 1 3 1 17 1 24 1-15 1 9 1-9 1 5 1 27 1-31 1-25 1-40 1-31 1-5 1-15 1 33 1-4 1-7 1 45 1 42 1-14 1 8 1-15 1 20 1-33 1-4 1 36 1-64 1 60 1 34 1-62 1 27 1 40 1-53 1 24 1 26 1 35 1 22 1-63 1-22 1-5 1-10 1 20 1 32 1-24 1 30 1 55 1 21 1 16 1 35 1-53 1-22 1 15 1-47 1-6 1 21 1 21 1 23 1 35 1-29 1-6 1 18 1-31 1 14 1-13 1 29 1 25 1 17 1-20 1-18 1-3 1-27 1 56 1-40 1-37 1-44 1-29 1 29 1 44 1 3 1 21 1-6 1-1 1-6 1-30 1 32 1 7 1-16 1 38 1 36 1 8 1 72 1 24 1 38 1-69 1-29 1-2 1-59 1 41 1-35 1 0 1 50 1 34 1-14 1-70 1-12 1 17 1 33 1-52 1-44 1 16 1-24 1 6 1-9 1 11 1 16 1 42 1 32 1-17 1 14 1 45 1-31 1 15 1-7 1-10 1 57 1 14 1-10 1 27 1 15 1-28 1 34 1-26 1-20"/><path d="M0 0l1 1 1-31 1 6 1 1 1 14 1-8 1 9 1-100 1-69 1 19 1 15 1 12 1-16 1 38 1-45 1 10 1 15 1 7 1 59 1-15 1-48 1-23 1-31 1-3 1-18 1 16 1 3 1 70 1-22 1 40 1 9 1 34 1-19 1-2 1-39 1-36 1 12 1 3 1-30 1-2 1-3 1 18 1-13 1 51 1 12 1 24 1 38 1 44 1 54 1 2 1-22 1 26 1-37 1 10 1 35 1-1 1 27 1-22 1-33 1 25 1-2 1-30 1-26 1 22 1-3 1 15 1 35 1 41 1-50 1-13 1 9 1-42 1-20 1-36 1 14 1-7 1-20 1-1 1 11 1 23 1-41 1-26 1 30 1-5 1 21 1 20 1-41 1 56 1-52 1-1 1-29 1-67 1 51 1-29 1-21 1 7 1-40 1 21 1 6 1-19 1-26 1-36 1 29 1 39 1-48 1-27 1-35 1-2 1-3 1 41 1 15 1-28 1 14 1 16 1 36 1-6 1 29 1-79 1-2 1 9 1-1 1-16 1 10 1-1 1 27 1 9 1-50 1-40 1-20 1 89 1 53 1-7 1 55 1-9 1 16 1-13 1 31 1 13 1 54 1-5 1-34 1-29 1-13 1-32 1-51 1 14 1-6 1 71 1-33 1-24 1-23 1-17 1 27 1-32 1-38 1-21 1-10 1-8 1-6 1 10 1 38 1-47 1 5 1 27 1-47 1-4 1 15 1-45 1 11 1-21 1 22 1-20 1 40 1 34 1-28 1 11 1-22 1 8 1-11 1 30 1-14 1-1 1-19 1 46 1-37 1-56 1 13 1 26 1 37 1-16 1-3 1-19 1-37 1 2 1 32 1 8 1 1 1-46 1-16 1-15 1 46 1-53 1-8 1-36 1 2 1 40 1-17 1 62 1 13 1-23 1 23 1 28 1-41 1-52 1 5 1-39 1 41 1-4 1 2 1 38 1-12 1 35 1-45 1 50 1-32 1 50 1-7 1-51 1 20 1-5 1 35 1-55 1 4 1 46 1 6 1-2 1-9 1-12 1-22 1-12 1 15 1 6 1 25 1-11 1 22 1 32 1-10 1 2 1 50 1 32 1 83 1 12"/><path d="M0 0l1-32 1 5 1 9 1 24 1 27 1 3 1-44 1 4 1 14 1 25 1 27 1 1 1-46 1 6 1 2 1 9 1-12 1-10 1-38 1 11 1-30 1 35 1-10 1 32 1 13 1 30 1-24 1-70 1-15 1 3 1 37 1 12 1 50 1 26 1 42 1-35 1-1 1 7 1-15 1 4 1 2 1 20 1-30 1-44 1-11 1-27 1-41 1 7 1 28 1-7 1 7 1 16 1-2 1-18 1-7 1 4 1-23 1 11 1 22 1-20 1-33 1-5 1-22 1-47 1-75 1 7 1-50 1-9 1-14 1 29 1 2 1-69 1-14 1 25 1-101 1 12 1 36 1-40 1 31 1 11 1-10 1 10 1-10 1 1 1 9 1 22 1 6 1-14 1 0 1-7 1-8 1 10 1-4 1-12 1-68 1 22 1 54 1-14 1-3 1 16 1-14 1-21 1-70 1-10 1 27 1 43 1-41 1-25 1 27 1 87 1-42 1 49 1-8 1-19 1-57 1-56 1 16 1-34 1-55 1 36 1 31 1 28 1-33 1-17 1 11 1-22 1 3 1 29 1-23 1 15 1 33 1-9 1 10 1-13 1-35 1-1 1-31 1-23 1-17 1-1 1 44 1 14 1 1 1-35 1-12 1 18 1-28 1-33 1-19 1-25 1 5 1 38 1-8 1-17 1 27 1 36 1-19 1 53 1-5 1 1 1-25 1-64 1 31 1 11 1 34 1-28 1-45 1-2 1-11 1 36 1-14 1-16 1 13 1-22 1-1 1 0 1 30 1 0 1 11 1 4 1 21 1 12 1-9 1-7 1-44 1-27 1-32 1 40 1 39 1-18 1 32 1-6 1 19 1-19 1-76 1 2 1-27 1-47 1-10 1 26 1 33 1 73 1 29 1 12 1 24 1-10 1-39 1 23 1-9 1 25 1-6 1-19 1 19 1 30 1 34 1-6 1-40 1-77 1-48 1-54 1 29 1-25 1 63 1-10 1 3 1 6 1 2 1-50 1-8 1-49 1 5 1 0 1-38 1 21 1-3 1 4 1-2 1 25 1 16 1 47 1 22 1 17 1 2 1 43 1 37 1 33 1-4 1-5 1 0 1 0 1-54 1 42"/><path d="M0 0l1-41 1-10 1-31 1-15 1 10 1-17 1-25 1-7 1-17 1-10 1-82 1 0 1-50 1-72 1-17 1-26 1 85 1-9 1-17 1 31 1-52 1 25 1-3 1 37 1-21 1 7 1-42 1 39 1-32 1 37 1-8 1-49 1-21 1-53 1-20 1-55 1-27 1 11 1-5 1-45 1-16 1-13 1 52 1 0 1-42 1-43 1 20 1 25 1-21 1 4 1 26 1 16 1 49 1 12 1 23 1 49 1-54 1 11 1 29 1-73 1 18 1 5 1 14 1-47 1-14 1 20 1-7 1-24 1 38 1-4 1-32 1-9 1 53 1-14 1 10 1 55 1-22 1-14 1-36 1 58 1 21 1-2 1-7 1-36 1-60 1-34 1-39 1 80 1 5 1 10 1 10 1-17 1 11 1-1 1 23 1-16 1-30 1-67 1-14 1-12 1 52 1-24 1-23 1 17 1-5 1 1 1 21 1 11 1 19 1 2 1-24 1-31 1 29 1 11 1 8 1-40 1 11 1 23 1-31 1 31 1 4 1-59 1-45 1 32 1 54 1 33 1 80 1-2 1 15 1 39 1-35 1-34 1 21 1-62 1 6 1 16 1-40 1 7 1-4 1 27 1 7 1-9 1-62 1 44 1-62 1 17 1-41 1 2 1-7 1-95 1-25 1-25 1 52 1-7 1-10 1-42 1 8 1 46 1-32 1 41 1-36 1-9 1 20 1-16 1 70 1-34 1 33 1 10 1 51 1 33 1-14 1 28 1 31 1-11 1 34 1-20 1 14 1 6 1-71 1-22 1-19 1-12 1 35 1 10 1-43 1-43 1 8 1-10 1-32 1-6 1-6 1 18 1-64 1-7 1-16 1-4 1-50 1-44 1 41 1 56 1 47 1-27 1 12 1 1 1 8 1 35 1-58 1 4 1-18 1 11 1-1 1 43 1 21 1-29 1 42 1 43 1-32 1-37 1 37 1-41 1-33 1-18 1-24 1-9 1 36 1-29 1 38 1-11 1-43 1-9 1-5 1 22 1 4 1-9 1 12 1-14 1 32 1-48 1-74 1 37 1-47 1-28 1-7 1-46 1 9 1 18 1 6 1 26 1-18 1-31 1 0 1 35"/><path d="M0 0l1-10 1-5 1-7 1 27 1 21 1 21 1 9 1-40 1 6 1 7 1-71 1 9 1-23 1 13 1-29 1 8 1 7 1 30 1 8 1-3 1-11 1-14 1 30 1 32 1-2 1 5 1-36 1-59 1 10 1 15 1-41 1 33 1-18 1-7 1 17 1-23 1-14 1 8 1 0 1-2 1 17 1-24 1 16 1-48 1-10 1 0 1-31 1-45 1-22 1 22 1 84 1-7 1 19 1 4 1-16 1-39 1-14 1 16 1 29 1-11 1 22 1-2 1 22 1 14 1 52 1 11 1 23 1-34 1 17 1-23 1-37 1-24 1 13 1 40 1-3 1-33 1 73 1-6 1 60 1 16 1 7 1 17 1-14 1-18 1-28 1-43 1 17 1 14 1 63 1-13 1-52 1-41 1 1 1 35 1-20 1 41 1 8 1-18 1-18 1 24 1 54 1-46 1 67 1-13 1-16 1 30 1 22 1 25 1 46 1-31 1-30 1 31 1 40 1-35 1-8 1 17 1-47 1-21 1-32 1 45 1-17 1-40 1-21 1 18 1 14 1 27 1-30 1-11 1 36 1 51 1-85 1-52 1-23 1-14 1 40 1-71 1 31 1-35 1-34 1 10 1 59 1-26 1 40 1 36 1 1 1-36 1-20 1 32 1-36 1 12 1 15 1 13 1 2 1-72 1-45 1 16 1-5 1-1 1 43 1 32 1-13 1-8 1-52 1-13 1 17 1-35 1 17 1-14 1-71 1-83 1 45 1-40 1-26 1 62 1-75 1 33 1 18 1-9 1-17 1-10 1-4 1 21 1 45 1 31 1 23 1 62 1-18 1 14 1 4 1-21 1-49 1 37 1-27 1 13 1-6 1 11 1-9 1 15 1 37 1-31 1 43 1 42 1 40 1-8 1 37 1 33 1 19 1 12 1-16 1-3 1 3 1 47 1-25 1-25 1-27 1 23 1-3 1-45 1 44 1 0 1 5 1 26 1 16 1-68 1 17 1 14 1-3 1-17 1 18 1 22 1-19 1 30 1-12 1-31 1-10 1-7 1 11 1-12 1-14 1-32 1 26 1-7 1-19 1 5 1-15 1 72 1-26 1 12 1-12 1-25 1 13 1 31"/><path d="M0 0l1 22 1-10 1 0 1 5 1 10 1 34 1 19 1-14 1 40 1-11 1-73 1-51 1-23 1 13 1-12 1-74 1-4 1 3 1 16 1-15 1 7 1 6 1-6 1-43 1 53 1-11 1 36 1-29 1-26 1-21 1 13 1-10 1 50 1-62 1-33 1-54 1 7 1 27 1-16 1-19 1-13 1-39 1 9 1 9 1-9 1-7 1-13 1 12 1 11 1 35 1-11 1 2 1 5 1-55 1-45 1 0 1 66 1 16 1 34 1-14 1 25 1 20 1 32 1-26 1 12 1-8 1 47 1 60 1 69 1 11 1 18 1-14 1-24 1 2 1-7 1-3 1 4 1 32 1 17 1 51 1 28 1 2 1-1 1 11 1-38 1 40 1 5 1-7 1-7 1-22 1-30 1 13 1-1 1-17 1 7 1-29 1-38 1 11 1-59 1 8 1 10 1 23 1 18 1-25 1 27 1-41 1-29 1 25 1 7 1-45 1 3 1 17 1 8 1-5 1-57 1-45 1-32 1-25 1 23 1 1 1-33 1 14 1-21 1-32 1 37 1-5 1 39 1-55 1 70 1-53 1 13 1 25 1 12 1 13 1-6 1 8 1-17 1 48 1-12 1-61 1-21 1 29 1-67 1-37 1-14 1-5 1-1 1-25 1-27 1-10 1-81 1-41 1 35 1 18 1-35 1 29 1 22 1-24 1 13 1-12 1 19 1-30 1 3 1-11 1-1 1 8 1-46 1 66 1 17 1 29 1-10 1-41 1-18 1 4 1-13 1-5 1-9 1-9 1-18 1-23 1-2 1-15 1 10 1-68 1-17 1 12 1 18 1 38 1-44 1 3 1 11 1 30 1 2 1 20 1 18 1 11 1 29 1 37 1-34 1 36 1-63 1 63 1-24 1 8 1 0 1 3 1 19 1-5 1-19 1 8 1-6 1-2 1-20 1 13 1 11 1-4 1 24 1-20 1 48 1-79 1 3 1-43 1-38 1 23 1 42 1-10 1 70 1 21 1 13 1 8 1-37 1-10 1-34 1 31 1-36 1-39 1 74 1-37 1 4 1-4 1-28 1 13 1-5 1 30 1 36 1 23 1 24 1 36 1 26 1 29 1-29 1-26"/><path d="M0 0l1 35 1-16 1 4 1-28 1 35 1-8 1 35 1-46 1-6 1-52 1-33 1 30 1 15 1-6 1 50 1-4 1-35 1-13 1 11 1-38 1 50 1 5 1 16 1-45 1 51 1 59 1-4 1-2 1 4 1 28 1-35 1-33 1-62 1-13 1 78 1-7 1-16 1 32 1-5 1-18 1 49 1 29 1 14 1-7 1 13 1 0 1-76 1-6 1 21 1 16 1-3 1 17 1-13 1 33 1-2 1 29 1 22 1-2 1-8 1 54 1-46 1-4 1 1 1 17 1-12 1 15 1 31 1-2 1 51 1 45 1 34 1-14 1 40 1 10 1-8 1 25 1 29 1 23 1 28 1-24 1 12 1-11 1-3 1 12 1 32 1-50 1-31 1-29 1-35 1 35 1 3 1-4 1-7 1-25 1-8 1 26 1 24 1-46 1-5 1 35 1-13 1-8 1-40 1-14 1-18 1 15 1-49 1 24 1-23 1-30 1-21 1 73 1-18 1 1 1-28 1 39 1 29 1 27 1-22 1-2 1-1 1 2 1 7 1 26 1-17 1 22 1 37 1 19 1-14 1-12 1-14 1 14 1 41 1-35 1 6 1 1 1 21 1 32 1 7 1 1 1 42 1 12 1-65 1 34 1-7 1-63 1 39 1 71 1-1 1-21 1-27 1 44 1-7 1-2 1-16 1 55 1-64 1 19 1 27 1 35 1-13 1-38 1 16 1 4 1-25 1 30 1 43 1 39 1-48 1-24 1-26 1-6 1 1 1-23 1-8 1-23 1-19 1-38 1-5 1-33 1 42 1-19 1-14 1-12 1 23 1 26 1-26 1-40 1 32 1 37 1 24 1-11 1 5 1-14 1 8 1-35 1-22 1-11 1-11 1-7 1-36 1 58 1-2 1-35 1 30 1 18 1 3 1 58 1 8 1-9 1 23 1-22 1 24 1 21 1 35 1-17 1 34 1-5 1-23 1 37 1-8 1-26 1 14 1-36 1 0 1 21 1 30 1-16 1-11 1 20 1 5 1-9 1 24 1-7 1 5 1-18 1-40 1 67 1 1 1 1 1 2 1 14 1 14 1 15 1 16 1 17 1 9 1-2 1-6 1 56 1-18 1 36"/><path d="M0 0l1-22 1-33 1-79 1-5 1 16 1 21 1-60 1-24 1 0 1 18 1 2 1 36 1 25 1-8 1 9 1-4 1-25 1 28 1-19 1-2 1-17 1 0 1-11 1-5 1-41 1-50 1-16 1 46 1-47 1 15 1 34 1 5 1 16 1 75 1 5 1 29 1 22 1-14 1-10 1 9 1-36 1 19 1 44 1-26 1-32 1-28 1 20 1 43 1-23 1-6 1 1 1-5 1 18 1 69 1-20 1-1 1 61 1 71 1 16 1 0 1 70 1 26 1 41 1 2 1-4 1-43 1 17 1-25 1 35 1 22 1 6 1-17 1 7 1-15 1-12 1 40 1 25 1-28 1 24 1-3 1 74 1 1 1-37 1-10 1-42 1 30 1 17 1 5 1-15 1 34 1 13 1-36 1-16 1-22 1 23 1 77 1-14 1-16 1-20 1-51 1 61 1-2 1-24 1 16 1-24 1-21 1 10 1 25 1-40 1-22 1 25 1 43 1 3 1 18 1 1 1-22 1-7 1 12 1-10 1 44 1-16 1 20 1-3 1 19 1 19 1-35 1-28 1-3 1-10 1 74 1-34 1-17 1-3 1 39 1-32 1 36 1-21 1 29 1-4 1-27 1-22 1 28 1 16 1 34 1 10 1 40 1-48 1-31 1 8 1 8 1-19 1 23 1-30 1 14 1-37 1 10 1 40 1 16 1 28 1 4 1-11 1-16 1-25 1 42 1 1 1-19 1 3 1-1 1 30 1 29 1-10 1-3 1 27 1 14 1 6 1-5 1-8 1 17 1 16 1-15 1-30 1-6 1-18 1-20 1-46 1 4 1 39 1-5 1 40 1-39 1-34 1-51 1 33 1 46 1 10 1 15 1 14 1-1 1-39 1-10 1 11 1 44 1 10 1-33 1 38 1 21 1-3 1-2 1 0 1-14 1 33 1 12 1 22 1 16 1 19 1-7 1-5 1 4 1-22 1 32 1 14 1-8 1 46 1 46 1-30 1 16 1-3 1 18 1 36 1-43 1 7 1-11 1 37 1-5 1-4 1-30 1-7 1-20 1 62 1 1 1 19 1 27 1-33 1 38 1-18 1-10 1 8 1 20 1 5 1-27 1-28 1 20"/><path d="M0 0l1-4 1-9 1 26 1-59 1-5 1 13 1 0 1 44 1-38 1 63 1-9 1 13 1-37 1 17 1 3 1 11 1-3 1-9 1 30 1-17 1-27 1-12 1-24 1 12 1-28 1-44 1-21 1-13 1-13 1 58 1-5 1 13 1-19 1-35 1 39 1-49 1-10 1-29 1 35 1-50 1-12 1-21 1-29 1-21 1 10 1-6 1-50 1 1 1-9 1-41 1 11 1-5 1 21 1 40 1 21 1-42 1-11 1-75 1 22 1 8 1 43 1 25 1 53 1-19 1 17 1 34 1-15 1 29 1 66 1 26 1-86 1-27 1 0 1-20 1-4 1 30 1-55 1-24 1-6 1-94 1-51 1-16 1-23 1 38 1-25 1-42 1-12 1 55 1-17 1-6 1-15 1-35 1 13 1-45 1 51 1-39 1 8 1-6 1 6 1-66 1-27 1 9 1-7 1 13 1 8 1 30 1 32 1-10 1-5 1 33 1-20 1-54 1-23 1-49 1 21 1-8 1 5 1-27 1 31 1-10 1-10 1 68 1 3 1-18 1 50 1 6 1 7 1 7 1-30 1-7 1 32 1-57 1-61 1 5 1 41 1 33 1 45 1-30 1 27 1-7 1 51 1-39 1-2 1-16 1 20 1-4 1 6 1 9 1 29 1 83 1 31 1 25 1-3 1-6 1 26 1 35 1 37 1 10 1-11 1 108 1-3 1 41 1 14 1-11 1-19 1-54 1-14 1 22 1 45 1 26 1-10 1 22 1 26 1-45 1 30 1 51 1 15 1 11 1 9 1 2 1-7 1 4 1 36 1 19 1 28 1 0 1-28 1 47 1-1 1-26 1-24 1-41 1 4 1 7 1-68 1 34 1 9 1 3 1-52 1-7 1-3 1 51 1 20 1 44 1 13 1-40 1-26 1 12 1 49 1-58 1 41 1-4 1-53 1 30 1-31 1 42 1 56 1-31 1 28 1-29 1-43 1-18 1 25 1 21 1 5 1 15 1-1 1 0 1 10 1-22 1-30 1-11 1-32 1-27 1-63 1 6 1-31 1-2 1-22 1 14 1-41 1 6 1-48 1-30 1-29 1 49 1-5 1-10 1-90 1-21 1-16 1-37"/><path d="M0 0l1 26 1 27 1-20 1 14 1 16 1 33 1 25 1-3 1-29 1 3 1-68 1 11 1-7 1-34 1-4 1 44 1 14 1 18 1 40 1 53 1-13 1-19 1-9 1-18 1 63 1-35 1 6 1-37 1 35 1-29 1 12 1 19 1-25 1 11 1-23 1 6 1 43 1-49 1 4 1 0 1 29 1-24 1-17 1-45 1-53 1-15 1 3 1-55 1 14 1-21 1 36 1 22 1-5 1-26 1-59 1 2 1-9 1 10 1-35 1 5 1-41 1-6 1 75 1-7 1-16 1-2 1-32 1 50 1 33 1 0 1-9 1-20 1 2 1 17 1 59 1-63 1-71 1 15 1-1 1 27 1 29 1-17 1 42 1 23 1-42 1 27 1-8 1 48 1 9 1 71 1 7 1 19 1 11 1 63 1 44 1 57 1-27 1 8 1 24 1-54 1-12 1 28 1-43 1 42 1 4 1 1 1-14 1 17 1-13 1 17 1 28 1 9 1-11 1 11 1-2 1 55 1 38 1 33 1 15 1-1 1-26 1-25 1-4 1 50 1 11 1 18 1 43 1-3 1 6 1-11 1 56 1 18 1-16 1-37 1 14 1 24 1-10 1 13 1-26 1 34 1 30 1 15 1-64 1 11 1 77 1 1 1 16 1-7 1-24 1 9 1-46 1-91 1 5 1 4 1-5 1 26 1 43 1 14 1 38 1-9 1-3 1-9 1-44 1 31 1 10 1 45 1 38 1-45 1 11 1-42 1-4 1-27 1 22 1 43 1 40 1 7 1 26 1 2 1-45 1 3 1 2 1 9 1 19 1 8 1 24 1-15 1-33 1 32 1-10 1-8 1 30 1-35 1 11 1-43 1 19 1-26 1-87 1 15 1 16 1 18 1-3 1-13 1-25 1-45 1 10 1 6 1-48 1 28 1 38 1-23 1-29 1-3 1 35 1 61 1-49 1 0 1 56 1-35 1-6 1 47 1-45 1-30 1 3 1-10 1-16 1-67 1-4 1 55 1 21 1 29 1-28 1 36 1 23 1-16 1-24 1-27 1 30 1-22 1-16 1 13 1 22 1 36 1-49 1-6 1 4 1-23 1 1 1-39 1 59 1 7 1 12 1 51"/><path d="M0 0l1 23 1 4 1 18 1 24 1 25 1-6 1-24 1 10 1-13 1-3 1-39 1 8 1-22 1 76 1 7 1-37 1-38 1-47 1-8 1 5 1-30 1 3 1 12 1-40 1-9 1 46 1 4 1-34 1 2 1 28 1-10 1-3 1-37 1-30 1 0 1 17 1-59 1-23 1-69 1-38 1-3 1 26 1 6 1-64 1-17 1-12 1-59 1-64 1-2 1-15 1 29 1 63 1-10 1 28 1 16 1 31 1-32 1-19 1-1 1-55 1 17 1 6 1-9 1 25 1-16 1-42 1 47 1-73 1-32 1-5 1-7 1-34 1 4 1-4 1 32 1-1 1-87 1 43 1-15 1-27 1 5 1-23 1 18 1 43 1 2 1-5 1 7 1 26 1 12 1-41 1-54 1-14 1 38 1 46 1 16 1 31 1-4 1-20 1 51 1 13 1-3 1-10 1-14 1 31 1 3 1-41 1 58 1-6 1-57 1 5 1-15 1-7 1 43 1-32 1-9 1-12 1-44 1-19 1 32 1 5 1 3 1 12 1 48 1 17 1-68 1-25 1-24 1 12 1-19 1 38 1-28 1-27 1-38 1-27 1-77 1 10 1-29 1 22 1-45 1-10 1-52 1-61 1-27 1-5 1 6 1 35 1-19 1 4 1 7 1 1 1 8 1-78 1-59 1-30 1 49 1 45 1-11 1-65 1 29 1 20 1 0 1-8 1 68 1 3 1 18 1 39 1-29 1 11 1 7 1 56 1 47 1-36 1 40 1 55 1-35 1-5 1-2 1-14 1 25 1-18 1-14 1 12 1-24 1 7 1-47 1-10 1 18 1-26 1 8 1 60 1 7 1 15 1 6 1-2 1 5 1-33 1-9 1-50 1 17 1-43 1-33 1 17 1 4 1-6 1-24 1-16 1-46 1 48 1-40 1 44 1 17 1 9 1 29 1-3 1-96 1-1 1 14 1 16 1 7 1-33 1 29 1-27 1-12 1 34 1-57 1-50 1-4 1 34 1 0 1 4 1 18 1 25 1-34 1 39 1-19 1 64 1-59 1 21 1 25 1 80 1-59 1-11 1-32 1 11 1-3 1-16 1-49 1-24 1 62 1 24 1-19 1 12"/><path d="M0 0l1 24 1 22 1-28 1-19 1 24 1 3 1 60 1 57 1 9 1 1 1 23 1-35 1-24 1-60 1 9 1-55 1 2 1 6 1-33 1-1 1 42 1 32 1-13 1-28 1-10 1-6 1-5 1-71 1 11 1-21 1-10 1-69 1 59 1-9 1 13 1-20 1 12 1-45 1-27 1 74 1 3 1-30 1-23 1 7 1 11 1-10 1 46 1 33 1-28 1-42 1-62 1 3 1 16 1 50 1 1 1 74 1-45 1 5 1-46 1-13 1-37 1-26 1 11 1-21 1-31 1 62 1 26 1-29 1-6 1 52 1 1 1 15 1-55 1 15 1-21 1 23 1-25 1-9 1-25 1 15 1 1 1 75 1-3 1 2 1-19 1 84 1 7 1 6 1-6 1-7 1 17 1 54 1 68 1 23 1-9 1-21 1 28 1-35 1 29 1-40 1 1 1 0 1-54 1 13 1-46 1-35 1-30 1 27 1 55 1-20 1 8 1-5 1-29 1 12 1 29 1-29 1-1 1 22 1-58 1 0 1-31 1-4 1 41 1-36 1-37 1 3 1-35 1 25 1-21 1 12 1-11 1 28 1 20 1 2 1 9 1 46 1 65 1 87 1 13 1 38 1-66 1-42 1-18 1-13 1 8 1-7 1 6 1-29 1-14 1-11 1 18 1 30 1 4 1 8 1-36 1-22 1-17 1 28 1 53 1 10 1 46 1 30 1-15 1-61 1 34 1 19 1 9 1-8 1-13 1 46 1-14 1 32 1-33 1 45 1-55 1-40 1-22 1 41 1-18 1 21 1-25 1-24 1-12 1-34 1 28 1-53 1 23 1 15 1-6 1-30 1 36 1-16 1 12 1-30 1-51 1-2 1-35 1-9 1-16 1-10 1-19 1-26 1-9 1-12 1 45 1-43 1-46 1-12 1 55 1 22 1 25 1 10 1 9 1-21 1-51 1-17 1 37 1-19 1 1 1 28 1 5 1-42 1-9 1 18 1 4 1 52 1-23 1-27 1 18 1 13 1-28 1 4 1 32 1 6 1-38 1 18 1 18 1-17 1-36 1-7 1 8 1-19 1 52 1 19 1-22 1-26 1-39 1-12 1-16 1-7 1-48 1 23"/><path d="M0 0l1-23 1-38 1 7 1-31 1 27 1 43 1 52 1 65 1 22 1-16 1 19 1-40 1-5 1 34 1-30 1-40 1 26 1-5 1 21 1 3 1-50 1 13 1 58 1 5 1-24 1-5 1 54 1 12 1 25 1-3 1-2 1-65 1 11 1 40 1-16 1 11 1-71 1 4 1 49 1-21 1 19 1-29 1 6 1 12 1 14 1-41 1-37 1-14 1 29 1-6 1 5 1 6 1 29 1-49 1 12 1-34 1-4 1 12 1-45 1 24 1-38 1-25 1 56 1 8 1-17 1-8 1 19 1 1 1 26 1-12 1 24 1 24 1-45 1 20 1 60 1 13 1-15 1-29 1 3 1-30 1 41 1 0 1 46 1 2 1-1 1-19 1-15 1 16 1 21 1-34 1-5 1-41 1-43 1-16 1-16 1 3 1-70 1-57 1 21 1 27 1-33 1-31 1 5 1 36 1-11 1 17 1 42 1 38 1-24 1 25 1-22 1 4 1 43 1 9 1-18 1 25 1-30 1 12 1-33 1-4 1 10 1-23 1-32 1 25 1 29 1-39 1-5 1-4 1 33 1-44 1 12 1-48 1-5 1-8 1-58 1-2 1 42 1-23 1-18 1 21 1-6 1-40 1 4 1 44 1 8 1-1 1 7 1-1 1 33 1 62 1 38 1 29 1-18 1-27 1 56 1-10 1-58 1-11 1 33 1-8 1-31 1 49 1 53 1-23 1-31 1-1 1 56 1 54 1-23 1 1 1 28 1-11 1-8 1-18 1 44 1-14 1-15 1 7 1-10 1 39 1 5 1-12 1 11 1-36 1 13 1-48 1 49 1-2 1 3 1-71 1 5 1-46 1 30 1 62 1-35 1-38 1 1 1 33 1 9 1-6 1-24 1-1 1-63 1-16 1 28 1 53 1-59 1 1 1 27 1-17 1 0 1-36 1 16 1-6 1 20 1-54 1 1 1-31 1 3 1 72 1 27 1 34 1-2 1 8 1-14 1 28 1 37 1-22 1 14 1-36 1 39 1-63 1-25 1-8 1-7 1-8 1 16 1 43 1 40 1 1 1-36 1-21 1 23 1 7 1-82 1-77 1-15 1 20 1-35 1-12 1 13 1 7"/><path d="M0 0l1-19 1 15 1-32 1 32 1-32 1 8 1 19 1 13 1 37 1 9 1-7 1-10 1-27 1 33 1-13 1 1 1-5 1 24 1-21 1 5 1 21 1-11 1-34 1 2 1-13 1-18 1-25 1-13 1 47 1 20 1 68 1 41 1 24 1-3 1 22 1-15 1-27 1-2 1 30 1-22 1-15 1 63 1-16 1 16 1-21 1-22 1 5 1-44 1 27 1 46 1-39 1-27 1-37 1-21 1-65 1-43 1 31 1-26 1-28 1-9 1 24 1-52 1-8 1-11 1 59 1 24 1 11 1 11 1 27 1 3 1-14 1-28 1-9 1-8 1-23 1 50 1 24 1-28 1-1 1-36 1 1 1-12 1-40 1 61 1 72 1 22 1-27 1 23 1-53 1 25 1 14 1 17 1 12 1-26 1-24 1 32 1 26 1-17 1 40 1-83 1-2 1-46 1 33 1-21 1 5 1 16 1 35 1-3 1 22 1-28 1 3 1 26 1 24 1-10 1-32 1 27 1-19 1-29 1-10 1 1 1 34 1-1 1-46 1 1 1-4 1 13 1 51 1 37 1-7 1-22 1-23 1 2 1-14 1-6 1-6 1 17 1-67 1-4 1-21 1-10 1 30 1 75 1 6 1-40 1-53 1 22 1-12 1-77 1 16 1 11 1-5 1 41 1-31 1 4 1-29 1 30 1 4 1 56 1-76 1-60 1 17 1-10 1 35 1-20 1 16 1-16 1 9 1-3 1 24 1 14 1 7 1 31 1-32 1 98 1-30 1 78 1-14 1-12 1 46 1 3 1-43 1-2 1 11 1 18 1 32 1-47 1-16 1 34 1 9 1 34 1 10 1-2 1-54 1-38 1 9 1 13 1 67 1-14 1 52 1 26 1-12 1-4 1 28 1-33 1-13 1-1 1-7 1 6 1-27 1-24 1-31 1 32 1-42 1-14 1 71 1 31 1-22 1-20 1 5 1 54 1-17 1 9 1-3 1-20 1 2 1 5 1-20 1-63 1-57 1 12 1 45 1 6 1 7 1-33 1 28 1-8 1-16 1-26 1-12 1 18 1 14 1 44 1 6 1 4 1-21 1 23 1 17 1 24 1-26 1 39 1 18 1-27"/><path d="M0 0l1 23 1-25 1 56 1-33 1 7 1-10 1-9 1-27 1 10 1 24 1-1 1-56 1-29 1 25 1-3 1-26 1-20 1 12 1 2 1 7 1-11 1-6 1-3 1 41 1-1 1-22 1-19 1-9 1 29 1 16 1-23 1 7 1 1 1 16 1-5 1-14 1 26 1 21 1 10 1-72 1 9 1-17 1 70 1 10 1-16 1 14 1-53 1-1 1 53 1-7 1-21 1-66 1 0 1 55 1-23 1 18 1 19 1-31 1-24 1-23 1-22 1 21 1-10 1-37 1-45 1 3 1 9 1 4 1-10 1 13 1-31 1-1 1-18 1 31 1-44 1 5 1 8 1 51 1 32 1 12 1 53 1 47 1 22 1 26 1 15 1-21 1-18 1 16 1 22 1 22 1 3 1 21 1 28 1 6 1-33 1 12 1-44 1-34 1 46 1-26 1 19 1-42 1-7 1 62 1 29 1 16 1-5 1-9 1 2 1 24 1-16 1 23 1-52 1-12 1 4 1 17 1 65 1-22 1-43 1-13 1-29 1-8 1-43 1-12 1-17 1-8 1 57 1 26 1-2 1-8 1 7 1-11 1 16 1-29 1 66 1 10 1-37 1-27 1-3 1 37 1 8 1-63 1 8 1-15 1-7 1-49 1 34 1-1 1-24 1-38 1 45 1-22 1 38 1-53 1-90 1 39 1-28 1-9 1 21 1-25 1-10 1 9 1-19 1 42 1-8 1-25 1-21 1 60 1 37 1 10 1 7 1 6 1-28 1-35 1 13 1 0 1-45 1-8 1 47 1-12 1-18 1-39 1 12 1-15 1 32 1-26 1-56 1-14 1-29 1-12 1 24 1-18 1 22 1-87 1 30 1-36 1 18 1 64 1 40 1 36 1-68 1 27 1-60 1 40 1 15 1 9 1 10 1 31 1 3 1-53 1 41 1-24 1-18 1-31 1-23 1-4 1-38 1-22 1-33 1 45 1-81 1-37 1 43 1 3 1 23 1-12 1-20 1 13 1-57 1-18 1-32 1 17 1 31 1-6 1-2 1 35 1 4 1-11 1-61 1 69 1-13 1-21 1 4 1 3 1 0 1 45 1-24 1 23 1-43 1 32 1-47 1 11"/><path d="M0 0l1-40 1 42 1 31 1-9 1-24 1-21 1 6 1-25 1-32 1 20 1 21 1-15 1-42 1 75 1 33 1 7 1 60 1-3 1-59 1-10 1-37 1 8 1 2 1-83 1 59 1-8 1 30 1-23 1-3 1-9 1-15 1 45 1 9 1-14 1-49 1-6 1-19 1-6 1-29 1 37 1-21 1-37 1-2 1-34 1-4 1 77 1 46 1 9 1-12 1-15 1 9 1-13 1 18 1 7 1 92 1 3 1-16 1 27 1-22 1 20 1-53 1-18 1 38 1 2 1-25 1-15 1-3 1 4 1-15 1-93 1-41 1 63 1-27 1 38 1 40 1-30 1-45 1-27 1 55 1 10 1 23 1-21 1-7 1 9 1 2 1-35 1-63 1 2 1 50 1 7 1-8 1 46 1 29 1-8 1-5 1 13 1 22 1 14 1-51 1 4 1 13 1-34 1 9 1 54 1 22 1 5 1-29 1 4 1-16 1 23 1-5 1-26 1 7 1-50 1 15 1-8 1-16 1 9 1 41 1-38 1-33 1-4 1 5 1 3 1-70 1 2 1 6 1 0 1-39 1-12 1-9 1 9 1 10 1 26 1-33 1-7 1-8 1 1 1 21 1-25 1-12 1 0 1-43 1 26 1 0 1 30 1-37 1 12 1 3 1-12 1-38 1 32 1-19 1 0 1 2 1 45 1 11 1-82 1 10 1 24 1-9 1 56 1-2 1-9 1-40 1-2 1 84 1-7 1 20 1 0 1 23 1 10 1 50 1-20 1-20 1 24 1 49 1-1 1-10 1-76 1-3 1-2 1-13 1-37 1 33 1 10 1 23 1 46 1 24 1-42 1 48 1 4 1-34 1-56 1 2 1 39 1 23 1-32 1 10 1 21 1 0 1 13 1-23 1 5 1-39 1 40 1-73 1-6 1-40 1 21 1 27 1 11 1-18 1-4 1-50 1-35 1-2 1-21 1-20 1-7 1 8 1-33 1-34 1 10 1 42 1 50 1 49 1 3 1 18 1-3 1-27 1-7 1-15 1-32 1 4 1-28 1 26 1 46 1 38 1 11 1 38 1 10 1 17 1-51 1-9 1 16 1-13 1 44 1-14 1 20 1-8 1 17"/><path d="M0 0l1-1 1 22 1-54 1 12 1 24 1 19 1 8 1-44 1-43 1 3 1 11 1-12 1 39 1-2 1-32 1 7 1-18 1-33 1-14 1 45 1 10 1 2 1 9 1-28 1-5 1-1 1 1 1-11 1-55 1-22 1 33 1 38 1 6 1 1 1-22 1-13 1-3 1 47 1 38 1-22 1 19 1-42 1 18 1-18 1-17 1 8 1 30 1 2 1 14 1 36 1 57 1-7 1-13 1 60 1-36 1-12 1 8 1-25 1 21 1 8 1 18 1-7 1 1 1-7 1-10 1-55 1-20 1 3 1-33 1-73 1 41 1-16 1 18 1-18 1 22 1 13 1 1 1-6 1 5 1 28 1-4 1-43 1-27 1-13 1 21 1-33 1 36 1-31 1-10 1-15 1 6 1 11 1-45 1-33 1 3 1-11 1-29 1-20 1 14 1 3 1 22 1 47 1-29 1-24 1 3 1-7 1 28 1 54 1-7 1-17 1-14 1 68 1 11 1 50 1-2 1-1 1 24 1-7 1-26 1-7 1-29 1-26 1-6 1-14 1 5 1-22 1 12 1 11 1-7 1-30 1-18 1 33 1-35 1-5 1-25 1 24 1-2 1 2 1-39 1 17 1-73 1-53 1 20 1-23 1 14 1 14 1 5 1-9 1 11 1 48 1 18 1 29 1 21 1-31 1-44 1-3 1 54 1-45 1 31 1-47 1 70 1-3 1-52 1 30 1-66 1 6 1 2 1 60 1 2 1-56 1 42 1 44 1 21 1 4 1 53 1 12 1 42 1-4 1 20 1 34 1-69 1-28 1-15 1-36 1 24 1 33 1-10 1-13 1-27 1 25 1-16 1-8 1-23 1-31 1-1 1-15 1-2 1-49 1-23 1 53 1 12 1-71 1 39 1-18 1-32 1-12 1-5 1-17 1-15 1 11 1 39 1-25 1 35 1-24 1-64 1 11 1-14 1-18 1-15 1-35 1-74 1 63 1 1 1 2 1 25 1 67 1-22 1-54 1 0 1 23 1 7 1-22 1-29 1-30 1-26 1 20 1-1 1 31 1 7 1-19 1 6 1-33 1-53 1 14 1-44 1-18 1-8 1 30 1 21 1 39 1 41 1 78"/><path d="M0 0l1-10 1-42 1-25 1-80 1 23 1-54 1 22 1 21 1-55 1 0 1 34 1-20 1 25 1-35 1 28 1-1 1-16 1-26 1-21 1 36 1 28 1 20 1-70 1 15 1-15 1 11 1 19 1 36 1-41 1-18 1 63 1-3 1 24 1-42 1 4 1 5 1-42 1-14 1-2 1 11 1 15 1-59 1 22 1-8 1 15 1-8 1 16 1-24 1 40 1 13 1-11 1 53 1 39 1 8 1 4 1 7 1 18 1-27 1-11 1 9 1 5 1-15 1 27 1 3 1 21 1-26 1 6 1 6 1-26 1 4 1 32 1-31 1-24 1 24 1 33 1-2 1-29 1-13 1 32 1 11 1 19 1-9 1 30 1 11 1 42 1-30 1-46 1 8 1 15 1 9 1-61 1-51 1 5 1-61 1-29 1-1 1-5 1 29 1-24 1-4 1 23 1 35 1-5 1 44 1 51 1-38 1 58 1 13 1-8 1-60 1 51 1-17 1 8 1-15 1 25 1-1 1 42 1-42 1-54 1-33 1-12 1-13 1-79 1 0 1-39 1 6 1 17 1-60 1 50 1-9 1-39 1-20 1-47 1 7 1-33 1-2 1-27 1 10 1-35 1 66 1 3 1 14 1 57 1 33 1 11 1-50 1 28 1-31 1-46 1-13 1 22 1-6 1 34 1-20 1-30 1-46 1 5 1 35 1-19 1 17 1 40 1 24 1 27 1-29 1 17 1 12 1 16 1 18 1 9 1 18 1-14 1-52 1 5 1-23 1-79 1-4 1 1 1-14 1-50 1-32 1-74 1 17 1-37 1-22 1-7 1-18 1 7 1 27 1 43 1 42 1-36 1 40 1 14 1-16 1-11 1-30 1-30 1 36 1-81 1-8 1-1 1 29 1 30 1-3 1-14 1-28 1 9 1 12 1-26 1 10 1 40 1-25 1-75 1-55 1-48 1-45 1 8 1 21 1-24 1-6 1-39 1-32 1 0 1-23 1 33 1-8 1-3 1 11 1 52 1 8 1-14 1-4 1 9 1-70 1 14 1-42 1-62 1 50 1-38 1 23 1 15 1-50 1 5 1 10 1-15 1 22 1-18 1-3 1-81 1-54 1 34 1 18"/><path d="M0 0l1-9 1 32 1 1 1 18 1 15 1 58 1 12 1 29 1 40 1 8 1-56 1-2 1-12 1-26 1 33 1-31 1 28 1 16 1-43 1-45 1-14 1 71 1-18 1-13 1-40 1-24 1 16 1-64 1-42 1-45 1-9 1 9 1 58 1 13 1-2 1-32 1 0 1 40 1-30 1-37 1 25 1-24 1 38 1-24 1 11 1 11 1-2 1-37 1 1 1-7 1 12 1 20 1 11 1-21 1-16 1-71 1-57 1 36 1 4 1-27 1 0 1 21 1 60 1 34 1 21 1-8 1-24 1-17 1 2 1-18 1 8 1 47 1 16 1 11 1-49 1 11 1-8 1-11 1-4 1 46 1 33 1-13 1-30 1 21 1-39 1-22 1 28 1 16 1-26 1 83 1-9 1-28 1 15 1-39 1 21 1 28 1-22 1-13 1-9 1-36 1-11 1-41 1 2 1 27 1 3 1 3 1 29 1-75 1 5 1 31 1-8 1-6 1 8 1-55 1-6 1 36 1 16 1-3 1 22 1 18 1 43 1-12 1-5 1-26 1-32 1 12 1 5 1-51 1 18 1 6 1 63 1 24 1 23 1-27 1 56 1 3 1 17 1 39 1 23 1 27 1 39 1-10 1-11 1 29 1 3 1-47 1-7 1 5 1 20 1-76 1-26 1 27 1 39 1 57 1 56 1-25 1 15 1-5 1 8 1-11 1-61 1-9 1 11 1 30 1-1 1-2 1-39 1 8 1 9 1-11 1-23 1-49 1 11 1-21 1 23 1-12 1 10 1-6 1-15 1-40 1 3 1-64 1-48 1 25 1-14 1 2 1-36 1-9 1-13 1-16 1-42 1-25 1-24 1 51 1-4 1 8 1-29 1-14 1-1 1-20 1 49 1 26 1-16 1 14 1-35 1 18 1 36 1-31 1-22 1 14 1-28 1 19 1 20 1-10 1 14 1-15 1 14 1 8 1 4 1-26 1-47 1-17 1 21 1 55 1-6 1 38 1-34 1 20 1-4 1 22 1 1 1-25 1-12 1-24 1 12 1 5 1 57 1-36 1 8 1-21 1 27 1-67 1-17 1-28 1 22 1-24 1-3 1-1 1 30 1-26 1-62 1 47"/><path d="M0 0l1 18 1-17 1 10 1-16 1-15 1-26 1-13 1 8 1-63 1-39 1-21 1 10 1 6 1-63 1 32 1 7 1 2 1 2 1 62 1-35 1 10 1-46 1-53 1-14 1-3 1 13 1-7 1-1 1 17 1-26 1 52 1-16 1-11 1-22 1 8 1 11 1-29 1-37 1 55 1-45 1 43 1-1 1 11 1-35 1 32 1 0 1 32 1 4 1 9 1-9 1 4 1 11 1 16 1-20 1 25 1 14 1-50 1-18 1 53 1 34 1-7 1 0 1-30 1 45 1-4 1 25 1 31 1-8 1 70 1 23 1-34 1-3 1 33 1 55 1-54 1-38 1 54 1 6 1 2 1-10 1-39 1-9 1-41 1-35 1-12 1 8 1 1 1-46 1-1 1-39 1 31 1-11 1-32 1-23 1-8 1 7 1 4 1-14 1 3 1-41 1-10 1-4 1-34 1-7 1-15 1 32 1-16 1 52 1 3 1-17 1 19 1 63 1 7 1-49 1-29 1 61 1 25 1-47 1-13 1 6 1-35 1-37 1 31 1 4 1 14 1-40 1 7 1 7 1 32 1-17 1-11 1 42 1 47 1 19 1 12 1-34 1 16 1 1 1 12 1-28 1-33 1 19 1 57 1 14 1-9 1 10 1 28 1-19 1 2 1 5 1-63 1-50 1 22 1 26 1-10 1 11 1-15 1-29 1-54 1 18 1 11 1-68 1-1 1-8 1 8 1 11 1-17 1-1 1 4 1-13 1 13 1 50 1-49 1-52 1-19 1-8 1-49 1-13 1-23 1-22 1 1 1-4 1-28 1 48 1-30 1 26 1 41 1 12 1-21 1 6 1-21 1-54 1-10 1 18 1 32 1 18 1-19 1 39 1 4 1-37 1-20 1 47 1 22 1-5 1-8 1 60 1 17 1 27 1-19 1-43 1-26 1 10 1 44 1-17 1-5 1-16 1-44 1-30 1-22 1 12 1 6 1 30 1 51 1 16 1 26 1-26 1 20 1 48 1 44 1-29 1-58 1 6 1-48 1-49 1-5 1-33 1 63 1-5 1-41 1 32 1 67 1 13 1-17 1-30 1-16 1 47 1-92 1 11 1-29 1 13 1 8 1 18"/><path d="M0 0l1-52 1-55 1-20 1-27 1 15 1 28 1 1 1-19 1 35 1-40 1 54 1-10 1 14 1 5 1-64 1-43 1 25 1-28 1-37 1 8 1 23 1 24 1 16 1-4 1-65 1 52 1 2 1-8 1 35 1-53 1 41 1-23 1-28 1-14 1 40 1 25 1 22 1-13 1 11 1-26 1-38 1-32 1 49 1-13 1-67 1-31 1-17 1 47 1-13 1-59 1-31 1 56 1-42 1-5 1 48 1-46 1 7 1 36 1-15 1 10 1-21 1 17 1-70 1 13 1-6 1 46 1-51 1-11 1-1 1 12 1-1 1 39 1 62 1-9 1 41 1 26 1-29 1-68 1-10 1-59 1-66 1 38 1 68 1 56 1-30 1 22 1-42 1 16 1 9 1 4 1-19 1-1 1-23 1-4 1-22 1-6 1-22 1 44 1 50 1 4 1 16 1 11 1-3 1-9 1-6 1 8 1-10 1 16 1-74 1 19 1 6 1 40 1 66 1 39 1 0 1 47 1 10 1 38 1-18 1 31 1-13 1 29 1 18 1-36 1 10 1 7 1-36 1 48 1-28 1-20 1-19 1 34 1 2 1 4 1-35 1-37 1 1 1 42 1 18 1-21 1-38 1 40 1-28 1 35 1 0 1 21 1 8 1 25 1 27 1 15 1-6 1-38 1 54 1 82 1 2 1-33 1 5 1-8 1 24 1-13 1 35 1 12 1 26 1 2 1 19 1 12 1-71 1 2 1 33 1 4 1 5 1-4 1-6 1 34 1 23 1 35 1-27 1 47 1 12 1 19 1 23 1 6 1-32 1 15 1 15 1 0 1 2 1-5 1-9 1-22 1-43 1-4 1 21 1 45 1 5 1 53 1-16 1-2 1 9 1 1 1-33 1 3 1 2 1 9 1-5 1 26 1 23 1-7 1-55 1-32 1 40 1-15 1 14 1 26 1 52 1 1 1 41 1-2 1 13 1 42 1-21 1-5 1-5 1 28 1-2 1 18 1-28 1-14 1 14 1 17 1-19 1 22 1-35 1-6 1-41 1-10 1-24 1-12 1-44 1 11 1-8 1-15 1 30 1 14 1 48 1-52 1-23 1 18 1-28 1-14 1-13 1 5"/><path d="M0 0l1 74 1-27 1 7 1-72 1-43 1 16 1 2 1 3 1 0 1-30 1-5 1-12 1-32 1-42 1-37 1 6 1 52 1 33 1-67 1 20 1 0 1-33 1-14 1-12 1-32 1 8 1 41 1 39 1-16 1-6 1 12 1-3 1-77 1-13 1-31 1-52 1-20 1-15 1-29 1 26 1-36 1-42 1 25 1 28 1-53 1 3 1 60 1 34 1 44 1 4 1-7 1 16 1-9 1 25 1-25 1 9 1-31 1 10 1 54 1-2 1-8 1 9 1 22 1-45 1 27 1 19 1-5 1-40 1 13 1 39 1-22 1-5 1-4 1 3 1 4 1 21 1 82 1 16 1-34 1 26 1-7 1 11 1 1 1 18 1-20 1 24 1-36 1 34 1 33 1-7 1-35 1-35 1-1 1-7 1-20 1 30 1 7 1-20 1-12 1-24 1-40 1-13 1 14 1 45 1 9 1-8 1 57 1-17 1-28 1 41 1-31 1 46 1 8 1 13 1-25 1 24 1 30 1-41 1-44 1-6 1 16 1 16 1 38 1-28 1 43 1-25 1-29 1-5 1-28 1 6 1-8 1 28 1 2 1 17 1 40 1-24 1 12 1 21 1-34 1-84 1 15 1-19 1 38 1 23 1 8 1-18 1-82 1 31 1-19 1-41 1-2 1-44 1-17 1-73 1-19 1-23 1-35 1-50 1-29 1 5 1 7 1 37 1 2 1-5 1 22 1 38 1-2 1-66 1 24 1 9 1-2 1 4 1 66 1 49 1-2 1-34 1 4 1-28 1-25 1-10 1 36 1 0 1 13 1 1 1-13 1 3 1 2 1-22 1-15 1 11 1-39 1 51 1 34 1-88 1 17 1 18 1 57 1 8 1-34 1 31 1-11 1 41 1 24 1 14 1-52 1 73 1 13 1 4 1 31 1-25 1-19 1 43 1 26 1 59 1 51 1 26 1 19 1-33 1-16 1-40 1 9 1-16 1-18 1 41 1-39 1 4 1-18 1 33 1 5 1-42 1-1 1-6 1 39 1-65 1-31 1 8 1-32 1-9 1-12 1-7 1-21 1-17 1 50 1 16 1 21 1-22 1 16 1 14 1-26 1-34 1 4 1-39"/><path d="M0 0l1 8 1 1 1-20 1 56 1-52 1-22 1 25 1-59 1-18 1 1 1-4 1-11 1-26 1-2 1 6 1 11 1-12 1 5 1 34 1-13 1 2 1 47 1 26 1-17 1-75 1-29 1-23 1 42 1 21 1-54 1 16 1-58 1-6 1-13 1 15 1 22 1-31 1 14 1-43 1-15 1-30 1-1 1-71 1-5 1 7 1-6 1-11 1 26 1 18 1-30 1-38 1 17 1-42 1-43 1-16 1-4 1-29 1-39 1-32 1 48 1 18 1 41 1-31 1 94 1 18 1-33 1-30 1-32 1-12 1 27 1 46 1 43 1 4 1-24 1-36 1 19 1-37 1-23 1-59 1-5 1 72 1-46 1 8 1 37 1 25 1 2 1 3 1 25 1 19 1-61 1 42 1-27 1 19 1 1 1-49 1 15 1 12 1-35 1-9 1 11 1-23 1-83 1-17 1 21 1-25 1-26 1 7 1 21 1-22 1-21 1-37 1 47 1 14 1 39 1-14 1 14 1 18 1-24 1-13 1 24 1 25 1 2 1-18 1-80 1 25 1 20 1-47 1-2 1 40 1-62 1 30 1-9 1 30 1 9 1 58 1 37 1 13 1-44 1-32 1-38 1 26 1-28 1 59 1 47 1-19 1 1 1 43 1 40 1 28 1 34 1 8 1 68 1-65 1-25 1-14 1 16 1 52 1-18 1 40 1-8 1 32 1 25 1-18 1 24 1-2 1-23 1-2 1 26 1-25 1-36 1 24 1-26 1-49 1 32 1-27 1 55 1 16 1-45 1-9 1 38 1 12 1 31 1-15 1 86 1-46 1 73 1 10 1 54 1-15 1 26 1 4 1-35 1 4 1-27 1 21 1 54 1-79 1-12 1-20 1 70 1 30 1 7 1-44 1-47 1-12 1-1 1-16 1 26 1-11 1 2 1-42 1-2 1-84 1-12 1 3 1-1 1-45 1-4 1 40 1-15 1-29 1-14 1-14 1 14 1 39 1 31 1-17 1-67 1 27 1 57 1 59 1 42 1-44 1-57 1 6 1-3 1 11 1 2 1-25 1 21 1 3 1 61 1-44 1-17 1-5 1-49 1-4 1 26 1-20 1 19 1 42 1 30"/><path d="M0 0l1-39 1 10 1-10 1 23 1-40 1-24 1 31 1-22 1-3 1-32 1 34 1-31 1-87 1 29 1 23 1-22 1-10 1-68 1-3 1 10 1-3 1 5 1-21 1 0 1 50 1-20 1 39 1 36 1-43 1-53 1 28 1-5 1-21 1-26 1-60 1 27 1-26 1-11 1 82 1-10 1 0 1 18 1-17 1-20 1-8 1-7 1 41 1-8 1-39 1 6 1-14 1 9 1-37 1-65 1 21 1-1 1-26 1-18 1 32 1 14 1-19 1 8 1-37 1-8 1-43 1 42 1 1 1 7 1-10 1 24 1-8 1 9 1-32 1-30 1-7 1-88 1-14 1-29 1-23 1-71 1-7 1-51 1 9 1 10 1 41 1-58 1-43 1 37 1-41 1-39 1 13 1 32 1 31 1-25 1 12 1 41 1-9 1 13 1-6 1 0 1-7 1 25 1 33 1-6 1 31 1-3 1 52 1-20 1-12 1 1 1 11 1 14 1-45 1-64 1 15 1 11 1-11 1 81 1-48 1 3 1-39 1-45 1 61 1-20 1-10 1-7 1 22 1-35 1 23 1-30 1 44 1-27 1 82 1 44 1-3 1 4 1 26 1 65 1-37 1-21 1-9 1-52 1 56 1-14 1-19 1-17 1-27 1-8 1 18 1-19 1 51 1-13 1 27 1 0 1-64 1 8 1-46 1 37 1-103 1 27 1-35 1-11 1-5 1 43 1-14 1 5 1-7 1-63 1-17 1-28 1-49 1-24 1 21 1 42 1-18 1-36 1 8 1 3 1-52 1 84 1 1 1-24 1-11 1-11 1 25 1 8 1 51 1 79 1-48 1-15 1-1 1 9 1 3 1-7 1-2 1-2 1-51 1-40 1-36 1-26 1-35 1-52 1-70 1-72 1 17 1-70 1-42 1 26 1 10 1-58 1-50 1 40 1-38 1 54 1 7 1 59 1 24 1 38 1 16 1-2 1-80 1-4 1 19 1 15 1 52 1-8 1-7 1 10 1-50 1 38 1 3 1 44 1 3 1-16 1-33 1-20 1 19 1-24 1 7 1 18 1 15 1 48 1 24 1-63 1 10 1-26 1 39 1 33 1-24 1-18 1 47 1-97"/><path d="M0 0l1-24 1 20 1-2 1 34 1 75 1 6 1-44 1 43 1 44 1-11 1 2 1 18 1 6 1-42 1-45 1 8 1 15 1-9 1-28 1 45 1 39 1 16 1-49 1-12 1-96 1 31 1 12 1 18 1 19 1-8 1 5 1-32 1-26 1-35 1 23 1 2 1 57 1-48 1 10 1-10 1 21 1-37 1 63 1-55 1 52 1 29 1 36 1 2 1-27 1 12 1-8 1-34 1-26 1 17 1-26 1-1 1-41 1 34 1-14 1-10 1-3 1 40 1-62 1-4 1 46 1-50 1 67 1-7 1-19 1 33 1 8 1 12 1 20 1-2 1-8 1 33 1-27 1 4 1-20 1-40 1-73 1-13 1-18 1 30 1-15 1 3 1-23 1-5 1 17 1 2 1 16 1-27 1-5 1 31 1-8 1 21 1 4 1-23 1 51 1 32 1 1 1 24 1 25 1 41 1-4 1 21 1-60 1-2 1 13 1-37 1-4 1 28 1-40 1-47 1-34 1-28 1 27 1-28 1 24 1 36 1 17 1-48 1 20 1-11 1 54 1-5 1 4 1 61 1 28 1 7 1-28 1-23 1 26 1-17 1-1 1-34 1 18 1 25 1-8 1-12 1-36 1 86 1 9 1-26 1 0 1-11 1 8 1 0 1 38 1 3 1-20 1 20 1-9 1 30 1 48 1 51 1 25 1-9 1 25 1-32 1-30 1-2 1 17 1-16 1-20 1 72 1 19 1 16 1 75 1-13 1 3 1 29 1 2 1-1 1-3 1 4 1-10 1 3 1 20 1 18 1 40 1 43 1-54 1-13 1-40 1 6 1-18 1-12 1 49 1-10 1 16 1-42 1-38 1 18 1-27 1 37 1-56 1 8 1 28 1 58 1 3 1-8 1 27 1-16 1-17 1-31 1-59 1-49 1 27 1-50 1 5 1 8 1-41 1-18 1 27 1 1 1 26 1-44 1-35 1-35 1 27 1 8 1-29 1 34 1-27 1 44 1 17 1-23 1-6 1 5 1-7 1 14 1-10 1 4 1 19 1-31 1 17 1-19 1-27 1 15 1 5 1-39 1 9 1-24 1 33 1-35 1-2 1 49 1 22 1-16 1 74 1-3"/><path d="M0 0l1 20 1 31 1-4 1 17 1 2 1 33 1-22 1 6 1 10 1 4 1 22 1 49 1-33 1-40 1 48 1-8 1-34 1 20 1-35 1 15 1 44 1 0 1 6 1 22 1 48 1-3 1-21 1 8 1-30 1 31 1-18 1-32 1-34 1-56 1-6 1 69 1-45 1 10 1-16 1 46 1 72 1-49 1-49 1 5 1 14 1-13 1-13 1-40 1 8 1-4 1 60 1-16 1 3 1 27 1-4 1-20 1-4 1-59 1 38 1 14 1 8 1-13 1 43 1 37 1 25 1-5 1 12 1 20 1 5 1 30 1-46 1-69 1-59 1 16 1 3 1 11 1-14 1-27 1 30 1-96 1 0 1-11 1-11 1 12 1-67 1-45 1 18 1 1 1 24 1-21 1 3 1 32 1 41 1 25 1-77 1 6 1 26 1 2 1 38 1 13 1-26 1-9 1-16 1-9 1-5 1-23 1 40 1 1 1 19 1-1 1 2 1 31 1 31 1 0 1 14 1 1 1-21 1 1 1-29 1-34 1 14 1 43 1 3 1-40 1 18 1 32 1-5 1-85 1 10 1-19 1-18 1 40 1 31 1-17 1 48 1-53 1-10 1-33 1 30 1 47 1-34 1 29 1 1 1 5 1-8 1-5 1-33 1-27 1 1 1 7 1-8 1-12 1-41 1-15 1 18 1-8 1-13 1-42 1-7 1-13 1-30 1-42 1 38 1-20 1 34 1-13 1 14 1 39 1 23 1-28 1 6 1 11 1 2 1 73 1-11 1-35 1-18 1 17 1-58 1-3 1 15 1-20 1-46 1 3 1-7 1-8 1 22 1-35 1 15 1-15 1 18 1-1 1 10 1-24 1-19 1-68 1 29 1-23 1 50 1-50 1 3 1 9 1 27 1 5 1 36 1 3 1 6 1-1 1 5 1 33 1-29 1 33 1 45 1-7 1-30 1-49 1-49 1-18 1-49 1-35 1 24 1 2 1 20 1-5 1 9 1 4 1-41 1-41 1 35 1-2 1-65 1-23 1-8 1 23 1-12 1-25 1 32 1-14 1 70 1 26 1 40 1-39 1 21 1-12 1 1 1 4 1-11 1-35 1 34 1 10 1 9 1 54"/><path d="M0 0l1-21 1-46 1 8 1-10 1-3 1-25 1 60 1-17 1-65 1-28 1-27 1 12 1-59 1-59 1-9 1 39 1-29 1-19 1-22 1 10 1-55 1 19 1-23 1-51 1-7 1-26 1-18 1 18 1 28 1 31 1-31 1 16 1-22 1-29 1-21 1-29 1-7 1 19 1 47 1-45 1-10 1-3 1-31 1 46 1-7 1 104 1 33 1-33 1 28 1-7 1 26 1 23 1 2 1-32 1 25 1-25 1-32 1 70 1-22 1-36 1-33 1 8 1-2 1 34 1 35 1-26 1-6 1 4 1 32 1-25 1 23 1 6 1 18 1-11 1 3 1-24 1 72 1-18 1-45 1-8 1 28 1-10 1 14 1 16 1 44 1-39 1-15 1-48 1-19 1-13 1-41 1-2 1 46 1 24 1-30 1-45 1 19 1 9 1-46 1 19 1 10 1 4 1 16 1 23 1-6 1-45 1-44 1 11 1 8 1 74 1-1 1-24 1-41 1 24 1 32 1-20 1 15 1-33 1-32 1-60 1-2 1 43 1 27 1-19 1-41 1-53 1-1 1-27 1-26 1 36 1-19 1-92 1-34 1 18 1-35 1 24 1-38 1-29 1-2 1-13 1-41 1-52 1 6 1-8 1-18 1 21 1-53 1-16 1 21 1-31 1 10 1 1 1-21 1 27 1-33 1-64 1 20 1-19 1-39 1 16 1 9 1 13 1-17 1-32 1-29 1-42 1-9 1 4 1-20 1 44 1-36 1-50 1 66 1-1 1 43 1 51 1-4 1-3 1 23 1-58 1-41 1 32 1 28 1-36 1 17 1-38 1-33 1 17 1 19 1 12 1-61 1 7 1 23 1-32 1 25 1-18 1 11 1-53 1-2 1 1 1-14 1-1 1-38 1-27 1-61 1 1 1-28 1-39 1-21 1 17 1 48 1-35 1 30 1 32 1-8 1 38 1-6 1-43 1 74 1-2 1-12 1-40 1-32 1 44 1-42 1-19 1-16 1 54 1 22 1-17 1-10 1 37 1 31 1-5 1 31 1 10 1-24 1 17 1-14 1-53 1 0 1 41 1 9 1-4 1-5 1 10 1 5 1 61 1-19 1 4 1 4 1-51"/><path d="M0 0l1-27 1 32 1-29 1 9 1-10 1-31 1-13 1-10 1 15 1-11 1 35 1 29 1-25 1-17 1 43 1-33 1-25 1-34 1 28 1 3 1-2 1 7 1 44 1 7 1 43 1 14 1-40 1-21 1 39 1-20 1-34 1 39 1-20 1 5 1 13 1 13 1-14 1-49 1 51 1-20 1 7 1 39 1 10 1-52 1-10 1-24 1 51 1 11 1 21 1 42 1 44 1-16 1 9 1 3 1 8 1 31 1-32 1 8 1 89 1-18 1 15 1-36 1 0 1-18 1 9 1-20 1-1 1 4 1 27 1-55 1-12 1 47 1 8 1 7 1 64 1 25 1 50 1-14 1-22 1 28 1 51 1-21 1 5 1 12 1-10 1-15 1 36 1 55 1-21 1 15 1-47 1 18 1 6 1-7 1-20 1 47 1-24 1 52 1 21 1 29 1 18 1 4 1 3 1 1 1 4 1-41 1-6 1 13 1-78 1-15 1-12 1-21 1-10 1 34 1 0 1 29 1 14 1 25 1 14 1-46 1 10 1 21 1-14 1-5 1-16 1 38 1 32 1-2 1 10 1-27 1 7 1 31 1 17 1-1 1 29 1-25 1 3 1 15 1-6 1 9 1 18 1 25 1 24 1-52 1 16 1-26 1-12 1-12 1-33 1 3 1 8 1 32 1-53 1 29 1-2 1 7 1-60 1 49 1 4 1-10 1-85 1 38 1-4 1-1 1 33 1-42 1-45 1 22 1-15 1-7 1 4 1-15 1-8 1 40 1-51 1 26 1-26 1-24 1 25 1 20 1-38 1 7 1 0 1 42 1-45 1 3 1 23 1 24 1-12 1-34 1 25 1 11 1-12 1-63 1 8 1-8 1 50 1-6 1-33 1 14 1 3 1-15 1 2 1 44 1 14 1 24 1-1 1 39 1 16 1 35 1-46 1-11 1-21 1-18 1-14 1-23 1-7 1-21 1 18 1-17 1 8 1 28 1 23 1-24 1-17 1-10 1-28 1 18 1 2 1-4 1 36 1-3 1-20 1-16 1-4 1 16 1 15 1 27 1 14 1 9 1 49 1 12 1-35 1 43 1-2 1 36 1 3 1 9 1 22 1-9 1-16 1-68"/><path d="M0 0l1-7 1 10 1-44 1-12 1-24 1-6 1 22 1 78 1 6 1 24 1 5 1-36 1 22 1-10 1-17 1 1 1-13 1 11 1-27 1 2 1-19 1 6 1-58 1 60 1-1 1 17 1-14 1-24 1 17 1-1 1-1 1 57 1-18 1-9 1-84 1-10 1-18 1-41 1-39 1-8 1 17 1-78 1 2 1-38 1-43 1 25 1-38 1 13 1 10 1 7 1 14 1 1 1 41 1-38 1-59 1 12 1-68 1 2 1-23 1 25 1-12 1-1 1-39 1 32 1-46 1-21 1 42 1 19 1 3 1-15 1 29 1-16 1 23 1 58 1-3 1 21 1-19 1-8 1-5 1-40 1-17 1-22 1 9 1 1 1 25 1 41 1 4 1-32 1-20 1 41 1-3 1-69 1-23 1 22 1 17 1 12 1 44 1-12 1 9 1-34 1-41 1 4 1-26 1-32 1-15 1 4 1-24 1 14 1-7 1 24 1-31 1-5 1 3 1-7 1 61 1 22 1 11 1-32 1-28 1 40 1-2 1-5 1 46 1-30 1-35 1 47 1-59 1 8 1-5 1 20 1 55 1 58 1 41 1 20 1-18 1 33 1 47 1 32 1 10 1-36 1 1 1 68 1 1 1 3 1-6 1-32 1-8 1 75 1-37 1-18 1 11 1 47 1 32 1-11 1 13 1-57 1-4 1 46 1 0 1-23 1 56 1 85 1 1 1 21 1 28 1 35 1-13 1-45 1-33 1 44 1-28 1 15 1-17 1-20 1 1 1 22 1 13 1 40 1-19 1-68 1 57 1 27 1 1 1 59 1 40 1-40 1 6 1-67 1-20 1-2 1 12 1-33 1-14 1-17 1 28 1 5 1 12 1-44 1 14 1 39 1 21 1-26 1 19 1-18 1-2 1 1 1 10 1-27 1 10 1-56 1-36 1-39 1 6 1-18 1 24 1 6 1-6 1-27 1-44 1-31 1 62 1-30 1-38 1-10 1 21 1 35 1-5 1-16 1-4 1 15 1-46 1 9 1-65 1-1 1-20 1 11 1-34 1 15 1-47 1-24 1-2 1 7 1 18 1 12 1-12 1 8 1-23 1 33 1 67 1-4 1-46 1-31"/><path d="M0 0l1 61 1-29 1 48 1 33 1-23 1 56 1 57 1 2 1-17 1 31 1 22 1-3 1-34 1-18 1-28 1 20 1 19 1-10 1 1 1-70 1-48 1-17 1 26 1 4 1 18 1-21 1-63 1 12 1-35 1 4 1-78 1-2 1 37 1-48 1 22 1 22 1 14 1-12 1 20 1 43 1 24 1 70 1-54 1 59 1 13 1 41 1 44 1-31 1-30 1-34 1 19 1-40 1-42 1-8 1-53 1-1 1-29 1-49 1 3 1 16 1-37 1-13 1-26 1-49 1-2 1-14 1 0 1-2 1-46 1 28 1-31 1-2 1-30 1 6 1 1 1 48 1-8 1 18 1 30 1 7 1 10 1-17 1 27 1-6 1-5 1-20 1-4 1 18 1 17 1 17 1-13 1 53 1 62 1-57 1 58 1-17 1 21 1-37 1 61 1-26 1-51 1-34 1-14 1-7 1-14 1-41 1-35 1 2 1 61 1 43 1-17 1 35 1 84 1-60 1-14 1-30 1-21 1-33 1-5 1 25 1 40 1 20 1 6 1 27 1 8 1 30 1 9 1 27 1 3 1 39 1-15 1-29 1 12 1 18 1 43 1-17 1 0 1-46 1 1 1 47 1 9 1 39 1 14 1 43 1-29 1 4 1-16 1 29 1 12 1-45 1-16 1-38 1 23 1 47 1-30 1-5 1-8 1-25 1-14 1-31 1-14 1 30 1-61 1 8 1-30 1 2 1 11 1-8 1-37 1-31 1 0 1-23 1 4 1 14 1 15 1-29 1-13 1 52 1 0 1-29 1 53 1-4 1-21 1-5 1 21 1-9 1 9 1 3 1-21 1-33 1 18 1-46 1-7 1-2 1-12 1 61 1-8 1-21 1-53 1 25 1 20 1 17 1-4 1 6 1-43 1-16 1-14 1 10 1-9 1-2 1 28 1-31 1-19 1-6 1 53 1 57 1-7 1 43 1-23 1 6 1-38 1-9 1 5 1 4 1 6 1-41 1 57 1 8 1 20 1 29 1 1 1 12 1 33 1-6 1-53 1 30 1 19 1 18 1 9 1 12 1 8 1 22 1-38 1 21 1 39 1-5 1-69 1 21 1-10 1 76 1-20 1-5"/><path d="M0 0l1 17 1-35 1-23 1 1 1 33 1-11 1-31 1-12 1-42 1 27 1 37 1 28 1 19 1-9 1-7 1-9 1-11 1-7 1 11 1 23 1-13 1-27 1 7 1-37 1 2 1-21 1 8 1 4 1-7 1 22 1 21 1-6 1 29 1 9 1-16 1-28 1 59 1-7 1-2 1-38 1 23 1 3 1-5 1 13 1 38 1-53 1 15 1 26 1-5 1 5 1 10 1 21 1-11 1-13 1 30 1-77 1-24 1-30 1-12 1 42 1 18 1-20 1 22 1 26 1-2 1 33 1-33 1-2 1-41 1-11 1 3 1 20 1-15 1-8 1 34 1 13 1-25 1-3 1-5 1-17 1 25 1-41 1-8 1-30 1-11 1 8 1-6 1-22 1-3 1 26 1 2 1 47 1-3 1-20 1-72 1 58 1-16 1 52 1-12 1-47 1-34 1 40 1 19 1-31 1 35 1-49 1-62 1 44 1-11 1-14 1 12 1 17 1 11 1 11 1-4 1-30 1 34 1 26 1 20 1-21 1 14 1 14 1 6 1-16 1-12 1 0 1-52 1 3 1-20 1-60 1-25 1-50 1-32 1-19 1 15 1-22 1 12 1 26 1-36 1-8 1 14 1-28 1 8 1 65 1 6 1-36 1 39 1 21 1-5 1-22 1 12 1-31 1 5 1-8 1-45 1 53 1 47 1-27 1 13 1 25 1 20 1-24 1-27 1-69 1-28 1-33 1 55 1 50 1-2 1 19 1-5 1-25 1 63 1 14 1 30 1-3 1-21 1-21 1-31 1 14 1 13 1 30 1 6 1-27 1-26 1-3 1-42 1-20 1 1 1-64 1-28 1-16 1 47 1 15 1-32 1 0 1 41 1-6 1-10 1-10 1 21 1 0 1 5 1-15 1-66 1-52 1-35 1 64 1-10 1 3 1-6 1 79 1-19 1-79 1 27 1-22 1 6 1-22 1-31 1-10 1 3 1 39 1-39 1 33 1-41 1-20 1 23 1 14 1 7 1 46 1 25 1-76 1 42 1 22 1-20 1 41 1 23 1-83 1 1 1-53 1-38 1 7 1-26 1-1 1-4 1-22 1-34 1 31 1-16 1-2 1 9 1 4"/><path d="M0 0l1 0 1-5 1 8 1-5 1-17 1 9 1 4 1-37 1-34 1-21 1 65 1 8 1 75 1 27 1-34 1-34 1 31 1 41 1 6 1 1 1 1 1 5 1-12 1-46 1 7 1 8 1 23 1 10 1-22 1 40 1 10 1-64 1 37 1 3 1-25 1-6 1-41 1 0 1 18 1-72 1 20 1-34 1 10 1-32 1-22 1-4 1-21 1-35 1 2 1 13 1 47 1 12 1 13 1 18 1 19 1 26 1-19 1-41 1 17 1 8 1-12 1 21 1 9 1-36 1-51 1-23 1 17 1 23 1 39 1-11 1 49 1 27 1-40 1 10 1 4 1 41 1 2 1-47 1-39 1 78 1-3 1 9 1 0 1-56 1-15 1 45 1-38 1-17 1-72 1-28 1-21 1-1 1-29 1-20 1 0 1-25 1-6 1-40 1-34 1-16 1 9 1 30 1 58 1 27 1 6 1-17 1 21 1 29 1-17 1 73 1 27 1 32 1 8 1 25 1 60 1 6 1-33 1 35 1-49 1-8 1-62 1-34 1 48 1-23 1 28 1 40 1-21 1 21 1 13 1 19 1-51 1-1 1 3 1-44 1-32 1-3 1 4 1 18 1-42 1 19 1 12 1-13 1-10 1-22 1-27 1 55 1-50 1 0 1-54 1-34 1-1 1-33 1 18 1-31 1-26 1-1 1 41 1 12 1 0 1-42 1-57 1-58 1 7 1-22 1 57 1 18 1 29 1 7 1 28 1-1 1-15 1-20 1 5 1-8 1 31 1-46 1-28 1-13 1-15 1-34 1-9 1-37 1 1 1-8 1 86 1-33 1 20 1 10 1 18 1 37 1-25 1 3 1-24 1 31 1 25 1-9 1-11 1-4 1-27 1 9 1 11 1 12 1 7 1-12 1-23 1 27 1-5 1-40 1 23 1 23 1 13 1-8 1-41 1-16 1 35 1 1 1-12 1 53 1-18 1-7 1-42 1-8 1-85 1-12 1 33 1-35 1-32 1-36 1-35 1-54 1-50 1 14 1 46 1 44 1 48 1-48 1-3 1 33 1 18 1-15 1 73 1-75 1 18 1 57 1-19 1 5 1-27 1-10 1 69 1-30 1 8 1-51"/><path d="M0 0l1 33 1-26 1 38 1 27 1 64 1 50 1 43 1 14 1-15 1-14 1-24 1-26 1-14 1-56 1-63 1-44 1 1 1 21 1 8 1-2 1-12 1 22 1 23 1-39 1 82 1 3 1-23 1-18 1-91 1-15 1 38 1 1 1-18 1 7 1-23 1 13 1-39 1-30 1-8 1 34 1-21 1 15 1 9 1-22 1-12 1-22 1-21 1 52 1 9 1-22 1 23 1 26 1-12 1-8 1 0 1-32 1 42 1 21 1 41 1-26 1 32 1 0 1 9 1-5 1-19 1 29 1 26 1-23 1-12 1 14 1-30 1-15 1-3 1 4 1-13 1 42 1 24 1-1 1 33 1 31 1 10 1-25 1 13 1 34 1 23 1 27 1 0 1 59 1-79 1-36 1 45 1 9 1-13 1 31 1-32 1-39 1 30 1-22 1 5 1 18 1-24 1 0 1-13 1 27 1 49 1-26 1 23 1 5 1 5 1-12 1-34 1-23 1 44 1-11 1 7 1-2 1-1 1 33 1-9 1-6 1-2 1 37 1 19 1-33 1-13 1-33 1-4 1-24 1 25 1-5 1-8 1-14 1-46 1 26 1 41 1-24 1-41 1-43 1 20 1 1 1-21 1-39 1 3 1 8 1 39 1 17 1-8 1 24 1 29 1-34 1 43 1 46 1-1 1-45 1 15 1 32 1 36 1-47 1-10 1 3 1-4 1 1 1-2 1-37 1 28 1 26 1-48 1 23 1-45 1 0 1-5 1-13 1-19 1 41 1-22 1-6 1-38 1-15 1-44 1 12 1-24 1-40 1 28 1 18 1-37 1 2 1-50 1-18 1 29 1 21 1-46 1 64 1-22 1 16 1 5 1-31 1-2 1 25 1 31 1-19 1-24 1-36 1-32 1 2 1-34 1-20 1-3 1 0 1 26 1 49 1-30 1 17 1 62 1-27 1 26 1-9 1 35 1-2 1-29 1 7 1-8 1-41 1-27 1-2 1-28 1 2 1-32 1 33 1 27 1-41 1 6 1 78 1 7 1 7 1 3 1-1 1-11 1-4 1-52 1 11 1 31 1-16 1 20 1-32 1 14 1-8 1-27 1-20 1-14 1-24 1-17 1 3"/><path d="M0 0l1 16 1 15 1-23 1-35 1-12 1 43 1-17 1-13 1 0 1-20 1 47 1 0 1-22 1 6 1 32 1-22 1-21 1 7 1 44 1-14 1-10 1 14 1-63 1 19 1 5 1 16 1-22 1-17 1-19 1 21 1-43 1 42 1 1 1 57 1-7 1-45 1-22 1-17 1-19 1-15 1-40 1 23 1 1 1 32 1-2 1 21 1-60 1 41 1 5 1-8 1-36 1 11 1-75 1-18 1 1 1-33 1-2 1 35 1 4 1-31 1-41 1 26 1 8 1-1 1 15 1-29 1 13 1 7 1-27 1-7 1 36 1 15 1-72 1-7 1-1 1 9 1 1 1-51 1 16 1 48 1-2 1-1 1-15 1-24 1 14 1-1 1-55 1 18 1 57 1-19 1 29 1 38 1 82 1-4 1-36 1-16 1 17 1 70 1 2 1 48 1-7 1-20 1 34 1-15 1-23 1-18 1-30 1 12 1-15 1 25 1-6 1 23 1 10 1-1 1-5 1 5 1-22 1 8 1 48 1 7 1 46 1-38 1 47 1 0 1-16 1 5 1-21 1-43 1-7 1-35 1 1 1 3 1 33 1 5 1-13 1-10 1-4 1-25 1 3 1-19 1-40 1-23 1-59 1-54 1-33 1 29 1-34 1-38 1 14 1 52 1-20 1 9 1 0 1-19 1 25 1-10 1 3 1-32 1 87 1-51 1 6 1-21 1-36 1 21 1 15 1 38 1-49 1 19 1-1 1 27 1 2 1-15 1-19 1 5 1-4 1-15 1-34 1-51 1 5 1 19 1-20 1 2 1 27 1 18 1-4 1-48 1 35 1 40 1 21 1 7 1-61 1 8 1 38 1-48 1 2 1 17 1-4 1 1 1-55 1 3 1 46 1-27 1-10 1-47 1-76 1 33 1-21 1-22 1-17 1-20 1-1 1 34 1-29 1-31 1-12 1 37 1-9 1 19 1-19 1 53 1-44 1 75 1-20 1-17 1 50 1 45 1 101 1 30 1-1 1 19 1-37 1 2 1-2 1 12 1-22 1-12 1-7 1 43 1-30 1-6 1 17 1 4 1-13 1-49 1-44 1-6 1-22 1 9 1-47 1-23 1-43 1 21"/><path d="M0 0l1 6 1-28 1 20 1 12 1 60 1-23 1 27 1-9 1-14 1-59 1-35 1 42 1-20 1 0 1-24 1-1 1 19 1 1 1 19 1 7 1-76 1-28 1-25 1 42 1 7 1 5 1-5 1 5 1 26 1-35 1-18 1-3 1-41 1-14 1-6 1 3 1 49 1 9 1-44 1-14 1 44 1-50 1 20 1 32 1-9 1-28 1 46 1 33 1-13 1 29 1 2 1-15 1-37 1-14 1 1 1-42 1-4 1 22 1 9 1 9 1-18 1-82 1 17 1 15 1 71 1 43 1-12 1 14 1-16 1-11 1 5 1-51 1-5 1 6 1 29 1-7 1 30 1-12 1 1 1 4 1-26 1-87 1-8 1-42 1-8 1-6 1 36 1 2 1 36 1-12 1 16 1 54 1-5 1-29 1-20 1 39 1-48 1 15 1 18 1 6 1 4 1-13 1 2 1-28 1 52 1 38 1-9 1 49 1-44 1 34 1 3 1-42 1-28 1-16 1 46 1-8 1 38 1-4 1-20 1 31 1-22 1-71 1 17 1 10 1-8 1-18 1 11 1-14 1-26 1-29 1-28 1 45 1 43 1 25 1 11 1 10 1-55 1-25 1 28 1 5 1 8 1 0 1 34 1 13 1-9 1-22 1-15 1-42 1 49 1 25 1-42 1-18 1 4 1-34 1-14 1-1 1 29 1 42 1-8 1-19 1-41 1-23 1-9 1 2 1-25 1-3 1-66 1 37 1 19 1-2 1 30 1 14 1-31 1-35 1-14 1-10 1-35 1 18 1-39 1 42 1-10 1-14 1-40 1 18 1-51 1-4 1-6 1 15 1-4 1-23 1 13 1 17 1 14 1-42 1 24 1 23 1 41 1 10 1 36 1-26 1 13 1-8 1-38 1-2 1-44 1 79 1-50 1-32 1-10 1 17 1-24 1 43 1-28 1 5 1 16 1-42 1-20 1-2 1-32 1 4 1-31 1 47 1 13 1-14 1 20 1-10 1 74 1 7 1-70 1 7 1 41 1-53 1-28 1-8 1 5 1 7 1-18 1-2 1 16 1-34 1-21 1 32 1-18 1-39 1-31 1 52 1 10 1 35 1 17 1 22 1-26 1 21"/><path d="M0 0l1 9 1 6 1-16 1-9 1 27 1-58 1-17 1 29 1 23 1-28 1-36 1 43 1-5 1-26 1 9 1 3 1-17 1-29 1-22 1-20 1-36 1-10 1 27 1 1 1-5 1-37 1 9 1-4 1-20 1 6 1 16 1-6 1 10 1 9 1-55 1-4 1-77 1 26 1 36 1-5 1-21 1-23 1-10 1-31 1-23 1 26 1 0 1-12 1 0 1-12 1-24 1-60 1-25 1 37 1-17 1 32 1-7 1-15 1-17 1-4 1-9 1-4 1 24 1-24 1 42 1-23 1-80 1-16 1-63 1 36 1 30 1-16 1-25 1-15 1-8 1 15 1-4 1 15 1 37 1 57 1-32 1 3 1-11 1-19 1 29 1-34 1 26 1-8 1-29 1-38 1-51 1 18 1-28 1 7 1 11 1 12 1 17 1-35 1-17 1 42 1 17 1 31 1-2 1-36 1 7 1-9 1-4 1 37 1-33 1-54 1 10 1-4 1-54 1 40 1 26 1 32 1-1 1 4 1 1 1 29 1 9 1 10 1-7 1 67 1 9 1 75 1-23 1-12 1-27 1-38 1 52 1 10 1-31 1-32 1 28 1 20 1 12 1-59 1 56 1 15 1-2 1 36 1 15 1 15 1-1 1-40 1-26 1-39 1 8 1-6 1-44 1 30 1 64 1 22 1-13 1 21 1 48 1-21 1 16 1-37 1 5 1 7 1-4 1 32 1 2 1 33 1 23 1 42 1 3 1 36 1 19 1-25 1 4 1-12 1 64 1-1 1 7 1 11 1-17 1-8 1-1 1 5 1-22 1 20 1-39 1-49 1 37 1 26 1-14 1-33 1-58 1 19 1 52 1 78 1-66 1 21 1 9 1-15 1-7 1-48 1-54 1 80 1 21 1-35 1 35 1-36 1-28 1-9 1-53 1-38 1 37 1-22 1-22 1-49 1-13 1 0 1-12 1-7 1-25 1-77 1-13 1 37 1-4 1-24 1 36 1-11 1-43 1 20 1-16 1 44 1-33 1-104 1 24 1 16 1-24 1 51 1 5 1-17 1 40 1 7 1-20 1 25 1 4 1 1 1 5 1 6 1-7 1-24 1-44 1-23 1-37 1 13"/><path d="M0 0l1-55 1 8 1 0 1 47 1-92 1 5 1-11 1 23 1 42 1-36 1 42 1-40 1 1 1 22 1 30 1-34 1 55 1 18 1-1 1 23 1 25 1-54 1-53 1 44 1 1 1 13 1-2 1 18 1 50 1-58 1-9 1-6 1 54 1-10 1-7 1-15 1 39 1-28 1-1 1-19 1 65 1-26 1 1 1-4 1-31 1 17 1-44 1-44 1 9 1-14 1-69 1-4 1 41 1 62 1 32 1-17 1-26 1 3 1-84 1 42 1-16 1 20 1 19 1 24 1-17 1-11 1-43 1-25 1-8 1 67 1 37 1-28 1 9 1 7 1-27 1-11 1 35 1-6 1 30 1 6 1 49 1 4 1 35 1-37 1 77 1 28 1-54 1-3 1-11 1-50 1-72 1 32 1-8 1 33 1-62 1 35 1-64 1-27 1 11 1-75 1 21 1-65 1-51 1 15 1 21 1-23 1 12 1-22 1 33 1-20 1-7 1 19 1-19 1 64 1 8 1-36 1-9 1 2 1 11 1-5 1 16 1-19 1 26 1-69 1 2 1-11 1 9 1-6 1-4 1 7 1-37 1-28 1 63 1-7 1-27 1 25 1 64 1-26 1-2 1 46 1 11 1 15 1-40 1 3 1-14 1 27 1-30 1 5 1-4 1 8 1 9 1-3 1-37 1-2 1 12 1 15 1 29 1 15 1 5 1 20 1 12 1-22 1 26 1 65 1 1 1-20 1-10 1-8 1 24 1-33 1-39 1 38 1 2 1-24 1 24 1 5 1-13 1-36 1 25 1-39 1-6 1-28 1-30 1-28 1-25 1 15 1-80 1-16 1-23 1-3 1-10 1 19 1 13 1 51 1 57 1-28 1-30 1 8 1 38 1 11 1 5 1 4 1 4 1 29 1 26 1-55 1-18 1-59 1-43 1 32 1-17 1-36 1 59 1-38 1-19 1 23 1 28 1-33 1 13 1-91 1-15 1 42 1-10 1-5 1 47 1-11 1 11 1-23 1 35 1 16 1-4 1-6 1 3 1-2 1 17 1 7 1 26 1 12 1-22 1 5 1-41 1 50 1 7 1 11 1 42 1-52 1 5 1-46 1-11 1 2 1 19 1-26"/><path d="M0 0l1-40 1 23 1 51 1-40 1-5 1 12 1 18 1 27 1 58 1-16 1 27 1-15 1-5 1 24 1 49 1-55 1-13 1-6 1-26 1-36 1 29 1 12 1-46 1 2 1 14 1 27 1 8 1 8 1-14 1-13 1 45 1 43 1 24 1-24 1 20 1 4 1-2 1-13 1 15 1 11 1 33 1-25 1-22 1 4 1-19 1-24 1 11 1-58 1-23 1-15 1 10 1 30 1-20 1 39 1 14 1 4 1-4 1-26 1 22 1 60 1-3 1 43 1-37 1-38 1-31 1-37 1-4 1-11 1-23 1-24 1 74 1-14 1 15 1 11 1-17 1-14 1 21 1 37 1-33 1 17 1-7 1-57 1-14 1 45 1 1 1-1 1-3 1 29 1-10 1 25 1 8 1 8 1-15 1-1 1 43 1 12 1-24 1 14 1 40 1-7 1-18 1 0 1-23 1-2 1-10 1 17 1-20 1-11 1-40 1-9 1 53 1 13 1-24 1 35 1-23 1-18 1 8 1 25 1-21 1 15 1 21 1-35 1 40 1 41 1 36 1-9 1-16 1-22 1 16 1 0 1 16 1 9 1 5 1 20 1-13 1 25 1-12 1 12 1 6 1-38 1-7 1-62 1 79 1-4 1 8 1 24 1-2 1-32 1-43 1-38 1 17 1-4 1-37 1 6 1 12 1 44 1-24 1-4 1-43 1 33 1 17 1 25 1-3 1-6 1-55 1 4 1 23 1 56 1 7 1-32 1-9 1 57 1-3 1 43 1 7 1-30 1-37 1-3 1-47 1 9 1 23 1-43 1 26 1-14 1-38 1 7 1-10 1 8 1-24 1-57 1 32 1 7 1-11 1 52 1-1 1 17 1 20 1 0 1-14 1-28 1-3 1-34 1 20 1-2 1 17 1-11 1-38 1-10 1 68 1-33 1-27 1 28 1 5 1 11 1 16 1-35 1-45 1 22 1-10 1-17 1 6 1-58 1-21 1-61 1-28 1 21 1 13 1-36 1-30 1-55 1-17 1 21 1-23 1 13 1-8 1 44 1-22 1-22 1 18 1 39 1-52 1-24 1-51 1-29 1-27 1 3 1 32 1-20 1-32 1-71 1 3 1-77"/><path d="M0 0l1-17 1 34 1-21 1 35 1 27 1 7 1 24 1 23 1 11 1 21 1-23 1-6 1 2 1 32 1 69 1 32 1-48 1 72 1 31 1 18 1-28 1-34 1-1 1-26 1 48 1 21 1 4 1-14 1 51 1-34 1 7 1 14 1-24 1-9 1 39 1-12 1-13 1-16 1-28 1-9 1-7 1 0 1 36 1-48 1 8 1 17 1-47 1 56 1 7 1-41 1 1 1 6 1 20 1 23 1-52 1-9 1-6 1 38 1-2 1 14 1 20 1-37 1-34 1 10 1 34 1-17 1-54 1 20 1 38 1-3 1 7 1-9 1 35 1 6 1 56 1 0 1-26 1-8 1-38 1 27 1 6 1 11 1 39 1-19 1 12 1 26 1-46 1-11 1 37 1 0 1-17 1 31 1-22 1 22 1-40 1 0 1-4 1 13 1 11 1-36 1-51 1 55 1 1 1-87 1 36 1-29 1-8 1-44 1-40 1 9 1-17 1-36 1-24 1-48 1-5 1 68 1-24 1-48 1-20 1-17 1 27 1 6 1 18 1 32 1 22 1 2 1 39 1-2 1-28 1-67 1-65 1-15 1 16 1 3 1-10 1-10 1-18 1-26 1-14 1 9 1 38 1-12 1 2 1 34 1 35 1 53 1 46 1-6 1-20 1 3 1-10 1 35 1-15 1-31 1-37 1 3 1-17 1 26 1-32 1 33 1 29 1-54 1 33 1 6 1-16 1-29 1 62 1-30 1 41 1-19 1 42 1-10 1 12 1 10 1 34 1-93 1 35 1-20 1-16 1-35 1-5 1-2 1 27 1-19 1 24 1 24 1-6 1-27 1 25 1-32 1-51 1-30 1-54 1 2 1-21 1 42 1-17 1 63 1-76 1 5 1 11 1 45 1 20 1 15 1-25 1-13 1 51 1-6 1 8 1-14 1 20 1 3 1-8 1 34 1 63 1 30 1-33 1-12 1 22 1-53 1 22 1 11 1-6 1 39 1 22 1-13 1-26 1 22 1-43 1 14 1-24 1 27 1-14 1-2 1-6 1-32 1 15 1 15 1-18 1-21 1 26 1-8 1-3 1-48 1 20 1 25 1-15 1 17 1 25 1 44 1-46 1 9"/><path d="M0 0l1 18 1-21 1-13 1 12 1 14 1-21 1 19 1-48 1-24 1-20 1 30 1-5 1 8 1 3 1 27 1-16 1 20 1-13 1-12 1-39 1 53 1-43 1-25 1-19 1 39 1-16 1-68 1 13 1-32 1 10 1 15 1-58 1 68 1 5 1 39 1-40 1-3 1-68 1 3 1 8 1-7 1 35 1-16 1 12 1-8 1-38 1-55 1-38 1-22 1 2 1 30 1-73 1 34 1-12 1-38 1-22 1-29 1 38 1-14 1 45 1-55 1-40 1-41 1 35 1-58 1 14 1-48 1-24 1 39 1 1 1-45 1-22 1-46 1-4 1-55 1-13 1 19 1 6 1-1 1 52 1-41 1-23 1-27 1-23 1 12 1 11 1-31 1-69 1-56 1-34 1-44 1-61 1 7 1 29 1 10 1-22 1 9 1 67 1 43 1 6 1 57 1-36 1 2 1 1 1-47 1-14 1 12 1-54 1-24 1 38 1 0 1-27 1 3 1 19 1-22 1 0 1 35 1-29 1 13 1 15 1-25 1 48 1-93 1-20 1 20 1 68 1-9 1 63 1 71 1-3 1-15 1 13 1-19 1-11 1-2 1 10 1 36 1 23 1-15 1 40 1-17 1-32 1-12 1-37 1-2 1-10 1-48 1 33 1-22 1 32 1-45 1-34 1 60 1 27 1 16 1-23 1 21 1-11 1 14 1-34 1 19 1 31 1 5 1-1 1-16 1-40 1 6 1 24 1 84 1-9 1-27 1-4 1 64 1 23 1-8 1-26 1-52 1 37 1 6 1 41 1-2 1 31 1 1 1 37 1 29 1-17 1-5 1 14 1 33 1-18 1-59 1-27 1 35 1 42 1-6 1-42 1-6 1-27 1 64 1 20 1-40 1 13 1 39 1-44 1 40 1 36 1 15 1-13 1 2 1-38 1 49 1-32 1-88 1-2 1-38 1 24 1-12 1 24 1-7 1 10 1 24 1-29 1 54 1-61 1-42 1-15 1 19 1-19 1 27 1-36 1-39 1-7 1-6 1 35 1 21 1-40 1-20 1-18 1-20 1 5 1 30 1 9 1 21 1 39 1 4 1 16 1 20 1-48 1-26 1-6 1-25 1 10"/><path d="M0 0l1-19 1-11 1 44 1 19 1 19 1 15 1-34 1-4 1 30 1-23 1 25 1-4 1-32 1-45 1 15 1-23 1 12 1 58 1 16 1 36 1-60 1-74 1-13 1 20 1 33 1-24 1 3 1 41 1-19 1 2 1 16 1 31 1-33 1 28 1-25 1 63 1-36 1-29 1-3 1-15 1-44 1-37 1 0 1-3 1-37 1 23 1 32 1 6 1-8 1 20 1-5 1-24 1-47 1 8 1 38 1-16 1-19 1-13 1-23 1 13 1-4 1 66 1 3 1 6 1-78 1-16 1 13 1 48 1-21 1-1 1-23 1 20 1-17 1 4 1-59 1-12 1-63 1 7 1-18 1-11 1 20 1 27 1 32 1 56 1 1 1 58 1 51 1-30 1-64 1 21 1 29 1 24 1 6 1 33 1 54 1 32 1-36 1-15 1 4 1-6 1 29 1-61 1-20 1-3 1-5 1-28 1 20 1-17 1-16 1-6 1 17 1-16 1 29 1 6 1-11 1 9 1-51 1 30 1 29 1-25 1 18 1-7 1-15 1-26 1 12 1 22 1 41 1-19 1-3 1 39 1-1 1 16 1-40 1 4 1-16 1-3 1-1 1 31 1 44 1-11 1 6 1 47 1 10 1 72 1 9 1 31 1-27 1-24 1-7 1-11 1 47 1-5 1 18 1 0 1 36 1-14 1-24 1 55 1 22 1 29 1 28 1-16 1-1 1 60 1 4 1 10 1-15 1-22 1 13 1-9 1 40 1-33 1 22 1 35 1-19 1-44 1-20 1 19 1-17 1-8 1 24 1 2 1 53 1-4 1 9 1-16 1-89 1 35 1 28 1 11 1 40 1 21 1 20 1-52 1-68 1 10 1-26 1-14 1 20 1 42 1 26 1 21 1-12 1 11 1-10 1-5 1-56 1-41 1-23 1-24 1-8 1-33 1 23 1 35 1 34 1 5 1-17 1-23 1-8 1-10 1 16 1 3 1-7 1-45 1-34 1 59 1-6 1-14 1-19 1 50 1-23 1-21 1 38 1-42 1-28 1 50 1-16 1-14 1 6 1-3 1 86 1-22 1 17 1 10 1-8 1-39 1 13 1-27 1-4 1-33 1-48 1 14"/><path d="M0 0l1-16 1-6 1 27 1-20 1 32 1-32 1 18 1 33 1-21 1-18 1 7 1 16 1-54 1-56 1-11 1-44 1 7 1 40 1 32 1 26 1-60 1 17 1-40 1 20 1 38 1-4 1-8 1 29 1-4 1-37 1-47 1 13 1 0 1-36 1 6 1-12 1 1 1 11 1-20 1-31 1-12 1 69 1-30 1-17 1 17 1-7 1 0 1 4 1-6 1 36 1 24 1 25 1 72 1 28 1-11 1-47 1 5 1-14 1 20 1 9 1-17 1 21 1-3 1 47 1-17 1 9 1 42 1-1 1-16 1-17 1-90 1-34 1 9 1 42 1-20 1 8 1 16 1-45 1-30 1 10 1-25 1-17 1 13 1 23 1 30 1-3 1 16 1 6 1-13 1-4 1 9 1-22 1-8 1-66 1-18 1-15 1-4 1-43 1 94 1-64 1 94 1 4 1-9 1-62 1 0 1 3 1-16 1 49 1 0 1-43 1-17 1-24 1-54 1-15 1 56 1 52 1-23 1 8 1 28 1-44 1 40 1-55 1-21 1 37 1-2 1-70 1-24 1 2 1 12 1-25 1 6 1-43 1-16 1 21 1 15 1 27 1-3 1 13 1-13 1-46 1 49 1 56 1 39 1-38 1-15 1-15 1 11 1-8 1-1 1 44 1-21 1-26 1 3 1 30 1 24 1 22 1-6 1-10 1-19 1-90 1-6 1 27 1 30 1-7 1 1 1-64 1 16 1-12 1 33 1-4 1-13 1-27 1-17 1-5 1-13 1-62 1 26 1 3 1 29 1-23 1 28 1 40 1 2 1-18 1-39 1 7 1 2 1-34 1 25 1 16 1-5 1 18 1 37 1 59 1 36 1 0 1 0 1-32 1-21 1 10 1 27 1 24 1-30 1 50 1-38 1-22 1 60 1-28 1 25 1 11 1 30 1 22 1-64 1-16 1-13 1 35 1-11 1 4 1-8 1-12 1-50 1-10 1 57 1-43 1 15 1-4 1-28 1-14 1-1 1-34 1-11 1-45 1 4 1 0 1 13 1 13 1-24 1 2 1-89 1-36 1 45 1 36 1 19 1-42 1 22 1-3 1 56 1 18 1-11 1-38 1 15 1 20"/><path d="M0 0l1 25 1 16 1-22 1-31 1-39 1-12 1 25 1-3 1-45 1-1 1 9 1 49 1 8 1-22 1 39 1 23 1 5 1 29 1-13 1 14 1 4 1-43 1-12 1 29 1 15 1 13 1-34 1 8 1 32 1-2 1-31 1 10 1-37 1 43 1-56 1 22 1 8 1 21 1 23 1 24 1 13 1-20 1-42 1 33 1-45 1 21 1-42 1 40 1-6 1-36 1-4 1 12 1 13 1-16 1-21 1-13 1 50 1 10 1 13 1 9 1 3 1-47 1 44 1 31 1-18 1 4 1-53 1 27 1 11 1 1 1 22 1-22 1 58 1-15 1-8 1-40 1-21 1 19 1 9 1 1 1-20 1-20 1-21 1-41 1 14 1-34 1-7 1-33 1-48 1 7 1-4 1 1 1 25 1 21 1-7 1 6 1 0 1-43 1-21 1 10 1 14 1 9 1 35 1-42 1-19 1 18 1 23 1 56 1-49 1 26 1-1 1 7 1 2 1 0 1-24 1-33 1-26 1 41 1 13 1-23 1 6 1-34 1-85 1 49 1 9 1-39 1-5 1-29 1 14 1 28 1 58 1 68 1-9 1 11 1-25 1 29 1-7 1 51 1-19 1-24 1-3 1 28 1-13 1 57 1 5 1 25 1-1 1-4 1 31 1-21 1 32 1 13 1 7 1 14 1 2 1-23 1-7 1-3 1 15 1-8 1-41 1 15 1 20 1 14 1-40 1-6 1 70 1 32 1-8 1-6 1-59 1-19 1 31 1-4 1-56 1 32 1 4 1 17 1-57 1-27 1-7 1 7 1-31 1-30 1 1 1 30 1-8 1 18 1-18 1 9 1 27 1 9 1-19 1 4 1-16 1 6 1 27 1-6 1 27 1-16 1-12 1 6 1-33 1-2 1 5 1 30 1-10 1 32 1 23 1 12 1-6 1-15 1 5 1-8 1-39 1-13 1-43 1 2 1 30 1-55 1-10 1 34 1 10 1 5 1 12 1-30 1 1 1 24 1-28 1 23 1 15 1-15 1-5 1-22 1 33 1-69 1-15 1-9 1 11 1 40 1 29 1-34 1-25 1-25 1 28 1 30 1-20 1-20 1 59 1 12 1-28 1 57"/><path d="M0 0l1 45 1-11 1-14 1-43 1 12 1-17 1-27 1-2 1 11 1-39 1-1 1 32 1-1 1 45 1-36 1 63 1-42 1 8 1-22 1-9 1 24 1-11 1 30 1-31 1-8 1 37 1 26 1 20 1-34 1-36 1-27 1 16 1 32 1-31 1-28 1-15 1 23 1-20 1 19 1 3 1-9 1-39 1-10 1-45 1-17 1-66 1-23 1-55 1 10 1 49 1-1 1 27 1 47 1-42 1-54 1 33 1-38 1-39 1-57 1 5 1-7 1-50 1-45 1-4 1 51 1 48 1-13 1-21 1-3 1-29 1 6 1 16 1 30 1-13 1-67 1-31 1 7 1-8 1 33 1 29 1-20 1-8 1-21 1-57 1-31 1 75 1-37 1 5 1-36 1 9 1 3 1 19 1 8 1 1 1-3 1 20 1 39 1-66 1 35 1 14 1 3 1 44 1 35 1-41 1 13 1-13 1-20 1-23 1-54 1 3 1-45 1-7 1-52 1-30 1 15 1-26 1-20 1 20 1 18 1 23 1-19 1-32 1 13 1 21 1-10 1-62 1 48 1-16 1-20 1-25 1 11 1 43 1 22 1-10 1-30 1 19 1 25 1-51 1-1 1 18 1-82 1-33 1 5 1 6 1 13 1 16 1 8 1 38 1-21 1-8 1-10 1-42 1 43 1 24 1 3 1 6 1-120 1 9 1 1 1 4 1 25 1-3 1 28 1-6 1-3 1-28 1-44 1-65 1 1 1 12 1-2 1-11 1-12 1-28 1-29 1-3 1 37 1-14 1-55 1-6 1 55 1-67 1 15 1 27 1-14 1 76 1-2 1-39 1-23 1 19 1-23 1-32 1-5 1 2 1 23 1-27 1 26 1-20 1 10 1 45 1 26 1-38 1-26 1 25 1-24 1-3 1-15 1 16 1 4 1 25 1-9 1-51 1 17 1 9 1-10 1-1 1-8 1-53 1 10 1 20 1-21 1-12 1-37 1 11 1-23 1 52 1-50 1-7 1 43 1-4 1 18 1-64 1 6 1 15 1-9 1-19 1-4 1-52 1 6 1 24 1 0 1 28 1-41 1-12 1 21 1-13 1-43 1-29 1-16 1 15 1 3 1 9"/><path d="M0 0l1 20 1-9 1-5 1-11 1-9 1-37 1 2 1 61 1-10 1-8 1 26 1 19 1 24 1-2 1 20 1-29 1-53 1 4 1 7 1-30 1 16 1 57 1-10 1 0 1 31 1 7 1 24 1 1 1 28 1 2 1 32 1 76 1-29 1 20 1-12 1 41 1 84 1-9 1 7 1 32 1-20 1-29 1 11 1 8 1-15 1-6 1 13 1-38 1 48 1-15 1 22 1 13 1 17 1-11 1-22 1-52 1-9 1-20 1-1 1-18 1 7 1-11 1 33 1-6 1-1 1 32 1-30 1-18 1 11 1-28 1-29 1-7 1 6 1-4 1 0 1 57 1-38 1 33 1 35 1-18 1 16 1 13 1 37 1 9 1 37 1-54 1-10 1 13 1-9 1 16 1 44 1-22 1-77 1-22 1-15 1-36 1-21 1 23 1 45 1-12 1 14 1 11 1 15 1-40 1 82 1-44 1-14 1-16 1 17 1 30 1-18 1 7 1 1 1 4 1-40 1-35 1 44 1 4 1-5 1-49 1 6 1-21 1 26 1-3 1 13 1 24 1 13 1 21 1-33 1-64 1 3 1 11 1-28 1-19 1 6 1-10 1 0 1-7 1-20 1 25 1 15 1 46 1 12 1-25 1-61 1 16 1-3 1-21 1 13 1 2 1 52 1-37 1-32 1 47 1-34 1 22 1-26 1 37 1 2 1-8 1-6 1 62 1-28 1 51 1-43 1 6 1 3 1-24 1 20 1-23 1-21 1 14 1-21 1 86 1-58 1-2 1-24 1 9 1 29 1 10 1 35 1-42 1-38 1-3 1-23 1 4 1 30 1 1 1-5 1 3 1-57 1-24 1-23 1 0 1 2 1 22 1 23 1 9 1-37 1 44 1 7 1-30 1-15 1 23 1-3 1-37 1 11 1 4 1-48 1-7 1 10 1 28 1 6 1-31 1 49 1-1 1-15 1-15 1 10 1-9 1 23 1-5 1 47 1 27 1-14 1-5 1-53 1-19 1 23 1-13 1-36 1-13 1 9 1 2 1-2 1-33 1-7 1 21 1 31 1 54 1 39 1-23 1 41 1-41 1 1 1 21 1-19 1-5 1-41 1-6 1-21 1-22"/><path d="M0 0l1-73 1 4 1-1 1-40 1 2 1-21 1 19 1 23 1 5 1 51 1 14 1-36 1-7 1 5 1 11 1-35 1 39 1-2 1-5 1-6 1 16 1-26 1-36 1-59 1-56 1 2 1-41 1 1 1 21 1 37 1 32 1-8 1-27 1-11 1-1 1 4 1 5 1 2 1-66 1-12 1 0 1 23 1 24 1 24 1-24 1 55 1-41 1 20 1-21 1-3 1 23 1-11 1-13 1 0 1-40 1 5 1-11 1 3 1 10 1 7 1 8 1 26 1 28 1 51 1-45 1-7 1-61 1 15 1-3 1-44 1 15 1 2 1-32 1-6 1-47 1 7 1 29 1 70 1 27 1-30 1-37 1 8 1-3 1-50 1 5 1-37 1 2 1-26 1 38 1-22 1-18 1-10 1-6 1 4 1-11 1 35 1-39 1 18 1 35 1-42 1-34 1 7 1 25 1 19 1-8 1-23 1-20 1-9 1 9 1 52 1 7 1 45 1-13 1 37 1 10 1 3 1-26 1-23 1-21 1 26 1-8 1-86 1 20 1 22 1-54 1-5 1 72 1-36 1-21 1-34 1-8 1 6 1 26 1 43 1 52 1-4 1-32 1-27 1-19 1-50 1 3 1-9 1 6 1 12 1-19 1 23 1-12 1 12 1 19 1-35 1 2 1 55 1-58 1-7 1 48 1-18 1-37 1 11 1 90 1-15 1 1 1 20 1 12 1-26 1 28 1-11 1 7 1-27 1 17 1 16 1-24 1 18 1 26 1 33 1-1 1-32 1 11 1-53 1-46 1 12 1-9 1-11 1 15 1-25 1 10 1-79 1-29 1 4 1-27 1-41 1 22 1-42 1-12 1-1 1-46 1-67 1 9 1-16 1 37 1-61 1-34 1 6 1 5 1-32 1 17 1 2 1-77 1 28 1-37 1 32 1-28 1 35 1-17 1 18 1-53 1-33 1-27 1-41 1-8 1 13 1-27 1-38 1 28 1-8 1 5 1-87 1-13 1-17 1-11 1-21 1-6 1-3 1-30 1-20 1-24 1 26 1 46 1-19 1-53 1 12 1-12 1-66 1 65 1 34 1-33 1 17 1-36 1 98 1-7 1 43 1-17 1 13"/><path d="M0 0l1-6 1-24 1-37 1 29 1-15 1 11 1 8 1 5 1 74 1-1 1-10 1-34 1-21 1 63 1 9 1-6 1-14 1 4 1-23 1 15 1 40 1-51 1 4 1-4 1 41 1 1 1 11 1 16 1 51 1 56 1 9 1-60 1 11 1-32 1 8 1-30 1 14 1-13 1 29 1 3 1 2 1 12 1 22 1 42 1-20 1-50 1-17 1-40 1 35 1 3 1 30 1 9 1-4 1 65 1-12 1-42 1 43 1 44 1-41 1 40 1-28 1 57 1 2 1 8 1-5 1 12 1-11 1 35 1-27 1 5 1-10 1 12 1 10 1 59 1 37 1 7 1 48 1-7 1 22 1-13 1 28 1 19 1 1 1 9 1-3 1-25 1 53 1 64 1 9 1-23 1-16 1-11 1 75 1 38 1 23 1 0 1 31 1 22 1-42 1-21 1-37 1-51 1 16 1 14 1 25 1 19 1-54 1 0 1 23 1 4 1 53 1 8 1-51 1-25 1-20 1 41 1-1 1 2 1 30 1-20 1-5 1 16 1-29 1-32 1-32 1-61 1-12 1 43 1-11 1 20 1-22 1 22 1 26 1-13 1-9 1-59 1 31 1 33 1 10 1-55 1-3 1 31 1 22 1 37 1-24 1-6 1-6 1 12 1 10 1 28 1-33 1-4 1-58 1-58 1 20 1-9 1-21 1 30 1 5 1 16 1-40 1-61 1 24 1-42 1-7 1 19 1-22 1 10 1 0 1 38 1 11 1 94 1-19 1-18 1 28 1-87 1 1 1 3 1 2 1 29 1 34 1-27 1 21 1 33 1-31 1-24 1-14 1-11 1 6 1-14 1 17 1-3 1 39 1 31 1 3 1-33 1-12 1 33 1 2 1 17 1 24 1-26 1-2 1 21 1-19 1 37 1 4 1-57 1-29 1-5 1 29 1-5 1 23 1 9 1 39 1 13 1 23 1-21 1-22 1 33 1 16 1-25 1 34 1 7 1-18 1-2 1 49 1-4 1-27 1-14 1-17 1-23 1-23 1 13 1 9 1-43 1 6 1-11 1-17 1-45 1 2 1 20 1 44 1-34 1-11 1-4 1 5 1-26 1 7 1-4 1-9 1 33"/><path d="M0 0l1-22 1-15 1 7 1-38 1-26 1-25 1-25 1-9 1 29 1 13 1 28 1-16 1 26 1-60 1 0 1 43 1-10 1-16 1 37 1-3 1-23 1 8 1-21 1 4 1 16 1 17 1-38 1-43 1-16 1 3 1-47 1 15 1 13 1 36 1 17 1 1 1 34 1 27 1-27 1-21 1 9 1 20 1 18 1 5 1-35 1-4 1 31 1-10 1-58 1-19 1-6 1 11 1-48 1 76 1-1 1-28 1 73 1-23 1-46 1 12 1-27 1 9 1 0 1-61 1-6 1-8 1-64 1-34 1 17 1-39 1-5 1-46 1-51 1-20 1 3 1-4 1-60 1 6 1-46 1 34 1-11 1-34 1-57 1 11 1 20 1 10 1-2 1 3 1-7 1-34 1 8 1 21 1 6 1-33 1 17 1 75 1-26 1 81 1 8 1 11 1 31 1 9 1-18 1 9 1-8 1-38 1 1 1 33 1-7 1-59 1-3 1 15 1-52 1-3 1-10 1 56 1-38 1 47 1 9 1-39 1-39 1-22 1-38 1-14 1 8 1-14 1-32 1-50 1-35 1 25 1 9 1 37 1-35 1-41 1-7 1-36 1 19 1 9 1 16 1-17 1-1 1-20 1 12 1 19 1-21 1-52 1 18 1-27 1 5 1-16 1 34 1 15 1-8 1 13 1-29 1-22 1-1 1 53 1-63 1 25 1 44 1 21 1-27 1-29 1-25 1-5 1-53 1-34 1 11 1 32 1-17 1 20 1-35 1-44 1 23 1 4 1 23 1 20 1-25 1-13 1 45 1-34 1-29 1 26 1-77 1 19 1-1 1-42 1 9 1 35 1 20 1 1 1-32 1-36 1-3 1-37 1-50 1 20 1-21 1 7 1 57 1-69 1 11 1 11 1-31 1-38 1 15 1 32 1 28 1-35 1 10 1-48 1 7 1 80 1-69 1-44 1-31 1 6 1 6 1-34 1 31 1 4 1 1 1 2 1 7 1-72 1-25 1-75 1 31 1 14 1-55 1 58 1 23 1-56 1-60 1 24 1 40 1-33 1-90 1 19 1 62 1-22 1 46 1 7 1-51 1 6 1-8 1-25 1 4 1-31 1-30 1-23"/><path d="M0 0l1 5 1 45 1 11 1-2 1 56 1-22 1 1 1-1 1-44 1 3 1-44 1-64 1-41 1-11 1-21 1-21 1 2 1-9 1 3 1 20 1 1 1-32 1-23 1 39 1-24 1-18 1 52 1 23 1 18 1-7 1-13 1 46 1-5 1-37 1-10 1-4 1 17 1-18 1-39 1-12 1 48 1 0 1 23 1 12 1-21 1-8 1-39 1-38 1 105 1 20 1-27 1 17 1 0 1-21 1 16 1-16 1-54 1-26 1-28 1-14 1 14 1-38 1 10 1 32 1-39 1 65 1-1 1-15 1 29 1-9 1 2 1-19 1 19 1 12 1-33 1 11 1-21 1-54 1 13 1 1 1 37 1 36 1 23 1 14 1 26 1-51 1 14 1 21 1 5 1-32 1 12 1 37 1-31 1-33 1 24 1-6 1-39 1-14 1-70 1-72 1 49 1 7 1 1 1-18 1 13 1-43 1 15 1-81 1 10 1-9 1-4 1-9 1-20 1 39 1 4 1 20 1 1 1-7 1 26 1-15 1-10 1-6 1-74 1-37 1-72 1 3 1-41 1 0 1 22 1-40 1-83 1-14 1-13 1 6 1 23 1-61 1 27 1-64 1 15 1 10 1 12 1 34 1-45 1-50 1 26 1-45 1 7 1 27 1-59 1-56 1 8 1 72 1 14 1-16 1-29 1 22 1 55 1-65 1-9 1-49 1-40 1 16 1-2 1-70 1 5 1-61 1 28 1 19 1-65 1 37 1 22 1 27 1 16 1-10 1-47 1-8 1 46 1 36 1-49 1 74 1 17 1 28 1 27 1 34 1 27 1 31 1 6 1 27 1-40 1 32 1-29 1 14 1-12 1 0 1-1 1 9 1-66 1-37 1 17 1 2 1 26 1 50 1 12 1-38 1-28 1 37 1 1 1-32 1 1 1-11 1-35 1-7 1 38 1 5 1-70 1 7 1 48 1 11 1-27 1 34 1 26 1-14 1-19 1 46 1-73 1-28 1 18 1 20 1-29 1-28 1-19 1 0 1-39 1 14 1 5 1-38 1-72 1-28 1-37 1 1 1-60 1 9 1-11 1-6 1-16 1 45 1-34 1-62 1-7 1 40 1-17 1 42"/><path d="M0 0l1 8 1 15 1 11 1-24 1 4 1-23 1-19 1 29 1-61 1-11 1-44 1 27 1 8 1-12 1 63 1 44 1-55 1-10 1-47 1-33 1-9 1-16 1 29 1-46 1-19 1-23 1 6 1 28 1 36 1 20 1 8 1 12 1-14 1 19 1 4 1 5 1 12 1-2 1 29 1-19 1-10 1 25 1 48 1 10 1-9 1-53 1 25 1 27 1 23 1-14 1 23 1 41 1-35 1-71 1-24 1-30 1-6 1 8 1-10 1-21 1 0 1 46 1 87 1-14 1 15 1-4 1-23 1-27 1-4 1 8 1-44 1 5 1 2 1 21 1 49 1-23 1 16 1 61 1-36 1 14 1 33 1 3 1 31 1 23 1-15 1-67 1-2 1 36 1-26 1-50 1-5 1 3 1-36 1 24 1-24 1 31 1-4 1 50 1 6 1 21 1-28 1-2 1 62 1 27 1 51 1-31 1-1 1-15 1 36 1 61 1 8 1 8 1 0 1 22 1-4 1 15 1 5 1 49 1-27 1 29 1-16 1 7 1 12 1-42 1-36 1 19 1 7 1 46 1-75 1-3 1 30 1-22 1-30 1-2 1-36 1 27 1-44 1-38 1 21 1-3 1 28 1 0 1 17 1-17 1-13 1-21 1-10 1 37 1-29 1-48 1-38 1-46 1 17 1-20 1 4 1 30 1-12 1 25 1-43 1 42 1-7 1-10 1 33 1-9 1 26 1 26 1 50 1-84 1 16 1-9 1-20 1 3 1-47 1-19 1 63 1-13 1 13 1-14 1 13 1 15 1-10 1-27 1 15 1-23 1-35 1-41 1 16 1 29 1-38 1-43 1 51 1-38 1 16 1-4 1-15 1 38 1-11 1 12 1 5 1-39 1-59 1-36 1 2 1 21 1 11 1 0 1-14 1 37 1 19 1 0 1-8 1-22 1-51 1 35 1 24 1 13 1-47 1 32 1 22 1 30 1 19 1 8 1-31 1-81 1 5 1-52 1-9 1-48 1 30 1-27 1 47 1-11 1 0 1-54 1 77 1 4 1-43 1 1 1 9 1-15 1-6 1-29 1-5 1-41 1 13 1 10 1 12 1 10 1 36 1-17 1 5 1-35"/><path d="M0 0l1-22 1 26 1 15 1-41 1 46 1 6 1-16 1 57 1 2 1 36 1-10 1 8 1 39 1 4 1-18 1-11 1 23 1 33 1 40 1-39 1 4 1 54 1-15 1 26 1-16 1 31 1-7 1-9 1 1 1-50 1-28 1-9 1 13 1-12 1-83 1-2 1 7 1-5 1-2 1-30 1 40 1 12 1-4 1-21 1-13 1 25 1 16 1-7 1-8 1 26 1-23 1 14 1-13 1 11 1-20 1-13 1-74 1-7 1 2 1-36 1 14 1 3 1-2 1 4 1 13 1 56 1 15 1 5 1 68 1 4 1-7 1 69 1 22 1-17 1 23 1 29 1 40 1 4 1-36 1 41 1 10 1-7 1-27 1 24 1-17 1-34 1-37 1-17 1-30 1-9 1-5 1-21 1 4 1-94 1 21 1-43 1 86 1 37 1 4 1 11 1-35 1-28 1 19 1-10 1-1 1-72 1 11 1-31 1 29 1-33 1-5 1-6 1 31 1-61 1 4 1 34 1-53 1 29 1-15 1-35 1-24 1 36 1 25 1 11 1 22 1 15 1-29 1 20 1-25 1 35 1 30 1 54 1 12 1-2 1 1 1-51 1 8 1-38 1 1 1-17 1 24 1 27 1 19 1 40 1 7 1 9 1 28 1 46 1-24 1-8 1-32 1 41 1 32 1 26 1 49 1 20 1-34 1 59 1-9 1-27 1-30 1 14 1 21 1 21 1 15 1 7 1 14 1 35 1 46 1 3 1 0 1 22 1 6 1 6 1 11 1 33 1-15 1 0 1-8 1-33 1-77 1 8 1 7 1-63 1 8 1 21 1 3 1-44 1 26 1-15 1 1 1 0 1 4 1 5 1-27 1-44 1-31 1-20 1-11 1 12 1-25 1-33 1-49 1-23 1-39 1 10 1 26 1-26 1 98 1 73 1-50 1-5 1-27 1 41 1 13 1 22 1 22 1-16 1 25 1-3 1-30 1 47 1 32 1-2 1 14 1 17 1-17 1 4 1-11 1 52 1 0 1 1 1 25 1-12 1 26 1-3 1-33 1 35 1 30 1-6 1-40 1-22 1 8 1-39 1 33 1-17 1 0 1 1 1-60 1-49 1 26 1-44"/><path d="M0 0l1-8 1-2 1-5 1 17 1 13 1-7 1-18 1 43 1 31 1-4 1-6 1-64 1-15 1-40 1 6 1-30 1 11 1-9 1-21 1-11 1 0 1-45 1 20 1-20 1-49 1 1 1 13 1 26 1 8 1-24 1-8 1 38 1-13 1-23 1-26 1-6 1 17 1-45 1-35 1-34 1-25 1-25 1-29 1-42 1-29 1 40 1 0 1 50 1-12 1-37 1-43 1-11 1 9 1 4 1-9 1 30 1 17 1-40 1-22 1-32 1 5 1-27 1-9 1-14 1 91 1-2 1-16 1-3 1 38 1 6 1-36 1 23 1 61 1-1 1 35 1 21 1-11 1-9 1-6 1-27 1-27 1 91 1-28 1-6 1-16 1 11 1-32 1-41 1 16 1-31 1-29 1 0 1 69 1 26 1 21 1 64 1-5 1 33 1 1 1-20 1 21 1 19 1 41 1-39 1-16 1 22 1-9 1-24 1-55 1 26 1-12 1 26 1-40 1-22 1-4 1-3 1 9 1 17 1-20 1 3 1 30 1 35 1 67 1-51 1-6 1 1 1 0 1-11 1-51 1 36 1 3 1-19 1 1 1-23 1-13 1-37 1-13 1 4 1-13 1 9 1 6 1 4 1-62 1-14 1 29 1 23 1 1 1-60 1-51 1-16 1-26 1-10 1 26 1-3 1-24 1-45 1 9 1-56 1 10 1 53 1 67 1-15 1-17 1 22 1-31 1-12 1-47 1-39 1 28 1 28 1-44 1 95 1-12 1 25 1 34 1 14 1-9 1 45 1-66 1-24 1-27 1 17 1 13 1 22 1-17 1-38 1-48 1-50 1 67 1 32 1 27 1-66 1-1 1 6 1 39 1-20 1-61 1 44 1-43 1 19 1 49 1-36 1-40 1-36 1-7 1 23 1-17 1-27 1 17 1 13 1-1 1-46 1 7 1 5 1-19 1-6 1 17 1-4 1-59 1-19 1-3 1-70 1-29 1 10 1-49 1 11 1-14 1 23 1 55 1-46 1 15 1-40 1 9 1-52 1 20 1 60 1 40 1 17 1-68 1 16 1 14 1-18 1 30 1-16 1 16 1 7 1 2 1 17 1-54 1-15 1 32 1-11"/><path d="M0 0l1-10 1-52 1 12 1-6 1 12 1-14 1-5 1 32 1 28 1 25 1 1 1 54 1 4 1-29 1-6 1-43 1-11 1 21 1 22 1-55 1 19 1 5 1-20 1-16 1 5 1 53 1 13 1-44 1-24 1 3 1-21 1 37 1-9 1-26 1 20 1 27 1 0 1 9 1 26 1 12 1-44 1-7 1 0 1 20 1-71 1 8 1-4 1-31 1 17 1 37 1 1 1 33 1-23 1-51 1-16 1-4 1 21 1 3 1 25 1-23 1 13 1 34 1-33 1-1 1 5 1 38 1 33 1-5 1 15 1 45 1-8 1 14 1-39 1-8 1 18 1 3 1 2 1 32 1-3 1-6 1 35 1-33 1 10 1 4 1 34 1-21 1-24 1 42 1-19 1-8 1-28 1 33 1-12 1 14 1 6 1-7 1-3 1-17 1 11 1-9 1-29 1-2 1-40 1 16 1-16 1 4 1 4 1 0 1 10 1 22 1 17 1-7 1 39 1 24 1-44 1 29 1-28 1-14 1-10 1 14 1 54 1-36 1 3 1-42 1 14 1 7 1-80 1 30 1 5 1-4 1-37 1-22 1-118 1 1 1-6 1 1 1-8 1 8 1-9 1-48 1-20 1 64 1-9 1-39 1 17 1-5 1 5 1 10 1 38 1-22 1-10 1 59 1-8 1-10 1 56 1-23 1-40 1 37 1 22 1 14 1-17 1-32 1-32 1 1 1 21 1-28 1-54 1-29 1-8 1-18 1 5 1-23 1-47 1-8 1-17 1 30 1-6 1 30 1 14 1 32 1-63 1 19 1-8 1-29 1-45 1 17 1-7 1 11 1 10 1 13 1 24 1 19 1 38 1 21 1-27 1 40 1-8 1 0 1 11 1-35 1 64 1-46 1-40 1 69 1-58 1 59 1 50 1 4 1 4 1 37 1 23 1 29 1-28 1-61 1 4 1 23 1 7 1 9 1-10 1 0 1-17 1-14 1-48 1-11 1-16 1 16 1 64 1-10 1-46 1 22 1 23 1-2 1-4 1-30 1-4 1-42 1-8 1 74 1-17 1-31 1 58 1-39 1-23 1 8 1 37 1-32 1-15 1-27 1-62 1 24 1-13 1 16"/><path d="M0 0l1-10 1-31 1 1 1-15 1-13 1 5 1 9 1 24 1-26 1 26 1 2 1-25 1-77 1-22 1-46 1-40 1-55 1-26 1-45 1 53 1 27 1-27 1 41 1-25 1-41 1 5 1 42 1-14 1 13 1-26 1 62 1 7 1 19 1-1 1-49 1-5 1-23 1 2 1 14 1 21 1 36 1-8 1-6 1-35 1 2 1 15 1 17 1-5 1 32 1 25 1-5 1 1 1 2 1-25 1 61 1 88 1 17 1-46 1-27 1-13 1-28 1-15 1-17 1 16 1 23 1 13 1-11 1 26 1-19 1 3 1-55 1-20 1-19 1 18 1-37 1 8 1-9 1-63 1-65 1-53 1-8 1-31 1 70 1 34 1 13 1 11 1 45 1 31 1-4 1-36 1 41 1-11 1 26 1 40 1 3 1 9 1-51 1 17 1 37 1-27 1 27 1-9 1-38 1-3 1 54 1 47 1 14 1-22 1 11 1 17 1-26 1-16 1 19 1-1 1-49 1 59 1 36 1 12 1-17 1 2 1 26 1 41 1-22 1 8 1-2 1-38 1-43 1 46 1 78 1-35 1-4 1-37 1 53 1 12 1-45 1 30 1-6 1 21 1 3 1 7 1-3 1 20 1 5 1 4 1-23 1-4 1 14 1-31 1 6 1-43 1-35 1 41 1 71 1 10 1 7 1 0 1-2 1 6 1-2 1-68 1 13 1 24 1-9 1-8 1 30 1-17 1 32 1-35 1 72 1-16 1-16 1 13 1-10 1-16 1 3 1-12 1-61 1 36 1 5 1-25 1 3 1-23 1-13 1-36 1 16 1 72 1-11 1-1 1-54 1-6 1-1 1 41 1 0 1 17 1 4 1-10 1 89 1-41 1-26 1 50 1 4 1-19 1 8 1-11 1-2 1 1 1 7 1 38 1-17 1-56 1 33 1 22 1 42 1-48 1-43 1 30 1 19 1 4 1 76 1-15 1 25 1-26 1-13 1 31 1 19 1 50 1 28 1-29 1 27 1 0 1 16 1 2 1 18 1 22 1 20 1 22 1-46 1-25 1 2 1-29 1 14 1-49 1 50 1 22 1-32 1 16 1 0 1-11 1 5 1-15 1 35 1 39"/><path d="M0 0l1 6 1 11 1 6 1-39 1 43 1 5 1-7 1 3 1-26 1 12 1 10 1 66 1 5 1 59 1 7 1 19 1-2 1-46 1 63 1-17 1-36 1-67 1 60 1 11 1 33 1 6 1-45 1 5 1-28 1 5 1 48 1-7 1-6 1 3 1-59 1 54 1-1 1-24 1-46 1-40 1 29 1-14 1-10 1-26 1 17 1 29 1 31 1 40 1-18 1 34 1 21 1-27 1 9 1 42 1 25 1-25 1-12 1 67 1-41 1 12 1-16 1 10 1-26 1-26 1 8 1 33 1 8 1 76 1-2 1-31 1-43 1-52 1 26 1-83 1-19 1-5 1 27 1 14 1-19 1 6 1 11 1 56 1-64 1-20 1 33 1-38 1 29 1 5 1 40 1 20 1-6 1 18 1-17 1 27 1-55 1-10 1-47 1-15 1 3 1 18 1-1 1-21 1-51 1 31 1-48 1-2 1 10 1 17 1 44 1-16 1 33 1 11 1-42 1 25 1-30 1-11 1 4 1 35 1 17 1 25 1 64 1 35 1-26 1-5 1-7 1-47 1-23 1-26 1 19 1 19 1 10 1-23 1-16 1-27 1 24 1 32 1-13 1-32 1 8 1-1 1-49 1-94 1-5 1-11 1 5 1-17 1 53 1-25 1-1 1 44 1 21 1 3 1-18 1-13 1 15 1-29 1-10 1 20 1-12 1 16 1-1 1 43 1-74 1-25 1-15 1-19 1-30 1 11 1-20 1 45 1-45 1-1 1-40 1 67 1-6 1-47 1-34 1-29 1 51 1-30 1 29 1 34 1-6 1 49 1 41 1 33 1 12 1 4 1-51 1 38 1-1 1 10 1-30 1-25 1 28 1 9 1 58 1-20 1 42 1-61 1 22 1 1 1-39 1 29 1-6 1-3 1 1 1 19 1-1 1-3 1-23 1 3 1 9 1-75 1-19 1-47 1 23 1-12 1-24 1 10 1-4 1-6 1 12 1-17 1 4 1-9 1 9 1 14 1-36 1-15 1-2 1-112 1 45 1-2 1 0 1 17 1 24 1 27 1-51 1-15 1-31 1 36 1 16 1 58 1 84 1-16 1-42 1-9 1 11 1 45 1 23 1-80"/><path d="M0 0l1 8 1-9 1-34 1-10 1 1 1-12 1-17 1-10 1-25 1-55 1 56 1 10 1 4 1 36 1 21 1 30 1-16 1 12 1 29 1-5 1-25 1-22 1-23 1 60 1-23 1 19 1 14 1 72 1-14 1-13 1-57 1 28 1 18 1 17 1-20 1 6 1 22 1-15 1-7 1-5 1-11 1 38 1 52 1-49 1-19 1-21 1-13 1-5 1 28 1-39 1-19 1-46 1-5 1 14 1-18 1 14 1 12 1-44 1-22 1-49 1 10 1 13 1 43 1 21 1 5 1 14 1 43 1-11 1-28 1-22 1-10 1 42 1-13 1-1 1 1 1 42 1 15 1 13 1 33 1 30 1-2 1 16 1 25 1 4 1 7 1 34 1-44 1 0 1-43 1-51 1 31 1 8 1-35 1 5 1-8 1-10 1-62 1 47 1-24 1 25 1-57 1-35 1 11 1-11 1 42 1 29 1-23 1-15 1 22 1 52 1 43 1 11 1 14 1-14 1-9 1-18 1 51 1 38 1 0 1 12 1 15 1-35 1 0 1 6 1 30 1 37 1 4 1 47 1 18 1-46 1-53 1-44 1-6 1-6 1-35 1 15 1-30 1-13 1 17 1-9 1 57 1 7 1 20 1-45 1-25 1-8 1-15 1 28 1 56 1-4 1 28 1 10 1 9 1-43 1 3 1 31 1 26 1 27 1 34 1 27 1-26 1 19 1-23 1 14 1-15 1-74 1-5 1-24 1 17 1 8 1-11 1-54 1 27 1-18 1-19 1 10 1 1 1 27 1-11 1-15 1-15 1 7 1-39 1-22 1-8 1-12 1 1 1 39 1 10 1-10 1 17 1-10 1-9 1-24 1 25 1-38 1 8 1-79 1-32 1-32 1-13 1 22 1 6 1 37 1 4 1-39 1-8 1 33 1-74 1 12 1 20 1-14 1 5 1-2 1-93 1 54 1 18 1-13 1-44 1-52 1-4 1 6 1 5 1 4 1 56 1-18 1-5 1-22 1 14 1-2 1-44 1-4 1 14 1-49 1-66 1-48 1-20 1-2 1-59 1 3 1-12 1 8 1 9 1 11 1-61 1 19 1 64 1 8 1 6 1 2 1 14 1 15"/><path d="M0 0l1-42 1-10 1-52 1-14 1 21 1-19 1 31 1-32 1-27 1-36 1 36 1 44 1 9 1-43 1-36 1 23 1 22 1 26 1-17 1-4 1 3 1-20 1 20 1 16 1 8 1-34 1 12 1-4 1 44 1 6 1 8 1 6 1-34 1-17 1-3 1 17 1 41 1-18 1-18 1 0 1-4 1-66 1-30 1-77 1 10 1-25 1-18 1-2 1-8 1-13 1-89 1-18 1-29 1-10 1 8 1-6 1-21 1 12 1 12 1 21 1 43 1-15 1 7 1 38 1 48 1-2 1 29 1-9 1 21 1 30 1-11 1 24 1 8 1-12 1-8 1 11 1-5 1-14 1 14 1 13 1-27 1-44 1 40 1 30 1 27 1-15 1-10 1-18 1 35 1-21 1-59 1 27 1-6 1-26 1 18 1-6 1 14 1 16 1-29 1 28 1-13 1 36 1-17 1 66 1-13 1 50 1-26 1-12 1 12 1-33 1-7 1 47 1 23 1 10 1 23 1-11 1 44 1 1 1-12 1-17 1 29 1 20 1-17 1-9 1 11 1-39 1 18 1-29 1 52 1-38 1-13 1-22 1-14 1-56 1-5 1 40 1-50 1-22 1 14 1-30 1 34 1 23 1-34 1-17 1-20 1-31 1 18 1-23 1 34 1-5 1-1 1-30 1-3 1-4 1 36 1 19 1 10 1 3 1-91 1 21 1 7 1 0 1 40 1 6 1 11 1 2 1 14 1-48 1-21 1-71 1 33 1-59 1 14 1 19 1-31 1 17 1-2 1 20 1 0 1-45 1-74 1-4 1 44 1-30 1 44 1 6 1 31 1 15 1 4 1-18 1 0 1-55 1-23 1-43 1-33 1 4 1-15 1-18 1-44 1-22 1-42 1-22 1-25 1-60 1-30 1 22 1-43 1-4 1 28 1 13 1 29 1 7 1-1 1-21 1-33 1 32 1-23 1-47 1-91 1-72 1 7 1 61 1 0 1 55 1-15 1-10 1-34 1-73 1 19 1-11 1-40 1-17 1-14 1 53 1 1 1 14 1-32 1-25 1 12 1-25 1-14 1 6 1 3 1-26 1-32 1 40 1 37 1 41 1-33 1 6 1-105 1 33"/><path d="M0 0l1 17 1 51 1-16 1 5 1 19 1-42 1-37 1-17 1-7 1 40 1 36 1 50 1 59 1 16 1 24 1-15 1 18 1 11 1-1 1-43 1 25 1-44 1-13 1 47 1-12 1-19 1-16 1 92 1-11 1-19 1 14 1-24 1-38 1-57 1-13 1-22 1-6 1 14 1 6 1 3 1-17 1 57 1 86 1 24 1 19 1 9 1-7 1 1 1-1 1-58 1 41 1-36 1-31 1-40 1 6 1-3 1 5 1-39 1-3 1-38 1-30 1-4 1-10 1-15 1 11 1 14 1-39 1 21 1-4 1-51 1 10 1 26 1 37 1 43 1-12 1 0 1-47 1 69 1 3 1 17 1 6 1-24 1-12 1 15 1-72 1-17 1 19 1 5 1-19 1 19 1-20 1 44 1-25 1 20 1-11 1 24 1-27 1-35 1 30 1 17 1-7 1-35 1-27 1-48 1 29 1 12 1 20 1 17 1 56 1 28 1-6 1 46 1-23 1 14 1 0 1-40 1 12 1 25 1-17 1-27 1-49 1 2 1 9 1 25 1-10 1 62 1 7 1 21 1-30 1-23 1 19 1-15 1 16 1 20 1 7 1 36 1 24 1-10 1-5 1 13 1-22 1-24 1 51 1 43 1-5 1-46 1-6 1-43 1 9 1 15 1 28 1-6 1 26 1 3 1-10 1-4 1-8 1 15 1-32 1 13 1 12 1 31 1 36 1-13 1 18 1-24 1 9 1-20 1 14 1 3 1-32 1 33 1 2 1-2 1-1 1 30 1-20 1-10 1-28 1 7 1 21 1 7 1-47 1-37 1-51 1 43 1 42 1 5 1-1 1 92 1-2 1-51 1-39 1-49 1-52 1-23 1 33 1-3 1-2 1-48 1-15 1-19 1 7 1-7 1-21 1 35 1-10 1 31 1-45 1-10 1 0 1-17 1-80 1-69 1-8 1 48 1 9 1-43 1 40 1 2 1 21 1 35 1 18 1-16 1-14 1-14 1 19 1-17 1 34 1-36 1-13 1 19 1-49 1-13 1 31 1-56 1-2 1 4 1 28 1 64 1-18 1-41 1 10 1-41 1 15 1-55 1 13 1 30 1-2 1 10 1-59 1-13"/><path d="M0 0l1-47 1-29 1 12 1 54 1 11 1 31 1 49 1 31 1 4 1 31 1-6 1-26 1 13 1 60 1-2 1-40 1 15 1-15 1 25 1 23 1 30 1-6 1 62 1 10 1 9 1 8 1-6 1-57 1-30 1 21 1-46 1-10 1-27 1 16 1 18 1 27 1 19 1 27 1 14 1 16 1-4 1 14 1 23 1-25 1 24 1 68 1 7 1 11 1-50 1-10 1-4 1-53 1 10 1-12 1-48 1 23 1-13 1-15 1-28 1-62 1-30 1-23 1-18 1 1 1-15 1 3 1-73 1-76 1 3 1 1 1 31 1 5 1 59 1 14 1-10 1-10 1-14 1 11 1 2 1-6 1-26 1 29 1-54 1 23 1 10 1-3 1-47 1-27 1-9 1-14 1-10 1 25 1-50 1-72 1-7 1 33 1-29 1-56 1 7 1-30 1-21 1 68 1 8 1-12 1 4 1-18 1-20 1 40 1-19 1-35 1-16 1-23 1 24 1-15 1 8 1-19 1-19 1-25 1 43 1 38 1 45 1-25 1 11 1 44 1 14 1 10 1-8 1-18 1-14 1 15 1 8 1 31 1 10 1 34 1-34 1-9 1-20 1-21 1 9 1-29 1-44 1 7 1-2 1-65 1 29 1-14 1-11 1 5 1 26 1-16 1 27 1 21 1-37 1 38 1-49 1 27 1 35 1 4 1-26 1-15 1-43 1 17 1 18 1-17 1-3 1-6 1-26 1-1 1 47 1 69 1 1 1-52 1-8 1 6 1-70 1-12 1 4 1 4 1-1 1-30 1 14 1 2 1 10 1-13 1 13 1 34 1-2 1-50 1 27 1-4 1 9 1-46 1-6 1 2 1 49 1 31 1-3 1-21 1 45 1 40 1 32 1-14 1 8 1 49 1 51 1 21 1-33 1-8 1 28 1 5 1 32 1-16 1 20 1-31 1-9 1-46 1 23 1 5 1-20 1-62 1 30 1 15 1-92 1-8 1 0 1-7 1 38 1 37 1-11 1-13 1 2 1-55 1 2 1-28 1-12 1 5 1-28 1-20 1-5 1 27 1-22 1-9 1 25 1-75 1 31 1 55 1-18 1-6 1 20 1-18 1 15 1 24"/></g>
</g>
<g><text x="153.0" y="49.4" font-size="37.37" text-anchor="start" font-weight="bold" fill="#e9e9f6" >Trajectoires simulées : action CHOCOLATINA</text><text x="162.0" y="90.6" font-size="37.13" text-anchor="start" font-weight="bold" fill="#e9e9f6" >VS portefeuille diversifié (CHOCOLATINA, MICHELINA, SKINCAREA)</text><text x="150.5" y="137.0" font-size="31.3" text-anchor="start" font-weight="normal" fill="#e9e9f6" >Simulation Monte Carlo (n = 100, GBM) — actif seul vs portefeuille équipondéré (3 actifs indépendants)</text><text x="136.6" y="457.5" font-size="24.8" text-anchor="end" font-weight="normal" fill="#f1edf9" >120</text><text x="136.6" y="784.7" font-size="24.8" text-anchor="end" font-weight="normal" fill="#f1edf9" >100</text><text x="136.6" y="1111.9" font-size="24.8" text-anchor="end" font-weight="normal" fill="#f1edf9" >80</text><text x="230.15" y="1228.2" font-size="24.8" text-anchor="middle" font-weight="normal" fill="#f1edf9" >0.00</text><text x="621.35" y="1228.2" font-size="24.8" text-anchor="middle" font-weight="normal" fill="#f1edf9" >0.25</text><text x="1011.3" y="1228.2" font-size="24.8" text-anchor="middle" font-weight="normal" fill="#f1edf9" >0.50</text><text x="1402.45" y="1228.2" font-size="24.8" text-anchor="middle" font-weight="normal" fill="#f1edf9" >0.75</text><text x="1793.5" y="1228.2" font-size="24.8" text-anchor="middle" font-weight="normal" fill="#f1edf9" >1.00</text><text x="1010.9" y="1264" font-size="31.4" text-anchor="middle" font-weight="normal" fill="#f1edf9" >Temps (années)</text><text transform="translate(82,675.4) rotate(-90)" font-size="30.3" text-anchor="middle" fill="#f1edf9">Prix</text><rect x="586.9" y="1325.5" width="23.6" height="9.3" fill="#c3b2d7" stroke="#d3c8e4" stroke-width="1"/><rect x="914.6" y="1325.5" width="24.1" height="9.3" fill="#dd4747" stroke="#e94e42" stroke-width="1"/><text x="629.0" y="1341.3" font-size="24.54" text-anchor="start" font-weight="normal" fill="#f1edf9" >Actif seul (non diversifié)</text><text x="957.1" y="1341.3" font-size="24.65" text-anchor="start" font-weight="normal" fill="#f1edf9" >Portefeuille diversifié (3 actifs indépendants)</text><line x1="154.7" y1="1365.0" x2="1763.1" y2="1362.7" stroke="#ffffff" stroke-width="2.2"/></g>
</svg>
<div class="cl" style="top:1381.5px;word-spacing:2.88px">Figure 2 Trajectoires simulées sous R d’un actif seul et d’un portefeuille équipondéré composé de trois actifs indépendants (CHOCOLATINA, MICHELINA, SKINCAREA), suivant un mouvement brownien</div><div class="cl" style="top:1407.3px;word-spacing:0.78px">géométrique (GBM). Les paramètres sont S0 = 100, mu = 0,05, sigma = 0,10, avec un horizon T = 1 an discrétisé en N = 252 pas (dt = 1/252). Un total de 100 trajectoires est simulé pour chaque actif ; les actifs du</div><div class="cl" style="top:1433.1px;word-spacing:3.51px">portefeuille sont générés de manière indépendante. Le portefeuille est défini comme la moyenne des trois actifs. Les simulations sont réalisées avec des graines fixées (seed = 124 et 120) afin d’assurer la</div><div class="cl" style="top:1458.9px;word-spacing:0px">reproductibilité.</div>
</body></html>
